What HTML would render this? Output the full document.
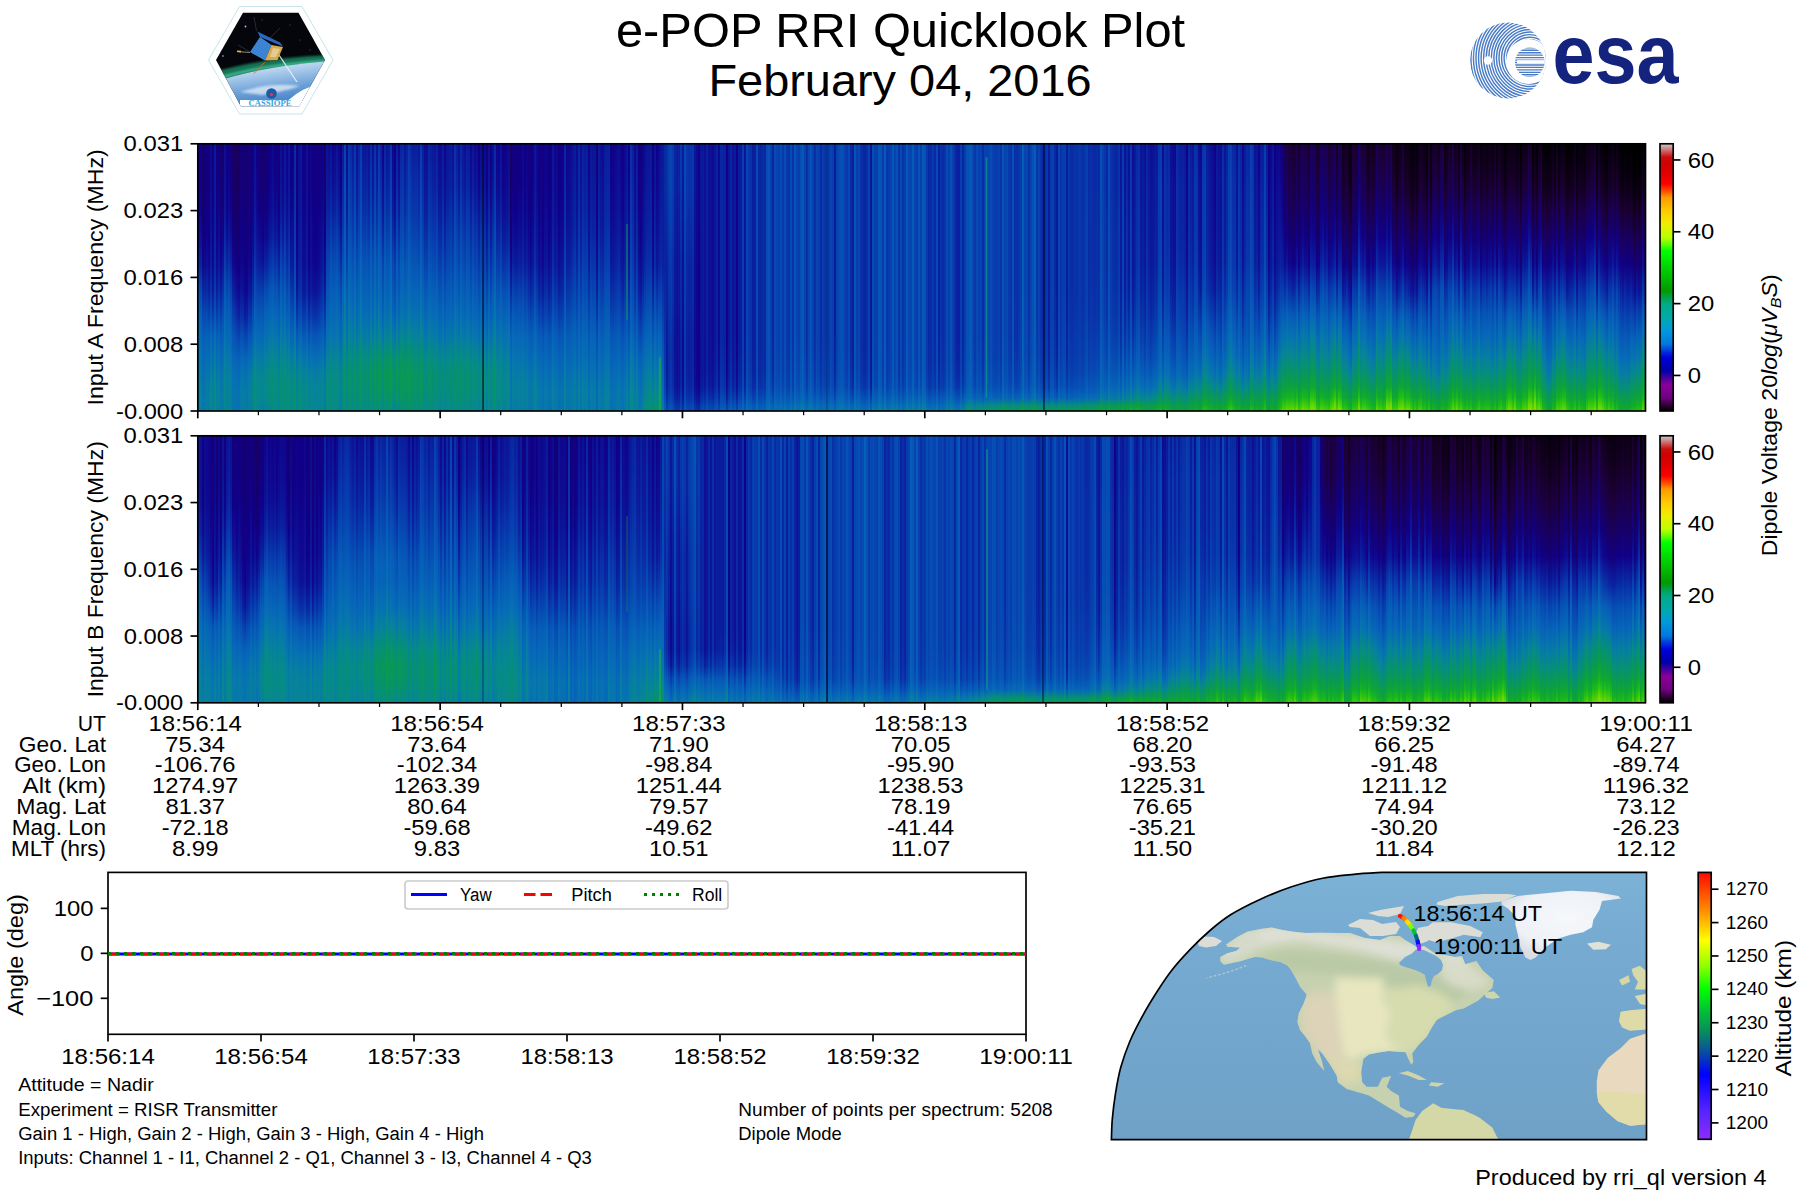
<!DOCTYPE html>
<html><head><meta charset="utf-8"><title>e-POP RRI Quicklook Plot</title><style>html,body{margin:0;padding:0;background:#fff;overflow:hidden;width:1800px;height:1200px;}#pg{position:relative;width:1800px;height:1200px;background:#fff;}.sp{position:absolute;overflow:hidden;}.sp i{position:absolute;top:0;bottom:0;display:block;}svg{position:absolute;left:0;top:0;display:block;}text{font-family:"Liberation Sans",sans-serif;}</style></head><body><div id="pg"><div class="sp" style="left:197.8px;top:143.8px;width:1447.7px;height:267.2px"><i style="left:0.0px;width:2.5px;background:linear-gradient(#100088,#100088 8%,#100088 16%,#10028b 25%,#0d0f93 35%,#0926a2 45%,#064eb4 55%,#0661b8 64%,#066cb5 72%,#0675af 80%,#067aa7 86%,#067ea2 91%,#067fa0 95%,#067fa0 98%,#067fa0)"></i><i style="left:2.0px;width:2.5px;background:linear-gradient(#10008a,#10008a 8%,#10018a 16%,#0f048d 25%,#0d1094 35%,#0924a1 45%,#0649b2 55%,#065fb8 64%,#066cb6 72%,#0675af 80%,#067ba6 86%,#067fa0 91%,#06819e 95%,#06819e 98%,#06819e)"></i><i style="left:4.0px;width:2.5px;background:linear-gradient(#16006b,#16006b 8%,#16006c 16%,#150070 25%,#12007d 35%,#0f078e 45%,#0928a3 55%,#0649b2 64%,#065fb8 72%,#0667b8 80%,#066eb4 86%,#0672b1 91%,#0674b0 95%,#0674b0 98%,#0674b0)"></i><i style="left:6.0px;width:2.5px;background:linear-gradient(#140074,#140074 8%,#140075 16%,#130079 25%,#110085 35%,#0e0b91 45%,#0929a3 55%,#064ab2 64%,#0660b8 72%,#066ab7 80%,#0672b2 86%,#0676ad 91%,#0678aa 95%,#0678aa 98%,#0678aa)"></i><i style="left:8.0px;width:2.5px;background:linear-gradient(#12007e,#12007e 8%,#12007f 16%,#110083 25%,#0f038c 35%,#0d0f94 45%,#092ba4 55%,#064bb3 64%,#0662b8 72%,#066db4 80%,#0676ae 86%,#067ba6 91%,#067da4 95%,#067da4 98%,#067da4)"></i><i style="left:10.0px;width:2.5px;background:linear-gradient(#13007b,#13007b 8%,#13007c 16%,#120080 25%,#100089 35%,#0e0990 45%,#0a209e 55%,#0743b0 64%,#0660b8 72%,#066bb6 80%,#0674b0 86%,#067aa8 91%,#067ca5 95%,#067ca5 98%,#067ca5)"></i><i style="left:12.0px;width:2.5px;background:linear-gradient(#0e0a90,#0e0a90 8%,#0e0a91 16%,#0d0e93 25%,#0c1396 35%,#0a1b9b 45%,#0833a9 55%,#0650b5 64%,#0668b8 72%,#0676ad 80%,#067fa0 86%,#068596 91%,#068791 95%,#068791 98%,#068791)"></i><i style="left:14.0px;width:2.5px;background:linear-gradient(#110084,#110084 8%,#110085 16%,#100089 25%,#0f048c 35%,#0e0990 45%,#0b199a 55%,#083dae 64%,#065fb8 72%,#066db5 80%,#0677ab 86%,#067ea2 91%,#06809e 95%,#06809e 98%,#06809e)"></i><i style="left:16.0px;width:2.5px;background:linear-gradient(#0b199a,#0b199a 8%,#0a1a9b 16%,#0a1e9d 25%,#0923a0 35%,#0929a4 45%,#083cad 55%,#0656b6 64%,#066db4 72%,#067da3 80%,#068692 86%,#068b86 91%,#068c82 95%,#068c82 98%,#068c82)"></i><i style="left:18.0px;width:2.5px;background:linear-gradient(#12007d,#12007e 8%,#12007f 16%,#110084 25%,#10028b 35%,#0e0a90 45%,#0a1c9c 55%,#073eae 64%,#065fb8 72%,#066cb5 80%,#0676ad 86%,#067ca5 91%,#067ea1 95%,#067ea1 98%,#067ea1)"></i><i style="left:20.0px;width:2.5px;background:linear-gradient(#100088,#100089 8%,#10018b 16%,#0f068e 25%,#0d0e93 35%,#0b189a 45%,#0931a8 55%,#064eb4 64%,#0664b8 72%,#0672b1 80%,#067ca5 86%,#06819d 91%,#068399 95%,#068399 98%,#068399)"></i><i style="left:22.0px;width:2.5px;background:linear-gradient(#16006a,#16006c 8%,#15006e 16%,#140075 25%,#120081 35%,#0f078e 45%,#0a1e9d 55%,#073faf 64%,#065bb7 72%,#0668b8 80%,#0670b2 86%,#0675ae 91%,#0677ab 95%,#0677ab 98%,#0677ab)"></i><i style="left:24.0px;width:2.5px;background:linear-gradient(#140074,#140076 8%,#130079 16%,#120081 25%,#0f048d 35%,#0c1597 45%,#0832a9 55%,#064eb4 64%,#0661b8 72%,#066db4 80%,#0676ae 86%,#067aa7 91%,#067ca5 95%,#067ca5 98%,#067ca5)"></i><i style="left:26.0px;width:2.5px;background:linear-gradient(#0d0d92,#0d1094 8%,#0c1396 16%,#0b199a 25%,#0928a3 35%,#073eae 45%,#0656b6 55%,#0665b8 64%,#0673b1 72%,#067fa0 80%,#068693 86%,#06898c 91%,#068a89 95%,#068a89 98%,#068a89)"></i><i style="left:28.0px;width:2.5px;background:linear-gradient(#13007a,#12007e 8%,#110082 16%,#10018a 25%,#0d0f94 35%,#0928a3 45%,#0748b2 55%,#065db8 64%,#0667b8 72%,#0673b1 80%,#067ba7 86%,#067ea2 91%,#067fa0 95%,#067fa0 98%,#067fa0)"></i><i style="left:30.0px;width:2.5px;background:linear-gradient(#100088,#10018b 8%,#0f058d 16%,#0e0b91 25%,#0b199a 35%,#0832a8 45%,#064eb4 55%,#0660b8 64%,#066bb6 72%,#0678ab 80%,#06809f 86%,#068399 91%,#068496 95%,#068496 98%,#068496)"></i><i style="left:32.0px;width:2.5px;background:linear-gradient(#120081,#110084 8%,#100087 16%,#0f048d 25%,#0c1195 35%,#0925a1 45%,#0742b0 55%,#0658b6 64%,#0665b8 72%,#0673b1 80%,#067ca5 86%,#06809f 91%,#06819c 95%,#06819c 98%,#06819c)"></i><i style="left:34.0px;width:2.5px;background:linear-gradient(#170066,#160068 8%,#16006b 16%,#140072 25%,#120081 35%,#0e0a90 45%,#0a23a0 55%,#0740af 64%,#0656b6 72%,#0666b8 80%,#0670b3 86%,#0674b0 91%,#0676ad 95%,#0676ad 98%,#0676ad)"></i><i style="left:36.0px;width:2.5px;background:linear-gradient(#170065,#170067 8%,#160069 16%,#150070 25%,#12007d 35%,#0f048d 45%,#0a1a9b 55%,#0838ac 64%,#0652b5 72%,#0665b8 80%,#066eb4 86%,#0673b1 91%,#0675ae 95%,#0675ae 98%,#0675ae)"></i><i style="left:38.0px;width:2.5px;background:linear-gradient(#19005f,#180060 8%,#180062 16%,#160069 25%,#140074 35%,#110084 45%,#0d0f94 55%,#092aa4 64%,#0649b2 72%,#0661b8 80%,#066bb6 86%,#0670b3 91%,#0672b1 95%,#0672b1 98%,#0672b1)"></i><i style="left:40.0px;width:2.5px;background:linear-gradient(#18005f,#180061 8%,#180062 16%,#170068 25%,#150072 35%,#12007f 45%,#0e0990 55%,#0a229f 64%,#0744b0 72%,#0660b8 80%,#066ab6 86%,#0670b3 91%,#0672b1 95%,#0672b1 98%,#0672b1)"></i><i style="left:42.0px;width:2.5px;background:linear-gradient(#140075,#140076 8%,#130078 16%,#12007d 25%,#110085 35%,#0f058d 45%,#0c1497 55%,#092fa7 64%,#064fb4 72%,#0666b8 80%,#0673b1 86%,#0679a9 91%,#067ba6 95%,#067ba6 98%,#067ba6)"></i><i style="left:44.0px;width:2.5px;background:linear-gradient(#13007c,#12007d 8%,#12007e 16%,#110082 25%,#100089 35%,#0f058d 45%,#0c1396 55%,#092da6 64%,#064fb4 72%,#0667b8 80%,#0675af 86%,#067ba6 91%,#067ea2 95%,#067ea2 98%,#067ea2)"></i><i style="left:46.0px;width:2.5px;background:linear-gradient(#140073,#140073 8%,#140074 16%,#130078 25%,#12007d 35%,#110082 45%,#0f068e 55%,#0a1c9c 64%,#0743b0 72%,#0663b8 80%,#0670b2 86%,#0677ac 91%,#067aa8 95%,#067aa8 98%,#067aa8)"></i><i style="left:48.0px;width:2.5px;background:linear-gradient(#15006f,#15006f 8%,#150070 16%,#140075 25%,#13007b 35%,#110082 45%,#0e078f 55%,#0a209e 64%,#0745b1 72%,#0664b8 80%,#0671b2 86%,#0677ac 91%,#0679a8 95%,#0679a9 98%,#0679a9)"></i><i style="left:50.0px;width:2.5px;background:linear-gradient(#13007b,#13007c 8%,#12007d 16%,#110082 25%,#10008a 35%,#0e078f 45%,#0b1899 55%,#0835aa 64%,#0654b5 72%,#066bb6 80%,#0679aa 86%,#067fa1 91%,#06809e 95%,#067fa0 98%,#067fa1)"></i><i style="left:52.0px;width:2.5px;background:linear-gradient(#150071,#140072 8%,#140074 16%,#13007a 25%,#110083 35%,#0f048c 45%,#0b1698 55%,#0835aa 64%,#0653b5 72%,#066ab7 80%,#0677ac 86%,#067da4 91%,#067ea2 95%,#067ca4 98%,#067ba5)"></i><i style="left:54.0px;width:2.5px;background:linear-gradient(#110083,#110084 8%,#110086 16%,#10028b 25%,#0e0a90 35%,#0c1597 45%,#092ea6 55%,#064ab3 64%,#0661b8 72%,#0674b0 80%,#06819e 86%,#068594 91%,#068693 95%,#068496 98%,#068399)"></i><i style="left:56.0px;width:2.5px;background:linear-gradient(#0c1095,#0c1296 8%,#0c1497 16%,#0b199a 25%,#0923a0 35%,#0834a9 45%,#064cb3 55%,#0660b8 64%,#066fb3 72%,#06839a 80%,#068c84 86%,#068e7b 91%,#068e7b 95%,#068d7f 98%,#068c82)"></i><i style="left:58.0px;width:2.5px;background:linear-gradient(#100089,#10018b 8%,#0f038c 16%,#0e088f 25%,#0c1396 35%,#0a23a0 45%,#0741af 55%,#065ab7 64%,#066ab7 72%,#067da4 80%,#068790 86%,#068b88 91%,#068a88 95%,#06888e 98%,#068791)"></i><i style="left:60.0px;width:2.5px;background:linear-gradient(#13007c,#12007e 8%,#120082 16%,#100089 25%,#0e0b91 35%,#0a1b9c 45%,#073eae 55%,#0658b6 64%,#0668b8 72%,#067ba7 80%,#068595 86%,#06888e 91%,#06888f 95%,#068595 98%,#068399)"></i><i style="left:62.0px;width:2.5px;background:linear-gradient(#140075,#130078 8%,#13007b 16%,#110083 25%,#0e088f 35%,#0a1a9b 45%,#073faf 55%,#065ab7 64%,#0669b7 72%,#067ba6 80%,#068496 86%,#06888f 91%,#068791 95%,#068398 98%,#06819c)"></i><i style="left:64.0px;width:2.5px;background:linear-gradient(#170066,#160069 8%,#16006d 16%,#140075 25%,#110087 35%,#0c1296 45%,#083aad 55%,#0657b6 64%,#0667b8 72%,#0677ab 80%,#06819d 86%,#068496 91%,#068399 95%,#067fa0 98%,#067ca5)"></i><i style="left:66.0px;width:2.5px;background:linear-gradient(#140074,#130078 8%,#12007c 16%,#110085 25%,#0e0b91 35%,#0a23a0 45%,#064cb3 55%,#0662b8 64%,#0671b2 72%,#06819e 80%,#06888d 86%,#068b87 91%,#068a8b 95%,#068594 98%,#06839a)"></i><i style="left:68.0px;width:2.5px;background:linear-gradient(#150071,#140075 8%,#130079 16%,#110082 25%,#0e0990 35%,#0a209e 45%,#0649b2 55%,#0661b8 64%,#066fb3 72%,#067fa0 80%,#068790 86%,#068a8a 91%,#06888e 95%,#068496 98%,#06819c)"></i><i style="left:70.0px;width:2.5px;background:linear-gradient(#120080,#110084 8%,#100088 16%,#0f068e 25%,#0c1497 35%,#092fa7 45%,#0652b5 55%,#0665b8 64%,#0675af 72%,#068497 80%,#068b86 86%,#068d80 91%,#068c83 95%,#06898c 98%,#068791)"></i><i style="left:72.0px;width:2.5px;background:linear-gradient(#10008a,#0f038c 8%,#0f068e 16%,#0d0d92 25%,#0a1c9c 35%,#0838ac 45%,#0657b6 55%,#0668b8 64%,#0678ab 72%,#068691 80%,#068d81 86%,#068e7b 91%,#068d7d 95%,#068b85 98%,#068a8a)"></i><i style="left:74.0px;width:2.5px;background:linear-gradient(#0f078e,#0e0a90 8%,#0d0d92 16%,#0c1497 25%,#0924a1 35%,#073fae 45%,#065bb7 55%,#066bb6 64%,#067ba6 72%,#06898c 80%,#068e7b 86%,#069075 91%,#068f77 95%,#068d7f 98%,#068c83)"></i><i style="left:76.0px;width:2.5px;background:linear-gradient(#110084,#100088 8%,#10028b 16%,#0e0990 25%,#0b1899 35%,#0833a9 45%,#0653b5 55%,#0665b8 64%,#0674b0 72%,#068498 80%,#068b87 86%,#068c81 91%,#068c83 95%,#068a8a 98%,#06888e)"></i><i style="left:78.0px;width:2.5px;background:linear-gradient(#100089,#10028b 8%,#0f058d 16%,#0d0c92 25%,#0a1b9b 35%,#0837ab 45%,#0654b6 55%,#0666b8 64%,#0675ae 72%,#068496 80%,#068b85 86%,#068d7f 91%,#068d81 95%,#068b87 98%,#068a8b)"></i><i style="left:80.0px;width:2.5px;background:linear-gradient(#140073,#130077 8%,#13007c 16%,#110084 25%,#0e0b91 35%,#0a22a0 45%,#0746b1 55%,#065eb8 64%,#066cb5 72%,#067ca5 80%,#068496 86%,#068790 91%,#068791 95%,#068497 98%,#06829a)"></i><i style="left:82.0px;width:2.5px;background:linear-gradient(#0d0f94,#0c1296 8%,#0b1598 16%,#0a1c9c 25%,#092fa7 35%,#0747b1 45%,#065eb8 55%,#066cb5 64%,#067ca4 72%,#068a89 80%,#068f78 86%,#069172 91%,#069073 95%,#068f78 98%,#068e7b)"></i><i style="left:84.0px;width:2.5px;background:linear-gradient(#10028b,#0f048d 8%,#0e088f 16%,#0d0e93 25%,#0a1d9d 35%,#0838ac 45%,#0653b5 55%,#0664b8 64%,#0674b0 72%,#068398 80%,#068b87 86%,#068d81 91%,#068c81 95%,#068b86 98%,#068a89)"></i><i style="left:86.0px;width:2.5px;background:linear-gradient(#0b1698,#0b199a 8%,#0a1c9c 16%,#0924a0 25%,#0834aa 35%,#0748b2 45%,#065db8 55%,#066bb6 64%,#067ca5 72%,#068b88 80%,#069075 86%,#07926e 91%,#07926e 95%,#069072 98%,#069075)"></i><i style="left:88.0px;width:2.5px;background:linear-gradient(#0f028c,#0f058d 8%,#0e078f 16%,#0d0d92 25%,#0b199a 35%,#092ea6 45%,#0748b2 55%,#065eb8 64%,#066eb4 72%,#06809f 80%,#06898c 86%,#068c84 91%,#068c83 95%,#068b87 98%,#068a89)"></i><i style="left:90.0px;width:2.5px;background:linear-gradient(#0c1497,#0b1598 8%,#0b1899 16%,#0a1d9d 25%,#092ba4 35%,#083dae 45%,#0652b5 55%,#0663b8 64%,#0674b0 72%,#068692 80%,#068d7e 86%,#069075 91%,#069074 95%,#068f77 98%,#068f79)"></i><i style="left:92.0px;width:2.5px;background:linear-gradient(#110087,#100089 8%,#10018b 16%,#0f068e 25%,#0d1094 35%,#0a1d9d 45%,#0837ac 55%,#0652b5 64%,#0666b8 72%,#067aa8 80%,#068595 86%,#06898d 91%,#068a8b 95%,#06888d 98%,#06888f)"></i><i style="left:94.0px;width:2.5px;background:linear-gradient(#10008a,#10018b 8%,#0f038c 16%,#0e088f 25%,#0d1094 35%,#0a1b9b 45%,#0832a9 55%,#064eb4 64%,#0665b8 72%,#0679a9 80%,#068496 86%,#06898d 91%,#068a8a 95%,#06898c 98%,#06898d)"></i><i style="left:96.0px;width:2.5px;background:linear-gradient(#092ba4,#092ca5 8%,#092da6 16%,#0833a9 25%,#083bad 35%,#0744b0 45%,#0652b5 55%,#0663b8 64%,#0676ad 72%,#068a8a 80%,#069072 86%,#079368 91%,#079465 95%,#079466 98%,#079467)"></i><i style="left:98.0px;width:2.5px;background:linear-gradient(#12007d,#12007e 8%,#12007f 16%,#110084 25%,#10018b 35%,#0e098f 45%,#0b1799 55%,#0837ac 64%,#065ab7 72%,#066fb3 80%,#067da3 86%,#06839a 91%,#068496 95%,#068497 98%,#068497)"></i><i style="left:100.0px;width:2.5px;background:linear-gradient(#0d0d93,#0d0e93 8%,#0d0e93 16%,#0c1295 25%,#0b1698 35%,#0a1b9b 45%,#092ba4 55%,#0747b2 64%,#0663b8 72%,#0679a8 80%,#068691 86%,#068b86 91%,#068c81 95%,#068c82 98%,#068c82)"></i><i style="left:102.0px;width:2.5px;background:linear-gradient(#0b1799,#0b1799 8%,#0b1799 16%,#0a1a9b 25%,#0a1f9e 35%,#0923a0 45%,#0832a8 55%,#064db3 64%,#0666b8 72%,#067da3 80%,#068a8a 86%,#068d7e 91%,#068f79 95%,#068f79 98%,#068f79)"></i><i style="left:104.0px;width:2.5px;background:linear-gradient(#10018a,#10018a 8%,#10018b 16%,#0f048d 25%,#0e088f 35%,#0d0c92 45%,#0b1899 55%,#0837ab 64%,#065ab7 72%,#0671b2 80%,#06809f 86%,#068693 91%,#06888f 95%,#06888f 98%,#06888f)"></i><i style="left:106.0px;width:2.5px;background:linear-gradient(#10018a,#10018a 8%,#10018b 16%,#0f048d 25%,#0e088f 35%,#0d0c92 45%,#0b1899 55%,#0838ac 64%,#065ab7 72%,#0671b2 80%,#06809f 86%,#068693 91%,#06888f 95%,#06888f 98%,#06888f)"></i><i style="left:108.0px;width:2.5px;background:linear-gradient(#0d0f94,#0d0f94 8%,#0d1094 16%,#0c1396 25%,#0b1799 35%,#0a1a9b 45%,#092aa4 55%,#0747b1 64%,#0662b8 72%,#0679a9 80%,#068791 86%,#068b85 91%,#068d80 95%,#068d80 98%,#068d80)"></i><i style="left:110.0px;width:2.5px;background:linear-gradient(#12007e,#12007e 8%,#12007e 16%,#110083 25%,#100088 35%,#10028b 45%,#0d0f94 55%,#092ca5 64%,#0653b5 72%,#066cb5 80%,#067ba7 86%,#06819d 91%,#068398 95%,#068398 98%,#068398)"></i><i style="left:112.0px;width:2.5px;background:linear-gradient(#0f048d,#0f048d 8%,#0f058d 16%,#0e088f 25%,#0d0c92 35%,#0d1094 45%,#0a1d9d 55%,#083dae 64%,#065db8 72%,#0673b0 80%,#06829b 86%,#068790 91%,#06898b 95%,#06898b 98%,#06898b)"></i><i style="left:114.0px;width:2.5px;background:linear-gradient(#110084,#110084 8%,#110085 16%,#100089 25%,#0f038c 35%,#0f078e 45%,#0c1597 55%,#0834a9 64%,#0657b6 72%,#066fb4 80%,#067da3 86%,#068398 91%,#068693 95%,#068693 98%,#068693)"></i><i style="left:116.0px;width:2.5px;background:linear-gradient(#120080,#120080 8%,#120080 16%,#110084 25%,#100089 35%,#0f038c 45%,#0c1195 55%,#092fa7 64%,#0654b6 72%,#066db5 80%,#067ba6 86%,#06829b 91%,#068497 95%,#068497 98%,#068497)"></i><i style="left:118.0px;width:2.5px;background:linear-gradient(#110082,#110082 8%,#110083 16%,#110087 25%,#10018b 35%,#0f058d 45%,#0c1497 55%,#0832a9 64%,#0656b6 72%,#066eb4 80%,#067ca4 86%,#06839a 91%,#068595 95%,#068595 98%,#068595)"></i><i style="left:120.0px;width:2.5px;background:linear-gradient(#110084,#110084 8%,#110085 16%,#10008a 25%,#0f058d 35%,#0e0a90 45%,#0b199a 55%,#0838ac 64%,#0658b7 72%,#066fb3 80%,#067ea2 86%,#068498 91%,#068693 95%,#068693 98%,#068594)"></i><i style="left:122.0px;width:2.5px;background:linear-gradient(#110083,#110085 8%,#110087 16%,#0f038c 25%,#0e0990 35%,#0c1095 45%,#0a229f 55%,#0740af 64%,#065cb8 72%,#0671b2 80%,#067fa1 86%,#068496 91%,#068693 95%,#068594 98%,#068594)"></i><i style="left:124.0px;width:2.5px;background:linear-gradient(#110087,#10008a 8%,#10028b 16%,#0e0990 25%,#0c1195 35%,#0a1b9b 45%,#0930a8 55%,#064ab3 64%,#0661b8 72%,#0675af 80%,#06829c 86%,#068692 91%,#06888f 95%,#068790 98%,#068791)"></i><i style="left:126.0px;width:2.5px;background:linear-gradient(#170066,#16006a 8%,#15006e 16%,#130078 25%,#110086 35%,#0e0990 45%,#0a1b9b 55%,#0839ac 64%,#0655b6 72%,#0669b7 80%,#0676ae 86%,#067ba6 91%,#067ca5 95%,#067ba6 98%,#067aa7)"></i><i style="left:128.0px;width:2.5px;background:linear-gradient(#0c1295,#0b1598 8%,#0b199a 16%,#0924a1 25%,#0834aa 35%,#0743b0 45%,#0654b5 55%,#0662b8 64%,#0671b2 72%,#068398 80%,#068c84 86%,#068e7b 91%,#068f79 95%,#068e7c 98%,#068d7e)"></i><i style="left:130.0px;width:2.5px;background:linear-gradient(#0d0c92,#0c1195 8%,#0b1698 16%,#0a219f 25%,#0833a9 35%,#0745b1 45%,#0656b6 55%,#0664b8 64%,#0671b2 72%,#06839a 80%,#068b86 86%,#068d7f 91%,#068d7e 95%,#068c81 98%,#068c83)"></i><i style="left:132.0px;width:2.5px;background:linear-gradient(#0c1396,#0b1899 8%,#0a1e9d 16%,#092da6 25%,#0740af 35%,#0652b5 45%,#0660b8 55%,#066ab6 64%,#0678ab 72%,#068790 80%,#068d7d 86%,#068f76 91%,#068f76 95%,#068e7a 98%,#068e7d)"></i><i style="left:134.0px;width:2.5px;background:linear-gradient(#0f038c,#0e0990 8%,#0d1094 16%,#0a1d9d 25%,#0834aa 35%,#064bb3 45%,#065cb7 55%,#0667b8 64%,#0672b1 72%,#06829b 80%,#068a8a 86%,#068c84 91%,#068b85 95%,#068a89 98%,#06898c)"></i><i style="left:136.0px;width:2.5px;background:linear-gradient(#0e088f,#0d0d93 8%,#0c1497 16%,#0a229f 25%,#0838ac 35%,#064db4 45%,#065eb8 55%,#0668b8 64%,#0674b0 72%,#068398 80%,#068b88 86%,#068c83 91%,#068c84 95%,#068a88 98%,#06898b)"></i><i style="left:138.0px;width:2.5px;background:linear-gradient(#0c1296,#0b189a 8%,#0a1f9e 16%,#092da6 25%,#0740af 35%,#0653b5 45%,#0662b8 55%,#066db5 64%,#0679a9 72%,#068790 80%,#068d7f 86%,#068e7b 91%,#068e7d 95%,#068c82 98%,#068b85)"></i><i style="left:140.0px;width:2.5px;background:linear-gradient(#0f068e,#0d0c92 8%,#0c1296 16%,#0a1d9c 25%,#0931a8 35%,#0747b1 45%,#065ab7 55%,#0666b8 64%,#0671b2 72%,#06819d 80%,#06888d 86%,#068a8a 91%,#06898c 95%,#068791 98%,#068594)"></i><i style="left:142.0px;width:2.5px;background:linear-gradient(#130079,#120081 8%,#100089 16%,#0e0990 25%,#0b1899 35%,#092fa7 45%,#064ab2 55%,#065cb7 64%,#0667b8 72%,#0676ad 80%,#067fa1 86%,#06809f 91%,#067fa1 95%,#067ca5 98%,#067aa7)"></i><i style="left:144.0px;width:2.5px;background:linear-gradient(#0b199a,#0a1f9e 8%,#0927a2 16%,#0931a8 25%,#0740af 35%,#0652b5 45%,#0662b8 55%,#066db4 64%,#0679a8 72%,#06888f 80%,#068d80 86%,#068d7f 91%,#068c81 95%,#068b86 98%,#068a89)"></i><i style="left:146.0px;width:2.5px;background:linear-gradient(#0740af,#0746b1 8%,#064cb3 16%,#0651b5 25%,#065bb7 35%,#0664b8 45%,#0672b2 55%,#067fa1 64%,#06898d 72%,#06916f 80%,#089561 86%,#089561 91%,#079464 95%,#079368 98%,#07926c)"></i><i style="left:148.0px;width:2.5px;background:linear-gradient(#0e0b91,#0c1195 8%,#0b1799 16%,#0a1e9d 25%,#092fa7 35%,#0743b0 45%,#0659b7 55%,#0665b8 64%,#0671b2 72%,#06819c 80%,#06888e 86%,#06888e 91%,#068691 95%,#068496 98%,#068399)"></i><i style="left:150.0px;width:2.5px;background:linear-gradient(#0834aa,#083bad 8%,#0741af 16%,#0748b2 25%,#0653b5 35%,#0660b8 45%,#066cb6 55%,#0679a9 64%,#068496 72%,#068f77 80%,#079368 86%,#079369 91%,#07926d 95%,#069172 98%,#069076)"></i><i style="left:152.0px;width:2.5px;background:linear-gradient(#0929a3,#0930a8 8%,#0838ac 16%,#073faf 25%,#064db4 35%,#065bb7 45%,#0667b8 55%,#0674b0 64%,#06819e 72%,#068d7f 80%,#06916f 86%,#069170 91%,#069074 95%,#068e7a 98%,#068d7e)"></i><i style="left:154.0px;width:2.5px;background:linear-gradient(#0b199a,#0a209e 8%,#0928a3 16%,#0831a8 25%,#0741af 35%,#0652b5 45%,#0661b8 55%,#066db5 64%,#067aa7 72%,#068a8a 80%,#068e7a 86%,#068e7b 91%,#068d80 95%,#068b86 98%,#068a8a)"></i><i style="left:156.0px;width:2.5px;background:linear-gradient(#0835aa,#083bad 8%,#0741af 16%,#0649b2 25%,#0655b6 35%,#0661b8 45%,#066cb5 55%,#0679a8 64%,#068693 72%,#069172 80%,#089561 86%,#089563 91%,#079368 95%,#06916f 98%,#069073)"></i><i style="left:158.0px;width:2.5px;background:linear-gradient(#0d0f94,#0b1598 8%,#0a1b9c 16%,#0925a1 25%,#0837ac 35%,#064bb3 45%,#065db8 55%,#0668b8 64%,#0675ae 72%,#068790 80%,#068d80 86%,#068c82 91%,#068b87 95%,#06888e 98%,#068692)"></i><i style="left:160.0px;width:2.5px;background:linear-gradient(#0a229f,#0929a3 8%,#0931a8 16%,#083aad 25%,#0649b2 35%,#0659b7 45%,#0665b8 55%,#0671b2 64%,#067fa0 72%,#068d7d 80%,#07926d 86%,#06916f 91%,#069075 95%,#068e7c 98%,#068d81)"></i><i style="left:162.0px;width:2.5px;background:linear-gradient(#0839ac,#073faf 8%,#0745b1 16%,#064db4 25%,#0658b7 35%,#0664b8 45%,#066fb4 55%,#067ca5 64%,#06888e 72%,#079369 80%,#09975a 86%,#08975c 91%,#089561 95%,#079368 98%,#07926d)"></i><i style="left:164.0px;width:2.5px;background:linear-gradient(#0b1799,#0a1e9d 8%,#0925a1 16%,#0930a8 25%,#0741af 35%,#0653b5 45%,#0661b8 55%,#066db5 64%,#067ba6 72%,#068c83 80%,#069172 86%,#069075 91%,#068e7c 95%,#068c83 98%,#068b88)"></i><i style="left:166.0px;width:2.5px;background:linear-gradient(#0b1698,#0a1b9c 8%,#0923a0 16%,#092ea6 25%,#0740af 35%,#0653b5 45%,#0660b8 55%,#066cb5 64%,#067aa7 72%,#068c83 80%,#069171 86%,#069075 91%,#068e7c 95%,#068c84 98%,#068a89)"></i><i style="left:168.0px;width:2.5px;background:linear-gradient(#0b199a,#0a1f9e 8%,#0927a2 16%,#0832a9 25%,#0743b0 35%,#0655b6 45%,#0662b8 55%,#066eb4 64%,#067da4 72%,#068d7e 80%,#07926c 86%,#069171 91%,#068f78 95%,#068d80 98%,#068b85)"></i><i style="left:170.0px;width:2.5px;background:linear-gradient(#0d1094,#0b1698 8%,#0a1c9c 16%,#0928a3 25%,#083bad 35%,#0650b4 45%,#065eb8 55%,#0669b7 64%,#0678aa 72%,#068b85 80%,#069073 86%,#068f77 91%,#068d7f 95%,#068b88 98%,#06898d)"></i><i style="left:172.0px;width:2.5px;background:linear-gradient(#092ba4,#0832a9 8%,#083aad 16%,#0743b0 25%,#0652b5 35%,#0660b8 45%,#0669b7 55%,#0676ad 64%,#068596 72%,#07926c 80%,#08975b 86%,#08965f 91%,#079466 95%,#06916f 98%,#069075)"></i><i style="left:174.0px;width:2.5px;background:linear-gradient(#0d0f93,#0c1597 8%,#0a1b9b 16%,#0927a2 25%,#083bad 35%,#0650b4 45%,#065eb8 55%,#0669b8 64%,#0678aa 72%,#068c83 80%,#069170 86%,#069075 91%,#068d7e 95%,#068b87 98%,#06898d)"></i><i style="left:176.0px;width:2.5px;background:linear-gradient(#0831a8,#0839ac 8%,#073faf 16%,#0649b2 25%,#0656b6 35%,#0663b8 45%,#066cb5 55%,#0679a9 64%,#06888f 72%,#089563 80%,#099955 86%,#099759 91%,#08965f 95%,#079368 98%,#07926e)"></i><i style="left:178.0px;width:2.5px;background:linear-gradient(#0c1296,#0b189a 8%,#0a1f9e 16%,#092ca5 25%,#073faf 35%,#0653b5 45%,#065fb8 55%,#066bb6 64%,#067ba6 72%,#068e7c 80%,#079368 86%,#07926e 91%,#068f77 95%,#068c82 98%,#068a89)"></i><i style="left:180.0px;width:2.5px;background:linear-gradient(#0834aa,#083bad 8%,#0741af 16%,#064bb3 25%,#0658b6 35%,#0664b8 45%,#066db4 55%,#067ba6 64%,#068a8b 72%,#08965e 80%,#0a9a51 86%,#099955 91%,#08975b 95%,#079464 98%,#07926c)"></i><i style="left:182.0px;width:2.5px;background:linear-gradient(#0a209e,#0927a2 8%,#092fa7 16%,#083bad 25%,#064bb3 35%,#065cb8 45%,#0665b8 55%,#0672b1 64%,#068399 72%,#07926c 80%,#09975a 86%,#08965e 91%,#079368 95%,#069074 98%,#068e7c)"></i><i style="left:184.0px;width:2.5px;background:linear-gradient(#10018b,#0e078f 8%,#0d0e93 16%,#0b1899 25%,#092ca5 35%,#0744b0 45%,#0654b6 55%,#0663b8 64%,#0674b0 72%,#068b87 80%,#069172 86%,#068f78 91%,#068c83 95%,#068790 98%,#068398)"></i><i style="left:186.0px;width:2.5px;background:linear-gradient(#0924a0,#092ba5 8%,#0833a9 16%,#073eae 25%,#064eb4 35%,#065eb8 45%,#0667b8 55%,#0674b0 64%,#068594 72%,#079465 80%,#099955 86%,#099759 91%,#089562 95%,#069170 98%,#068f79)"></i><i style="left:188.0px;width:2.5px;background:linear-gradient(#0c1497,#0a1a9b 8%,#0a229f 16%,#092ea6 25%,#0741af 35%,#0654b6 45%,#0660b8 55%,#066db5 64%,#067fa0 72%,#069171 80%,#08975c 86%,#089561 91%,#07926e 95%,#068e7d 98%,#068b87)"></i><i style="left:190.0px;width:2.5px;background:linear-gradient(#0b1899,#0a1e9d 8%,#0926a2 16%,#0833a9 25%,#0744b1 35%,#0657b6 45%,#0662b8 55%,#066fb3 64%,#06829c 72%,#07926b 80%,#099858 86%,#08965c 91%,#079368 95%,#068f78 98%,#068c83)"></i><i style="left:192.0px;width:2.5px;background:linear-gradient(#0832a9,#0839ad 8%,#0740af 16%,#064ab2 25%,#0657b6 35%,#0663b8 45%,#066db5 55%,#067ba6 64%,#068b86 72%,#099858 80%,#0b9d4a 86%,#0a9b4d 91%,#099856 95%,#089562 98%,#07926d)"></i><i style="left:194.0px;width:2.5px;background:linear-gradient(#0f058d,#0e0b91 8%,#0c1195 16%,#0a1b9b 25%,#0930a7 35%,#0748b2 45%,#0657b6 55%,#0666b8 64%,#0679a9 72%,#068e7b 80%,#079464 86%,#07936a 91%,#068f78 95%,#068a8a 98%,#068595)"></i><i style="left:196.0px;width:2.5px;background:linear-gradient(#120082,#10008a 8%,#0f068e 16%,#0d1094 25%,#0a229f 35%,#083dae 45%,#064fb4 55%,#0661b8 64%,#0674b0 72%,#068c84 80%,#07926c 86%,#069073 91%,#068c81 95%,#068594 98%,#0680a0)"></i><i style="left:198.0px;width:2.5px;background:linear-gradient(#0a1e9d,#0926a2 8%,#092ea6 16%,#0839ad 25%,#064ab2 35%,#065bb7 45%,#0664b8 55%,#0673b1 64%,#068594 72%,#089562 80%,#0a9952 86%,#099855 91%,#08965f 95%,#069171 98%,#068d7d)"></i><i style="left:200.0px;width:2.5px;background:linear-gradient(#0e078f,#0d0d93 8%,#0c1497 16%,#0a1e9d 25%,#0832a8 35%,#0649b2 45%,#0658b7 55%,#0667b8 64%,#067aa7 72%,#068e7a 80%,#089563 86%,#079369 91%,#068f76 95%,#068b88 98%,#068693)"></i><i style="left:202.0px;width:2.5px;background:linear-gradient(#0923a0,#092ba4 8%,#0832a9 16%,#083dae 25%,#064cb3 35%,#065cb8 45%,#0666b8 55%,#0675af 64%,#068692 72%,#089562 80%,#0a9952 86%,#099855 91%,#08965e 95%,#07926e 98%,#068f79)"></i><i style="left:204.0px;width:2.5px;background:linear-gradient(#0928a3,#092fa7 8%,#0837ab 16%,#0740af 25%,#064fb4 35%,#065eb8 45%,#0668b8 55%,#0676ad 64%,#06888f 72%,#089560 80%,#0a9a52 86%,#099954 91%,#08975c 95%,#07926b 98%,#069076)"></i><i style="left:206.0px;width:2.5px;background:linear-gradient(#0c1497,#0a1a9b 8%,#0a219f 16%,#092ca5 25%,#073eae 35%,#0651b5 45%,#0660b8 55%,#066db5 64%,#067fa0 72%,#069074 80%,#08965e 86%,#089562 91%,#07926e 95%,#068e7d 98%,#068b87)"></i><i style="left:208.0px;width:2.5px;background:linear-gradient(#0a209e,#0928a3 8%,#092fa7 16%,#083aad 25%,#0748b2 35%,#0659b7 45%,#0665b8 55%,#0673b1 64%,#068496 72%,#07936a 80%,#099859 86%,#08975b 91%,#079464 95%,#069172 98%,#068e7c)"></i><i style="left:210.0px;width:2.5px;background:linear-gradient(#0835aa,#083cad 8%,#0742af 16%,#064ab2 25%,#0655b6 35%,#0662b8 45%,#066db5 55%,#067ca5 64%,#068b87 72%,#08965d 80%,#0a9a50 86%,#0a9a52 91%,#099858 95%,#089562 98%,#07926b)"></i><i style="left:212.0px;width:2.5px;background:linear-gradient(#0927a2,#092ea6 8%,#0836ab 16%,#073eae 25%,#064cb3 35%,#065bb7 45%,#0667b8 55%,#0675ae 64%,#068693 72%,#07936a 80%,#099859 86%,#09975a 91%,#089561 95%,#07926e 98%,#068f77)"></i><i style="left:214.0px;width:2.5px;background:linear-gradient(#0a1c9c,#0a23a0 8%,#092ba4 16%,#0834aa 25%,#0743b0 35%,#0654b5 45%,#0662b8 55%,#0670b2 64%,#06819c 72%,#069074 80%,#089561 86%,#089562 91%,#07926b 95%,#068f77 98%,#068d7f)"></i><i style="left:216.0px;width:2.5px;background:linear-gradient(#0a1f9d,#0926a2 8%,#092ea6 16%,#0837ab 25%,#0745b1 35%,#0655b6 45%,#0663b8 55%,#0672b2 64%,#06829b 72%,#069074 80%,#089561 86%,#089562 91%,#07936a 95%,#069075 98%,#068e7d)"></i><i style="left:218.0px;width:2.5px;background:linear-gradient(#0a1f9e,#0926a2 8%,#092ea6 16%,#0837ab 25%,#0744b0 35%,#0655b6 45%,#0663b8 55%,#0671b2 64%,#06829c 72%,#068f76 80%,#089563 86%,#079464 91%,#07926b 95%,#069076 98%,#068e7d)"></i><i style="left:220.0px;width:2.5px;background:linear-gradient(#0b189a,#0a1f9e 8%,#0927a2 16%,#092fa7 25%,#073eae 35%,#0650b4 45%,#0661b8 55%,#066eb4 64%,#067ea1 72%,#068d7e 80%,#07926b 86%,#07926b 91%,#069172 95%,#068e7c 98%,#068c82)"></i><i style="left:222.0px;width:2.5px;background:linear-gradient(#083aad,#0740af 8%,#0746b1 16%,#064cb3 25%,#0656b6 35%,#0661b8 45%,#066eb4 55%,#067da3 64%,#068a88 72%,#079464 80%,#099856 86%,#099856 91%,#09975a 95%,#089561 98%,#079367)"></i><i style="left:224.0px;width:2.5px;background:linear-gradient(#0a1d9c,#0924a0 8%,#092ba5 16%,#0834aa 25%,#0742af 35%,#0652b5 45%,#0662b8 55%,#0670b3 64%,#06809f 72%,#068e7c 80%,#079369 86%,#079369 91%,#069170 95%,#068f79 98%,#068d7f)"></i><i style="left:226.0px;width:2.5px;background:linear-gradient(#0e0b91,#0c1195 8%,#0b1698 16%,#0a1e9d 25%,#092ea6 35%,#0742b0 45%,#0658b6 55%,#0666b8 64%,#0676ad 72%,#06888d 80%,#068e7b 86%,#068e7b 91%,#068c82 95%,#068a8b 98%,#068791)"></i><i style="left:228.0px;width:2.5px;background:linear-gradient(#0d0c92,#0c1295 8%,#0b1799 16%,#0a1f9e 25%,#0930a7 35%,#0743b0 45%,#0658b7 55%,#0667b8 64%,#0676ad 72%,#06898d 80%,#068e7b 86%,#068e7b 91%,#068c81 95%,#068a8a 98%,#068790)"></i><i style="left:230.0px;width:2.5px;background:linear-gradient(#0a23a0,#0929a4 8%,#0930a7 16%,#0839ac 25%,#0746b1 35%,#0655b6 45%,#0663b8 55%,#0671b2 64%,#06819d 72%,#068f79 80%,#079467 86%,#079467 91%,#07926d 95%,#068f77 98%,#068e7d)"></i><i style="left:232.0px;width:2.5px;background:linear-gradient(#0a1d9d,#0923a0 8%,#092aa4 16%,#0834a9 25%,#0741af 35%,#0651b5 45%,#0661b8 55%,#066eb4 64%,#067ea1 72%,#068d7e 80%,#07926c 86%,#07926c 91%,#069072 95%,#068e7c 98%,#068c82)"></i><i style="left:234.0px;width:2.5px;background:linear-gradient(#0b1799,#0a1c9c 8%,#0a22a0 16%,#092ca5 25%,#083cad 35%,#064cb3 45%,#065eb8 55%,#066bb6 64%,#067ba6 72%,#068b85 80%,#069072 86%,#069072 91%,#068f79 95%,#068c82 98%,#068a88)"></i><i style="left:236.0px;width:2.5px;background:linear-gradient(#0b1698,#0a1b9b 8%,#0a209e 16%,#092ba4 25%,#083aad 35%,#064bb3 45%,#065db8 55%,#066ab7 64%,#067aa8 72%,#068b87 80%,#069074 86%,#069074 91%,#068e7b 95%,#068c84 98%,#068a8a)"></i><i style="left:238.0px;width:2.5px;background:linear-gradient(#0a1f9d,#0924a1 8%,#092aa4 16%,#0835aa 25%,#0742b0 35%,#0651b5 45%,#0661b8 55%,#066eb4 64%,#067ea2 72%,#068d7f 80%,#07926d 86%,#07926d 91%,#069073 95%,#068e7d 98%,#068c83)"></i><i style="left:240.0px;width:2.5px;background:linear-gradient(#0e0a90,#0d0e93 8%,#0c1296 16%,#0a1b9c 25%,#092ba5 35%,#073eae 45%,#0653b5 55%,#0663b8 64%,#0672b1 72%,#068594 80%,#068c82 86%,#068c82 91%,#068b88 95%,#068791 98%,#068497)"></i><i style="left:242.0px;width:2.5px;background:linear-gradient(#0e0a90,#0d0d93 8%,#0c1296 16%,#0a1b9b 25%,#092ba5 35%,#073eae 45%,#0653b5 55%,#0663b8 64%,#0672b1 72%,#068595 80%,#068c83 86%,#068c83 91%,#068a89 95%,#068692 98%,#068398)"></i><i style="left:244.0px;width:2.5px;background:linear-gradient(#0a1a9b,#0a1f9d 8%,#0924a1 16%,#0930a7 25%,#073eae 35%,#064eb4 45%,#065eb8 55%,#066bb6 64%,#067ba7 72%,#068b85 80%,#069073 86%,#069073 91%,#068f79 95%,#068c83 98%,#068a89)"></i><i style="left:246.0px;width:2.5px;background:linear-gradient(#0f058d,#0e088f 8%,#0d0c92 16%,#0b1698 25%,#0925a1 35%,#0838ac 45%,#064fb4 55%,#0660b8 64%,#066fb4 72%,#06829a 80%,#068a89 86%,#068a89 91%,#06888f 95%,#068398 98%,#06809e)"></i><i style="left:248.0px;width:2.5px;background:linear-gradient(#0c1497,#0b1799 8%,#0a1b9b 16%,#0927a2 25%,#0837ac 35%,#0747b1 45%,#0659b7 55%,#0667b8 64%,#0676ad 72%,#06898d 80%,#068e7b 86%,#068e7b 91%,#068c81 95%,#068a8b 98%,#068791)"></i><i style="left:250.0px;width:2.5px;background:linear-gradient(#0b1698,#0b199a 8%,#0a1d9c 16%,#0929a3 25%,#0839ac 35%,#0748b2 45%,#065ab7 55%,#0667b8 64%,#0677ac 72%,#06898c 80%,#068e7a 86%,#068e7a 91%,#068d80 95%,#068a8a 98%,#068790)"></i><i style="left:252.0px;width:2.5px;background:linear-gradient(#0a1b9b,#0a1e9d 8%,#0923a0 16%,#0930a7 25%,#073eae 35%,#064db4 45%,#065db8 55%,#0669b7 64%,#0679a8 72%,#068b87 80%,#069075 86%,#069075 91%,#068e7b 95%,#068b85 98%,#068a8b)"></i><i style="left:254.0px;width:2.5px;background:linear-gradient(#0d0f94,#0c1396 8%,#0b1798 16%,#0a22a0 25%,#0833a9 35%,#0743b0 45%,#0656b6 55%,#0664b8 64%,#0674b0 72%,#068691 80%,#068d7f 86%,#068d7f 91%,#068b86 95%,#06888f 98%,#068595)"></i><i style="left:256.0px;width:2.5px;background:linear-gradient(#092fa7,#0833a9 8%,#0838ac 16%,#0743b0 25%,#064fb4 35%,#065ab7 45%,#0665b8 55%,#0673b1 64%,#06829a 72%,#068f76 80%,#079464 86%,#079464 91%,#07936a 95%,#069073 98%,#068e7a)"></i><i style="left:258.0px;width:2.5px;background:linear-gradient(#0a1e9d,#0a22a0 8%,#0928a3 16%,#0836ab 25%,#0743b0 35%,#0651b5 45%,#0660b8 55%,#066cb5 64%,#067ca4 72%,#068c82 80%,#069170 86%,#069170 91%,#068f76 95%,#068d80 98%,#068b86)"></i><i style="left:260.0px;width:2.5px;background:linear-gradient(#0d0f94,#0c1396 8%,#0b1899 16%,#0925a1 25%,#0836ab 35%,#0745b1 45%,#0657b6 55%,#0666b8 64%,#0675ae 72%,#06888f 80%,#068e7d 86%,#068e7d 91%,#068c83 95%,#06898d 98%,#068693)"></i><i style="left:262.0px;width:2.5px;background:linear-gradient(#0927a2,#092ca5 8%,#0832a9 16%,#073fae 25%,#064cb3 35%,#0657b6 45%,#0664b8 55%,#0671b2 64%,#06819d 72%,#068e7a 80%,#079367 86%,#079367 91%,#07926e 95%,#068f77 98%,#068d7d)"></i><i style="left:264.0px;width:2.5px;background:linear-gradient(#0b1698,#0a1a9b 8%,#0a209e 16%,#092ea6 25%,#073eae 35%,#064db3 45%,#065db8 55%,#0669b7 64%,#0679a9 72%,#068b88 80%,#069075 86%,#069075 91%,#068e7c 95%,#068b85 98%,#06898b)"></i><i style="left:266.0px;width:2.5px;background:linear-gradient(#0d0e93,#0c1396 8%,#0b1899 16%,#0926a2 25%,#0837ac 35%,#0746b1 45%,#0658b7 55%,#0666b8 64%,#0676ae 72%,#06888e 80%,#068e7c 86%,#068e7c 91%,#068c82 95%,#06898c 98%,#068692)"></i><i style="left:268.0px;width:2.5px;background:linear-gradient(#0a1d9c,#0a22a0 8%,#0929a3 16%,#0838ac 25%,#0746b1 35%,#0653b5 45%,#0661b8 55%,#066eb4 64%,#067ea2 72%,#068d80 80%,#07926d 86%,#07926d 91%,#069074 95%,#068e7d 98%,#068c83)"></i><i style="left:270.0px;width:2.5px;background:linear-gradient(#0b1899,#0a1d9c 8%,#0924a0 16%,#0833a9 25%,#0742b0 35%,#0650b4 45%,#065fb8 55%,#066bb6 64%,#067ba5 72%,#068c84 80%,#069171 86%,#069171 91%,#068f78 95%,#068c81 98%,#068b87)"></i><i style="left:272.0px;width:2.5px;background:linear-gradient(#0f068e,#0e0b91 8%,#0c1195 16%,#0a1d9d 25%,#092fa7 35%,#0740af 45%,#0654b5 55%,#0663b8 64%,#0672b1 72%,#068594 80%,#068c82 86%,#068c82 91%,#068a88 95%,#068691 98%,#068497)"></i><i style="left:274.0px;width:2.5px;background:linear-gradient(#0b1698,#0a1b9b 8%,#0a229f 16%,#0832a8 25%,#0741af 35%,#064fb4 45%,#065fb8 55%,#066bb6 64%,#067ba6 72%,#068c84 80%,#069172 86%,#069172 91%,#068f78 95%,#068c82 98%,#068b88)"></i><i style="left:276.0px;width:2.5px;background:linear-gradient(#0e098f,#0d0e93 8%,#0c1497 16%,#0a22a0 25%,#0835aa 35%,#0744b0 45%,#0657b6 55%,#0665b8 64%,#0675af 72%,#068790 80%,#068d7e 86%,#068d7e 91%,#068c84 95%,#06888e 98%,#068594)"></i><i style="left:278.0px;width:2.5px;background:linear-gradient(#0e0b91,#0c1195 8%,#0b1799 16%,#0926a2 25%,#0839ac 35%,#0747b2 45%,#0659b7 55%,#0667b8 64%,#0676ad 72%,#06898d 80%,#068e7b 86%,#068e7b 91%,#068c81 95%,#068a8b 98%,#068791)"></i><i style="left:280.0px;width:2.5px;background:linear-gradient(#110082,#10008a 8%,#0f068e 16%,#0c1497 25%,#0924a1 35%,#0837ab 45%,#064db4 55%,#065fb8 64%,#066db4 72%,#06819c 80%,#068a8b 86%,#068a8b 91%,#068791 95%,#06829a 98%,#067fa0)"></i><i style="left:282.0px;width:2.5px;background:linear-gradient(#0e0a90,#0d1094 8%,#0b1698 16%,#0926a1 25%,#0838ac 35%,#0747b1 45%,#0659b7 55%,#0667b8 64%,#0676ad 72%,#06888d 80%,#068e7b 86%,#068e7b 91%,#068c81 95%,#068a8b 98%,#068790)"></i><i style="left:284.0px;width:2.5px;background:linear-gradient(#0d0e93,#0c1497 8%,#0a1a9b 16%,#092aa4 25%,#083bad 35%,#064ab3 45%,#065cb7 55%,#0668b8 64%,#0678aa 72%,#068a8a 80%,#068f79 86%,#068f78 91%,#068d7e 95%,#068b87 98%,#06898d)"></i><i style="left:286.0px;width:2.5px;background:linear-gradient(#0e078f,#0d0d92 8%,#0c1396 16%,#0a209e 25%,#0832a9 35%,#0743b0 45%,#0657b6 55%,#0665b8 64%,#0675af 72%,#068692 80%,#068d80 86%,#068d80 91%,#068b85 95%,#06888d 98%,#068693)"></i><i style="left:288.0px;width:2.5px;background:linear-gradient(#13007a,#120081 8%,#100088 16%,#0e0b91 25%,#0b199a 35%,#092ca5 45%,#0746b1 55%,#065cb7 64%,#066ab6 72%,#067da4 80%,#068595 86%,#068693 91%,#068398 95%,#067fa0 98%,#067ca4)"></i><i style="left:290.0px;width:2.5px;background:linear-gradient(#0d0f94,#0c1497 8%,#0a1a9b 16%,#0928a3 25%,#0839ac 35%,#0649b2 45%,#065cb7 55%,#0669b7 64%,#0679a9 72%,#06898c 80%,#068e7b 86%,#068e7a 91%,#068d7e 95%,#068b86 98%,#06898c)"></i><i style="left:292.0px;width:2.5px;background:linear-gradient(#110082,#100088 8%,#0f048d 16%,#0d0f94 25%,#0a1e9d 35%,#0832a9 45%,#064cb3 55%,#065fb8 64%,#066eb4 72%,#067fa1 80%,#068791 86%,#06888f 91%,#068693 95%,#06829b 98%,#06809f)"></i><i style="left:294.0px;width:2.5px;background:linear-gradient(#0d0d92,#0c1195 8%,#0b1799 16%,#0a23a0 25%,#0834aa 35%,#0745b1 45%,#065ab7 55%,#0668b8 64%,#0678ab 72%,#068790 80%,#068d80 86%,#068d7e 91%,#068c82 95%,#068a89 98%,#06888e)"></i><i style="left:296.0px;width:2.5px;background:linear-gradient(#0927a3,#092da6 8%,#0833a9 16%,#073eae 25%,#064cb3 35%,#0659b7 45%,#0666b8 55%,#0675af 64%,#068496 72%,#068e7a 80%,#07936a 86%,#079467 91%,#07936a 95%,#069171 98%,#068f76)"></i><i style="left:298.0px;width:2.5px;background:linear-gradient(#0f028c,#0f078e 8%,#0e0b91 16%,#0b1598 25%,#0925a1 35%,#083aad 45%,#0652b5 55%,#0663b8 64%,#0672b1 72%,#06819c 80%,#06898d 86%,#068a8a 91%,#06898d 95%,#068693 98%,#068498)"></i><i style="left:300.0px;width:2.5px;background:linear-gradient(#0f038c,#0e078f 8%,#0d0c92 16%,#0b1598 25%,#0925a1 35%,#083aad 45%,#0653b5 55%,#0664b8 64%,#0673b1 72%,#06819c 80%,#06888e 86%,#068a8a 91%,#06898d 95%,#068693 98%,#068497)"></i><i style="left:302.0px;width:2.5px;background:linear-gradient(#0d1094,#0c1497 8%,#0b1899 16%,#0a229f 25%,#0833a9 35%,#0745b1 45%,#065bb7 55%,#0669b7 64%,#0679a8 72%,#068791 80%,#068c83 86%,#068d7e 91%,#068c81 95%,#068b87 98%,#06898b)"></i><i style="left:304.0px;width:2.5px;background:linear-gradient(#110085,#10008a 8%,#0f048d 16%,#0d0d92 25%,#0a1a9b 35%,#0930a7 45%,#064db4 55%,#0661b8 64%,#066fb3 72%,#067da3 80%,#068496 86%,#068692 91%,#068594 95%,#068399 98%,#06819d)"></i><i style="left:306.0px;width:2.5px;background:linear-gradient(#100088,#10028b 8%,#0f068e 16%,#0d0d93 25%,#0a1b9b 35%,#0831a8 45%,#064eb4 55%,#0661b8 64%,#0670b3 72%,#067da3 80%,#068496 86%,#068791 91%,#068693 95%,#068398 98%,#06829b)"></i><i style="left:308.0px;width:2.5px;background:linear-gradient(#0f048d,#0e078f 8%,#0e0b91 16%,#0c1396 25%,#0a219f 35%,#0838ac 45%,#0653b5 55%,#0664b8 64%,#0673b1 72%,#06809f 80%,#068692 86%,#06898c 91%,#06888e 95%,#068693 98%,#068496)"></i><i style="left:310.0px;width:2.5px;background:linear-gradient(#0e0a91,#0d0d93 8%,#0c1195 16%,#0b1899 25%,#0927a2 35%,#083dae 45%,#0657b6 55%,#0667b8 64%,#0676ad 72%,#06829a 80%,#06898d 86%,#068b87 91%,#068a88 95%,#06898d 98%,#068790)"></i><i style="left:312.0px;width:2.5px;background:linear-gradient(#19005d,#180061 8%,#170065 16%,#15006d 25%,#12007e 35%,#0e0990 45%,#0929a4 55%,#064ab2 64%,#065fb8 72%,#066ab7 80%,#0671b2 86%,#0674af 91%,#0674b0 95%,#0672b2 98%,#0670b3)"></i><i style="left:314.0px;width:2.5px;background:linear-gradient(#12007f,#110082 8%,#110086 16%,#0f048c 25%,#0d1094 35%,#0a23a0 45%,#0744b0 55%,#065cb7 64%,#066ab7 72%,#0676ad 80%,#067ea2 86%,#06819c 91%,#06819d 95%,#067fa1 98%,#067da3)"></i><i style="left:316.0px;width:2.5px;background:linear-gradient(#13007a,#12007d 8%,#120081 16%,#100089 25%,#0e0b91 35%,#0a1c9c 45%,#083dae 55%,#0657b6 64%,#0667b8 72%,#0673b1 80%,#067aa7 86%,#067ea1 91%,#067ea1 95%,#067ca5 98%,#067aa7)"></i><i style="left:318.0px;width:2.5px;background:linear-gradient(#13007a,#12007d 8%,#120081 16%,#100089 25%,#0e0a91 35%,#0a1a9b 45%,#083bad 55%,#0655b6 64%,#0666b8 72%,#0672b2 80%,#0679a8 86%,#067ea3 91%,#067ea2 95%,#067ba6 98%,#067aa8)"></i><i style="left:320.0px;width:2.5px;background:linear-gradient(#110085,#100087 8%,#10018a 16%,#0f068e 25%,#0c1195 35%,#0a229f 45%,#0741af 55%,#0658b7 64%,#0668b8 72%,#0674af 80%,#067ca4 86%,#06819e 91%,#06819d 95%,#067fa1 98%,#067da3)"></i><i style="left:322.0px;width:2.5px;background:linear-gradient(#110084,#110086 8%,#100089 16%,#0f058d 25%,#0d0f94 35%,#0a1e9d 45%,#083dae 55%,#0656b6 64%,#0666b8 72%,#0672b1 80%,#067ba7 86%,#067fa0 91%,#0680a0 95%,#067da3 98%,#067ca5)"></i><i style="left:324.0px;width:2.5px;background:linear-gradient(#0f068e,#0e088f 8%,#0e0a90 16%,#0d0f94 25%,#0b199a 35%,#092aa4 45%,#0745b1 55%,#065bb7 64%,#066ab7 72%,#0677ac 80%,#067fa0 86%,#068398 91%,#068497 95%,#06829b 98%,#06819d)"></i><i style="left:326.0px;width:2.5px;background:linear-gradient(#110083,#110085 8%,#100088 16%,#0f038c 25%,#0d0d92 35%,#0a1a9b 45%,#0838ac 55%,#0651b5 64%,#0663b8 72%,#066fb3 80%,#0678ab 86%,#067da4 91%,#067da3 95%,#067ca5 98%,#067aa7)"></i><i style="left:328.0px;width:2.5px;background:linear-gradient(#0f038c,#0f048d 8%,#0f068e 16%,#0e0b91 25%,#0c1497 35%,#0a219f 45%,#083dae 55%,#0655b6 64%,#0666b8 72%,#0672b1 80%,#067ba6 86%,#06809f 91%,#06819d 95%,#067fa0 98%,#067ea2)"></i><i style="left:330.0px;width:2.5px;background:linear-gradient(#120080,#120082 8%,#110084 16%,#10008a 25%,#0e088f 35%,#0c1497 45%,#092ea6 55%,#064ab3 64%,#0660b8 72%,#066bb6 80%,#0674b0 86%,#0679a8 91%,#067aa7 95%,#0679a9 98%,#0677ab)"></i><i style="left:332.0px;width:2.5px;background:linear-gradient(#13007a,#13007c 8%,#12007d 16%,#110083 25%,#0f038c 35%,#0d0d93 45%,#0925a1 55%,#0743b0 64%,#065bb7 72%,#0667b8 80%,#0670b2 86%,#0676ad 91%,#0677ac 95%,#0675ae 98%,#0674b0)"></i><i style="left:334.0px;width:2.5px;background:linear-gradient(#10008a,#10008a 8%,#10028b 16%,#0f068e 25%,#0d0d92 35%,#0b1799 45%,#0931a8 55%,#064bb3 64%,#0660b8 72%,#066cb5 80%,#0675ae 86%,#067ba6 91%,#067ca4 95%,#067ba6 98%,#067aa8)"></i><i style="left:336.0px;width:2.5px;background:linear-gradient(#0b1698,#0b1698 8%,#0b1799 16%,#0a1b9c 25%,#0924a0 35%,#092fa7 45%,#0746b1 55%,#065ab7 64%,#0669b7 72%,#0677ac 80%,#06809f 86%,#068595 91%,#068692 95%,#068595 98%,#068497)"></i><i style="left:338.0px;width:2.5px;background:linear-gradient(#0e0a90,#0e0a91 8%,#0e0b91 16%,#0d0f93 25%,#0c1597 35%,#0a1e9d 45%,#0837ab 55%,#064fb4 64%,#0662b8 72%,#066fb4 80%,#0678aa 86%,#067ea1 91%,#06809f 95%,#067ea1 98%,#067ea2)"></i><i style="left:340.0px;width:2.5px;background:linear-gradient(#110085,#110085 8%,#110086 16%,#10018a 25%,#0f068e 35%,#0d0e93 45%,#0a23a0 55%,#073faf 64%,#0659b7 72%,#0666b8 80%,#0670b3 86%,#0676ad 91%,#0678ab 95%,#0676ad 98%,#0676ae)"></i><i style="left:342.0px;width:2.5px;background:linear-gradient(#10018b,#10028b 8%,#10028b 16%,#0f058d 25%,#0e0b91 35%,#0c1296 45%,#0927a2 55%,#0743b0 64%,#065bb7 72%,#0668b8 80%,#0671b2 86%,#0678aa 91%,#067aa8 95%,#0678aa 98%,#0678ab)"></i><i style="left:344.0px;width:2.5px;background:linear-gradient(#12007d,#12007d 8%,#12007e 16%,#110082 25%,#10008a 35%,#0e088f 45%,#0a1a9b 55%,#0837ac 64%,#0653b5 72%,#0662b8 80%,#066bb6 86%,#0671b2 91%,#0673b1 95%,#0672b1 98%,#0671b2)"></i><i style="left:346.0px;width:2.5px;background:linear-gradient(#0f048c,#0f048d 8%,#0f058d 16%,#0e088f 25%,#0d0e93 35%,#0b1698 45%,#092ba5 55%,#0745b1 64%,#065cb8 72%,#0668b8 80%,#0672b2 86%,#0678aa 91%,#067aa7 95%,#0679a9 98%,#0678aa)"></i><i style="left:348.0px;width:2.5px;background:linear-gradient(#0f048d,#0f048d 8%,#0f058d 16%,#0e0990 25%,#0d0f93 35%,#0b1799 45%,#092ca5 55%,#0745b1 64%,#065cb8 72%,#0668b8 80%,#0671b2 86%,#0678aa 91%,#067aa8 95%,#0678aa 98%,#0678ab)"></i><i style="left:350.0px;width:2.5px;background:linear-gradient(#12007f,#120080 8%,#120081 16%,#110085 25%,#0f028c 35%,#0e0b91 45%,#0a1d9c 55%,#0839ac 64%,#0653b5 72%,#0662b8 80%,#066ab7 86%,#0671b2 91%,#0673b1 95%,#0671b2 98%,#0670b2)"></i><i style="left:352.0px;width:2.5px;background:linear-gradient(#110087,#100088 8%,#10008a 16%,#0f038c 25%,#0e0990 35%,#0c1295 45%,#0925a1 55%,#073faf 64%,#0657b6 72%,#0665b8 80%,#066db5 86%,#0674b0 91%,#0676ae 95%,#0674b0 98%,#0673b0)"></i><i style="left:354.0px;width:2.5px;background:linear-gradient(#0c1597,#0b1698 8%,#0b1799 16%,#0a1a9b 25%,#0a229f 35%,#092da6 45%,#0740af 55%,#0654b6 64%,#0664b8 72%,#0670b3 80%,#0679a9 86%,#06809f 91%,#06819c 95%,#06809f 98%,#067fa0)"></i><i style="left:356.0px;width:2.5px;background:linear-gradient(#0f068e,#0e078f 8%,#0e0990 16%,#0d0c92 25%,#0c1296 35%,#0a1b9b 45%,#0931a8 55%,#0748b2 64%,#065db8 72%,#0668b8 80%,#0671b2 86%,#0677ab 91%,#0679a9 95%,#0678aa 98%,#0677ac)"></i><i style="left:358.0px;width:2.5px;background:linear-gradient(#0e078f,#0e088f 8%,#0e0a90 16%,#0d0d93 25%,#0c1497 35%,#0a1d9d 45%,#0832a9 55%,#0649b2 64%,#065db8 72%,#0668b8 80%,#0671b2 86%,#0677ab 91%,#0679a9 95%,#0678aa 98%,#0677ac)"></i><i style="left:360.0px;width:2.5px;background:linear-gradient(#120080,#120082 8%,#110084 16%,#100088 25%,#0f058d 35%,#0d0e93 45%,#0a209e 55%,#083aad 64%,#0653b5 72%,#0661b8 80%,#0668b8 86%,#066fb3 91%,#0671b2 95%,#066fb3 98%,#066fb4)"></i><i style="left:362.0px;width:2.5px;background:linear-gradient(#110086,#100088 8%,#10008a 16%,#0f038c 25%,#0e0a90 35%,#0c1396 45%,#0926a2 55%,#073fae 64%,#0656b6 72%,#0663b8 80%,#066ab7 86%,#0671b2 91%,#0673b1 95%,#0671b2 98%,#0671b2)"></i><i style="left:364.0px;width:2.5px;background:linear-gradient(#100089,#10018b 8%,#0f038c 16%,#0f068e 25%,#0d0d92 35%,#0b1799 45%,#092aa4 55%,#0742b0 64%,#0657b6 72%,#0664b8 80%,#066bb6 86%,#0672b1 91%,#0674b0 95%,#0672b1 98%,#0672b2)"></i><i style="left:366.0px;width:2.5px;background:linear-gradient(#0924a1,#0926a2 8%,#0929a3 16%,#092da6 25%,#0835ab 35%,#0740af 45%,#064fb4 55%,#065eb8 64%,#066ab7 72%,#0675ae 80%,#067ea3 86%,#068398 91%,#068595 95%,#068497 98%,#068398)"></i><i style="left:368.0px;width:2.5px;background:linear-gradient(#0f058d,#0e078f 8%,#0e0990 16%,#0d0d92 25%,#0c1497 35%,#0a1e9d 45%,#0832a9 55%,#0748b2 64%,#065bb7 72%,#0666b8 80%,#066db4 86%,#0674b0 91%,#0676ad 95%,#0675af 98%,#0674b0)"></i><i style="left:370.0px;width:2.5px;background:linear-gradient(#0f068e,#0e0990 8%,#0e0b91 16%,#0d0e93 25%,#0b1598 35%,#0a209e 45%,#0834aa 55%,#0649b2 64%,#065cb7 72%,#0666b8 80%,#066eb4 86%,#0674b0 91%,#0676ad 95%,#0675af 98%,#0674b0)"></i><i style="left:372.0px;width:2.5px;background:linear-gradient(#0e0b91,#0d0d92 8%,#0d0f94 16%,#0c1396 25%,#0a1a9b 35%,#0926a2 45%,#083aad 55%,#064db4 64%,#065eb8 72%,#0667b8 80%,#066fb3 86%,#0676ad 91%,#0678aa 95%,#0677ac 98%,#0676ad)"></i><i style="left:374.0px;width:2.5px;background:linear-gradient(#0c1296,#0c1597 8%,#0b1799 16%,#0a1b9b 25%,#0923a0 35%,#0930a8 45%,#0741af 55%,#0653b5 64%,#0662b8 72%,#066bb6 80%,#0673b1 86%,#067aa8 91%,#067ca5 95%,#067aa7 98%,#0679a8)"></i><i style="left:376.0px;width:2.5px;background:linear-gradient(#0a1a9b,#0a1d9c 8%,#0a209e 16%,#0924a1 25%,#092da6 35%,#083aad 45%,#0649b2 55%,#0658b7 64%,#0665b8 72%,#066fb3 80%,#0677ac 86%,#067da3 91%,#067fa0 95%,#067ea2 98%,#067da3)"></i><i style="left:378.0px;width:2.5px;background:linear-gradient(#0e0990,#0d0c92 8%,#0d0f93 16%,#0c1296 25%,#0b199a 35%,#0926a2 45%,#0839ac 55%,#064cb3 64%,#065db8 72%,#0666b8 80%,#066db4 86%,#0674b0 91%,#0676ae 95%,#0674af 98%,#0674b0)"></i><i style="left:380.0px;width:2.5px;background:linear-gradient(#0923a0,#0927a2 8%,#092aa4 16%,#092fa7 25%,#0838ac 35%,#0743b0 45%,#0651b5 55%,#065eb8 64%,#0668b8 72%,#0672b1 80%,#067aa8 86%,#06819e 91%,#06829b 95%,#06819d 98%,#06809e)"></i><i style="left:382.0px;width:2.5px;background:linear-gradient(#0d0e93,#0c1195 8%,#0c1497 16%,#0b1799 25%,#0a1f9e 35%,#092da6 45%,#073eae 55%,#0650b4 64%,#065fb8 72%,#0667b8 80%,#066fb3 86%,#0676ae 91%,#0678ab 95%,#0676ad 98%,#0675ae)"></i><i style="left:384.0px;width:2.5px;background:linear-gradient(#0a1f9e,#0923a0 8%,#0927a2 16%,#092ba5 25%,#0834aa 35%,#0740af 45%,#064fb4 55%,#065cb7 64%,#0667b8 72%,#0670b2 80%,#0678aa 86%,#067fa1 91%,#06819e 95%,#0680a0 98%,#067fa1)"></i><i style="left:386.0px;width:2.5px;background:linear-gradient(#0b199a,#0a1c9c 8%,#0a209e 16%,#0924a1 25%,#092da6 35%,#083bad 45%,#0649b2 55%,#0658b6 64%,#0664b8 72%,#066db4 80%,#0675af 86%,#067ca5 91%,#067ea2 95%,#067da4 98%,#067ca5)"></i><i style="left:388.0px;width:2.5px;background:linear-gradient(#0a1c9c,#0a209e 8%,#0924a0 16%,#0928a3 25%,#0831a8 35%,#073eae 45%,#064cb3 55%,#065ab7 64%,#0666b8 72%,#066fb3 80%,#0677ac 86%,#067da3 91%,#067fa0 95%,#067ea1 98%,#067ea2)"></i><i style="left:390.0px;width:2.5px;background:linear-gradient(#0f028c,#0f058d 8%,#0e088f 16%,#0d0c92 25%,#0c1396 35%,#0a1f9e 45%,#0832a8 55%,#0745b1 64%,#0658b6 72%,#0662b8 80%,#0669b7 86%,#0670b3 91%,#0672b2 95%,#0671b2 98%,#0670b3)"></i><i style="left:392.0px;width:2.5px;background:linear-gradient(#0b1799,#0a1a9b 8%,#0a1e9d 16%,#0a229f 25%,#092ba5 35%,#0839ac 45%,#0748b2 55%,#0657b6 64%,#0663b8 72%,#066db5 80%,#0674b0 86%,#067ba6 91%,#067da3 95%,#067ca4 98%,#067ca5)"></i><i style="left:394.0px;width:2.5px;background:linear-gradient(#0c1497,#0b1799 8%,#0b1a9a 16%,#0a1d9d 25%,#0927a2 35%,#0835aa 45%,#0744b0 55%,#0654b6 64%,#0662b8 72%,#066bb6 80%,#0672b1 86%,#0679a9 91%,#067ba6 95%,#067aa7 98%,#067aa8)"></i><i style="left:396.0px;width:2.5px;background:linear-gradient(#0c1597,#0b1899 8%,#0a1b9b 16%,#0a1f9e 25%,#0928a3 35%,#0836ab 45%,#0745b1 55%,#0655b6 64%,#0662b8 72%,#066bb6 80%,#0673b1 86%,#0679a8 91%,#067ca5 95%,#067ba6 98%,#067ba7)"></i><i style="left:398.0px;width:2.5px;background:linear-gradient(#13007a,#12007e 8%,#110082 16%,#110086 25%,#0f058d 35%,#0d1094 45%,#0a209e 55%,#0837ab 64%,#064db4 72%,#065bb7 80%,#0662b8 86%,#0668b8 91%,#066ab7 95%,#066ab7 98%,#0669b7)"></i><i style="left:400.0px;width:2.5px;background:linear-gradient(#0b199a,#0a1c9c 8%,#0a209e 16%,#0924a1 25%,#092da6 35%,#083bad 45%,#0649b2 55%,#0658b6 64%,#0664b8 72%,#066db4 80%,#0675ae 86%,#067ca5 91%,#067ea2 95%,#067ea2 98%,#067da3)"></i><i style="left:402.0px;width:2.5px;background:linear-gradient(#0d0e93,#0c1195 8%,#0c1497 16%,#0b1799 25%,#0a1f9e 35%,#092da6 45%,#073eae 55%,#0650b4 64%,#065fb8 72%,#0667b8 80%,#066fb3 86%,#0676ae 91%,#0678aa 95%,#0678ab 98%,#0677ab)"></i><i style="left:404.0px;width:2.5px;background:linear-gradient(#0e0a91,#0d0d92 8%,#0d1094 16%,#0c1497 25%,#0a1b9b 35%,#0929a3 45%,#083bad 55%,#064db4 64%,#065db8 72%,#0666b8 80%,#066db5 86%,#0674b0 91%,#0676ad 95%,#0676ad 98%,#0676ae)"></i><i style="left:406.0px;width:2.5px;background:linear-gradient(#0a1a9b,#0a1e9d 8%,#0a229f 16%,#0926a2 25%,#092fa7 35%,#083cad 45%,#064bb3 55%,#0659b7 64%,#0665b8 72%,#066eb4 80%,#0676ad 86%,#067da4 91%,#067fa0 95%,#067fa1 98%,#067fa1)"></i><i style="left:408.0px;width:2.5px;background:linear-gradient(#0a1e9d,#0a229f 8%,#0925a1 16%,#092aa4 25%,#0833a9 35%,#073faf 45%,#064eb4 55%,#065bb7 64%,#0666b8 72%,#0670b3 80%,#0678ab 86%,#067ea2 91%,#06819e 95%,#06819e 98%,#06809e)"></i><i style="left:410.0px;width:2.5px;background:linear-gradient(#0a1f9d,#0a22a0 8%,#0926a2 16%,#092aa4 25%,#0834a9 35%,#0740af 45%,#064eb4 55%,#065bb7 64%,#0666b8 72%,#0670b3 80%,#0678ab 86%,#067ea1 91%,#06819d 95%,#06819d 98%,#06819d)"></i><i style="left:412.0px;width:2.5px;background:linear-gradient(#100088,#10018b 8%,#0f048d 16%,#0e088f 25%,#0d0f94 35%,#0a1a9b 45%,#092ca5 55%,#0741af 64%,#0655b6 72%,#0661b8 80%,#0667b8 86%,#066eb4 91%,#0670b2 95%,#0670b2 98%,#0670b2)"></i><i style="left:414.0px;width:2.5px;background:linear-gradient(#100089,#10028b 8%,#0f058d 16%,#0e088f 25%,#0d1094 35%,#0a1a9b 45%,#092da6 55%,#0741af 64%,#0655b6 72%,#0661b8 80%,#0668b8 86%,#066eb4 91%,#0671b2 95%,#0671b2 98%,#0672b2)"></i><i style="left:416.0px;width:2.5px;background:linear-gradient(#0f048c,#0f078e 8%,#0e0a90 16%,#0d0d92 25%,#0c1497 35%,#0a209e 45%,#0832a9 55%,#0746b1 64%,#0658b7 72%,#0663b8 80%,#066bb6 86%,#0671b2 91%,#0674b0 95%,#0675af 98%,#0675af)"></i><i style="left:418.0px;width:2.5px;background:linear-gradient(#0e088f,#0e0b91 8%,#0d0e93 16%,#0c1295 25%,#0b199a 35%,#0925a1 45%,#0837ac 55%,#064ab3 64%,#065bb7 72%,#0666b8 80%,#066db4 86%,#0674b0 91%,#0677ab 95%,#0678ab 98%,#0678aa)"></i><i style="left:420.0px;width:2.5px;background:linear-gradient(#0d0e93,#0c1195 8%,#0c1497 16%,#0b1899 25%,#0a1f9e 35%,#092ca5 45%,#083dae 55%,#064fb4 64%,#065fb8 72%,#0669b8 80%,#0671b2 86%,#0678ab 91%,#067ba6 95%,#067ca5 98%,#067ca4)"></i><i style="left:422.0px;width:2.5px;background:linear-gradient(#10028b,#0f058d 8%,#0e088f 16%,#0e0b91 25%,#0c1296 35%,#0a1c9c 45%,#092fa7 55%,#0743b0 64%,#0656b6 72%,#0663b8 80%,#066bb6 86%,#0672b2 91%,#0675af 95%,#0676ae 98%,#0676ad)"></i><i style="left:424.0px;width:2.5px;background:linear-gradient(#110083,#100087 8%,#10018b 16%,#0f048d 25%,#0e0b91 35%,#0c1597 45%,#0925a1 55%,#083cad 64%,#0651b5 72%,#0660b8 80%,#0668b8 86%,#066eb4 91%,#0672b2 95%,#0673b1 98%,#0673b0)"></i><i style="left:426.0px;width:2.5px;background:linear-gradient(#0f078e,#0e0a90 8%,#0d0d92 16%,#0d1094 25%,#0b1799 35%,#0a219f 45%,#0834aa 55%,#0747b1 64%,#0659b7 72%,#0666b8 80%,#066eb4 86%,#0675af 91%,#0678aa 95%,#067aa8 98%,#067ba7)"></i><i style="left:428.0px;width:2.5px;background:linear-gradient(#0c1497,#0b1799 8%,#0a1a9b 16%,#0a1d9d 25%,#0925a1 35%,#0931a8 45%,#0741af 55%,#0652b5 64%,#0660b8 72%,#066cb5 80%,#0676ae 86%,#067ca4 91%,#06809f 95%,#06819d 98%,#06829b)"></i><i style="left:430.0px;width:2.5px;background:linear-gradient(#100089,#0f028c 8%,#0f058e 16%,#0e0990 25%,#0d0f94 35%,#0b1899 45%,#092aa4 55%,#073faf 64%,#0653b5 72%,#0663b8 80%,#066bb6 86%,#0672b1 91%,#0676ae 95%,#0677ab 98%,#0678aa)"></i><i style="left:432.0px;width:2.5px;background:linear-gradient(#092ea6,#0831a8 8%,#0835aa 16%,#0839ac 25%,#073faf 35%,#0747b2 45%,#0654b5 55%,#0660b8 64%,#066ab6 72%,#0679a9 80%,#06829b 86%,#06888f 91%,#068a88 95%,#068b85 98%,#068c83)"></i><i style="left:434.0px;width:2.5px;background:linear-gradient(#0a1e9d,#0a229f 8%,#0926a2 16%,#092aa4 25%,#0831a8 35%,#083bad 45%,#064ab2 55%,#0658b7 64%,#0664b8 72%,#0672b1 80%,#067ca4 86%,#06829a 91%,#068693 95%,#068790 98%,#06888d)"></i><i style="left:436.0px;width:2.5px;background:linear-gradient(#0e088f,#0e0b91 8%,#0d0e93 16%,#0c1195 25%,#0b1799 35%,#0a209e 45%,#0833a9 55%,#0746b1 64%,#0658b7 72%,#0667b8 80%,#0671b2 86%,#0678ab 91%,#067ca5 95%,#067ea2 98%,#067fa0)"></i><i style="left:438.0px;width:2.5px;background:linear-gradient(#0b199a,#0a1c9c 8%,#0a1f9e 16%,#0923a0 25%,#092ba4 35%,#0835aa 45%,#0744b0 55%,#0654b6 64%,#0662b8 72%,#0670b3 80%,#067aa7 86%,#06819d 91%,#068496 95%,#068692 98%,#06878f)"></i><i style="left:440.0px;width:2.5px;background:linear-gradient(#120082,#110085 8%,#100089 16%,#0f038c 25%,#0e098f 35%,#0d1094 45%,#0a209e 55%,#0837ac 64%,#064db4 72%,#0661b8 80%,#066ab7 86%,#0671b2 91%,#0675af 95%,#0677ab 98%,#0679a9)"></i><i style="left:442.0px;width:2.5px;background:linear-gradient(#13007a,#12007d 8%,#120081 16%,#110086 25%,#0f028c 35%,#0e0a90 45%,#0b199a 55%,#0930a7 64%,#0748b2 72%,#065fb8 80%,#0668b8 86%,#066eb4 91%,#0673b1 95%,#0676ad 98%,#0678ab)"></i><i style="left:444.0px;width:2.5px;background:linear-gradient(#10028b,#0f058d 8%,#0e088f 16%,#0e0b91 25%,#0c1195 35%,#0b189a 45%,#092ba5 55%,#0741af 64%,#0656b6 72%,#0666b8 80%,#0671b2 86%,#0678ab 91%,#067da3 95%,#06819e 98%,#06839a)"></i><i style="left:446.0px;width:2.5px;background:linear-gradient(#0d0d93,#0d1094 8%,#0c1396 16%,#0b1799 25%,#0a1c9c 35%,#0926a1 45%,#083aad 55%,#064eb4 64%,#065fb8 72%,#066db5 80%,#0678aa 86%,#067fa0 91%,#068496 95%,#06888e 98%,#068a89)"></i><i style="left:448.0px;width:2.5px;background:linear-gradient(#0c1497,#0b1799 8%,#0a1a9b 16%,#0a1e9d 25%,#0925a1 35%,#092fa7 45%,#0742b0 55%,#0654b6 64%,#0663b8 72%,#0672b1 80%,#067da3 86%,#068496 91%,#068a8b 95%,#068c81 98%,#068e7b)"></i><i style="left:450.0px;width:2.5px;background:linear-gradient(#0b1598,#0b1899 8%,#0a1b9b 16%,#0a1f9e 25%,#0926a2 35%,#092fa7 45%,#0743b0 55%,#0656b6 64%,#0664b8 72%,#0674b0 80%,#067fa1 86%,#068693 91%,#068b86 95%,#068e7b 98%,#069074)"></i><i style="left:452.0px;width:2.5px;background:linear-gradient(#0b1799,#0a1a9b 8%,#0a1e9d 16%,#0a229f 25%,#0929a3 35%,#0832a9 45%,#0746b1 55%,#0658b7 64%,#0666b8 72%,#0676ad 80%,#06819d 86%,#06888e 91%,#068d7f 95%,#069073 98%,#07926b)"></i><i style="left:454.0px;width:2.5px;background:linear-gradient(#12007f,#110083 8%,#110087 16%,#10018b 25%,#0f078e 35%,#0d0e93 45%,#0923a0 55%,#073fae 64%,#0656b6 72%,#0667b8 80%,#0672b2 86%,#067ba7 91%,#06839a 95%,#06898d 98%,#068c83)"></i><i style="left:456.0px;width:2.5px;background:linear-gradient(#0c1296,#0b1598 8%,#0b189a 16%,#0a1c9c 25%,#0a23a0 35%,#092ca5 45%,#0743b0 55%,#0657b6 64%,#0666b8 72%,#0676ae 80%,#06819d 86%,#06898d 91%,#068e7c 95%,#07926d 98%,#089563)"></i><i style="left:458.0px;width:2.5px;background:linear-gradient(#10008a,#0f038c 8%,#0f068e 16%,#0e0990 25%,#0d0f94 35%,#0b1698 45%,#092fa7 55%,#064ab2 64%,#065fb8 72%,#066db5 80%,#0679a9 86%,#06829b 91%,#068a8a 95%,#068f79 98%,#07926e)"></i><i style="left:460.0px;width:2.5px;background:linear-gradient(#0e0990,#0d0c92 8%,#0d0f93 16%,#0c1296 25%,#0b1899 35%,#0a209e 45%,#083bad 55%,#0652b5 64%,#0664b8 72%,#0673b1 80%,#067fa1 86%,#068790 91%,#068e7d 95%,#07926b 98%,#08965f)"></i><i style="left:462.0px;width:2.5px;background:linear-gradient(#0c1597,#0b1799 8%,#0a1a9b 16%,#0a1d9c 25%,#0a229f 35%,#092aa4 45%,#0740af 55%,#0654b5 64%,#0663b8 72%,#0670b3 80%,#067aa7 86%,#06839a 91%,#068b88 95%,#069076 98%,#079369)"></i><i style="left:464.0px;width:2.5px;background:linear-gradient(#0b199a,#0a1a9b 8%,#0a1c9c 16%,#0a1c9c 25%,#0a1d9d 35%,#0a209e 45%,#092fa7 55%,#073eae 64%,#064cb3 72%,#0658b6 80%,#0660b8 86%,#0665b8 91%,#066db5 95%,#0676ad 98%,#067ca5)"></i><i style="left:466.0px;width:2.5px;background:linear-gradient(#0928a3,#0929a3 8%,#0929a4 16%,#0927a2 25%,#0924a1 35%,#0a23a0 45%,#0928a3 55%,#092da6 64%,#0931a8 72%,#0838ac 80%,#083dae 86%,#0743b0 91%,#064fb4 95%,#065ab7 98%,#0660b8)"></i><i style="left:468.0px;width:2.5px;background:linear-gradient(#0930a7,#0930a7 8%,#092fa7 16%,#092ba5 25%,#0927a2 35%,#0a229f 45%,#0a229f 55%,#0a209e 64%,#0a1b9b 72%,#0a1b9b 80%,#0a1c9c 86%,#0a209f 91%,#092ea6 95%,#073eae 98%,#0748b2)"></i><i style="left:470.0px;width:2.5px;background:linear-gradient(#0740af,#0740af 8%,#0740af 16%,#083cae 25%,#0839ac 35%,#0834aa 45%,#0834aa 55%,#0832a9 64%,#092da6 72%,#092da6 80%,#092fa7 86%,#0833a9 91%,#073eae 95%,#064db3 98%,#0654b5)"></i><i style="left:472.0px;width:2.5px;background:linear-gradient(#0745b1,#0745b1 8%,#0745b1 16%,#0742b0 25%,#073eae 35%,#083aad 45%,#083aad 55%,#0839ac 64%,#0834aa 72%,#0834aa 80%,#0836ab 86%,#0839ac 91%,#0744b0 95%,#0651b5 98%,#0658b6)"></i><i style="left:474.0px;width:2.5px;background:linear-gradient(#083cae,#083cae 8%,#083cad 16%,#0838ac 25%,#0834aa 35%,#092fa7 45%,#092fa7 55%,#092da6 64%,#0928a3 72%,#0928a3 80%,#092aa4 86%,#092ea6 91%,#083bad 95%,#0649b2 98%,#0651b5)"></i><i style="left:476.0px;width:2.5px;background:linear-gradient(#0925a1,#0925a1 8%,#0924a1 16%,#0a209e 25%,#0a1c9c 35%,#0b1899 45%,#0b1899 55%,#0b1698 64%,#0c1296 72%,#0c1296 80%,#0c1497 86%,#0b1799 91%,#0a23a0 95%,#0835aa 98%,#073faf)"></i><i style="left:478.0px;width:2.5px;background:linear-gradient(#0a219f,#0a219f 8%,#0a209e 16%,#0a1c9c 25%,#0b189a 35%,#0c1497 45%,#0c1497 55%,#0c1396 64%,#0d0f94 72%,#0d0f94 80%,#0d1094 86%,#0c1396 91%,#0a1f9d 95%,#0931a8 98%,#083cad)"></i><i style="left:480.0px;width:2.5px;background:linear-gradient(#0923a0,#0923a0 8%,#0a23a0 16%,#0a1f9d 25%,#0a1a9b 35%,#0b1799 45%,#0b1799 55%,#0c1597 64%,#0c1195 72%,#0c1195 80%,#0c1296 86%,#0b1598 91%,#0a219f 95%,#0833a9 98%,#073eae)"></i><i style="left:482.0px;width:2.5px;background:linear-gradient(#0838ac,#0838ac 8%,#0837ac 16%,#0833a9 25%,#092fa7 35%,#092aa4 45%,#092aa4 55%,#0928a3 64%,#0a23a0 72%,#0a23a0 80%,#0924a1 86%,#0928a3 91%,#0836ab 95%,#0745b1 98%,#064eb4)"></i><i style="left:484.0px;width:2.5px;background:linear-gradient(#0a1b9b,#0a1b9b 8%,#0a1a9b 16%,#0b1799 25%,#0c1396 35%,#0d0f94 45%,#0d0f94 55%,#0d0d93 64%,#0e0a90 72%,#0e0a90 80%,#0e0b91 86%,#0d0e93 91%,#0b199a 95%,#092aa4 98%,#0836ab)"></i><i style="left:486.0px;width:2.5px;background:linear-gradient(#0649b2,#0649b2 8%,#0649b2 16%,#0745b1 25%,#0742b0 35%,#073eae 45%,#073eae 55%,#083cae 64%,#0838ac 72%,#0838ac 80%,#083aad 86%,#083dae 91%,#0747b2 95%,#0653b5 98%,#065ab7)"></i><i style="left:488.0px;width:2.5px;background:linear-gradient(#0835aa,#0835aa 8%,#0835aa 16%,#0931a8 25%,#092ca5 35%,#0927a2 45%,#0927a2 55%,#0925a1 64%,#0a209e 72%,#0a209e 80%,#0a229f 86%,#0926a2 91%,#0833a9 95%,#0742b0 98%,#064cb3)"></i><i style="left:490.0px;width:2.5px;background:linear-gradient(#0831a8,#0831a8 8%,#0931a8 16%,#092ca5 25%,#0928a3 35%,#0923a0 45%,#0923a0 55%,#0a219f 64%,#0a1c9c 72%,#0a1c9c 80%,#0a1e9d 86%,#0a229f 91%,#092fa7 95%,#073faf 98%,#0649b2)"></i><i style="left:492.0px;width:2.5px;background:linear-gradient(#0833a9,#0833a9 8%,#0833a9 16%,#092fa7 25%,#092ba4 35%,#0926a2 45%,#0926a2 55%,#0924a1 64%,#0a209e 72%,#0a209e 80%,#0a219f 86%,#0925a1 91%,#0833a9 95%,#0743b0 98%,#064cb3)"></i><i style="left:494.0px;width:2.5px;background:linear-gradient(#0836ab,#0836ab 8%,#0836ab 16%,#0832a9 25%,#092fa7 35%,#092ba4 45%,#092ba4 55%,#0929a3 64%,#0925a1 72%,#0925a1 80%,#0927a2 86%,#092ca5 91%,#083aad 95%,#0649b2 98%,#0651b5)"></i><i style="left:496.0px;width:2.5px;background:linear-gradient(#0b1698,#0b1698 8%,#0b1698 16%,#0c1397 25%,#0c1195 35%,#0d0e93 45%,#0d0e93 55%,#0d0d92 64%,#0e0b91 72%,#0e0b91 80%,#0d0c92 86%,#0d1094 91%,#0a1d9c 95%,#0931a8 98%,#083dae)"></i><i style="left:498.0px;width:2.5px;background:linear-gradient(#0d0c92,#0d0c92 8%,#0e0c91 16%,#0e0a90 25%,#0e088f 35%,#0f068e 45%,#0f068e 55%,#0f058d 64%,#0f038c 72%,#0f038c 80%,#0f048d 86%,#0e0990 91%,#0b1698 95%,#0929a3 98%,#0837ab)"></i><i style="left:500.0px;width:2.5px;background:linear-gradient(#0f038c,#0f038c 8%,#0f038c 16%,#10028b 25%,#10008a 35%,#100088 45%,#100088 55%,#100087 64%,#110085 72%,#110085 80%,#100088 86%,#0f038c 91%,#0c1195 95%,#0924a0 98%,#0832a9)"></i><i style="left:502.0px;width:2.5px;background:linear-gradient(#0b1698,#0b1698 8%,#0b1598 16%,#0c1597 25%,#0c1397 35%,#0c1296 45%,#0c1296 55%,#0c1296 64%,#0c1195 72%,#0c1195 80%,#0c1396 86%,#0b189a 91%,#0929a3 95%,#073eae 98%,#0649b2)"></i><i style="left:504.0px;width:2.5px;background:linear-gradient(#0a1a9b,#0a1a9b 8%,#0a1a9b 16%,#0a1a9b 25%,#0b199a 35%,#0b199a 45%,#0b199a 55%,#0b189a 64%,#0b1899 72%,#0b1899 80%,#0a1a9b 86%,#0a219f 91%,#0833a9 95%,#0746b1 98%,#0651b5)"></i><i style="left:506.0px;width:2.5px;background:linear-gradient(#0d0f93,#0d0f93 8%,#0d0f93 16%,#0d0f93 25%,#0d0e93 35%,#0d0e93 45%,#0d0e93 55%,#0d0e93 64%,#0d0e93 72%,#0d0e93 80%,#0c1195 86%,#0b1799 91%,#0929a3 95%,#073fae 98%,#064bb3)"></i><i style="left:508.0px;width:2.5px;background:linear-gradient(#0a219f,#0a219f 8%,#0a219f 16%,#0a219f 25%,#0a219f 35%,#0a219f 45%,#0a219f 55%,#0a219f 64%,#0a219f 72%,#0a219f 80%,#0925a1 86%,#092da6 91%,#073eae 95%,#0650b5 98%,#0659b7)"></i><i style="left:510.0px;width:2.5px;background:linear-gradient(#0d1094,#0d1094 8%,#0d1094 16%,#0d1094 25%,#0d1094 35%,#0d1094 45%,#0d1094 55%,#0d1094 64%,#0d1094 72%,#0c1195 80%,#0c1497 86%,#0a1a9b 91%,#092da6 95%,#0742b0 98%,#064eb4)"></i><i style="left:512.0px;width:2.5px;background:linear-gradient(#0c1095,#0c1095 8%,#0c1095 16%,#0c1095 25%,#0c1095 35%,#0c1095 45%,#0c1095 55%,#0c1095 64%,#0c1095 72%,#0c1295 80%,#0c1597 86%,#0a1b9b 91%,#092ea6 95%,#0743b0 98%,#064fb4)"></i><i style="left:514.0px;width:2.5px;background:linear-gradient(#0e0a91,#0e0a91 8%,#0e0a91 16%,#0e0a91 25%,#0e0a91 35%,#0e0a91 45%,#0e0a91 55%,#0e0a91 64%,#0e0a91 72%,#0d0c92 80%,#0d1094 86%,#0b1698 91%,#0927a2 95%,#073eae 98%,#064ab3)"></i><i style="left:516.0px;width:2.5px;background:linear-gradient(#0b1799,#0b1799 8%,#0b1799 16%,#0b1799 25%,#0b1799 35%,#0b1799 45%,#0b1799 55%,#0b1799 64%,#0b1799 72%,#0b199a 80%,#0a1d9d 86%,#0925a1 91%,#0838ac 95%,#064bb3 98%,#0655b6)"></i><i style="left:518.0px;width:2.5px;background:linear-gradient(#0a219f,#0a219f 8%,#0a219f 16%,#0a219f 25%,#0a219f 35%,#0a219f 45%,#0a219f 55%,#0a219f 64%,#0a219f 72%,#0924a1 80%,#0929a4 86%,#0931a8 91%,#0741af 95%,#0653b5 98%,#065cb7)"></i><i style="left:520.0px;width:2.5px;background:linear-gradient(#0e0a90,#0e0a90 8%,#0e0a90 16%,#0e0a90 25%,#0e0a90 35%,#0e0a90 45%,#0e0a90 55%,#0e0a90 64%,#0e0a90 72%,#0d0d92 80%,#0c1195 86%,#0b1799 91%,#0929a4 95%,#073faf 98%,#064cb3)"></i><i style="left:522.0px;width:2.5px;background:linear-gradient(#0927a2,#0927a2 8%,#0927a2 16%,#0927a2 25%,#0927a2 35%,#0927a2 45%,#0927a2 55%,#0927a2 64%,#0927a2 72%,#092ca5 80%,#0831a8 86%,#0839ac 91%,#0748b2 95%,#0657b6 98%,#0660b8)"></i><i style="left:524.0px;width:2.5px;background:linear-gradient(#0925a1,#0925a1 8%,#0925a1 16%,#0925a1 25%,#0925a1 35%,#0925a1 45%,#0925a1 55%,#0925a1 64%,#0925a1 72%,#092aa4 80%,#092fa7 86%,#0837ac 91%,#0747b1 95%,#0657b6 98%,#0660b8)"></i><i style="left:526.0px;width:2.5px;background:linear-gradient(#0a209e,#0a209e 8%,#0a209e 16%,#0a209e 25%,#0a209e 35%,#0a209e 45%,#0a209e 55%,#0a209e 64%,#0a209e 72%,#0924a1 80%,#092aa4 86%,#0831a8 91%,#0743b0 95%,#0654b6 98%,#065eb8)"></i><i style="left:528.0px;width:2.5px;background:linear-gradient(#10008a,#10008a 8%,#10008a 16%,#10008a 25%,#10008a 35%,#10008a 45%,#10008a 55%,#10008a 64%,#10008a 72%,#0f048c 80%,#0e088f 86%,#0d0e93 91%,#0a1f9e 95%,#0839ac 98%,#0747b1)"></i><i style="left:530.0px;width:2.5px;background:linear-gradient(#0b1698,#0b1698 8%,#0b1698 16%,#0b1698 25%,#0b1698 35%,#0b1698 45%,#0b1698 55%,#0b1698 64%,#0b1698 72%,#0b199a 80%,#0a1e9d 86%,#0926a2 91%,#083aad 95%,#064fb4 98%,#0659b7)"></i><i style="left:532.0px;width:2.5px;background:linear-gradient(#0926a2,#0926a2 8%,#0926a2 16%,#0926a2 25%,#0926a2 35%,#0926a2 45%,#0926a2 55%,#0926a2 64%,#0926a2 72%,#092ba4 80%,#0930a7 86%,#0838ac 91%,#0649b2 95%,#065ab7 98%,#0662b8)"></i><i style="left:534.0px;width:2.5px;background:linear-gradient(#0c1396,#0c1396 8%,#0c1396 16%,#0c1396 25%,#0c1396 35%,#0c1396 45%,#0c1396 55%,#0c1396 64%,#0c1396 72%,#0b1698 80%,#0a1b9b 86%,#0a22a0 91%,#0838ac 95%,#064eb4 98%,#0658b7)"></i><i style="left:536.0px;width:2.5px;background:linear-gradient(#0a1b9c,#0a1b9c 8%,#0a1b9c 16%,#0a1b9c 25%,#0a1b9c 35%,#0a1b9c 45%,#0a1b9c 55%,#0a1b9c 64%,#0a1b9c 72%,#0a209e 80%,#0925a1 86%,#092da6 91%,#0741af 95%,#0655b6 98%,#065fb8)"></i><i style="left:538.0px;width:2.5px;background:linear-gradient(#10018b,#10018b 8%,#10018b 16%,#10018b 25%,#10018b 35%,#10018b 45%,#10018b 55%,#10018b 64%,#10018b 72%,#0f058d 80%,#0e0990 86%,#0d0f94 91%,#0a23a0 95%,#073eae 98%,#064db4)"></i><i style="left:540.0px;width:2.5px;background:linear-gradient(#0a1d9d,#0a1d9d 8%,#0a1d9d 16%,#0a1d9d 25%,#0a1d9d 35%,#0a1d9d 45%,#0a1d9d 55%,#0a1d9d 64%,#0a1d9d 72%,#0a229f 80%,#0927a2 86%,#092fa7 91%,#0743b0 95%,#0657b6 98%,#0661b8)"></i><i style="left:542.0px;width:2.5px;background:linear-gradient(#0a1b9c,#0a1b9c 8%,#0a1b9c 16%,#0a1b9c 25%,#0a1b9c 35%,#0a1b9c 45%,#0a1b9c 55%,#0a1b9c 64%,#0a1b9c 72%,#0a209e 80%,#0925a1 86%,#092da6 91%,#0741af 95%,#0656b6 98%,#0660b8)"></i><i style="left:544.0px;width:2.5px;background:linear-gradient(#083dae,#083dae 8%,#083dae 16%,#083dae 25%,#083dae 35%,#083dae 45%,#083dae 55%,#083dae 64%,#083dae 72%,#0740af 80%,#0744b0 86%,#064ab3 91%,#0658b7 95%,#0665b8 98%,#066db5)"></i><i style="left:546.0px;width:2.5px;background:linear-gradient(#0b1698,#0b1698 8%,#0b1698 16%,#0b1698 25%,#0b1698 35%,#0b1698 45%,#0b1698 55%,#0b1698 64%,#0b1698 72%,#0b199a 80%,#0a1c9c 86%,#0924a1 91%,#083bad 95%,#0651b5 98%,#065db8)"></i><i style="left:548.0px;width:2.5px;background:linear-gradient(#0746b1,#0746b1 8%,#0746b1 16%,#0746b1 25%,#0746b1 35%,#0746b1 45%,#0746b1 55%,#0746b1 64%,#0746b1 72%,#0748b2 80%,#064cb3 86%,#0651b5 91%,#065eb8 95%,#0669b7 98%,#0671b2)"></i><i style="left:550.0px;width:2.5px;background:linear-gradient(#0836ab,#0836ab 8%,#0836ab 16%,#0836ab 25%,#0836ab 35%,#0836ab 45%,#0836ab 55%,#0836ab 64%,#0836ab 72%,#0838ac 80%,#083cad 86%,#0742b0 91%,#0652b5 95%,#0661b8 98%,#0669b8)"></i><i style="left:552.0px;width:2.5px;background:linear-gradient(#0832a9,#0832a9 8%,#0832a9 16%,#0832a9 25%,#0832a9 35%,#0832a9 45%,#0832a9 55%,#0832a9 64%,#0832a9 72%,#0834aa 80%,#0838ac 86%,#073eae 91%,#064fb4 95%,#0660b8 98%,#0667b8)"></i><i style="left:554.0px;width:2.5px;background:linear-gradient(#0a1e9d,#0a1e9d 8%,#0a1e9d 16%,#0a1e9d 25%,#0a1e9d 35%,#0a1e9d 45%,#0a1e9d 55%,#0a1e9d 64%,#0a1e9d 72%,#0a1f9e 80%,#0a23a0 86%,#092aa4 91%,#073faf 95%,#0655b6 98%,#065fb8)"></i><i style="left:556.0px;width:2.5px;background:linear-gradient(#0a209e,#0a209e 8%,#0a209e 16%,#0a209e 25%,#0a209e 35%,#0a209e 45%,#0a209e 55%,#0a209e 64%,#0a209e 72%,#0a219f 80%,#0924a1 86%,#092ca5 91%,#0741af 95%,#0656b6 98%,#0660b8)"></i><i style="left:558.0px;width:2.5px;background:linear-gradient(#0649b2,#0649b2 8%,#0649b2 16%,#0649b2 25%,#0649b2 35%,#0649b2 45%,#0649b2 55%,#0649b2 64%,#0649b2 72%,#0649b2 80%,#064bb3 86%,#0650b5 91%,#065eb8 95%,#0669b8 98%,#0671b2)"></i><i style="left:560.0px;width:2.5px;background:linear-gradient(#0927a2,#0927a2 8%,#0927a2 16%,#0927a2 25%,#0927a2 35%,#0927a2 45%,#0927a2 55%,#0927a2 64%,#0927a2 72%,#0927a2 80%,#092aa4 86%,#0832a9 91%,#0746b1 95%,#0659b7 98%,#0662b8)"></i><i style="left:562.0px;width:2.5px;background:linear-gradient(#0926a2,#0926a2 8%,#0926a2 16%,#0926a2 25%,#0926a2 35%,#0926a2 45%,#0926a2 55%,#0926a2 64%,#0926a2 72%,#0927a2 80%,#092aa4 86%,#0832a8 91%,#0746b1 95%,#0659b7 98%,#0662b8)"></i><i style="left:564.0px;width:2.5px;background:linear-gradient(#092da5,#092da5 8%,#092da5 16%,#092da5 25%,#092da5 35%,#092da5 45%,#092da5 55%,#092da5 64%,#092da5 72%,#092da6 80%,#0931a8 86%,#0838ac 91%,#064bb3 95%,#065db8 98%,#0665b8)"></i><i style="left:566.0px;width:2.5px;background:linear-gradient(#0928a3,#0928a3 8%,#0928a3 16%,#0928a3 25%,#0928a3 35%,#0928a3 45%,#0928a3 55%,#0928a3 64%,#0928a3 72%,#0928a3 80%,#092ca5 86%,#0834aa 91%,#0747b2 95%,#065bb7 98%,#0664b8)"></i><i style="left:568.0px;width:2.5px;background:linear-gradient(#064cb3,#064cb3 8%,#064cb3 16%,#064cb3 25%,#064cb3 35%,#064cb3 45%,#064cb3 55%,#064cb3 64%,#064cb3 72%,#064db4 80%,#0650b4 86%,#0654b5 91%,#0660b8 95%,#066cb5 98%,#0675ae)"></i><i style="left:570.0px;width:2.5px;background:linear-gradient(#0653b5,#0653b5 8%,#0653b5 16%,#0653b5 25%,#0653b5 35%,#0653b5 45%,#0653b5 55%,#0653b5 64%,#0653b5 72%,#0653b5 80%,#0655b6 86%,#065ab7 91%,#0664b8 95%,#0671b2 98%,#067aa8)"></i><i style="left:572.0px;width:2.5px;background:linear-gradient(#073fae,#073fae 8%,#073fae 16%,#073fae 25%,#073fae 35%,#073fae 45%,#073fae 55%,#073fae 64%,#073fae 72%,#0740af 80%,#0743b0 86%,#0649b2 91%,#0658b7 95%,#0666b8 98%,#066fb4)"></i><i style="left:574.0px;width:2.5px;background:linear-gradient(#0927a2,#0927a2 8%,#0927a2 16%,#0927a2 25%,#0927a2 35%,#0927a2 45%,#0927a2 55%,#0927a2 64%,#0927a2 72%,#0929a3 80%,#092da6 86%,#0835aa 91%,#0649b2 95%,#065db8 98%,#0665b8)"></i><i style="left:576.0px;width:2.5px;background:linear-gradient(#064bb3,#064bb3 8%,#064bb3 16%,#064bb3 25%,#064bb3 35%,#064bb3 45%,#064bb3 55%,#064bb3 64%,#064bb3 72%,#064db3 80%,#064fb4 86%,#0654b5 91%,#0660b8 95%,#066db5 98%,#0676ad)"></i><i style="left:578.0px;width:2.5px;background:linear-gradient(#0743b0,#0743b0 8%,#0743b0 16%,#0743b0 25%,#0743b0 35%,#0743b0 45%,#0743b0 55%,#0743b0 64%,#0743b0 72%,#0744b0 80%,#0747b2 86%,#064eb4 91%,#065cb7 95%,#0669b8 98%,#0672b1)"></i><i style="left:580.0px;width:2.5px;background:linear-gradient(#073faf,#073faf 8%,#073faf 16%,#073faf 25%,#073faf 35%,#073faf 45%,#073faf 55%,#073faf 64%,#073faf 72%,#0741af 80%,#0745b1 86%,#064bb3 91%,#065ab7 95%,#0667b8 98%,#0671b2)"></i><i style="left:582.0px;width:2.5px;background:linear-gradient(#064ab3,#064ab3 8%,#064ab3 16%,#064ab3 25%,#064ab3 35%,#064ab3 45%,#064ab3 55%,#064ab3 64%,#064ab3 72%,#064db3 80%,#064fb4 86%,#0654b5 91%,#0661b8 95%,#066eb4 98%,#0677ac)"></i><i style="left:584.0px;width:2.5px;background:linear-gradient(#0838ac,#0838ac 8%,#0838ac 16%,#0838ac 25%,#0838ac 35%,#0838ac 45%,#0838ac 55%,#0838ac 64%,#0838ac 72%,#083aad 80%,#073eae 86%,#0744b0 91%,#0655b6 95%,#0664b8 98%,#066db4)"></i><i style="left:586.0px;width:2.5px;background:linear-gradient(#064cb3,#064cb3 8%,#064cb3 16%,#064cb3 25%,#064cb3 35%,#064cb3 45%,#064cb3 55%,#064cb3 64%,#064cb3 72%,#064eb4 80%,#0651b5 86%,#0655b6 91%,#0662b8 95%,#066fb3 98%,#0679aa)"></i><i style="left:588.0px;width:2.5px;background:linear-gradient(#0836ab,#0836ab 8%,#0836ab 16%,#0836ab 25%,#0836ab 35%,#0836ab 45%,#0836ab 55%,#0836ab 64%,#0836ab 72%,#0839ac 80%,#083dae 86%,#0743b0 91%,#0655b6 95%,#0665b8 98%,#066eb4)"></i><i style="left:590.0px;width:2.5px;background:linear-gradient(#0832a9,#0832a9 8%,#0832a9 16%,#0832a9 25%,#0832a9 35%,#0832a9 45%,#0832a9 55%,#0832a9 64%,#0832a9 72%,#0835ab 80%,#083aad 86%,#0740af 91%,#0653b5 95%,#0663b8 98%,#066cb5)"></i><i style="left:592.0px;width:2.5px;background:linear-gradient(#064bb3,#064bb3 8%,#064bb3 16%,#064bb3 25%,#064bb3 35%,#064bb3 45%,#064bb3 55%,#064bb3 64%,#064bb3 72%,#064eb4 80%,#0651b5 86%,#0656b6 91%,#0662b8 95%,#0670b3 98%,#067aa8)"></i><i style="left:594.0px;width:2.5px;background:linear-gradient(#0833a9,#0833a9 8%,#0833a9 16%,#0833a9 25%,#0833a9 35%,#0833a9 45%,#0833a9 55%,#0833a9 64%,#0833a9 72%,#0837ab 80%,#083bad 86%,#0741af 91%,#0654b5 95%,#0664b8 98%,#066db5)"></i><i style="left:596.0px;width:2.5px;background:linear-gradient(#0655b6,#0655b6 8%,#0655b6 16%,#0655b6 25%,#0655b6 35%,#0655b6 45%,#0655b6 55%,#0655b6 64%,#0655b6 72%,#0657b6 80%,#065ab7 86%,#065eb8 91%,#0668b8 95%,#0677ac 98%,#06819d)"></i><i style="left:598.0px;width:2.5px;background:linear-gradient(#0743b0,#0743b0 8%,#0743b0 16%,#0743b0 25%,#0743b0 35%,#0743b0 45%,#0743b0 55%,#0743b0 64%,#0743b0 72%,#0746b1 80%,#064ab3 86%,#0650b4 91%,#065fb8 95%,#066cb5 98%,#0676ad)"></i><i style="left:600.0px;width:2.5px;background:linear-gradient(#073eae,#073eae 8%,#073eae 16%,#073eae 25%,#073eae 35%,#073eae 45%,#073eae 55%,#073eae 64%,#073eae 72%,#0742af 80%,#0746b1 86%,#064cb3 91%,#065cb7 95%,#066ab7 98%,#0674b0)"></i><i style="left:602.0px;width:2.5px;background:linear-gradient(#0650b4,#0650b4 8%,#0650b4 16%,#0650b4 25%,#0650b4 35%,#0650b4 45%,#0650b4 55%,#0650b4 64%,#0650b4 72%,#0652b5 80%,#0655b6 86%,#065ab7 91%,#0665b8 95%,#0674b0 98%,#067ea1)"></i><i style="left:604.0px;width:2.5px;background:linear-gradient(#0657b6,#0657b6 8%,#0657b6 16%,#0657b6 25%,#0657b6 35%,#0657b6 45%,#0657b6 55%,#0657b6 64%,#0657b6 72%,#0659b7 80%,#065cb8 86%,#0660b8 91%,#066ab7 95%,#0679a9 98%,#068399)"></i><i style="left:606.0px;width:2.5px;background:linear-gradient(#0740af,#0740af 8%,#0740af 16%,#0740af 25%,#0740af 35%,#0740af 45%,#0740af 55%,#0740af 64%,#0740af 72%,#0744b0 80%,#0748b2 86%,#064eb4 91%,#065eb8 95%,#066bb6 98%,#0676ad)"></i><i style="left:608.0px;width:2.5px;background:linear-gradient(#092fa7,#092fa7 8%,#092fa7 16%,#092fa7 25%,#092fa7 35%,#092fa7 45%,#092fa7 55%,#092fa7 64%,#092fa7 72%,#0833a9 80%,#0838ac 86%,#073eae 91%,#0652b5 95%,#0664b8 98%,#066db5)"></i><i style="left:610.0px;width:2.5px;background:linear-gradient(#0746b1,#0746b1 8%,#0746b1 16%,#0746b1 25%,#0746b1 35%,#0746b1 45%,#0746b1 55%,#0746b1 64%,#0746b1 72%,#064ab2 80%,#064eb4 86%,#0652b5 91%,#0661b8 95%,#066fb4 98%,#0679a9)"></i><i style="left:612.0px;width:2.5px;background:linear-gradient(#0653b5,#0653b5 8%,#0653b5 16%,#0653b5 25%,#0653b5 35%,#0653b5 45%,#0653b5 55%,#0653b5 64%,#0653b5 72%,#0656b6 80%,#0659b7 86%,#065db8 91%,#0667b8 95%,#0677ac 98%,#06819d)"></i><i style="left:614.0px;width:2.5px;background:linear-gradient(#0740af,#0740af 8%,#0740af 16%,#0740af 25%,#0740af 35%,#0740af 45%,#0740af 55%,#0740af 64%,#0740af 72%,#0743b0 80%,#0748b2 86%,#064eb4 91%,#065eb8 95%,#066bb6 98%,#0676ad)"></i><i style="left:616.0px;width:2.5px;background:linear-gradient(#092fa7,#092fa7 8%,#092fa7 16%,#092fa7 25%,#092fa7 35%,#092fa7 45%,#092fa7 55%,#092fa7 64%,#092fa7 72%,#0833a9 80%,#0838ac 86%,#073eae 91%,#0652b5 95%,#0664b8 98%,#066eb4)"></i><i style="left:618.0px;width:2.5px;background:linear-gradient(#0744b0,#0744b0 8%,#0744b0 16%,#0744b0 25%,#0744b0 35%,#0744b0 45%,#0744b0 55%,#0744b0 64%,#0744b0 72%,#0747b2 80%,#064bb3 86%,#0651b5 91%,#065fb8 95%,#066eb4 98%,#0678aa)"></i><i style="left:620.0px;width:2.5px;background:linear-gradient(#083dae,#083dae 8%,#083dae 16%,#083dae 25%,#083dae 35%,#083dae 45%,#083dae 55%,#083dae 64%,#083dae 72%,#0740af 80%,#0744b0 86%,#064ab3 91%,#065bb7 95%,#066ab7 98%,#0674af)"></i><i style="left:622.0px;width:2.5px;background:linear-gradient(#092ca5,#092ca5 8%,#092ca5 16%,#092ca5 25%,#092ca5 35%,#092ca5 45%,#092ca5 55%,#092ca5 64%,#092ca5 72%,#092fa7 80%,#0834aa 86%,#083bad 91%,#0650b5 95%,#0663b8 98%,#066cb5)"></i><i style="left:624.0px;width:2.5px;background:linear-gradient(#083bad,#083bad 8%,#083bad 16%,#083bad 25%,#083bad 35%,#083bad 45%,#083bad 55%,#083bad 64%,#083bad 72%,#073eae 80%,#0742b0 86%,#0748b2 91%,#0659b7 95%,#0669b8 98%,#0673b0)"></i><i style="left:626.0px;width:2.5px;background:linear-gradient(#0835aa,#0835aa 8%,#0835aa 16%,#0835aa 25%,#0835aa 35%,#0835aa 45%,#0835aa 55%,#0835aa 64%,#0835aa 72%,#0839ac 80%,#083cae 86%,#0743b0 91%,#0656b6 95%,#0666b8 98%,#0671b2)"></i><i style="left:628.0px;width:2.5px;background:linear-gradient(#073faf,#073faf 8%,#073faf 16%,#073faf 25%,#073faf 35%,#073faf 45%,#073faf 55%,#073faf 64%,#073faf 72%,#0742b0 80%,#0746b1 86%,#064cb3 91%,#065db8 95%,#066bb6 98%,#0676ad)"></i><i style="left:630.0px;width:2.5px;background:linear-gradient(#0838ac,#0838ac 8%,#0838ac 16%,#0838ac 25%,#0838ac 35%,#0838ac 45%,#0838ac 55%,#0838ac 64%,#0838ac 72%,#083bad 80%,#073eae 86%,#0744b1 91%,#0657b6 95%,#0667b8 98%,#0672b1)"></i><i style="left:632.0px;width:2.5px;background:linear-gradient(#0745b1,#0745b1 8%,#0745b1 16%,#0745b1 25%,#0745b1 35%,#0745b1 45%,#0745b1 55%,#0745b1 64%,#0745b1 72%,#0747b1 80%,#064bb3 86%,#0650b5 91%,#065fb8 95%,#066eb4 98%,#0679a9)"></i><i style="left:634.0px;width:2.5px;background:linear-gradient(#083dae,#083dae 8%,#083dae 16%,#083dae 25%,#083dae 35%,#083dae 45%,#083dae 55%,#083dae 64%,#083dae 72%,#073faf 80%,#0743b0 86%,#0649b2 91%,#065ab7 95%,#066ab7 98%,#0674af)"></i><i style="left:636.0px;width:2.5px;background:linear-gradient(#0a1f9e,#0a1f9e 8%,#0a1f9e 16%,#0a1f9e 25%,#0a1f9e 35%,#0a1f9e 45%,#0a1f9e 55%,#0a1f9e 64%,#0a1f9e 72%,#0a22a0 80%,#0927a2 86%,#092fa7 91%,#0747b1 95%,#065eb8 98%,#0668b8)"></i><i style="left:638.0px;width:2.5px;background:linear-gradient(#0740af,#0740af 8%,#0740af 16%,#0740af 25%,#0740af 35%,#0740af 45%,#0740af 55%,#0740af 64%,#0740af 72%,#0742b0 80%,#0746b1 86%,#064cb3 91%,#065db8 95%,#066cb6 98%,#0677ac)"></i><i style="left:640.0px;width:2.5px;background:linear-gradient(#064ab2,#064ab2 8%,#064ab2 16%,#064ab2 25%,#064ab2 35%,#064ab2 45%,#064ab2 55%,#064ab2 64%,#064ab2 72%,#064cb3 80%,#064fb4 86%,#0654b5 91%,#0662b8 95%,#0671b2 98%,#067ca5)"></i><i style="left:642.0px;width:2.5px;background:linear-gradient(#064fb4,#064fb4 8%,#064fb4 16%,#064fb4 25%,#064fb4 35%,#064fb4 45%,#064fb4 55%,#064fb4 64%,#064fb4 72%,#0650b5 80%,#0653b5 86%,#0657b6 91%,#0664b8 95%,#0674b0 98%,#067fa1)"></i><i style="left:644.0px;width:2.5px;background:linear-gradient(#0650b5,#0650b5 8%,#0650b5 16%,#0650b5 25%,#0650b5 35%,#0650b5 45%,#0650b5 55%,#0650b5 64%,#0650b5 72%,#0652b5 80%,#0654b6 86%,#0659b7 91%,#0665b8 95%,#0675af 98%,#06809f)"></i><i style="left:646.0px;width:2.5px;background:linear-gradient(#073fae,#073fae 8%,#073fae 16%,#073fae 25%,#073fae 35%,#073fae 45%,#073fae 55%,#073fae 64%,#073fae 72%,#0741af 80%,#0744b0 86%,#064ab3 91%,#065cb7 95%,#066bb6 98%,#0676ad)"></i><i style="left:648.0px;width:2.5px;background:linear-gradient(#0838ac,#0838ac 8%,#0838ac 16%,#0838ac 25%,#0838ac 35%,#0838ac 45%,#0838ac 55%,#0838ac 64%,#0838ac 72%,#083aad 80%,#083dae 86%,#0744b0 91%,#0657b6 95%,#0667b8 98%,#0672b1)"></i><i style="left:650.0px;width:2.5px;background:linear-gradient(#0748b2,#0748b2 8%,#0748b2 16%,#0748b2 25%,#0748b2 35%,#0748b2 45%,#0748b2 55%,#0748b2 64%,#0748b2 72%,#064ab3 80%,#064eb4 86%,#0652b5 91%,#0661b8 95%,#0670b3 98%,#067ba6)"></i><i style="left:652.0px;width:2.5px;background:linear-gradient(#092aa4,#092aa4 8%,#092aa4 16%,#092aa4 25%,#092aa4 35%,#092aa4 45%,#092aa4 55%,#092aa4 64%,#092aa4 72%,#092da5 80%,#0931a8 86%,#0838ac 91%,#064fb4 95%,#0663b8 98%,#066db5)"></i><i style="left:654.0px;width:2.5px;background:linear-gradient(#0a209e,#0a209e 8%,#0a209e 16%,#0a209e 25%,#0a209e 35%,#0a209e 45%,#0a209e 55%,#0a209e 64%,#0a209e 72%,#0a229f 80%,#0926a2 86%,#092ea6 91%,#0747b1 95%,#065fb8 98%,#0668b8)"></i><i style="left:656.0px;width:2.5px;background:linear-gradient(#0652b5,#0652b5 8%,#0652b5 16%,#0652b5 25%,#0652b5 35%,#0652b5 45%,#0652b5 55%,#0652b5 64%,#0652b5 72%,#0653b5 80%,#0656b6 86%,#065ab7 91%,#0666b8 95%,#0676ad 98%,#06819c)"></i><i style="left:658.0px;width:2.5px;background:linear-gradient(#083dae,#083dae 8%,#083dae 16%,#083dae 25%,#083dae 35%,#083dae 45%,#083dae 55%,#083dae 64%,#083dae 72%,#073fae 80%,#0742b0 86%,#0748b2 91%,#065bb7 95%,#066ab6 98%,#0676ae)"></i><i style="left:660.0px;width:2.5px;background:linear-gradient(#0746b1,#0746b1 8%,#0746b1 16%,#0746b1 25%,#0746b1 35%,#0746b1 45%,#0746b1 55%,#0746b1 64%,#0746b1 72%,#0747b2 80%,#064bb3 86%,#0650b4 91%,#0660b8 95%,#066fb3 98%,#067aa7)"></i><i style="left:662.0px;width:2.5px;background:linear-gradient(#0931a8,#0931a8 8%,#0931a8 16%,#0931a8 25%,#0931a8 35%,#0931a8 45%,#0931a8 55%,#0931a8 64%,#0931a8 72%,#0832a9 80%,#0836ab 86%,#083dae 91%,#0652b5 95%,#0665b8 98%,#0670b3)"></i><i style="left:664.0px;width:2.5px;background:linear-gradient(#0928a3,#0928a3 8%,#0928a3 16%,#0928a3 25%,#0928a3 35%,#0928a3 45%,#0928a3 55%,#0928a3 64%,#0928a3 72%,#092aa4 80%,#092ea6 86%,#0836ab 91%,#064eb4 95%,#0662b8 98%,#066cb5)"></i><i style="left:666.0px;width:2.5px;background:linear-gradient(#0926a1,#0926a1 8%,#0926a1 16%,#0926a1 25%,#0926a1 35%,#0926a1 45%,#0926a1 55%,#0926a1 64%,#0926a1 72%,#0927a2 80%,#092ba5 86%,#0833a9 91%,#064bb3 95%,#0661b8 98%,#066bb6)"></i><i style="left:668.0px;width:2.5px;background:linear-gradient(#092da6,#092da6 8%,#092da6 16%,#092da6 25%,#092da6 35%,#092da6 45%,#092da6 55%,#092da6 64%,#092da6 72%,#092ea7 80%,#0832a9 86%,#083aad 91%,#0650b5 95%,#0664b8 98%,#066eb4)"></i><i style="left:670.0px;width:2.5px;background:linear-gradient(#0742b0,#0742b0 8%,#0742b0 16%,#0742b0 25%,#0742b0 35%,#0742b0 45%,#0742b0 55%,#0742b0 64%,#0742b0 72%,#0744b0 80%,#0747b1 86%,#064db4 91%,#065eb8 95%,#066db4 98%,#0679a9)"></i><i style="left:672.0px;width:2.5px;background:linear-gradient(#0b1799,#0b1799 8%,#0b1799 16%,#0b1799 25%,#0b1799 35%,#0b1799 45%,#0b1799 55%,#0b1799 64%,#0b1799 72%,#0b1899 80%,#0a1b9b 86%,#0a22a0 91%,#073fae 95%,#065ab7 98%,#0665b8)"></i><i style="left:674.0px;width:2.5px;background:linear-gradient(#064cb3,#064cb3 8%,#064cb3 16%,#064cb3 25%,#064cb3 35%,#064cb3 45%,#064cb3 55%,#064cb3 64%,#064cb3 72%,#064db4 80%,#0650b4 86%,#0654b5 91%,#0662b8 95%,#0673b1 98%,#067ea2)"></i><i style="left:676.0px;width:2.5px;background:linear-gradient(#0740af,#0740af 8%,#0740af 16%,#0740af 25%,#0740af 35%,#0740af 45%,#0740af 55%,#0740af 64%,#0740af 72%,#0741af 80%,#0744b0 86%,#064ab3 91%,#065db8 95%,#066cb5 98%,#0678ab)"></i><i style="left:678.0px;width:2.5px;background:linear-gradient(#083dae,#083dae 8%,#083dae 16%,#083dae 25%,#083dae 35%,#083dae 45%,#083dae 55%,#083dae 64%,#083dae 72%,#073eae 80%,#0741af 86%,#0747b2 91%,#065ab7 95%,#066bb6 98%,#0676ad)"></i><i style="left:680.0px;width:2.5px;background:linear-gradient(#0656b6,#0656b6 8%,#0656b6 16%,#0656b6 25%,#0656b6 35%,#0656b6 45%,#0656b6 55%,#0656b6 64%,#0656b6 72%,#0657b6 80%,#0659b7 86%,#065db8 91%,#0668b8 95%,#067aa8 98%,#068596)"></i><i style="left:682.0px;width:2.5px;background:linear-gradient(#0652b5,#0652b5 8%,#0652b5 16%,#0652b5 25%,#0652b5 35%,#0652b5 45%,#0652b5 55%,#0652b5 64%,#0652b5 72%,#0653b5 80%,#0655b6 86%,#0659b7 91%,#0666b8 95%,#0677ac 98%,#06829a)"></i><i style="left:684.0px;width:2.5px;background:linear-gradient(#083bad,#083bad 8%,#083bad 16%,#083bad 25%,#083bad 35%,#083bad 45%,#083bad 55%,#083bad 64%,#083bad 72%,#083bad 80%,#073eae 86%,#0744b0 91%,#0658b7 95%,#0669b7 98%,#0675af)"></i><i style="left:686.0px;width:2.5px;background:linear-gradient(#065bb7,#065bb7 8%,#065bb7 16%,#065bb7 25%,#065bb7 35%,#065bb7 45%,#065bb7 55%,#065bb7 64%,#065bb7 72%,#065cb7 80%,#065eb8 86%,#0660b8 91%,#066cb5 95%,#067ea2 98%,#06888f)"></i><i style="left:688.0px;width:2.5px;background:linear-gradient(#0837ab,#0837ab 8%,#0837ab 16%,#0837ab 25%,#0837ab 35%,#0837ab 45%,#0837ab 55%,#0837ab 64%,#0837ab 72%,#0837ac 80%,#083aad 86%,#0740af 91%,#0656b6 95%,#0667b8 98%,#0673b1)"></i><i style="left:690.0px;width:2.5px;background:linear-gradient(#083cae,#083cae 8%,#083cae 16%,#083cae 25%,#083cae 35%,#083cae 45%,#083cae 55%,#083cae 64%,#083cae 72%,#083dae 80%,#073faf 86%,#0745b1 91%,#0659b7 95%,#066ab7 98%,#0676ad)"></i><i style="left:692.0px;width:2.5px;background:linear-gradient(#0743b0,#0743b0 8%,#0743b0 16%,#0743b0 25%,#0743b0 35%,#0743b0 45%,#0743b0 55%,#0743b0 64%,#0743b0 72%,#0743b0 80%,#0746b1 86%,#064cb3 91%,#065eb8 95%,#066eb4 98%,#067aa8)"></i><i style="left:694.0px;width:2.5px;background:linear-gradient(#0656b6,#0656b6 8%,#0656b6 16%,#0656b6 25%,#0656b6 35%,#0656b6 45%,#0656b6 55%,#0656b6 64%,#0656b6 72%,#0656b6 80%,#0658b6 86%,#065cb8 91%,#0668b8 95%,#067aa8 98%,#068595)"></i><i style="left:696.0px;width:2.5px;background:linear-gradient(#0744b0,#0744b0 8%,#0744b0 16%,#0744b0 25%,#0744b0 35%,#0744b0 45%,#0744b0 55%,#0744b0 64%,#0744b0 72%,#0744b0 80%,#0747b1 86%,#064db4 91%,#065eb8 95%,#066eb4 98%,#067aa7)"></i><i style="left:698.0px;width:2.5px;background:linear-gradient(#0651b5,#0651b5 8%,#0651b5 16%,#0651b5 25%,#0651b5 35%,#0651b5 45%,#0651b5 55%,#0651b5 64%,#0651b5 72%,#0651b5 80%,#0653b5 86%,#0657b6 91%,#0665b8 95%,#0676ad 98%,#06829b)"></i><i style="left:700.0px;width:2.5px;background:linear-gradient(#0833a9,#0833a9 8%,#0833a9 16%,#0833a9 25%,#0833a9 35%,#0833a9 45%,#0833a9 55%,#0833a9 64%,#0833a9 72%,#0833a9 80%,#0836ab 86%,#083dae 91%,#0653b5 95%,#0666b8 98%,#0672b1)"></i><i style="left:702.0px;width:2.5px;background:linear-gradient(#0748b2,#0748b2 8%,#0748b2 16%,#0748b2 25%,#0748b2 35%,#0748b2 45%,#0748b2 55%,#0748b2 64%,#0748b2 72%,#0748b2 80%,#064ab3 86%,#0650b4 91%,#0660b8 95%,#0671b2 98%,#067da4)"></i><i style="left:704.0px;width:2.5px;background:linear-gradient(#0833a9,#0833a9 8%,#0833a9 16%,#0833a9 25%,#0833a9 35%,#0833a9 45%,#0833a9 55%,#0833a9 64%,#0833a9 72%,#0833a9 80%,#0836ab 86%,#083dae 91%,#0653b5 95%,#0666b8 98%,#0672b1)"></i><i style="left:706.0px;width:2.5px;background:linear-gradient(#083dae,#083dae 8%,#083dae 16%,#083dae 25%,#083dae 35%,#083dae 45%,#083dae 55%,#083dae 64%,#083dae 72%,#073eae 80%,#0740af 86%,#0746b1 91%,#065bb7 95%,#066cb6 98%,#0678ab)"></i><i style="left:708.0px;width:2.5px;background:linear-gradient(#0658b7,#0658b7 8%,#0658b7 16%,#0658b7 25%,#0658b7 35%,#0658b7 45%,#0658b7 55%,#0658b7 64%,#0658b7 72%,#0659b7 80%,#065ab7 86%,#065fb8 91%,#066ab6 95%,#067da4 98%,#068790)"></i><i style="left:710.0px;width:2.5px;background:linear-gradient(#0746b1,#0746b1 8%,#0746b1 16%,#0746b1 25%,#0746b1 35%,#0746b1 45%,#0746b1 55%,#0746b1 64%,#0746b1 72%,#0747b1 80%,#0649b2 86%,#064fb4 91%,#0660b8 95%,#0671b2 98%,#067da3)"></i><i style="left:712.0px;width:2.5px;background:linear-gradient(#0744b1,#0744b1 8%,#0744b1 16%,#0744b1 25%,#0744b1 35%,#0744b1 45%,#0744b1 55%,#0744b1 64%,#0744b1 72%,#0745b1 80%,#0748b2 86%,#064eb4 91%,#065fb8 95%,#0670b3 98%,#067ca4)"></i><i style="left:714.0px;width:2.5px;background:linear-gradient(#065ab7,#065ab7 8%,#065ab7 16%,#065ab7 25%,#065ab7 35%,#065ab7 45%,#065ab7 55%,#065ab7 64%,#065ab7 72%,#065ab7 80%,#065cb8 86%,#0660b8 91%,#066cb5 95%,#067ea1 98%,#06898c)"></i><i style="left:716.0px;width:2.5px;background:linear-gradient(#0746b1,#0746b1 8%,#0746b1 16%,#0746b1 25%,#0746b1 35%,#0746b1 45%,#0746b1 55%,#0746b1 64%,#0746b1 72%,#0746b1 80%,#0649b2 86%,#064fb4 91%,#0660b8 95%,#0671b2 98%,#067ea2)"></i><i style="left:718.0px;width:2.5px;background:linear-gradient(#083bad,#083bad 8%,#083bad 16%,#083bad 25%,#083bad 35%,#083bad 45%,#083bad 55%,#083bad 64%,#083bad 72%,#083bad 80%,#073eae 86%,#0745b1 91%,#065ab7 95%,#066cb6 98%,#0678aa)"></i><i style="left:720.0px;width:2.5px;background:linear-gradient(#0654b5,#0654b5 8%,#0654b5 16%,#0654b5 25%,#0654b5 35%,#0654b5 45%,#0654b5 55%,#0654b5 64%,#0654b5 72%,#0654b6 80%,#0656b6 86%,#065bb7 91%,#0668b8 95%,#067ba7 98%,#068693)"></i><i style="left:722.0px;width:2.5px;background:linear-gradient(#0740af,#0740af 8%,#0740af 16%,#0740af 25%,#0740af 35%,#0740af 45%,#0740af 55%,#0740af 64%,#0740af 72%,#0741af 80%,#0744b0 86%,#064bb3 91%,#065eb8 95%,#066fb3 98%,#067ca5)"></i><i style="left:724.0px;width:2.5px;background:linear-gradient(#0659b7,#0659b7 8%,#0659b7 16%,#0659b7 25%,#0659b7 35%,#0659b7 45%,#0659b7 55%,#0659b7 64%,#0659b7 72%,#0659b7 80%,#065cb7 86%,#0660b8 91%,#066cb5 95%,#067fa1 98%,#068a8b)"></i><i style="left:726.0px;width:2.5px;background:linear-gradient(#0652b5,#0652b5 8%,#0652b5 16%,#0652b5 25%,#0652b5 35%,#0652b5 45%,#0652b5 55%,#0652b5 64%,#0652b5 72%,#0653b5 80%,#0655b6 86%,#065ab7 91%,#0667b8 95%,#067aa7 98%,#068693)"></i><i style="left:728.0px;width:2.5px;background:linear-gradient(#0838ac,#0838ac 8%,#0838ac 16%,#0838ac 25%,#0838ac 35%,#0838ac 45%,#0838ac 55%,#0838ac 64%,#0838ac 72%,#0839ac 80%,#083cad 86%,#0743b0 91%,#0659b7 95%,#066bb6 98%,#0678ab)"></i><i style="left:730.0px;width:2.5px;background:linear-gradient(#0928a3,#0928a3 8%,#0928a3 16%,#0928a3 25%,#0928a3 35%,#0928a3 45%,#0928a3 55%,#0928a3 64%,#0928a3 72%,#092aa4 80%,#092ea6 86%,#0837ab 91%,#0650b5 95%,#0665b8 98%,#0672b2)"></i><i style="left:732.0px;width:2.5px;background:linear-gradient(#092da5,#092da5 8%,#092da5 16%,#092da5 25%,#092da5 35%,#092da5 45%,#092da5 55%,#092da5 64%,#092da5 72%,#092ea6 80%,#0832a9 86%,#083bad 91%,#0653b5 95%,#0667b8 98%,#0674b0)"></i><i style="left:734.0px;width:2.5px;background:linear-gradient(#0838ac,#0838ac 8%,#0838ac 16%,#0838ac 25%,#0838ac 35%,#0838ac 45%,#0838ac 55%,#0838ac 64%,#0838ac 72%,#0839ac 80%,#083dae 86%,#0744b0 91%,#065ab7 95%,#066cb5 98%,#0679a9)"></i><i style="left:736.0px;width:2.5px;background:linear-gradient(#092aa4,#092aa4 8%,#092aa4 16%,#092aa4 25%,#092aa4 35%,#092aa4 45%,#092aa4 55%,#092aa4 64%,#092aa4 72%,#092ca5 80%,#0931a8 86%,#0839ac 91%,#0652b5 95%,#0667b8 98%,#0673b0)"></i><i style="left:738.0px;width:2.5px;background:linear-gradient(#0748b2,#0748b2 8%,#0748b2 16%,#0748b2 25%,#0748b2 35%,#0748b2 45%,#0748b2 55%,#0748b2 64%,#0748b2 72%,#0649b2 80%,#064db4 86%,#0652b5 91%,#0663b8 95%,#0675ae 98%,#06829b)"></i><i style="left:740.0px;width:2.5px;background:linear-gradient(#0a22a0,#0a22a0 8%,#0a22a0 16%,#0a22a0 25%,#0a22a0 35%,#0a22a0 45%,#0a22a0 55%,#0a22a0 64%,#0a22a0 72%,#0924a1 80%,#0929a3 86%,#0832a9 91%,#064eb4 95%,#0664b8 98%,#0670b2)"></i><i style="left:742.0px;width:2.5px;background:linear-gradient(#0834aa,#0834aa 8%,#0834aa 16%,#0834aa 25%,#0834aa 35%,#0834aa 45%,#0834aa 55%,#0834aa 64%,#0834aa 72%,#0836ab 80%,#083aad 86%,#0741af 91%,#0658b7 95%,#066bb6 98%,#0678aa)"></i><i style="left:744.0px;width:2.5px;background:linear-gradient(#092ca5,#092ca5 8%,#092ca5 16%,#092ca5 25%,#092ca5 35%,#092ca5 45%,#092ca5 55%,#092ca5 64%,#092ca5 72%,#092ea7 80%,#0833a9 86%,#083cad 91%,#0654b6 95%,#0668b8 98%,#0675ae)"></i><i style="left:746.0px;width:2.5px;background:linear-gradient(#0833a9,#0833a9 8%,#0833a9 16%,#0833a9 25%,#0833a9 35%,#0833a9 45%,#0833a9 55%,#0833a9 64%,#0833a9 72%,#0835aa 80%,#0839ac 86%,#0741af 91%,#0658b7 95%,#066bb6 98%,#0678aa)"></i><i style="left:748.0px;width:2.5px;background:linear-gradient(#064cb3,#064cb3 8%,#064cb3 16%,#064cb3 25%,#064cb3 35%,#064cb3 45%,#064cb3 55%,#064cb3 64%,#064cb3 72%,#064eb4 80%,#0651b5 86%,#0656b6 91%,#0666b8 95%,#0679a9 98%,#068594)"></i><i style="left:750.0px;width:2.5px;background:linear-gradient(#083cae,#083cae 8%,#083cae 16%,#083cae 25%,#083cae 35%,#083cae 45%,#083cae 55%,#083cae 64%,#083cae 72%,#073eae 80%,#0742b0 86%,#0649b2 91%,#065eb8 95%,#0670b2 98%,#067ea2)"></i><i style="left:752.0px;width:2.5px;background:linear-gradient(#0651b5,#0651b5 8%,#0651b5 16%,#0651b5 25%,#0651b5 35%,#0651b5 45%,#0651b5 55%,#0651b5 64%,#0651b5 72%,#0652b5 80%,#0655b6 86%,#065ab7 91%,#0668b8 95%,#067ca4 98%,#06888e)"></i><i style="left:754.0px;width:2.5px;background:linear-gradient(#0740af,#0740af 8%,#0740af 16%,#0740af 25%,#0740af 35%,#0740af 45%,#0740af 55%,#0740af 64%,#0740af 72%,#0742b0 80%,#0746b1 86%,#064eb4 91%,#0661b8 95%,#0674b0 98%,#06829c)"></i><i style="left:756.0px;width:2.5px;background:linear-gradient(#092ea6,#092ea6 8%,#092ea6 16%,#092ea6 25%,#092ea6 35%,#092ea6 45%,#092ea6 55%,#092ea6 64%,#092ea6 72%,#0931a8 80%,#0836ab 86%,#073eae 91%,#0657b6 95%,#066cb5 98%,#067ba6)"></i><i style="left:758.0px;width:2.5px;background:linear-gradient(#0a219f,#0a219f 8%,#0a219f 16%,#0a219f 25%,#0a219f 35%,#0a219f 45%,#0a219f 55%,#0a219f 64%,#0a219f 72%,#0923a0 80%,#0929a3 86%,#0833a9 91%,#064fb4 95%,#0668b8 98%,#0677ab)"></i><i style="left:760.0px;width:2.5px;background:linear-gradient(#0a219f,#0a219f 8%,#0a219f 16%,#0a219f 25%,#0a219f 35%,#0a219f 45%,#0a219f 55%,#0a219f 64%,#0a219f 72%,#0924a1 80%,#0929a4 86%,#0834a9 91%,#0650b4 95%,#066ab7 98%,#067aa8)"></i><i style="left:762.0px;width:2.5px;background:linear-gradient(#073eae,#073eae 8%,#073eae 16%,#073eae 25%,#073eae 35%,#073eae 45%,#073eae 55%,#073eae 64%,#073eae 72%,#0741af 80%,#0745b1 86%,#064db4 91%,#0660b8 95%,#0678aa 98%,#06878f)"></i><i style="left:764.0px;width:2.5px;background:linear-gradient(#0926a1,#0926a1 8%,#0926a1 16%,#0926a1 25%,#0926a1 35%,#0926a1 45%,#0926a1 55%,#0926a1 64%,#0926a1 72%,#0928a3 80%,#092ea6 86%,#0838ac 91%,#0653b5 95%,#066eb4 98%,#067fa0)"></i><i style="left:766.0px;width:2.5px;background:linear-gradient(#083bad,#083bad 8%,#083bad 16%,#083bad 25%,#083bad 35%,#083bad 45%,#083bad 55%,#083bad 64%,#083bad 72%,#073eae 80%,#0742b0 86%,#064ab3 91%,#065fb8 95%,#0679a9 98%,#06898b)"></i><i style="left:768.0px;width:2.5px;background:linear-gradient(#0650b5,#0650b5 8%,#0650b5 16%,#0650b5 25%,#0650b5 35%,#0650b5 45%,#0650b5 55%,#0650b5 64%,#0650b5 72%,#0652b5 80%,#0655b6 86%,#065bb7 91%,#0669b7 95%,#068594 98%,#069172)"></i><i style="left:770.0px;width:2.5px;background:linear-gradient(#0653b5,#0653b5 8%,#0653b5 16%,#0653b5 25%,#0653b5 35%,#0653b5 45%,#0653b5 55%,#0653b5 64%,#0653b5 72%,#0655b6 80%,#0658b7 86%,#065eb8 91%,#066cb6 95%,#06888f 98%,#07936b)"></i><i style="left:772.0px;width:2.5px;background:linear-gradient(#065ab7,#065ab7 8%,#065ab7 16%,#065ab7 25%,#065ab7 35%,#065ab7 45%,#065ab7 55%,#065ab7 64%,#065ab7 72%,#065cb7 80%,#065fb8 86%,#0662b8 91%,#0671b2 95%,#068c83 98%,#08965e)"></i><i style="left:774.0px;width:2.5px;background:linear-gradient(#0745b1,#0745b1 8%,#0745b1 16%,#0745b1 25%,#0745b1 35%,#0745b1 45%,#0745b1 55%,#0745b1 64%,#0745b1 72%,#0748b2 80%,#064cb3 86%,#0653b5 91%,#0664b8 95%,#068399 98%,#069073)"></i><i style="left:776.0px;width:2.5px;background:linear-gradient(#0836ab,#0836ab 8%,#0836ab 16%,#0836ab 25%,#0836ab 35%,#0836ab 45%,#0836ab 55%,#0836ab 64%,#0836ab 72%,#0839ac 80%,#073eae 86%,#0746b1 91%,#065db8 95%,#067ca4 98%,#068d7f)"></i><i style="left:778.0px;width:2.5px;background:linear-gradient(#0649b2,#0649b2 8%,#0649b2 16%,#0649b2 25%,#0649b2 35%,#0649b2 45%,#0649b2 55%,#0649b2 64%,#0649b2 72%,#064cb3 80%,#0650b4 86%,#0656b6 91%,#0666b8 95%,#068791 98%,#079368)"></i><i style="left:780.0px;width:2.5px;background:linear-gradient(#0741af,#0741af 8%,#0741af 16%,#0741af 25%,#0741af 35%,#0741af 45%,#0741af 55%,#0741af 64%,#0741af 72%,#0744b0 80%,#0649b2 86%,#0650b5 91%,#0663b8 95%,#068497 98%,#07926d)"></i><i style="left:782.0px;width:2.5px;background:linear-gradient(#0743b0,#0743b0 8%,#0743b0 16%,#0743b0 25%,#0743b0 35%,#0743b0 45%,#0743b0 55%,#0743b0 64%,#0743b0 72%,#0746b1 80%,#064bb3 86%,#0652b5 91%,#0664b8 95%,#068693 98%,#079367)"></i><i style="left:784.0px;width:2.5px;background:linear-gradient(#092da6,#092da6 8%,#092da6 16%,#092da6 25%,#092da6 35%,#092da6 45%,#092da6 55%,#092da6 64%,#092da6 72%,#0931a8 80%,#0837ac 86%,#0740af 91%,#0659b7 95%,#067ea2 98%,#068f77)"></i><i style="left:786.0px;width:2.5px;background:linear-gradient(#0743b0,#0743b0 8%,#0743b0 16%,#0743b0 25%,#0743b0 35%,#0743b0 45%,#0743b0 55%,#0743b0 64%,#0743b0 72%,#0746b1 80%,#064bb3 86%,#0652b5 91%,#0664b8 95%,#06888e 98%,#089560)"></i><i style="left:788.0px;width:2.5px;background:linear-gradient(#073faf,#073faf 8%,#073faf 16%,#073faf 25%,#073faf 35%,#073faf 45%,#073faf 55%,#073faf 64%,#073faf 72%,#0742b0 80%,#0747b2 86%,#0650b4 91%,#0662b8 95%,#068790 98%,#089560)"></i><i style="left:790.0px;width:2.5px;background:linear-gradient(#0744b0,#0744b0 8%,#0744b0 16%,#0744b0 25%,#0744b0 35%,#0744b0 45%,#0744b0 55%,#0744b0 64%,#0744b0 72%,#0747b2 80%,#064cb3 86%,#0653b5 91%,#0665b8 95%,#068a89 98%,#09975a)"></i><i style="left:792.0px;width:2.5px;background:linear-gradient(#064cb3,#064cb3 8%,#064cb3 16%,#064cb3 25%,#064cb3 35%,#064cb3 45%,#064cb3 55%,#064cb3 64%,#064cb3 72%,#064fb4 80%,#0653b5 86%,#0659b7 91%,#0669b7 95%,#068d7e 98%,#0a9952)"></i><i style="left:794.0px;width:2.5px;background:linear-gradient(#0740af,#0740af 8%,#0740af 16%,#0740af 25%,#0740af 35%,#0740af 45%,#0740af 55%,#0740af 64%,#0740af 72%,#0743b0 80%,#0748b2 86%,#0650b5 91%,#0663b8 95%,#068a89 98%,#099858)"></i><i style="left:796.0px;width:2.5px;background:linear-gradient(#083bad,#083bad 8%,#083bad 16%,#083bad 25%,#083bad 35%,#083bad 45%,#083bad 55%,#083bad 64%,#083bad 72%,#073eae 80%,#0744b0 86%,#064db4 91%,#0661b8 95%,#068a8b 98%,#099859)"></i><i style="left:798.0px;width:2.5px;background:linear-gradient(#083bad,#083bad 8%,#083bad 16%,#083bad 25%,#083bad 35%,#083bad 45%,#083bad 55%,#083bad 64%,#083bad 72%,#073eae 80%,#0743b0 86%,#064db3 91%,#0661b8 95%,#068a89 98%,#099857)"></i><i style="left:800.0px;width:2.5px;background:linear-gradient(#0741af,#0741af 8%,#0741af 16%,#0741af 25%,#0741af 35%,#0741af 45%,#0741af 55%,#0741af 64%,#0741af 72%,#0745b1 80%,#064ab3 86%,#0652b5 91%,#0664b8 95%,#068d80 98%,#0a9a50)"></i><i style="left:802.0px;width:2.5px;background:linear-gradient(#0834aa,#0834aa 8%,#0834aa 16%,#0834aa 25%,#0834aa 35%,#0834aa 45%,#0834aa 55%,#0834aa 64%,#0834aa 72%,#0838ac 80%,#073eae 86%,#0747b1 91%,#065fb8 95%,#068a8a 98%,#099856)"></i><i style="left:804.0px;width:2.5px;background:linear-gradient(#0655b6,#0655b6 8%,#0655b6 16%,#0655b6 25%,#0655b6 35%,#0655b6 45%,#0655b6 55%,#0655b6 64%,#0655b6 72%,#0658b6 80%,#065cb7 86%,#0661b8 91%,#0670b3 95%,#079467 98%,#0ca040)"></i><i style="left:806.0px;width:2.5px;background:linear-gradient(#0741af,#0741af 8%,#0741af 16%,#0741af 25%,#0741af 35%,#0741af 45%,#0741af 55%,#0742af 64%,#0742b0 72%,#0745b1 80%,#064bb3 86%,#0653b5 91%,#0665b8 95%,#068e7d 98%,#0a9b4d)"></i><i style="left:808.0px;width:2.5px;background:linear-gradient(#0747b2,#0747b2 8%,#0747b2 16%,#0747b2 25%,#0747b2 35%,#0747b2 45%,#0747b2 55%,#0748b2 64%,#0748b2 72%,#064cb3 80%,#0650b5 86%,#0657b6 91%,#0668b8 95%,#068f76 98%,#0b9d49)"></i><i style="left:810.0px;width:2.5px;background:linear-gradient(#0838ac,#0838ac 8%,#0838ac 16%,#0838ac 25%,#0838ac 35%,#0838ac 45%,#0838ac 55%,#0838ac 64%,#0838ac 72%,#083cad 80%,#0742b0 86%,#064bb3 91%,#0661b8 95%,#068b86 98%,#0a9952)"></i><i style="left:812.0px;width:2.5px;background:linear-gradient(#0834aa,#0834aa 8%,#0834aa 16%,#0834aa 25%,#0834aa 35%,#0834aa 45%,#0834aa 55%,#0834aa 64%,#0835aa 72%,#0839ac 80%,#073faf 86%,#0748b2 91%,#065fb8 95%,#068a88 98%,#099954)"></i><i style="left:814.0px;width:2.5px;background:linear-gradient(#0650b5,#0650b5 8%,#0650b5 16%,#0650b5 25%,#0650b5 35%,#0650b5 45%,#0650b5 55%,#0651b5 64%,#0651b5 72%,#0654b5 80%,#0658b6 86%,#065fb8 91%,#066eb4 95%,#07926b 98%,#0b9f42)"></i><i style="left:816.0px;width:2.5px;background:linear-gradient(#0930a8,#0930a8 8%,#0930a8 16%,#0930a8 25%,#0930a8 35%,#0930a8 45%,#0930a8 55%,#0931a8 64%,#0831a8 72%,#0836ab 80%,#083cae 86%,#0746b1 91%,#065eb8 95%,#068a8a 98%,#099855)"></i><i style="left:818.0px;width:2.5px;background:linear-gradient(#092ea6,#092ea6 8%,#092ea6 16%,#092ea6 25%,#092ea6 35%,#092ea6 45%,#092ea6 55%,#092ea6 64%,#092fa7 72%,#0834aa 80%,#083bad 86%,#0744b1 91%,#065eb8 95%,#06898c 98%,#099856)"></i><i style="left:820.0px;width:2.5px;background:linear-gradient(#0835aa,#0835aa 8%,#0835aa 16%,#0835aa 25%,#0835aa 35%,#0835aa 45%,#0835aa 55%,#0836ab 64%,#0837ab 72%,#083bad 80%,#0741af 86%,#064ab3 91%,#0660b8 95%,#068b86 98%,#0a9952)"></i><i style="left:822.0px;width:2.5px;background:linear-gradient(#073eae,#073eae 8%,#073eae 16%,#073eae 25%,#073eae 35%,#073eae 45%,#073eae 55%,#073fae 64%,#0740af 72%,#0743b0 80%,#0649b2 86%,#0652b5 91%,#0665b8 95%,#068e7d 98%,#0a9b4d)"></i><i style="left:824.0px;width:2.5px;background:linear-gradient(#065db8,#065db8 8%,#065db8 16%,#065db8 25%,#065db8 35%,#065db8 45%,#065db8 55%,#065eb8 64%,#065eb8 72%,#0660b8 80%,#0662b8 86%,#0667b8 91%,#0678ab 95%,#09975a 98%,#0da438)"></i><i style="left:826.0px;width:2.5px;background:linear-gradient(#0744b0,#0744b0 8%,#0744b0 16%,#0744b0 25%,#0744b0 35%,#0744b0 45%,#0744b0 55%,#0744b1 64%,#0746b1 72%,#0649b2 80%,#064fb4 86%,#0656b6 91%,#0667b8 95%,#068f77 98%,#0b9d49)"></i><i style="left:828.0px;width:2.5px;background:linear-gradient(#0745b1,#0745b1 8%,#0745b1 16%,#0745b1 25%,#0745b1 35%,#0745b1 45%,#0745b1 55%,#0746b1 64%,#0747b1 72%,#064ab3 80%,#0650b4 86%,#0657b6 91%,#0668b8 95%,#069075 98%,#0b9d48)"></i><i style="left:830.0px;width:2.5px;background:linear-gradient(#0831a8,#0831a8 8%,#0831a8 16%,#0831a8 25%,#0831a8 35%,#0831a8 45%,#0831a8 55%,#0832a9 64%,#0834aa 72%,#0838ac 80%,#073eae 86%,#0748b2 91%,#0660b8 95%,#068b87 98%,#0a9953)"></i><i style="left:832.0px;width:2.5px;background:linear-gradient(#0744b0,#0744b0 8%,#0744b0 16%,#0744b0 25%,#0744b0 35%,#0744b0 45%,#0744b0 55%,#0744b1 64%,#0746b1 72%,#064ab2 80%,#064fb4 86%,#0657b6 91%,#0668b8 95%,#069075 98%,#0b9d48)"></i><i style="left:834.0px;width:2.5px;background:linear-gradient(#064fb4,#064fb4 8%,#064fb4 16%,#064fb4 25%,#064fb4 35%,#064fb4 45%,#064fb4 55%,#0650b4 64%,#0651b5 72%,#0654b5 80%,#0658b6 86%,#065fb8 91%,#066eb4 95%,#079369 98%,#0ca041)"></i><i style="left:836.0px;width:2.5px;background:linear-gradient(#065bb7,#065bb7 8%,#065bb7 16%,#065bb7 25%,#065bb7 35%,#065bb7 45%,#065bb7 55%,#065bb7 64%,#065cb8 72%,#065fb8 80%,#0661b8 86%,#0666b8 91%,#0677ac 95%,#08975b 98%,#0da438)"></i><i style="left:838.0px;width:2.5px;background:linear-gradient(#0836ab,#0836ab 8%,#0836ab 16%,#0836ab 25%,#0836ab 35%,#0836ab 45%,#0836ab 55%,#0837ac 64%,#0839ac 72%,#083dae 80%,#0743b0 86%,#064db4 91%,#0662b8 95%,#068c82 98%,#0a9a50)"></i><i style="left:840.0px;width:2.5px;background:linear-gradient(#0740af,#0740af 8%,#0740af 16%,#0740af 25%,#0740af 35%,#0740af 45%,#0740af 55%,#0741af 64%,#0742b0 72%,#0746b1 80%,#064cb3 86%,#0654b6 91%,#0666b8 95%,#068f78 98%,#0b9c4a)"></i><i style="left:842.0px;width:2.5px;background:linear-gradient(#0832a9,#0832a9 8%,#0832a9 16%,#0832a9 25%,#0832a9 35%,#0832a9 45%,#0832a9 55%,#0833a9 64%,#0835ab 72%,#083aad 80%,#0740af 86%,#064bb3 91%,#0661b8 95%,#068c84 98%,#0a9a51)"></i><i style="left:844.0px;width:2.5px;background:linear-gradient(#0926a2,#0926a2 8%,#0926a2 16%,#0926a2 25%,#0926a2 35%,#0926a2 45%,#0926a2 55%,#0928a3 64%,#092aa4 72%,#092fa7 80%,#0837ab 86%,#0742b0 91%,#065cb8 95%,#06898d 98%,#099857)"></i><i style="left:846.0px;width:2.5px;background:linear-gradient(#092ea6,#092ea6 8%,#092ea6 16%,#092ea6 25%,#092ea6 35%,#092ea6 45%,#092ea6 55%,#092fa7 64%,#0832a8 72%,#0836ab 80%,#083dae 86%,#0748b2 91%,#0660b8 95%,#068b87 98%,#0a9953)"></i><i style="left:848.0px;width:2.5px;background:linear-gradient(#0839ac,#0839ac 8%,#0839ac 16%,#0839ac 25%,#0839ac 35%,#0839ac 45%,#0839ac 55%,#083aad 64%,#083cae 72%,#0740af 80%,#0746b1 86%,#0650b5 91%,#0664b8 95%,#068d7d 98%,#0a9b4d)"></i><i style="left:850.0px;width:2.5px;background:linear-gradient(#0a1d9d,#0a1d9d 8%,#0a1d9d 16%,#0a1d9d 25%,#0a1d9d 35%,#0a1d9d 45%,#0a1d9d 55%,#0a1f9e 64%,#0a229f 72%,#0926a2 80%,#092ea6 86%,#083bad 91%,#0658b6 95%,#068692 98%,#09975a)"></i><i style="left:852.0px;width:2.5px;background:linear-gradient(#083dae,#083dae 8%,#083dae 16%,#083dae 25%,#083dae 35%,#083dae 45%,#083dae 55%,#073fae 64%,#0741af 72%,#0745b1 80%,#064bb3 86%,#0654b5 91%,#0666b8 95%,#068f78 98%,#0b9d4a)"></i><i style="left:854.0px;width:2.5px;background:linear-gradient(#0740af,#0740af 8%,#0740af 16%,#0740af 25%,#0740af 35%,#0740af 45%,#0740af 55%,#0741af 64%,#0743b0 72%,#0747b1 80%,#064db4 86%,#0656b6 91%,#0667b8 95%,#069075 98%,#0b9d48)"></i><i style="left:856.0px;width:2.5px;background:linear-gradient(#092aa4,#092aa4 8%,#092aa4 16%,#092aa4 25%,#092aa4 35%,#092aa4 45%,#092aa4 55%,#092ca5 64%,#092fa7 72%,#0834a9 80%,#083bad 86%,#0746b1 91%,#065fb8 95%,#068b88 98%,#0a9953)"></i><i style="left:858.0px;width:2.5px;background:linear-gradient(#0a1a9b,#0a1a9b 8%,#0a1a9b 16%,#0a1a9b 25%,#0a1a9b 35%,#0a1a9b 45%,#0a1a9b 55%,#0a1c9c 64%,#0a1f9e 72%,#0924a0 80%,#092ca5 86%,#083aad 91%,#0657b6 95%,#068594 98%,#08975b)"></i><i style="left:860.0px;width:2.5px;background:linear-gradient(#0745b1,#0745b1 8%,#0745b1 16%,#0745b1 25%,#0745b1 35%,#0745b1 45%,#0745b1 55%,#0746b1 64%,#0649b2 72%,#064cb3 80%,#0651b5 86%,#065ab7 91%,#066ab6 95%,#06916f 98%,#0b9f44)"></i><i style="left:862.0px;width:2.5px;background:linear-gradient(#0833a9,#0833a9 8%,#0833a9 16%,#0833a9 25%,#0833a9 35%,#0833a9 45%,#0833a9 55%,#0835aa 64%,#0838ac 72%,#083cae 80%,#0743b0 86%,#064eb4 91%,#0663b8 95%,#068d7f 98%,#0a9b4e)"></i><i style="left:864.0px;width:2.5px;background:linear-gradient(#073eae,#073eae 8%,#073eae 16%,#073eae 25%,#073eae 35%,#073eae 45%,#073eae 55%,#073faf 64%,#0742b0 72%,#0746b1 80%,#064cb3 86%,#0655b6 91%,#0667b8 95%,#069075 98%,#0b9d48)"></i><i style="left:866.0px;width:2.5px;background:linear-gradient(#073eae,#073eae 8%,#073eae 16%,#073eae 25%,#073eae 35%,#073eae 45%,#073eae 55%,#0740af 64%,#0743b0 72%,#0746b1 80%,#064db4 86%,#0656b6 91%,#0668b8 95%,#069075 98%,#0b9d47)"></i><i style="left:868.0px;width:2.5px;background:linear-gradient(#0a1e9d,#0a1e9d 8%,#0a1e9d 16%,#0a1e9d 25%,#0a1e9d 35%,#0a1e9d 45%,#0a1e9d 55%,#0a209e 64%,#0924a0 72%,#0928a3 80%,#0931a8 86%,#073eae 91%,#065ab7 95%,#06888f 98%,#099858)"></i><i style="left:870.0px;width:2.5px;background:linear-gradient(#0837ab,#0837ab 8%,#0837ab 16%,#0837ab 25%,#0837ab 35%,#0837ab 45%,#0837ab 55%,#0838ac 64%,#083cad 72%,#073faf 80%,#0746b1 86%,#0651b5 91%,#0665b8 95%,#068e7b 98%,#0a9c4b)"></i><i style="left:872.0px;width:2.5px;background:linear-gradient(#092da6,#092da6 8%,#092da6 16%,#092da6 25%,#092da6 35%,#092da6 45%,#092da6 55%,#092fa7 64%,#0833a9 72%,#0838ac 80%,#073eae 86%,#064ab3 91%,#0661b8 95%,#068c83 98%,#0a9a50)"></i><i style="left:874.0px;width:2.5px;background:linear-gradient(#092da5,#092da5 8%,#092da5 16%,#092da5 25%,#092da5 35%,#092da5 45%,#092da5 55%,#092fa7 64%,#0833a9 72%,#0838ac 80%,#073eae 86%,#064ab3 91%,#0661b8 95%,#068c82 98%,#0a9a50)"></i><i style="left:876.0px;width:2.5px;background:linear-gradient(#0833a9,#0833a9 8%,#0833a9 16%,#0833a9 25%,#0833a9 35%,#0833a9 45%,#0833a9 55%,#0835ab 64%,#0839ad 72%,#083dae 80%,#0744b0 86%,#064fb4 91%,#0664b8 95%,#068e7d 98%,#0a9c4c)"></i><i style="left:878.0px;width:2.5px;background:linear-gradient(#0831a8,#0831a8 8%,#0831a8 16%,#0831a8 25%,#0831a8 35%,#0831a8 45%,#0831a8 55%,#0833a9 64%,#0838ac 72%,#083bad 80%,#0742b0 86%,#064eb4 91%,#0663b8 95%,#068d7e 98%,#0a9b4d)"></i><i style="left:880.0px;width:2.5px;background:linear-gradient(#0838ac,#0838ac 8%,#0838ac 16%,#0838ac 25%,#0838ac 35%,#0838ac 45%,#0838ac 55%,#0839ad 64%,#083dae 72%,#0741af 80%,#0747b2 86%,#0652b5 91%,#0666b8 95%,#068f79 98%,#0b9d4a)"></i><i style="left:882.0px;width:2.5px;background:linear-gradient(#0835aa,#0835aa 8%,#0835aa 16%,#0835ab 25%,#0835ab 35%,#0835ab 45%,#0836ab 55%,#0838ac 64%,#083cad 72%,#0740af 80%,#0747b1 86%,#0652b5 91%,#0665b8 95%,#068f79 98%,#0b9c4a)"></i><i style="left:884.0px;width:2.5px;background:linear-gradient(#092da6,#092da6 8%,#092da6 16%,#092ea6 25%,#092ea6 35%,#092ea6 45%,#092ea6 55%,#0931a8 64%,#0836ab 72%,#083bad 80%,#0742b0 86%,#064fb4 91%,#0664b8 95%,#068e7d 98%,#0a9c4c)"></i><i style="left:886.0px;width:2.5px;background:linear-gradient(#0837ab,#0837ab 8%,#0837ab 16%,#0837ac 25%,#0838ac 35%,#0838ac 45%,#0838ac 55%,#083aad 64%,#073fae 72%,#0744b0 80%,#064cb3 86%,#0656b6 91%,#0669b8 95%,#069072 98%,#0b9e46)"></i><i style="left:888.0px;width:2.5px;background:linear-gradient(#073faf,#073faf 8%,#073faf 16%,#0740af 25%,#0740af 35%,#0740af 45%,#0740af 55%,#0743b0 64%,#0747b2 72%,#064db4 80%,#0653b5 86%,#065eb8 91%,#066eb4 95%,#079368 98%,#0ca13f)"></i><i style="left:890.0px;width:2.5px;background:linear-gradient(#092aa4,#092aa4 8%,#092ba4 16%,#092ba5 25%,#092ca5 35%,#092ca5 45%,#092da6 55%,#0930a8 64%,#0836ab 72%,#083dae 80%,#0746b1 86%,#0653b5 91%,#0667b8 95%,#068f77 98%,#0b9d48)"></i><i style="left:892.0px;width:2.5px;background:linear-gradient(#0831a8,#0831a8 8%,#0832a8 16%,#0833a9 25%,#0833a9 35%,#0833a9 45%,#0835aa 55%,#0838ac 64%,#083dae 72%,#0743b0 80%,#064db4 86%,#0659b7 91%,#066bb6 95%,#07926e 98%,#0b9f43)"></i><i style="left:894.0px;width:2.5px;background:linear-gradient(#092ba5,#092ba5 8%,#092ba5 16%,#092da5 25%,#092da6 35%,#092da6 45%,#092fa7 55%,#0833a9 64%,#0839ac 72%,#0740af 80%,#064ab2 86%,#0657b6 91%,#0669b7 95%,#069171 98%,#0b9e45)"></i><i style="left:896.0px;width:2.5px;background:linear-gradient(#092aa4,#092aa4 8%,#092aa4 16%,#092ca5 25%,#092da6 35%,#092da6 45%,#092ea7 55%,#0832a9 64%,#0839ac 72%,#0740af 80%,#064bb3 86%,#0658b6 91%,#066bb6 95%,#06916f 98%,#0b9f44)"></i><i style="left:898.0px;width:2.5px;background:linear-gradient(#092da6,#092da6 8%,#092da6 16%,#092fa7 25%,#0930a8 35%,#0930a8 45%,#0832a9 55%,#0836ab 64%,#083cad 72%,#0744b0 80%,#064fb4 86%,#065cb7 91%,#066db4 95%,#079369 98%,#0ca040)"></i><i style="left:900.0px;width:2.5px;background:linear-gradient(#092aa4,#092aa4 8%,#092aa4 16%,#092ca5 25%,#092da6 35%,#092da6 45%,#092fa7 55%,#0834a9 64%,#083aad 72%,#0743b0 80%,#064eb4 86%,#065bb7 91%,#066db4 95%,#07936a 98%,#0ca041)"></i><i style="left:902.0px;width:2.5px;background:linear-gradient(#064fb4,#064fb4 8%,#064fb4 16%,#0650b5 25%,#0651b5 35%,#0651b5 45%,#0652b5 55%,#0655b6 64%,#0659b7 72%,#065fb8 80%,#0665b8 86%,#066eb4 91%,#06819c 95%,#0a9b4e 98%,#10a92e)"></i><i style="left:904.0px;width:2.5px;background:linear-gradient(#073fae,#073fae 8%,#073faf 16%,#0741af 25%,#0742b0 35%,#0742b0 45%,#0744b0 55%,#0748b2 64%,#064eb4 72%,#0655b6 80%,#065eb8 86%,#0667b8 91%,#067aa7 95%,#099856 98%,#0ea634)"></i><i style="left:906.0px;width:2.5px;background:linear-gradient(#0833a9,#0833a9 8%,#0833a9 16%,#0836ab 25%,#0837ab 35%,#0837ab 45%,#083aad 55%,#083dae 64%,#0743b0 72%,#064db4 80%,#0657b6 86%,#0663b8 91%,#0675ae 95%,#08975c 98%,#0da439)"></i><i style="left:908.0px;width:2.5px;background:linear-gradient(#0927a2,#0927a2 8%,#0927a3 16%,#092aa4 25%,#092ca5 35%,#092ca5 45%,#092fa7 55%,#0834aa 64%,#083bad 72%,#0746b1 80%,#0652b5 86%,#0660b8 91%,#0672b2 95%,#089562 98%,#0ca23c)"></i><i style="left:910.0px;width:2.5px;background:linear-gradient(#064ab2,#064ab2 8%,#064ab3 16%,#064cb3 25%,#064eb4 35%,#064eb4 45%,#0650b4 55%,#0653b5 64%,#0657b6 72%,#065fb8 80%,#0665b8 86%,#0670b3 91%,#068398 95%,#0a9c4b 98%,#10ab2b)"></i><i style="left:912.0px;width:2.5px;background:linear-gradient(#0832a9,#0832a9 8%,#0833a9 16%,#0836ab 25%,#0838ac 35%,#0838ac 45%,#083bad 55%,#073fae 64%,#0745b1 72%,#0650b4 80%,#065ab7 86%,#0665b8 91%,#0679a9 95%,#099858 98%,#0ea535)"></i><i style="left:914.0px;width:2.5px;background:linear-gradient(#092ca5,#092ca5 8%,#092ca5 16%,#092fa7 25%,#0831a8 35%,#0831a8 45%,#0835aa 55%,#083aad 64%,#0740af 72%,#064cb3 80%,#0657b6 86%,#0664b8 91%,#0677ac 95%,#09975a 98%,#0da537)"></i><i style="left:916.0px;width:2.5px;background:linear-gradient(#0927a2,#0927a2 8%,#0927a2 16%,#092ba5 25%,#092da6 35%,#092da6 45%,#0831a8 55%,#0837ab 64%,#083dae 72%,#064ab2 80%,#0656b6 86%,#0663b8 91%,#0677ac 95%,#09975a 98%,#0da437)"></i><i style="left:918.0px;width:2.5px;background:linear-gradient(#0925a1,#0925a1 8%,#0925a1 16%,#0929a3 25%,#092ba5 35%,#092ba5 45%,#092fa7 55%,#0835aa 64%,#083cae 72%,#0649b2 80%,#0656b6 86%,#0664b8 91%,#0677ab 95%,#09975a 98%,#0da537)"></i><i style="left:920.0px;width:2.5px;background:linear-gradient(#0834aa,#0834aa 8%,#0834aa 16%,#0838ac 25%,#083aad 35%,#083aad 45%,#073eae 55%,#0743b0 64%,#0649b2 72%,#0655b6 80%,#0660b8 86%,#066bb6 91%,#06809f 95%,#0a9a50 98%,#0fa82f)"></i><i style="left:922.0px;width:2.5px;background:linear-gradient(#0b1598,#0b1598 8%,#0b1698 16%,#0b199a 25%,#0a1b9b 35%,#0a1b9b 45%,#0a1f9e 55%,#0926a2 64%,#092ea7 72%,#073fae 80%,#064fb4 86%,#0660b8 91%,#0673b1 95%,#08965f 98%,#0ca33b)"></i><i style="left:924.0px;width:2.5px;background:linear-gradient(#083cad,#083cad 8%,#083dae 16%,#0740af 25%,#0742af 35%,#0742b0 45%,#0746b1 55%,#064cb3 64%,#0652b5 72%,#065db8 80%,#0666b8 86%,#0673b1 91%,#068791 95%,#0b9e46 98%,#13af26)"></i><i style="left:926.0px;width:2.5px;background:linear-gradient(#0c1396,#0c1497 8%,#0c1497 16%,#0b1799 25%,#0b199a 35%,#0a1a9b 45%,#0a1e9d 55%,#0927a2 64%,#0832a9 72%,#0743b0 80%,#0654b5 86%,#0663b8 91%,#0678aa 95%,#099858 98%,#0ea536)"></i><i style="left:928.0px;width:2.5px;background:linear-gradient(#0927a2,#0927a2 8%,#0928a3 16%,#092ca5 25%,#092ea6 35%,#092fa7 45%,#0834aa 55%,#083dae 64%,#0747b1 72%,#0655b6 80%,#0661b8 86%,#066fb4 91%,#068497 95%,#0b9c4a 98%,#11ac2a)"></i><i style="left:930.0px;width:2.5px;background:linear-gradient(#0c1396,#0c1396 8%,#0c1497 16%,#0b1799 25%,#0b199a 35%,#0b199a 45%,#0a1e9d 55%,#092aa4 64%,#0838ac 72%,#064ab2 80%,#065ab7 86%,#0668b8 91%,#067ea1 95%,#0a9a51 98%,#0fa82f)"></i><i style="left:932.0px;width:2.5px;background:linear-gradient(#0837ac,#0838ac 8%,#0839ac 16%,#083cad 25%,#073eae 35%,#073fae 45%,#0743b0 55%,#064db4 64%,#0655b6 72%,#0661b8 80%,#066ab6 86%,#067aa7 91%,#068c81 95%,#0ca23c 98%,#1ab91b)"></i><i style="left:934.0px;width:2.5px;background:linear-gradient(#0d0d93,#0d0e93 8%,#0d0f94 16%,#0c1295 25%,#0c1396 35%,#0c1597 45%,#0b1a9a 55%,#0925a1 64%,#0834aa 72%,#0746b1 80%,#0658b6 86%,#0667b8 91%,#067ea2 95%,#0a9a51 98%,#0fa830)"></i><i style="left:936.0px;width:2.5px;background:linear-gradient(#0b199a,#0a1a9b 8%,#0a1b9b 16%,#0a1e9d 25%,#0a209e 35%,#0a229f 45%,#0928a3 55%,#0835aa 64%,#0741af 72%,#0652b5 80%,#0660b8 86%,#066fb3 91%,#068594 95%,#0b9d49 98%,#11ac2a)"></i><i style="left:938.0px;width:2.5px;background:linear-gradient(#0928a3,#092aa4 8%,#092ca5 16%,#092ea6 25%,#0930a8 35%,#0832a9 45%,#0839ac 55%,#0743b0 64%,#064fb4 72%,#065cb7 80%,#0666b8 86%,#0677ac 91%,#068b86 95%,#0ba041 98%,#16b223)"></i><i style="left:940.0px;width:2.5px;background:linear-gradient(#092da6,#092fa7 8%,#0931a8 16%,#0833a9 25%,#0835ab 35%,#0838ac 45%,#083dae 55%,#0747b1 64%,#0652b5 72%,#065eb8 80%,#0668b8 86%,#0679a8 91%,#068d81 95%,#0ca13f 98%,#17b421)"></i><i style="left:942.0px;width:2.5px;background:linear-gradient(#0c1497,#0b1698 8%,#0b1799 16%,#0b199a 25%,#0a1b9b 35%,#0a1d9c 45%,#0924a0 55%,#092fa7 64%,#083dae 72%,#064eb4 80%,#065eb8 86%,#066db5 91%,#068496 95%,#0a9b4d 98%,#0fa92f)"></i><i style="left:944.0px;width:2.5px;background:linear-gradient(#0b189a,#0a1a9b 8%,#0a1b9c 16%,#0a1d9d 25%,#0a1f9e 35%,#0a22a0 45%,#0929a4 55%,#0834aa 64%,#0741af 72%,#0650b5 80%,#065fb8 86%,#066fb4 91%,#068693 95%,#0a9c4c 98%,#0fa92e)"></i><i style="left:946.0px;width:2.5px;background:linear-gradient(#0c1095,#0c1296 8%,#0c1497 16%,#0b1598 25%,#0b1799 35%,#0b1a9a 45%,#0a209f 55%,#0929a4 64%,#0836ab 72%,#0745b1 80%,#0656b6 86%,#0667b8 91%,#06809f 95%,#099955 98%,#0ea536)"></i><i style="left:948.0px;width:2.5px;background:linear-gradient(#0923a0,#0926a2 8%,#0928a3 16%,#092aa4 25%,#092ca5 35%,#092fa7 45%,#0837ab 55%,#073eae 64%,#0747b2 72%,#0654b5 80%,#0661b8 86%,#0671b2 91%,#06888e 95%,#0b9c4b 98%,#0fa92e)"></i><i style="left:950.0px;width:2.5px;background:linear-gradient(#0b1799,#0b199a 8%,#0a1b9b 16%,#0a1c9c 25%,#0a1e9d 35%,#0a219f 45%,#0929a4 55%,#0832a9 64%,#083dae 72%,#064cb3 80%,#065bb7 86%,#066cb5 91%,#068496 95%,#0a9a51 98%,#0ea633)"></i><i style="left:952.0px;width:2.5px;background:linear-gradient(#0d0f93,#0c1195 8%,#0c1396 16%,#0c1497 25%,#0b1698 35%,#0b189a 45%,#0a209e 55%,#0929a3 64%,#0836ab 72%,#0745b1 80%,#0657b6 86%,#0669b8 91%,#06829b 95%,#099955 98%,#0da437)"></i><i style="left:954.0px;width:2.5px;background:linear-gradient(#0c1195,#0c1396 8%,#0b1598 16%,#0b1698 25%,#0b1899 35%,#0a1b9b 45%,#0a23a0 55%,#092ea6 64%,#083dae 72%,#064db4 80%,#065db8 86%,#066fb4 91%,#068790 95%,#0a9a4f 98%,#0ea733)"></i><i style="left:956.0px;width:2.5px;background:linear-gradient(#0b1799,#0b199a 8%,#0a1c9c 16%,#0a1c9c 25%,#0a1f9d 35%,#0a23a0 45%,#092ba5 55%,#0837ab 64%,#0743b0 72%,#0652b5 80%,#0661b8 86%,#0673b1 91%,#068a89 95%,#0b9c4b 98%,#0fa830)"></i><i style="left:958.0px;width:2.5px;background:linear-gradient(#0b199a,#0a1b9c 8%,#0a1e9d 16%,#0a1f9d 25%,#0a219f 35%,#0925a1 45%,#092ea6 55%,#083aad 64%,#0747b1 72%,#0655b6 80%,#0663b8 86%,#0675ae 91%,#068c83 95%,#0b9d48 98%,#0fa92f)"></i><i style="left:960.0px;width:2.5px;background:linear-gradient(#0835aa,#0839ac 8%,#083bad 16%,#083bad 25%,#083dae 35%,#0741af 45%,#0748b2 55%,#0650b5 64%,#065ab7 72%,#0663b8 80%,#066eb4 86%,#06829b 91%,#07936b 95%,#0ca33b 98%,#16b322)"></i><i style="left:962.0px;width:2.5px;background:linear-gradient(#083aad,#083dae 8%,#0740af 16%,#0740af 25%,#0741af 35%,#0745b1 45%,#064cb3 55%,#0655b6 64%,#065fb8 72%,#0668b8 80%,#0675af 86%,#06888f 91%,#08965d 95%,#0ea535 98%,#1ab91c)"></i><i style="left:964.0px;width:2.5px;background:linear-gradient(#0d0c92,#0d0f93 8%,#0c1195 16%,#0c1195 25%,#0c1396 35%,#0b1799 45%,#0a1f9e 55%,#092ea7 64%,#0740af 72%,#0652b5 80%,#0662b8 86%,#0675ae 91%,#068c82 95%,#0b9c4b 98%,#0ea732)"></i><i style="left:966.0px;width:2.5px;background:linear-gradient(#092da6,#0931a8 8%,#0834aa 16%,#0834aa 25%,#0836ab 35%,#083aad 45%,#0742b0 55%,#064eb4 64%,#065ab7 72%,#0665b8 80%,#0672b1 86%,#068693 91%,#089561 95%,#0da439 98%,#16b322)"></i><i style="left:968.0px;width:2.5px;background:linear-gradient(#0a23a0,#0926a2 8%,#092aa4 16%,#092aa4 25%,#092ca5 35%,#0931a8 45%,#083aad 55%,#0748b2 64%,#0656b6 72%,#0663b8 80%,#0670b3 86%,#068496 91%,#079465 95%,#0ca23b 98%,#14b026)"></i><i style="left:970.0px;width:2.5px;background:linear-gradient(#0927a2,#092ba4 8%,#092ea6 16%,#092ea6 25%,#0930a8 35%,#0835aa 45%,#073eae 55%,#064ab3 64%,#0657b6 72%,#0663b8 80%,#0670b3 86%,#068496 91%,#079464 95%,#0ca23c 98%,#13af27)"></i><i style="left:972.0px;width:2.5px;background:linear-gradient(#0d0e93,#0c1195 8%,#0c1497 16%,#0c1497 25%,#0b1698 35%,#0b199a 45%,#0a23a0 55%,#0832a8 64%,#0742b0 72%,#0654b5 80%,#0663b8 86%,#0677ac 91%,#068d7e 95%,#0a9b4d 98%,#0da536)"></i><i style="left:974.0px;width:2.5px;background:linear-gradient(#0e0a90,#0d0d92 8%,#0d0f94 16%,#0d0f94 25%,#0c1195 35%,#0c1597 45%,#0a1d9d 55%,#092ba5 64%,#083dae 72%,#0650b4 80%,#0660b8 86%,#0673b0 91%,#068b85 95%,#0a9952 98%,#0ca33b)"></i><i style="left:976.0px;width:2.5px;background:linear-gradient(#0f078e,#0e0a90 8%,#0d0c92 16%,#0d0c92 25%,#0d0e93 35%,#0c1295 45%,#0a1a9b 55%,#0927a2 64%,#0839ac 72%,#064cb3 80%,#065eb8 86%,#0671b2 91%,#068a89 95%,#099856 98%,#0ca13f)"></i><i style="left:978.0px;width:2.5px;background:linear-gradient(#0929a4,#092da6 8%,#0930a8 16%,#0930a8 25%,#0833a9 35%,#0837ac 45%,#0740af 55%,#0649b2 64%,#0653b5 72%,#065fb8 80%,#066ab7 86%,#067fa1 91%,#069170 95%,#0b9e47 98%,#0ea633)"></i><i style="left:980.0px;width:2.5px;background:linear-gradient(#0a209f,#0924a1 8%,#0927a3 16%,#0927a3 25%,#092aa4 35%,#092ea7 45%,#0839ac 55%,#0744b0 64%,#0651b5 72%,#065fb8 80%,#066ab7 86%,#067fa1 91%,#06916f 95%,#0b9d48 98%,#0ea635)"></i><i style="left:982.0px;width:2.5px;background:linear-gradient(#0a1c9c,#0a209e 8%,#0923a0 16%,#0923a0 25%,#0925a1 35%,#092aa4 45%,#0835aa 55%,#0740af 64%,#064eb4 72%,#065cb7 80%,#0668b8 86%,#067ca4 91%,#069073 95%,#0a9c4b 98%,#0da438)"></i><i style="left:984.0px;width:2.5px;background:linear-gradient(#0a1e9d,#0a229f 8%,#0925a1 16%,#0925a1 25%,#0927a3 35%,#092ca5 45%,#0837ac 55%,#073eae 64%,#0748b2 72%,#0655b6 80%,#0662b8 86%,#0675ae 91%,#068d80 95%,#0a9953 98%,#0ca13f)"></i><i style="left:986.0px;width:2.5px;background:linear-gradient(#0b199a,#0a1c9c 8%,#0a1f9e 16%,#0a1f9e 25%,#0a219f 35%,#0926a2 45%,#0831a8 55%,#083aad 64%,#0745b1 72%,#0654b5 80%,#0662b8 86%,#0675af 91%,#068c81 95%,#099954 98%,#0ca140)"></i><i style="left:988.0px;width:2.5px;background:linear-gradient(#10008a,#0f038c 8%,#0f068e 16%,#0f068e 25%,#0e088f 35%,#0e0b91 45%,#0c1597 55%,#0a209e 64%,#0833a9 72%,#0748b2 80%,#065bb7 86%,#066fb3 91%,#068a8b 95%,#09975a 98%,#0b9e45)"></i><i style="left:990.0px;width:2.5px;background:linear-gradient(#0925a1,#0929a3 8%,#092ca5 16%,#092ca5 25%,#092ea7 35%,#0833a9 45%,#083dae 55%,#0649b2 64%,#0655b6 72%,#0662b8 80%,#066eb4 86%,#068399 91%,#079465 95%,#0b9f43 98%,#0fa731)"></i><i style="left:992.0px;width:2.5px;background:linear-gradient(#0a1c9c,#0a209e 8%,#0923a0 16%,#0923a0 25%,#0926a2 35%,#092aa4 45%,#0836ab 55%,#0743b0 64%,#0652b5 72%,#0660b8 80%,#066db5 86%,#06829b 91%,#079467 95%,#0b9f44 98%,#0ea732)"></i><i style="left:994.0px;width:2.5px;background:linear-gradient(#0b1598,#0b189a 8%,#0a1b9b 16%,#0a1b9b 25%,#0a1d9d 35%,#0a229f 45%,#092da6 55%,#083dae 64%,#064fb4 72%,#065fb8 80%,#066cb6 86%,#06819c 91%,#079368 95%,#0b9e45 98%,#0ea733)"></i><i style="left:996.0px;width:2.5px;background:linear-gradient(#092fa7,#0833a9 8%,#0836ab 16%,#0836ab 25%,#0838ac 35%,#083cad 45%,#0745b1 55%,#0651b5 64%,#065db8 72%,#0667b8 80%,#0675ae 86%,#06898c 91%,#09975a 95%,#0ca33b 98%,#11ac2a)"></i><i style="left:998.0px;width:2.5px;background:linear-gradient(#092ea6,#0832a8 8%,#0835aa 16%,#0835aa 25%,#0837ac 35%,#083bad 45%,#0745b1 55%,#0651b5 64%,#065db8 72%,#0668b8 80%,#0676ad 86%,#068a8a 91%,#099858 95%,#0da339 98%,#12ad28)"></i><i style="left:1000.0px;width:2.5px;background:linear-gradient(#0d0c92,#0d0f94 8%,#0c1295 16%,#0c1295 25%,#0c1396 35%,#0b1799 45%,#0a22a0 55%,#0838ac 64%,#064db3 72%,#065fb8 80%,#066eb4 86%,#068497 91%,#089562 95%,#0ba041 98%,#0fa830)"></i><i style="left:1002.0px;width:2.5px;background:linear-gradient(#0f078e,#0e0a90 8%,#0d0c92 16%,#0d0c92 25%,#0d0e93 35%,#0c1296 45%,#0a1c9c 55%,#0833a9 64%,#0649b2 72%,#065eb8 80%,#066db5 86%,#068497 91%,#089563 95%,#0ba041 98%,#0fa830)"></i><i style="left:1004.0px;width:2.5px;background:linear-gradient(#0833a9,#0837ab 8%,#083aad 16%,#083aad 25%,#083bad 35%,#073faf 45%,#0649b2 55%,#0658b6 64%,#0664b8 72%,#0672b1 80%,#06829a 86%,#069170 91%,#0b9d48 95%,#10aa2d 98%,#1cbc18)"></i><i style="left:1006.0px;width:2.5px;background:linear-gradient(#0837ac,#083aad 8%,#083dae 16%,#083dae 25%,#073fae 35%,#0742b0 45%,#064db3 55%,#065cb8 64%,#0668b8 72%,#0678aa 80%,#06888d 86%,#089561 91%,#0ca13f 95%,#15b124 98%,#2cc311)"></i><i style="left:1008.0px;width:2.5px;background:linear-gradient(#0a1c9c,#0a209e 8%,#0923a0 16%,#0923a0 25%,#0926a1 35%,#092aa4 45%,#0837ac 55%,#064fb4 64%,#0660b8 72%,#0670b2 80%,#06839a 86%,#07926d 91%,#0b9e46 95%,#11ab2b 98%,#1fbd17)"></i><i style="left:1010.0px;width:2.5px;background:linear-gradient(#0b1799,#0a1a9b 8%,#0a1d9d 16%,#0a1d9d 25%,#0a1f9e 35%,#0924a1 45%,#0831a8 55%,#0649b2 64%,#065cb7 72%,#066cb6 80%,#067ea2 86%,#068f78 91%,#0a9b4c 95%,#0fa830 98%,#19b81d)"></i><i style="left:1012.0px;width:2.5px;background:linear-gradient(#0d0f94,#0c1296 8%,#0c1597 16%,#0c1597 25%,#0b1799 35%,#0a1a9b 45%,#0927a2 55%,#0740af 64%,#0656b6 72%,#0667b8 80%,#0679a9 86%,#068d81 91%,#0a9a52 95%,#0ea634 98%,#16b322)"></i><i style="left:1014.0px;width:2.5px;background:linear-gradient(#0e0c91,#0d0f93 8%,#0c1195 16%,#0c1195 25%,#0c1396 35%,#0b1799 45%,#0a23a0 55%,#083dae 64%,#0653b5 72%,#0665b8 80%,#0676ad 86%,#068b85 91%,#099954 95%,#0da536 98%,#15b124)"></i><i style="left:1016.0px;width:2.5px;background:linear-gradient(#10008a,#0f038c 8%,#0f058d 16%,#0f058d 25%,#0e078f 35%,#0e0b91 45%,#0b1698 55%,#092ca5 64%,#0745b1 72%,#065cb8 80%,#066cb5 86%,#068399 91%,#089563 95%,#0ba041 98%,#0fa82f)"></i><i style="left:1018.0px;width:2.5px;background:linear-gradient(#0b1799,#0a1a9b 8%,#0a1d9d 16%,#0a1d9d 25%,#0a1f9e 35%,#0924a1 45%,#0832a8 55%,#0746b1 64%,#0658b6 72%,#0667b8 80%,#0678aa 86%,#068c83 91%,#0a9953 95%,#0ea535 98%,#16b223)"></i><i style="left:1020.0px;width:2.5px;background:linear-gradient(#0d0f94,#0c1296 8%,#0c1597 16%,#0c1597 25%,#0b1799 35%,#0a1a9b 45%,#0928a3 55%,#083bad 64%,#064fb4 72%,#0661b8 80%,#066fb3 86%,#068594 91%,#08965e 95%,#0ca13e 98%,#10aa2d)"></i><i style="left:1022.0px;width:2.5px;background:linear-gradient(#0d0d92,#0d1094 8%,#0c1296 16%,#0c1296 25%,#0c1497 35%,#0b1899 45%,#0925a1 55%,#0835aa 64%,#0745b1 72%,#0659b7 80%,#0667b8 86%,#067da3 91%,#07926e 95%,#0b9d48 98%,#0ea635)"></i><i style="left:1024.0px;width:2.5px;background:linear-gradient(#0929a3,#092da6 8%,#0930a8 16%,#0930a8 25%,#0833a9 35%,#0837ac 45%,#0743b0 55%,#0650b4 64%,#065db8 72%,#0669b8 80%,#0678aa 86%,#068b85 91%,#099954 95%,#0da536 98%,#15b124)"></i><i style="left:1026.0px;width:2.5px;background:linear-gradient(#0c1396,#0b1698 8%,#0b189a 16%,#0b199a 25%,#0a1b9b 35%,#0a1f9e 45%,#092da6 55%,#0742b0 64%,#0655b6 72%,#0665b8 80%,#0676ad 86%,#068b87 91%,#099855 95%,#0da437 98%,#14b026)"></i><i style="left:1028.0px;width:2.5px;background:linear-gradient(#0a219f,#0925a1 8%,#0928a3 16%,#0929a3 25%,#092ca5 35%,#0930a8 45%,#083dae 55%,#0650b4 64%,#065fb8 72%,#066eb4 80%,#067fa0 86%,#069076 91%,#0b9c4b 95%,#0fa82f 98%,#1ab91b)"></i><i style="left:1030.0px;width:2.5px;background:linear-gradient(#083cad,#073fae 8%,#0741af 16%,#0742b0 25%,#0744b0 35%,#0748b2 45%,#0652b5 55%,#065fb8 64%,#066bb6 72%,#067ca5 80%,#068b87 86%,#08975b 91%,#0ca33a 95%,#18b51f 98%,#34c60e)"></i><i style="left:1032.0px;width:2.5px;background:linear-gradient(#083dae,#0740af 8%,#0743b0 16%,#0744b0 25%,#0746b1 35%,#0649b2 45%,#0653b5 55%,#0662b8 64%,#066fb3 72%,#06819c 80%,#068e7a 86%,#0a9952 91%,#0ea633 95%,#1ebd17 98%,#43cd08)"></i><i style="left:1034.0px;width:2.5px;background:linear-gradient(#0929a3,#092da5 8%,#0930a7 16%,#0931a8 25%,#0834aa 35%,#0838ac 45%,#0744b0 55%,#0657b6 64%,#0665b8 72%,#0677ab 80%,#06898d 86%,#08965f 91%,#0ca23d 95%,#15b223 98%,#2dc311)"></i><i style="left:1036.0px;width:2.5px;background:linear-gradient(#0927a2,#092ba4 8%,#092ea6 16%,#092fa7 25%,#0832a9 35%,#0837ab 45%,#0743b0 55%,#0653b5 64%,#0662b8 72%,#0671b2 80%,#06829a 86%,#06916f 91%,#0b9e47 95%,#10aa2c 98%,#1cbc19)"></i><i style="left:1038.0px;width:2.5px;background:linear-gradient(#0d0f93,#0c1295 8%,#0c1497 16%,#0b1598 25%,#0b1899 35%,#0a1c9c 45%,#092ba4 55%,#0741af 64%,#0655b6 72%,#0667b8 80%,#0679aa 86%,#068c81 91%,#0a9a52 95%,#0ea535 98%,#15b124)"></i><i style="left:1040.0px;width:2.5px;background:linear-gradient(#092fa7,#0833a9 8%,#0837ab 16%,#0838ac 25%,#083aad 35%,#073eae 45%,#064ab3 55%,#0657b6 64%,#0663b8 72%,#0671b2 80%,#06819c 86%,#069172 91%,#0b9d48 95%,#0fa92e 98%,#1ab91b)"></i><i style="left:1042.0px;width:2.5px;background:linear-gradient(#0a22a0,#0926a2 8%,#0929a4 16%,#092ba5 25%,#092ea6 35%,#0833a9 45%,#0740af 55%,#064db4 64%,#065ab7 72%,#0667b8 80%,#0676ad 86%,#068b88 91%,#099856 95%,#0da339 98%,#12ad29)"></i><i style="left:1044.0px;width:2.5px;background:linear-gradient(#0f078e,#0e0a90 8%,#0d0d92 16%,#0d0e93 25%,#0c1095 35%,#0c1497 45%,#0a229f 55%,#0832a9 64%,#0745b1 72%,#065ab7 80%,#0669b7 86%,#0680a0 91%,#07936b 95%,#0b9d48 98%,#0ea536)"></i><i style="left:1046.0px;width:2.5px;background:linear-gradient(#0a1a9b,#0a1d9c 8%,#0a209e 16%,#0a22a0 25%,#0925a1 35%,#092aa4 45%,#083aad 55%,#0747b1 64%,#0656b6 72%,#0665b8 80%,#0675af 86%,#068a8b 91%,#099858 95%,#0ca33b 98%,#10ab2b)"></i><i style="left:1048.0px;width:2.5px;background:linear-gradient(#0927a3,#092ba5 8%,#092fa7 16%,#0931a8 25%,#0834aa 35%,#0838ac 45%,#0745b1 55%,#064fb4 64%,#065ab7 72%,#0667b8 80%,#0675ae 86%,#068a8b 91%,#099859 95%,#0ca23b 98%,#10aa2c)"></i><i style="left:1050.0px;width:2.5px;background:linear-gradient(#0925a1,#0929a3 8%,#092da5 16%,#092fa7 25%,#0832a9 35%,#0837ab 45%,#0744b0 55%,#064bb3 64%,#0655b6 72%,#0662b8 80%,#066fb3 86%,#068497 91%,#089563 95%,#0b9f44 98%,#0ea733)"></i><i style="left:1052.0px;width:2.5px;background:linear-gradient(#083dae,#0740af 8%,#0743b0 16%,#0745b1 25%,#0747b2 35%,#064bb3 45%,#0655b6 55%,#0660b8 64%,#066bb6 72%,#067ba6 80%,#068a89 86%,#08965d 91%,#0ca23c 95%,#15b124 98%,#28c113)"></i><i style="left:1054.0px;width:2.5px;background:linear-gradient(#0930a7,#0834aa 8%,#0837ac 16%,#0839ac 25%,#083cad 35%,#0740af 45%,#064db4 55%,#065ab7 64%,#0666b8 72%,#0676ad 80%,#068791 86%,#079465 91%,#0ba042 95%,#12ac29 98%,#1ebd17)"></i><i style="left:1056.0px;width:2.5px;background:linear-gradient(#0c1095,#0c1396 8%,#0b1698 16%,#0b189a 25%,#0a1b9b 35%,#0a209e 45%,#0930a8 55%,#0742b0 64%,#0655b6 72%,#0666b8 80%,#0677ac 86%,#068b85 91%,#099855 95%,#0da33a 98%,#11ab2b)"></i><i style="left:1058.0px;width:2.5px;background:linear-gradient(#0c1497,#0b1798 8%,#0b199a 16%,#0a1c9c 25%,#0a1f9e 35%,#0924a1 45%,#0835aa 55%,#0748b2 64%,#065bb7 72%,#066cb5 80%,#067ea1 86%,#068f76 91%,#0a9c4c 95%,#0ea733 98%,#16b322)"></i><i style="left:1060.0px;width:2.5px;background:linear-gradient(#0f038c,#0f068e 8%,#0e0990 16%,#0e0b91 25%,#0d0e93 35%,#0c1296 45%,#0a219f 55%,#0839ac 64%,#0651b5 72%,#0665b8 80%,#0677ab 86%,#068c83 91%,#099954 95%,#0da339 98%,#11ab2a)"></i><i style="left:1062.0px;width:2.5px;background:linear-gradient(#0a1a9b,#0a1d9d 8%,#0a219f 16%,#0924a0 25%,#0928a3 35%,#092ca5 45%,#083cae 55%,#064cb3 64%,#065cb7 72%,#066bb6 80%,#067ca4 86%,#068e7b 91%,#0a9a50 95%,#0ea536 98%,#13af26)"></i><i style="left:1064.0px;width:2.5px;background:linear-gradient(#0a1d9d,#0a219f 8%,#0924a1 16%,#0927a3 25%,#092ca5 35%,#0930a8 45%,#0740af 55%,#0651b5 64%,#0661b8 72%,#0672b2 80%,#068398 86%,#07926c 91%,#0b9e46 95%,#0fa92f 98%,#19b71e)"></i><i style="left:1066.0px;width:2.5px;background:linear-gradient(#083dae,#073faf 8%,#0742b0 16%,#0745b1 25%,#0748b2 35%,#064cb3 45%,#0656b6 55%,#0662b8 64%,#066fb3 72%,#06829b 80%,#068f79 86%,#0a9952 91%,#0ea635 95%,#1ab81c 98%,#35c70d)"></i><i style="left:1068.0px;width:2.5px;background:linear-gradient(#0b1a9a,#0a1d9c 8%,#0a209e 16%,#0924a0 25%,#0928a3 35%,#092da5 45%,#083dae 55%,#064bb3 64%,#065ab7 72%,#0669b7 80%,#067aa7 86%,#068d80 91%,#0a9953 95%,#0da339 98%,#11ab2b)"></i><i style="left:1070.0px;width:2.5px;background:linear-gradient(#12007f,#110082 8%,#110086 16%,#10008a 25%,#0f038c 35%,#0e078f 45%,#0b1698 55%,#0928a3 64%,#0740af 72%,#065bb7 80%,#066bb6 86%,#06829a 91%,#079368 95%,#0b9d49 98%,#0da439)"></i><i style="left:1072.0px;width:2.5px;background:linear-gradient(#0f068e,#0e0990 8%,#0d0c92 16%,#0d0f93 25%,#0c1296 35%,#0b1698 45%,#0927a2 55%,#073eae 64%,#0655b6 72%,#0669b7 80%,#067ca5 86%,#068e7a 91%,#0a9a4f 95%,#0da537 98%,#12ad28)"></i><i style="left:1074.0px;width:2.5px;background:linear-gradient(#0c1497,#0b1799 8%,#0a1a9b 16%,#0a1d9d 25%,#0a229f 35%,#0926a2 45%,#0839ac 55%,#064bb3 64%,#065db8 72%,#066eb4 80%,#06819e 86%,#069172 91%,#0b9c4b 95%,#0ea633 98%,#15b124)"></i><i style="left:1076.0px;width:2.5px;background:linear-gradient(#120081,#110085 8%,#100089 16%,#0f038c 25%,#0f068e 35%,#0e0a90 45%,#0b199a 55%,#092fa7 64%,#0649b2 72%,#0662b8 80%,#0673b1 86%,#06898b 91%,#08975b 95%,#0ca041 98%,#0ea732)"></i><i style="left:1078.0px;width:2.5px;background:linear-gradient(#0f048d,#0e078f 8%,#0e0a91 16%,#0d0e93 25%,#0c1195 35%,#0b1598 45%,#0926a2 55%,#073eae 64%,#0655b6 72%,#0669b7 80%,#067ca5 86%,#068e7a 91%,#0a9a50 95%,#0da438 98%,#11ac2a)"></i><i style="left:1080.0px;width:2.5px;background:linear-gradient(#0f078e,#0e0a91 8%,#0d0e93 16%,#0c1295 25%,#0b1799 35%,#0a1d9c 45%,#0832a9 55%,#064eb4 64%,#0662b8 72%,#0677ac 80%,#068a8b 86%,#08975c 91%,#0ca23d 95%,#13ae28 98%,#1ebd17)"></i><i style="left:1082.0px;width:2.5px;background:linear-gradient(#110087,#0f038c 8%,#0e088f 16%,#0d0e93 25%,#0b1698 35%,#0a219f 45%,#083dae 55%,#0657b6 64%,#0669b8 72%,#067fa1 80%,#068e7c 86%,#0a9952 91%,#0ea635 95%,#19b71d 98%,#32c60e)"></i><i style="left:1084.0px;width:2.5px;background:linear-gradient(#150071,#130079 8%,#110082 16%,#10018b 25%,#0d0d92 35%,#0a1c9c 45%,#073eae 55%,#065eb8 64%,#0672b1 72%,#06898c 80%,#089562 86%,#0ca041 91%,#14b025 95%,#35c70d 98%,#5cd305)"></i><i style="left:1086.0px;width:2.5px;background:linear-gradient(#1b004b,#1a0056 8%,#180061 16%,#16006c 25%,#12007f 35%,#0e0b91 45%,#0831a8 55%,#0659b7 64%,#0670b3 72%,#068692 80%,#079368 86%,#0b9f44 91%,#13ae27 95%,#32c60e 98%,#59d205)"></i><i style="left:1088.0px;width:2.5px;background:linear-gradient(#1a0051,#19005d 8%,#160068 16%,#140075 25%,#10018b 35%,#0b1799 45%,#0742b0 55%,#0662b8 64%,#0678aa 72%,#068c84 80%,#08975c 86%,#0ca23c 91%,#18b51f 95%,#41cc08 98%,#6ed702)"></i><i style="left:1090.0px;width:2.5px;background:linear-gradient(#1c0038,#1b0045 8%,#1a0052 16%,#180060 25%,#140075 35%,#0f068e 45%,#0930a7 55%,#065bb7 64%,#0672b1 72%,#06898c 80%,#089561 86%,#0ca13f 91%,#16b322 95%,#3cca0a 98%,#67d603)"></i><i style="left:1092.0px;width:2.5px;background:linear-gradient(#1c0037,#1b0044 8%,#1a0051 16%,#19005f 25%,#140074 35%,#0f068e 45%,#092fa7 55%,#065bb7 64%,#0673b1 72%,#068a89 80%,#08965d 86%,#0ca23c 91%,#18b51f 95%,#41cc08 98%,#6ed702)"></i><i style="left:1094.0px;width:2.5px;background:linear-gradient(#17002c,#1c0037 8%,#1b0044 16%,#1a0053 25%,#160069 35%,#110086 45%,#0924a1 55%,#0657b6 64%,#0672b2 72%,#068a89 80%,#08965c 86%,#0ca33b 91%,#19b71e 95%,#45cd07 98%,#72d802)"></i><i style="left:1096.0px;width:2.5px;background:linear-gradient(#1a0033,#1c003f 8%,#1b004c 16%,#19005b 25%,#150071 35%,#0f038c 45%,#092ca5 55%,#0658b6 64%,#066fb3 72%,#068692 80%,#079368 86%,#0b9f44 91%,#13af27 95%,#34c60e 98%,#5cd305)"></i><i style="left:1098.0px;width:2.5px;background:linear-gradient(#1b004d,#1a005a 8%,#170066 16%,#140073 25%,#10008a 35%,#0b1799 45%,#0742b0 55%,#0663b8 64%,#067aa8 72%,#068d7e 80%,#099857 86%,#0da438 91%,#1bba1a 95%,#4dcf06 98%,#7ada01)"></i><i style="left:1100.0px;width:2.5px;background:linear-gradient(#17002b,#1b0036 8%,#1b0043 16%,#1a0053 25%,#16006a 35%,#100087 45%,#0925a1 55%,#0651b5 64%,#0668b8 72%,#067fa1 80%,#068e7b 86%,#0a9a50 91%,#0fa732 95%,#1dbd17 98%,#3fcb09)"></i><i style="left:1102.0px;width:2.5px;background:linear-gradient(#1b0041,#1b004f 8%,#19005c 16%,#16006a 25%,#120081 35%,#0d1094 45%,#083bad 55%,#065eb8 64%,#0673b1 72%,#06888d 80%,#079465 86%,#0b9f42 91%,#14b025 95%,#36c80c 98%,#5fd404)"></i><i style="left:1104.0px;width:2.5px;background:linear-gradient(#1a0053,#18005f 8%,#16006b 16%,#13007a 25%,#0f068e 35%,#0a1d9c 45%,#0747b2 55%,#0665b8 64%,#067ca5 72%,#068e7c 80%,#099857 86%,#0da438 91%,#1bba1a 95%,#4ed006 98%,#7bdb01)"></i><i style="left:1106.0px;width:2.5px;background:linear-gradient(#1b0041,#1b004e 8%,#19005c 16%,#16006a 25%,#120081 35%,#0c1095 45%,#083bad 55%,#0660b8 64%,#0677ac 72%,#068c84 80%,#08975b 86%,#0ca33b 91%,#19b71e 95%,#45cd07 98%,#72d802)"></i><i style="left:1108.0px;width:2.5px;background:linear-gradient(#1c003f,#1b004d 8%,#1a005a 16%,#160069 25%,#120080 35%,#0d1094 45%,#083bad 55%,#065fb8 64%,#0675af 72%,#068b87 80%,#08965e 86%,#0ca13d 91%,#17b420 95%,#3fcc08 98%,#6bd703)"></i><i style="left:1110.0px;width:2.5px;background:linear-gradient(#18002d,#1c0038 8%,#1b0046 16%,#1a0057 25%,#15006e 35%,#10028b 45%,#092aa4 55%,#0655b6 64%,#066db5 72%,#068496 80%,#07926d 86%,#0b9e47 91%,#11ac2a 95%,#2ec410 98%,#55d105)"></i><i style="left:1112.0px;width:2.5px;background:linear-gradient(#1a0058,#170064 8%,#150070 16%,#120080 25%,#0e0b91 35%,#0924a0 45%,#064db4 55%,#0669b8 64%,#06819d 72%,#06916f 80%,#0a9b4d 86%,#0fa830 91%,#2ac212 95%,#66d503 98%,#80dc00)"></i><i style="left:1114.0px;width:2.5px;background:linear-gradient(#1a0052,#19005f 8%,#16006b 16%,#13007b 25%,#0e078f 35%,#0a1f9e 45%,#0649b2 55%,#0667b8 64%,#06819e 72%,#07926e 80%,#0a9c4c 86%,#0fa92f 91%,#2dc410 95%,#6ad703 98%,#80dc00)"></i><i style="left:1116.0px;width:2.5px;background:linear-gradient(#1b004f,#19005c 8%,#160068 16%,#130078 25%,#0f058d 35%,#0a1d9c 45%,#0747b2 55%,#0666b8 64%,#067ea2 72%,#069075 80%,#0a9a51 86%,#0ea633 91%,#23bf15 95%,#5cd304 98%,#80dc00)"></i><i style="left:1118.0px;width:2.5px;background:linear-gradient(#160027,#1a0033 8%,#1c0040 16%,#1a0052 25%,#16006a 35%,#100089 45%,#0926a2 55%,#0653b5 64%,#066ab7 72%,#06819c 80%,#069074 86%,#0a9c4b 91%,#10a92e 95%,#26c014 98%,#4ace07)"></i><i style="left:1120.0px;width:2.5px;background:linear-gradient(#18002e,#1c003a 8%,#1b0048 16%,#19005a 25%,#140072 35%,#0f058d 45%,#092ea6 55%,#0654b5 64%,#0669b7 72%,#067ea1 80%,#068e7c 86%,#0a9952 91%,#0ea633 95%,#1bbb19 98%,#3bca0a)"></i><i style="left:1122.0px;width:2.5px;background:linear-gradient(#1a0051,#19005e 8%,#16006b 16%,#13007b 25%,#0e088f 35%,#0a209e 45%,#064ab3 55%,#0664b8 64%,#0677ab 72%,#068b88 80%,#089561 86%,#0ba041 91%,#15b124 95%,#38c80c 98%,#62d404)"></i><i style="left:1124.0px;width:2.5px;background:linear-gradient(#19005c,#160069 8%,#140076 16%,#110087 25%,#0c1195 35%,#092ca5 45%,#0652b5 55%,#0666b8 64%,#0679a8 72%,#068b86 80%,#089561 86%,#0b9f42 91%,#14b025 95%,#36c80c 98%,#5fd404)"></i><i style="left:1126.0px;width:2.5px;background:linear-gradient(#1b0049,#1a0057 8%,#170064 16%,#140075 25%,#0f038c 35%,#0a1b9b 45%,#0745b1 55%,#0660b8 64%,#0672b1 72%,#068692 80%,#07926d 86%,#0b9d4a 91%,#10aa2c 95%,#29c212 98%,#4ed006)"></i><i style="left:1128.0px;width:2.5px;background:linear-gradient(#1a0050,#19005e 8%,#16006b 16%,#13007c 25%,#0e0990 35%,#0a229f 45%,#064bb3 55%,#0662b8 64%,#0673b0 72%,#068692 80%,#06916f 86%,#0b9c4b 91%,#10a92d 95%,#27c113 98%,#4bcf07)"></i><i style="left:1130.0px;width:2.5px;background:linear-gradient(#190030,#1c003d 8%,#1b004b 16%,#19005e 25%,#130077 35%,#0e0990 45%,#0833a9 55%,#0656b6 64%,#066ab6 72%,#06809f 80%,#068e7a 86%,#0a9a51 91%,#0ea732 95%,#1dbc18 98%,#3ecb09)"></i><i style="left:1132.0px;width:2.5px;background:linear-gradient(#1c0039,#1b0048 8%,#1a0057 16%,#170068 25%,#120082 35%,#0c1195 45%,#083cae 55%,#065fb8 64%,#0674af 72%,#068a89 80%,#08965f 86%,#0ca13f 91%,#16b322 95%,#3dcb09 98%,#68d603)"></i><i style="left:1134.0px;width:2.5px;background:linear-gradient(#1b0041,#1b004f 8%,#19005d 16%,#15006f 25%,#100089 35%,#0b1799 45%,#0742b0 55%,#0663b8 64%,#067aa8 72%,#068e7c 80%,#099855 86%,#0da537 91%,#1cbc18 95%,#52d006 98%,#7edc00)"></i><i style="left:1136.0px;width:2.5px;background:linear-gradient(#1a0052,#180060 8%,#15006d 16%,#120080 25%,#0d0c92 35%,#0926a2 45%,#064eb4 55%,#066ab6 64%,#068399 72%,#079368 80%,#0b9d48 86%,#10ab2b 91%,#35c70d 95%,#74d902 98%,#80dc00)"></i><i style="left:1138.0px;width:2.5px;background:linear-gradient(#150026,#1a0032 8%,#1c003f 16%,#1a0054 25%,#15006e 35%,#0f028c 45%,#092ba4 55%,#0657b6 64%,#066eb4 72%,#068692 80%,#079467 86%,#0b9f43 91%,#14af26 95%,#35c70d 98%,#5ed304)"></i><i style="left:1140.0px;width:2.5px;background:linear-gradient(#1b004b,#1a0059 8%,#170067 16%,#130079 25%,#0e078f 35%,#0a219f 45%,#064ab3 55%,#0667b8 64%,#06809f 72%,#06916f 80%,#0a9b4c 86%,#0fa82f 91%,#2cc311 95%,#68d603 98%,#80dc00)"></i><i style="left:1142.0px;width:2.5px;background:linear-gradient(#1b0049,#1a0058 8%,#170065 16%,#130078 25%,#0f078e 35%,#0a209e 45%,#064ab2 55%,#0665b8 64%,#067ca5 72%,#068e7a 80%,#099955 86%,#0da537 91%,#1cbb19 95%,#51d006 98%,#7edb00)"></i><i style="left:1144.0px;width:2.5px;background:linear-gradient(#0e0018,#13001f 8%,#17002c 16%,#1c003f 25%,#19005c 35%,#13007a 45%,#0b199a 55%,#0649b2 64%,#0664b8 72%,#067ca5 80%,#068d7f 86%,#0a9952 91%,#0ea633 95%,#1bbb19 98%,#3bca0a)"></i><i style="left:1146.0px;width:2.5px;background:linear-gradient(#10001c,#150026 8%,#1a0032 16%,#1b0047 25%,#180063 35%,#110082 45%,#0a209e 55%,#064eb4 64%,#0667b8 72%,#067ea1 80%,#068f79 86%,#0a9a4f 91%,#0fa731 95%,#1fbd17 98%,#40cc08)"></i><i style="left:1148.0px;width:2.5px;background:linear-gradient(#150025,#190031 8%,#1c003f 16%,#1a0055 25%,#15006f 35%,#0f048c 45%,#092ca5 55%,#0651b5 64%,#0666b8 72%,#067ba6 80%,#068c84 86%,#099858 91%,#0da437 95%,#18b61e 98%,#32c60e)"></i><i style="left:1150.0px;width:2.5px;background:linear-gradient(#0c0016,#11001d 8%,#160028 16%,#1c003b 25%,#1a0059 35%,#130078 45%,#0b1799 55%,#0741af 64%,#065fb8 72%,#0673b1 80%,#068692 86%,#089562 91%,#0ca13f 95%,#13af27 98%,#22bf15)"></i><i style="left:1152.0px;width:2.5px;background:linear-gradient(#07000d,#0b0014 8%,#10001b 16%,#17002b 25%,#1b0047 35%,#170067 45%,#0e0b91 55%,#0832a9 64%,#0654b5 72%,#0669b7 80%,#067ea2 86%,#069075 91%,#0b9c4a 95%,#0fa831 98%,#17b520)"></i><i style="left:1154.0px;width:2.5px;background:linear-gradient(#190031,#1c003f 8%,#1b004f 16%,#170064 25%,#12007f 35%,#0d1094 45%,#083bad 55%,#0659b7 64%,#066cb6 72%,#06819d 80%,#068f79 86%,#0a9a51 91%,#0ea732 95%,#1cbc18 98%,#3ecb09)"></i><i style="left:1156.0px;width:2.5px;background:linear-gradient(#18002d,#1c003a 8%,#1b004a 16%,#180060 25%,#13007b 35%,#0d0d92 45%,#0838ac 55%,#0658b7 64%,#066bb6 72%,#06819d 80%,#068f77 86%,#0a9a4f 91%,#0fa831 95%,#1fbd17 98%,#41cc08)"></i><i style="left:1158.0px;width:2.5px;background:linear-gradient(#17002b,#1c0038 8%,#1b0048 16%,#19005e 25%,#130079 35%,#0d0c92 45%,#0837ab 55%,#0658b7 64%,#066cb5 72%,#06829b 80%,#069074 86%,#0a9b4d 91%,#0fa82f 95%,#23bf15 98%,#45cd07)"></i><i style="left:1160.0px;width:2.5px;background:linear-gradient(#180063,#150070 8%,#12007f 16%,#0e088f 25%,#0a1e9d 35%,#083cad 45%,#065cb7 55%,#066fb3 64%,#068497 72%,#07926d 80%,#0a9b4e 86%,#0ea732 91%,#26c014 95%,#60d404 98%,#80dc00)"></i><i style="left:1162.0px;width:2.5px;background:linear-gradient(#1b0042,#1a0052 8%,#180061 16%,#140076 25%,#0f068e 35%,#0a209e 45%,#064ab3 55%,#0661b8 64%,#0671b2 72%,#068496 80%,#069073 86%,#0a9b4e 91%,#0fa830 95%,#21be16 98%,#44cd08)"></i><i style="left:1164.0px;width:2.5px;background:linear-gradient(#1b0034,#1b0043 8%,#1a0054 16%,#160069 25%,#110085 35%,#0b1598 45%,#0740af 55%,#065fb8 64%,#0672b1 72%,#06888f 80%,#079367 86%,#0b9e45 91%,#12ae28 95%,#31c50f 98%,#59d205)"></i><i style="left:1166.0px;width:2.5px;background:linear-gradient(#1c003e,#1b004e 8%,#19005e 16%,#140073 25%,#0f048d 35%,#0a1e9d 45%,#0748b2 55%,#0662b8 64%,#0674b0 72%,#06898c 80%,#079466 86%,#0b9f45 91%,#13ae28 95%,#32c60e 98%,#5ad205)"></i><i style="left:1168.0px;width:2.5px;background:linear-gradient(#11001d,#160029 8%,#1b0037 16%,#1b004f 25%,#16006c 35%,#10028b 45%,#092aa4 55%,#0653b5 64%,#0669b7 72%,#06819d 80%,#069075 86%,#0a9b4d 91%,#0fa82f 95%,#23bf15 98%,#46cd07)"></i><i style="left:1170.0px;width:2.5px;background:linear-gradient(#0e0018,#130021 8%,#18002e 16%,#1b0045 25%,#180063 35%,#110083 45%,#0a219f 55%,#064db4 64%,#0665b8 72%,#067da3 80%,#068e7c 86%,#0a9a51 91%,#0ea733 95%,#1cbc18 98%,#3dcb09)"></i><i style="left:1172.0px;width:2.5px;background:linear-gradient(#150026,#1a0033 8%,#1b0043 16%,#19005b 25%,#130077 35%,#0e0b91 45%,#0835aa 55%,#0654b5 64%,#0666b8 72%,#067ba7 80%,#068b86 86%,#09975a 91%,#0da439 95%,#17b520 98%,#2fc410)"></i><i style="left:1174.0px;width:2.5px;background:linear-gradient(#11001c,#160028 8%,#1b0036 16%,#1b004f 25%,#16006c 35%,#10028b 45%,#092aa4 55%,#064bb3 64%,#0661b8 72%,#0674b0 80%,#068693 86%,#079466 91%,#0ca041 95%,#12ad29 98%,#1fbd17)"></i><i style="left:1176.0px;width:2.5px;background:linear-gradient(#140023,#190030 8%,#1c003f 16%,#1a0059 25%,#140075 35%,#0e0990 45%,#0833a9 55%,#0650b5 64%,#0663b8 72%,#0676ae 80%,#068790 86%,#089563 91%,#0ca13f 95%,#13ae28 98%,#21be16)"></i><i style="left:1178.0px;width:2.5px;background:linear-gradient(#1b004d,#19005d 8%,#16006c 16%,#110083 25%,#0c1195 35%,#092ea6 45%,#0653b5 55%,#0668b8 64%,#067ba6 72%,#068d7f 80%,#09975a 86%,#0ca23c 91%,#18b61f 95%,#42cc08 98%,#6ed802)"></i><i style="left:1180.0px;width:2.5px;background:linear-gradient(#1b0037,#1b0046 8%,#1a0058 16%,#15006f 25%,#10028b 35%,#0a1b9b 45%,#0746b1 55%,#0660b8 64%,#0671b2 72%,#068692 80%,#07926d 86%,#0b9d49 91%,#10aa2c 95%,#29c212 98%,#4ed006)"></i><i style="left:1182.0px;width:2.5px;background:linear-gradient(#1a0033,#1b0042 8%,#1a0053 16%,#16006b 25%,#100088 35%,#0b189a 45%,#0743b0 55%,#065fb8 64%,#0671b2 72%,#068790 80%,#079369 86%,#0b9e47 91%,#11ac2a 95%,#2ec410 98%,#55d105)"></i><i style="left:1184.0px;width:2.5px;background:linear-gradient(#190031,#1c0040 8%,#1a0051 16%,#160069 25%,#110087 35%,#0b1799 45%,#0742b0 55%,#065cb8 64%,#066cb5 72%,#06819c 80%,#068f79 86%,#0a9a52 91%,#0ea733 95%,#1cbb19 98%,#3cca0a)"></i><i style="left:1186.0px;width:2.5px;background:linear-gradient(#18002e,#1c003c 8%,#1b004d 16%,#170066 25%,#110084 35%,#0c1597 45%,#0740af 55%,#065db8 64%,#066eb4 72%,#068498 80%,#069172 86%,#0a9b4c 91%,#0fa92f 95%,#24c014 98%,#47ce07)"></i><i style="left:1188.0px;width:2.5px;background:linear-gradient(#1b0047,#1a0058 8%,#170067 16%,#12007f 25%,#0d0f94 35%,#092ca5 45%,#0652b5 55%,#066bb6 64%,#06829a 72%,#079369 80%,#0b9d49 86%,#10a92d 91%,#30c50f 95%,#6ed802 98%,#80dc00)"></i><i style="left:1190.0px;width:2.5px;background:linear-gradient(#190031,#1c0040 8%,#1a0051 16%,#16006a 25%,#100088 35%,#0b199a 45%,#0743b0 55%,#0664b8 64%,#067ca5 72%,#069075 80%,#0a9a4f 86%,#0fa732 91%,#26c113 95%,#61d404 98%,#80dc00)"></i><i style="left:1192.0px;width:2.5px;background:linear-gradient(#1b0048,#1a0059 8%,#160068 16%,#120081 25%,#0c1195 35%,#092ea7 45%,#0653b5 55%,#066cb5 64%,#068497 72%,#079465 80%,#0b9e46 86%,#11ab2a 91%,#36c80c 95%,#76d901 98%,#80dc00)"></i><i style="left:1194.0px;width:2.5px;background:linear-gradient(#11001c,#160029 8%,#1c0037 16%,#1a0053 25%,#150071 35%,#0f078e 45%,#0930a8 55%,#0655b6 64%,#066ab7 72%,#06829b 80%,#069073 86%,#0a9c4c 91%,#0fa92e 95%,#25c014 98%,#48ce07)"></i><i style="left:1196.0px;width:2.5px;background:linear-gradient(#10001c,#160027 8%,#1b0036 16%,#1a0051 25%,#150070 35%,#0f068e 45%,#092fa7 55%,#0656b6 64%,#066bb6 72%,#068398 80%,#06916f 86%,#0b9d49 91%,#10aa2c 95%,#29c212 98%,#4ed006)"></i><i style="left:1198.0px;width:2.5px;background:linear-gradient(#06000c,#0b0014 8%,#11001c 16%,#1a0032 25%,#1a0052 35%,#140074 45%,#0c1497 55%,#0747b1 64%,#0665b8 72%,#06809f 80%,#069073 86%,#0b9c4a 91%,#10a92d 95%,#28c113 98%,#4ccf07)"></i><i style="left:1200.0px;width:2.5px;background:linear-gradient(#0d0017,#12001f 8%,#18002d 16%,#1b0047 25%,#170068 35%,#100089 45%,#0927a2 55%,#0658b7 64%,#0672b2 72%,#068c83 80%,#099857 86%,#0da537 91%,#1cbc18 95%,#52d006 98%,#7edc00)"></i><i style="left:1202.0px;width:2.5px;background:linear-gradient(#11001c,#160028 8%,#1c0037 16%,#1a0053 25%,#140072 35%,#0e088f 45%,#0832a8 55%,#065eb8 64%,#0676ad 72%,#068e7c 80%,#0a9952 86%,#0ea633 91%,#23bf15 95%,#5cd304 98%,#80dc00)"></i><i style="left:1204.0px;width:2.5px;background:linear-gradient(#18002e,#1c003d 8%,#1b004f 16%,#16006a 25%,#100089 35%,#0b199a 45%,#0744b0 55%,#0665b8 64%,#067ca4 72%,#069072 80%,#0a9b4d 86%,#0fa830 91%,#2ac212 95%,#65d503 98%,#80dc00)"></i><i style="left:1206.0px;width:2.5px;background:linear-gradient(#0c0016,#12001d 8%,#17002c 16%,#1b0046 25%,#170067 35%,#100089 45%,#0927a2 55%,#0654b5 64%,#066cb5 72%,#068692 80%,#079465 86%,#0ba042 91%,#14b025 95%,#36c80c 98%,#5fd404)"></i><i style="left:1208.0px;width:2.5px;background:linear-gradient(#0e0018,#130021 8%,#190030 16%,#1b004c 25%,#16006c 35%,#0f038c 45%,#092ca5 55%,#0659b7 64%,#0672b2 72%,#068b85 80%,#099859 86%,#0da439 91%,#1ab91b 95%,#4bcf07 98%,#78da01)"></i><i style="left:1210.0px;width:2.5px;background:linear-gradient(#0a0013,#10001b 8%,#160028 16%,#1b0042 25%,#180063 35%,#110085 45%,#0a23a0 55%,#0655b6 64%,#066fb3 72%,#068a89 80%,#08975b 86%,#0ca33a 91%,#19b71d 95%,#46ce07 98%,#72d902)"></i><i style="left:1212.0px;width:2.5px;background:linear-gradient(#06000c,#0b0015 8%,#11001d 16%,#1b0034 25%,#1a0057 35%,#130078 45%,#0b1899 55%,#064bb3 64%,#0667b8 72%,#068399 80%,#07926b 86%,#0b9e46 91%,#12ad29 95%,#30c50f 98%,#56d205)"></i><i style="left:1214.0px;width:2.5px;background:linear-gradient(#030006,#08000f 8%,#0e0018 16%,#17002b 25%,#1b004b 35%,#15006e 45%,#0d1094 55%,#073eae 64%,#065fb8 72%,#0677ac 80%,#068b86 86%,#099857 91%,#0da437 95%,#18b61f 98%,#31c50f)"></i><i style="left:1216.0px;width:2.5px;background:linear-gradient(#090011,#0e0019 8%,#150025 16%,#1c003e 25%,#180060 35%,#110082 45%,#0a209e 55%,#064eb4 64%,#0666b8 72%,#06809f 80%,#069075 86%,#0a9b4d 91%,#0fa82f 95%,#22bf15 98%,#44cd07)"></i><i style="left:1218.0px;width:2.5px;background:linear-gradient(#030006,#08000f 8%,#0e0018 16%,#17002a 25%,#1b004b 35%,#15006e 45%,#0d1094 55%,#083dae 64%,#065eb8 72%,#0675af 80%,#068a8b 86%,#08975b 91%,#0ca33a 95%,#16b322 98%,#2ac212)"></i><i style="left:1220.0px;width:2.5px;background:linear-gradient(#0e0019,#140023 8%,#1a0033 16%,#1b0050 25%,#150070 35%,#0f078e 45%,#0930a7 55%,#0656b6 64%,#066bb6 72%,#068399 80%,#069170 86%,#0b9c4a 91%,#10a92d 95%,#26c113 98%,#49ce07)"></i><i style="left:1222.0px;width:2.5px;background:linear-gradient(#11001c,#17002a 8%,#1c003b 16%,#1a0058 25%,#130078 35%,#0d0d92 45%,#0838ac 55%,#065ab7 64%,#066eb4 72%,#068692 80%,#079368 86%,#0b9e45 91%,#12ad29 95%,#2fc410 98%,#55d105)"></i><i style="left:1224.0px;width:2.5px;background:linear-gradient(#0d0018,#130022 8%,#1a0032 16%,#1b004e 25%,#15006f 35%,#0f068e 45%,#092fa7 55%,#0651b5 64%,#0665b8 72%,#067ba6 80%,#068c83 86%,#099857 91%,#0da438 95%,#18b51f 98%,#2fc50f)"></i><i style="left:1226.0px;width:2.5px;background:linear-gradient(#0b0014,#11001d 8%,#17002c 16%,#1b0047 25%,#160069 35%,#10018b 45%,#0929a3 55%,#0650b4 64%,#0666b8 72%,#067da4 80%,#068d7e 86%,#099954 91%,#0ea635 95%,#1ab91c 98%,#36c80c)"></i><i style="left:1228.0px;width:2.5px;background:linear-gradient(#040007,#090011 8%,#0f001a 16%,#18002e 25%,#1a0050 35%,#140073 45%,#0c1497 55%,#083dae 64%,#065bb7 72%,#0671b2 80%,#068594 86%,#079464 91%,#0ca041 95%,#12ac29 98%,#1dbc18)"></i><i style="left:1230.0px;width:2.5px;background:linear-gradient(#150026,#1b0036 8%,#1b004a 16%,#170066 25%,#110087 35%,#0b199a 45%,#0743b0 55%,#065db8 64%,#066db5 72%,#06829b 80%,#068f77 86%,#0a9a50 91%,#0ea732 95%,#1cbb19 98%,#3bca0a)"></i><i style="left:1232.0px;width:2.5px;background:linear-gradient(#05000a,#0b0014 8%,#11001d 16%,#1a0034 25%,#1a0057 35%,#13007a 45%,#0b199a 55%,#083aad 64%,#0654b5 72%,#0668b8 80%,#067aa8 86%,#068d7f 91%,#0a9a51 95%,#0da437 98%,#12ae28)"></i><i style="left:1234.0px;width:2.5px;background:linear-gradient(#140023,#1a0033 8%,#1b0047 16%,#180064 25%,#110084 35%,#0b1799 45%,#0742b0 55%,#0657b6 64%,#0666b8 72%,#0677ab 80%,#06888f 86%,#079464 91%,#0ca041 95%,#11ac2a 98%,#1cbc18)"></i><i style="left:1236.0px;width:2.5px;background:linear-gradient(#17002c,#1c003d 8%,#1a0052 16%,#15006e 25%,#0f048c 35%,#0a209e 45%,#064ab2 55%,#0659b7 64%,#0665b8 72%,#0674b0 80%,#068498 86%,#06916f 91%,#0b9d47 95%,#0fa830 98%,#18b61f)"></i><i style="left:1238.0px;width:2.5px;background:linear-gradient(#140024,#1b0035 8%,#1b0049 16%,#170066 25%,#110087 35%,#0b199a 45%,#0744b0 55%,#0654b6 64%,#0661b8 72%,#066fb3 80%,#067ea1 86%,#068e7a 91%,#0a9b4e 95%,#0ea535 98%,#14b025)"></i><i style="left:1240.0px;width:2.5px;background:linear-gradient(#0f001a,#160028 8%,#1c0039 16%,#1a0058 25%,#130078 35%,#0d0e93 45%,#0839ac 55%,#064bb3 64%,#065ab7 72%,#0668b8 80%,#0677ab 86%,#068b88 91%,#099857 95%,#0ca23c 98%,#10a92d)"></i><i style="left:1242.0px;width:2.5px;background:linear-gradient(#1b0034,#1b0048 8%,#19005d 16%,#130078 25%,#0d0c92 35%,#092aa4 45%,#0651b5 55%,#065eb8 64%,#0667b8 72%,#0676ad 80%,#068496 86%,#07926e 91%,#0b9e47 95%,#0fa82f 98%,#18b61e)"></i><i style="left:1244.0px;width:2.5px;background:linear-gradient(#1c0039,#1b004e 8%,#180062 16%,#12007d 25%,#0d1094 35%,#0930a7 45%,#0654b6 55%,#0661b8 64%,#066cb5 72%,#067ca4 80%,#068a89 86%,#089560 91%,#0ca13e 95%,#13ae28 98%,#20be16)"></i><i style="left:1246.0px;width:2.5px;background:linear-gradient(#0a0013,#11001c 8%,#17002c 16%,#1b0048 25%,#16006b 35%,#0f048c 45%,#092ca5 55%,#064bb3 64%,#0660b8 72%,#0672b2 80%,#068497 86%,#07926b 91%,#0b9e45 95%,#0fa92e 98%,#19b81d)"></i><i style="left:1248.0px;width:2.5px;background:linear-gradient(#0d0017,#130021 8%,#1a0033 16%,#1a0051 25%,#140072 35%,#0e0a90 45%,#0834aa 55%,#0650b4 64%,#0662b8 72%,#0674b0 80%,#068693 86%,#079467 91%,#0b9f43 95%,#10aa2c 98%,#1aba1b)"></i><i style="left:1250.0px;width:2.5px;background:linear-gradient(#150026,#1c0037 8%,#1b004d 16%,#16006a 25%,#10018b 35%,#0a1d9d 45%,#0748b2 55%,#065db8 64%,#066bb6 72%,#067ea2 80%,#068c82 86%,#099859 91%,#0da439 95%,#16b322 98%,#2ac212)"></i><i style="left:1252.0px;width:2.5px;background:linear-gradient(#130021,#1a0033 8%,#1b0048 16%,#170065 25%,#110087 35%,#0b1a9a 45%,#0744b0 55%,#065fb8 64%,#066fb3 72%,#068496 80%,#069171 86%,#0a9c4c 91%,#0fa82f 95%,#20be16 98%,#40cc08)"></i><i style="left:1254.0px;width:2.5px;background:linear-gradient(#1c003b,#1a0051 8%,#170065 16%,#120081 25%,#0c1497 35%,#0835aa 45%,#0657b6 55%,#066ab7 64%,#067da3 72%,#068e7a 80%,#099856 86%,#0da33a 91%,#19b71d 95%,#43cd08 98%,#6dd702)"></i><i style="left:1256.0px;width:2.5px;background:linear-gradient(#0f0019,#150027 8%,#1c003a 16%,#1a0059 25%,#13007a 35%,#0d1094 45%,#083bad 55%,#065cb8 64%,#066fb3 72%,#068791 80%,#079367 86%,#0b9e45 91%,#12ad29 95%,#2cc311 98%,#50d006)"></i><i style="left:1258.0px;width:2.5px;background:linear-gradient(#130021,#1a0033 8%,#1b0048 16%,#170066 25%,#100088 35%,#0a1b9b 45%,#0745b1 55%,#0663b8 64%,#0679aa 72%,#068d7d 80%,#099856 86%,#0da438 91%,#1ab91b 95%,#48ce07 98%,#72d802)"></i><i style="left:1260.0px;width:2.5px;background:linear-gradient(#080010,#0f001a 8%,#160028 16%,#1b0044 25%,#170068 35%,#10028b 45%,#092aa4 55%,#0653b5 64%,#066ab7 72%,#068399 80%,#069170 86%,#0b9d4a 91%,#10a92d 95%,#24c014 98%,#45cd07)"></i><i style="left:1262.0px;width:2.5px;background:linear-gradient(#1a0034,#1b0049 8%,#18005f 16%,#13007b 25%,#0d0f94 35%,#092fa7 45%,#0654b5 55%,#0667b8 64%,#0679a9 72%,#068c84 80%,#08965e 86%,#0ba041 91%,#14b025 95%,#33c60e 98%,#59d205)"></i><i style="left:1264.0px;width:2.5px;background:linear-gradient(#0e0018,#150025 8%,#1c0038 16%,#1a0058 25%,#130079 35%,#0d1094 45%,#083aad 55%,#0658b7 64%,#066ab7 72%,#06819e 80%,#068f79 86%,#0a9a51 91%,#0ea633 95%,#1ab91b 98%,#36c80c)"></i><i style="left:1266.0px;width:2.5px;background:linear-gradient(#040008,#0a0013 8%,#11001d 16%,#1b0036 25%,#19005b 35%,#120080 45%,#0a1e9d 55%,#0747b2 64%,#0661b8 72%,#0677ab 80%,#068b88 86%,#09975a 91%,#0ca33a 95%,#15b124 98%,#26c014)"></i><i style="left:1268.0px;width:2.5px;background:linear-gradient(#0b0014,#12001f 8%,#1a0032 16%,#1a0050 25%,#140073 35%,#0e0b91 45%,#0835aa 55%,#0656b6 64%,#0669b8 72%,#0680a0 80%,#068e7a 86%,#0a9a52 91%,#0ea634 95%,#1ab91c 98%,#34c70d)"></i><i style="left:1270.0px;width:2.5px;background:linear-gradient(#0b0014,#12001e 8%,#190031 16%,#1b004f 25%,#150072 35%,#0e0a90 45%,#0834aa 55%,#0653b5 64%,#0666b8 72%,#067ba6 80%,#068c84 86%,#099858 91%,#0da339 95%,#16b322 98%,#28c113)"></i><i style="left:1272.0px;width:2.5px;background:linear-gradient(#140024,#1c0037 8%,#1b004e 16%,#16006c 25%,#0f038c 35%,#0a219f 45%,#064bb3 55%,#0660b8 64%,#0670b3 72%,#068496 80%,#069073 86%,#0a9b4e 91%,#0fa731 95%,#1cbb19 98%,#3ac90b)"></i><i style="left:1274.0px;width:2.5px;background:linear-gradient(#0c0015,#130021 8%,#1b0034 16%,#1a0054 25%,#140076 35%,#0d0e93 45%,#0838ac 55%,#0653b5 64%,#0664b8 72%,#0677ac 80%,#06888e 86%,#089561 91%,#0ca040 95%,#11ac2a 98%,#1bbb19)"></i><i style="left:1276.0px;width:2.5px;background:linear-gradient(#0b0014,#12001e 8%,#1a0032 16%,#1a0051 25%,#140073 35%,#0e0c91 45%,#0836ab 55%,#0653b5 64%,#0665b8 72%,#0679a9 80%,#068a89 86%,#08965c 91%,#0ca23c 95%,#13af27 98%,#21be16)"></i><i style="left:1278.0px;width:2.5px;background:linear-gradient(#0c0016,#140023 8%,#1b0036 16%,#1a0056 25%,#130079 35%,#0d1094 45%,#083bad 55%,#0657b6 64%,#0668b8 72%,#067da3 80%,#068c81 86%,#099857 91%,#0da438 95%,#16b421 98%,#2ac212)"></i><i style="left:1280.0px;width:2.5px;background:linear-gradient(#11001c,#18002e 8%,#1b0044 16%,#180063 25%,#110086 35%,#0a1a9b 45%,#0745b1 55%,#0660b8 64%,#0672b2 72%,#06878f 80%,#079368 86%,#0b9e47 91%,#11ab2b 95%,#28c113 98%,#49ce07)"></i><i style="left:1282.0px;width:2.5px;background:linear-gradient(#05000a,#0c0015 8%,#130021 16%,#1c003d 25%,#180062 35%,#100088 45%,#0925a1 55%,#064db4 64%,#0664b8 72%,#067ba7 80%,#068c82 86%,#099856 91%,#0da438 95%,#17b421 98%,#2bc311)"></i><i style="left:1284.0px;width:2.5px;background:linear-gradient(#0a0013,#11001d 8%,#190031 16%,#1b0050 25%,#140073 35%,#0e0c91 45%,#0836ab 55%,#0654b5 64%,#0666b8 72%,#067ba6 80%,#068b85 86%,#099759 91%,#0da33a 95%,#15b124 98%,#25c014)"></i><i style="left:1286.0px;width:2.5px;background:linear-gradient(#0b0014,#12001f 8%,#1a0033 16%,#1a0053 25%,#140076 35%,#0d0e93 45%,#0839ac 55%,#0657b6 64%,#0669b7 72%,#06809f 80%,#068e7a 86%,#0a9952 91%,#0ea634 95%,#19b81d 98%,#32c60e)"></i><i style="left:1288.0px;width:2.5px;background:linear-gradient(#07000d,#0e0018 8%,#160028 16%,#1b0045 25%,#16006a 35%,#0f058d 45%,#092da6 55%,#0653b5 64%,#0668b8 72%,#067fa0 80%,#068f79 86%,#0a9a50 91%,#0ea733 95%,#1ab91b 98%,#34c70d)"></i><i style="left:1290.0px;width:2.5px;background:linear-gradient(#0b0014,#12001f 8%,#1a0033 16%,#1a0053 25%,#140076 35%,#0d0e93 45%,#0839ac 55%,#0658b6 64%,#066ab7 72%,#06819d 80%,#068f78 86%,#0a9a50 91%,#0ea733 95%,#1ab91b 98%,#34c70d)"></i><i style="left:1292.0px;width:2.5px;background:linear-gradient(#0c0016,#140023 8%,#1c0038 16%,#1a0059 25%,#13007c 35%,#0c1296 45%,#083dae 55%,#0656b6 64%,#0667b8 72%,#067aa7 80%,#068b88 86%,#08965c 91%,#0ca23c 95%,#13ae27 98%,#1fbd17)"></i><i style="left:1294.0px;width:2.5px;background:linear-gradient(#07000e,#0f0019 8%,#17002a 16%,#1b0048 25%,#16006d 35%,#0f078e 45%,#0930a8 55%,#064fb4 64%,#0662b8 72%,#0675af 80%,#068791 86%,#079464 91%,#0ba042 95%,#10aa2c 98%,#1ab91c)"></i><i style="left:1296.0px;width:2.5px;background:linear-gradient(#11001c,#19002f 8%,#1b0047 16%,#170066 25%,#10008a 35%,#0a1e9d 45%,#0748b2 55%,#065fb8 64%,#066db4 72%,#06819c 80%,#068f79 86%,#0a9953 91%,#0ea635 95%,#18b71e 98%,#2fc50f)"></i><i style="left:1298.0px;width:2.5px;background:linear-gradient(#040009,#0b0015 8%,#140022 16%,#1c003e 25%,#170064 35%,#10008a 45%,#0928a3 55%,#064bb3 64%,#0661b8 72%,#0675ae 80%,#06888e 86%,#089560 91%,#0ca13f 95%,#11ab2a 98%,#1bba1a)"></i><i style="left:1300.0px;width:2.5px;background:linear-gradient(#11001c,#18002f 8%,#1b0047 16%,#170066 25%,#10008a 35%,#0a1e9d 45%,#0649b2 55%,#065fb8 64%,#066fb3 72%,#068398 80%,#069075 86%,#0a9a4f 91%,#0ea732 95%,#1ab91b 98%,#35c70d)"></i><i style="left:1302.0px;width:2.5px;background:linear-gradient(#0b0015,#130022 8%,#1c0037 16%,#1a0058 25%,#13007c 35%,#0c1396 45%,#073eae 55%,#065db8 64%,#0670b3 72%,#068692 80%,#079369 86%,#0b9e47 91%,#10aa2c 95%,#26c014 98%,#45cd07)"></i><i style="left:1304.0px;width:2.5px;background:linear-gradient(#07000d,#0e0019 8%,#17002a 16%,#1b0048 25%,#15006d 35%,#0e088f 45%,#0831a8 55%,#0653b5 64%,#0666b8 72%,#067da4 80%,#068d80 86%,#099855 91%,#0da437 95%,#17b421 98%,#2ac212)"></i><i style="left:1306.0px;width:2.5px;background:linear-gradient(#010002,#07000e 8%,#0f001a 16%,#1a0032 25%,#1a0059 35%,#12007f 45%,#0a1d9c 55%,#0748b2 64%,#0662b8 72%,#0679a9 80%,#068c84 86%,#099857 91%,#0da439 95%,#16b223 98%,#27c113)"></i><i style="left:1308.0px;width:2.5px;background:linear-gradient(#06000b,#0d0017 8%,#150026 16%,#1b0044 25%,#16006a 35%,#0f058d 45%,#092ea6 55%,#0659b7 64%,#0670b3 72%,#068a8b 80%,#08965d 86%,#0ca23d 91%,#16b322 95%,#37c80c 98%,#5cd305)"></i><i style="left:1310.0px;width:2.5px;background:linear-gradient(#0b0014,#130021 8%,#1b0036 16%,#1a0058 25%,#13007b 35%,#0c1296 45%,#083dae 55%,#0662b8 64%,#067aa7 72%,#069076 80%,#0a9a4f 86%,#0fa731 91%,#24c014 95%,#57d205 98%,#7fdc00)"></i><i style="left:1312.0px;width:2.5px;background:linear-gradient(#0a0013,#12001e 8%,#1a0034 16%,#1a0055 25%,#130079 35%,#0c1195 45%,#083cad 55%,#0661b8 64%,#0678ab 72%,#068e7b 80%,#0a9953 86%,#0ea635 91%,#1dbc18 95%,#4dcf06 98%,#75d901)"></i><i style="left:1314.0px;width:2.5px;background:linear-gradient(#090012,#11001d 8%,#190031 16%,#1a0052 25%,#140076 35%,#0d0e93 45%,#0839ac 55%,#065cb8 64%,#0670b2 72%,#06888e 80%,#089563 86%,#0ba042 91%,#13ae27 95%,#2ec410 98%,#50d006)"></i><i style="left:1316.0px;width:2.5px;background:linear-gradient(#0b0014,#130020 8%,#1b0035 16%,#1a0057 25%,#13007b 35%,#0c1296 45%,#083dae 55%,#0661b8 64%,#0679a9 72%,#068f79 80%,#0a9a51 86%,#0ea633 91%,#1fbe16 95%,#51d006 98%,#79da01)"></i><i style="left:1318.0px;width:2.5px;background:linear-gradient(#040009,#0c0015 8%,#140022 16%,#1c0040 25%,#170066 35%,#10028b 45%,#092aa4 55%,#0653b5 64%,#0669b7 72%,#06819c 80%,#069073 86%,#0a9c4c 91%,#0fa830 95%,#1cbc18 98%,#3ac90b)"></i><i style="left:1320.0px;width:2.5px;background:linear-gradient(#080011,#10001c 8%,#19002f 16%,#1b004f 25%,#140074 35%,#0d0d92 45%,#0838ac 55%,#0658b7 64%,#066cb6 72%,#06839a 80%,#069073 86%,#0a9b4d 91%,#0fa830 95%,#1cbb19 98%,#39c90b)"></i><i style="left:1322.0px;width:2.5px;background:linear-gradient(#000000,#06000c 8%,#0e0018 16%,#18002e 25%,#1a0055 35%,#13007b 45%,#0a1a9b 55%,#0748b2 64%,#0664b8 72%,#067ca4 80%,#068e7d 86%,#0a9a52 91%,#0ea634 95%,#19b71d 98%,#30c50f)"></i><i style="left:1324.0px;width:2.5px;background:linear-gradient(#0d0017,#150026 8%,#1c003c 16%,#19005e 25%,#110082 35%,#0b1899 45%,#0743b0 55%,#0661b8 64%,#0675af 72%,#068b87 80%,#08965e 86%,#0ca13f 91%,#15b124 95%,#34c60e 98%,#57d205)"></i><i style="left:1326.0px;width:2.5px;background:linear-gradient(#0c0016,#140024 8%,#1c003a 16%,#19005c 25%,#120080 35%,#0b1698 45%,#0741af 55%,#0661b8 64%,#0676ae 72%,#068c84 80%,#08975b 86%,#0ca23c 91%,#17b421 95%,#3ac90b 98%,#5fd404)"></i><i style="left:1328.0px;width:2.5px;background:linear-gradient(#0e0019,#160029 8%,#1b0040 16%,#180062 25%,#110086 35%,#0a1b9b 45%,#0746b1 55%,#0662b8 64%,#0676ad 72%,#068b85 80%,#08965d 86%,#0ca13e 91%,#15b223 95%,#35c70d 98%,#59d205)"></i><i style="left:1330.0px;width:2.5px;background:linear-gradient(#18002e,#1b0045 8%,#19005e 16%,#12007d 25%,#0c1396 35%,#0836ab 45%,#0657b6 55%,#066fb3 64%,#068692 72%,#089560 80%,#0b9f43 86%,#13ae28 91%,#38c80c 95%,#71d802 98%,#80dc00)"></i><i style="left:1332.0px;width:2.5px;background:linear-gradient(#130021,#1b0036 8%,#1a0050 16%,#150070 25%,#0e088f 35%,#0929a3 45%,#0650b4 55%,#066bb6 64%,#068398 72%,#079464 80%,#0b9e45 86%,#12ad29 91%,#36c70d 95%,#6ed802 98%,#80dc00)"></i><i style="left:1334.0px;width:2.5px;background:linear-gradient(#000001,#07000e 8%,#0f0019 16%,#1a0032 25%,#1a0059 35%,#12007f 45%,#0a1d9d 55%,#0654b6 64%,#0670b2 72%,#068c84 80%,#099856 86%,#0da536 91%,#1bbb1a 95%,#48ce07 98%,#70d802)"></i><i style="left:1336.0px;width:2.5px;background:linear-gradient(#0a0013,#12001e 8%,#1a0033 16%,#1a0055 25%,#13007a 35%,#0c1195 45%,#083cae 55%,#0666b8 64%,#068398 72%,#08965c 80%,#0ca23b 86%,#19b81c 91%,#50d006 95%,#80dc00 98%,#80dc00)"></i><i style="left:1338.0px;width:2.5px;background:linear-gradient(#010002,#08000f 8%,#10001b 16%,#1b0035 25%,#19005c 35%,#110082 45%,#0a209e 55%,#0654b5 64%,#066eb4 72%,#068a8b 80%,#08975c 86%,#0ca23b 91%,#17b520 95%,#3bca0a 98%,#61d404)"></i><i style="left:1340.0px;width:2.5px;background:linear-gradient(#0d0017,#150026 8%,#1c003c 16%,#19005f 25%,#110083 35%,#0b199a 45%,#0743b0 55%,#0664b8 64%,#067da4 72%,#069172 80%,#0a9b4d 86%,#0fa830 91%,#26c113 95%,#5ad205 98%,#80dc00)"></i><i style="left:1342.0px;width:2.5px;background:linear-gradient(#130020,#1b0034 8%,#1b004e 16%,#15006e 25%,#0e078f 35%,#0927a3 45%,#064fb4 55%,#0666b8 64%,#067aa7 72%,#068d7e 80%,#099859 86%,#0ca23b 91%,#17b520 95%,#3bca0a 98%,#62d404)"></i><i style="left:1344.0px;width:2.5px;background:linear-gradient(#020004,#090011 8%,#11001c 16%,#1c0038 25%,#180060 35%,#110086 45%,#0924a0 55%,#064cb3 64%,#0664b8 72%,#067aa7 80%,#068c83 86%,#099857 91%,#0da439 95%,#16b223 98%,#27c113)"></i><i style="left:1346.0px;width:2.5px;background:linear-gradient(#030007,#0a0013 8%,#130020 16%,#1c003e 25%,#170065 35%,#10018b 45%,#0929a3 55%,#064db4 64%,#0663b8 72%,#0678aa 80%,#068a89 86%,#08975c 91%,#0ca23c 95%,#13ae27 98%,#1fbd17)"></i><i style="left:1348.0px;width:2.5px;background:linear-gradient(#000000,#06000c 8%,#0e0018 16%,#190030 25%,#1a0057 35%,#12007d 45%,#0a1b9c 55%,#083dae 64%,#0657b6 72%,#066ab7 80%,#067ca5 86%,#068e7c 91%,#0a9a50 95%,#0da438 98%,#11ab2b)"></i><i style="left:1350.0px;width:2.5px;background:linear-gradient(#020005,#090011 8%,#11001d 16%,#1c003a 25%,#180061 35%,#100088 45%,#0925a1 55%,#0741af 64%,#0657b6 72%,#0668b8 80%,#0679a9 86%,#068c82 91%,#099954 95%,#0ca23b 98%,#10a92e)"></i><i style="left:1352.0px;width:2.5px;background:linear-gradient(#040007,#0b0014 8%,#130020 16%,#1c003f 25%,#170066 35%,#10028b 45%,#092aa4 55%,#0745b1 64%,#065ab7 72%,#066ab7 80%,#067ba6 86%,#068d7f 91%,#0a9952 95%,#0da33a 98%,#10aa2c)"></i><i style="left:1354.0px;width:2.5px;background:linear-gradient(#090012,#11001d 8%,#190031 16%,#1a0054 25%,#130079 35%,#0c1195 45%,#083bad 55%,#0657b6 64%,#0668b8 72%,#067ca4 80%,#068c83 86%,#099759 91%,#0da33a 95%,#15b124 98%,#24c014)"></i><i style="left:1356.0px;width:2.5px;background:linear-gradient(#010003,#080010 8%,#10001b 16%,#1b0036 25%,#19005f 35%,#110085 45%,#0a23a0 55%,#0649b2 64%,#0662b8 72%,#0676ad 80%,#06898c 86%,#08965e 91%,#0ca13e 95%,#12ad29 98%,#1cbc18)"></i><i style="left:1358.0px;width:2.5px;background:linear-gradient(#0e0018,#160028 8%,#1c003e 16%,#180061 25%,#110086 35%,#0a1b9b 45%,#0746b1 55%,#0662b8 64%,#0676ad 72%,#068b86 80%,#08965d 86%,#0ca13f 91%,#15b124 95%,#33c60e 98%,#57d205)"></i><i style="left:1360.0px;width:2.5px;background:linear-gradient(#020004,#090011 8%,#11001c 16%,#1c0039 25%,#180061 35%,#100087 45%,#0925a1 55%,#0654b5 64%,#066db5 72%,#068790 80%,#089563 86%,#0ba041 91%,#13af26 95%,#2fc50f 98%,#52d006)"></i><i style="left:1362.0px;width:2.5px;background:linear-gradient(#080011,#10001c 8%,#190030 16%,#1a0052 25%,#130077 35%,#0d1094 45%,#083bad 55%,#065fb8 64%,#0675af 72%,#068c84 80%,#08975b 86%,#0ca23b 91%,#17b520 95%,#3ac90b 98%,#60d404)"></i><i style="left:1364.0px;width:2.5px;background:linear-gradient(#0b0014,#130021 8%,#1b0036 16%,#1a005a 25%,#12007f 35%,#0b1598 45%,#0740af 55%,#0662b8 64%,#0679a9 72%,#068e7b 80%,#099954 86%,#0ea536 91%,#1bbb19 95%,#49ce07 98%,#71d802)"></i><i style="left:1366.0px;width:2.5px;background:linear-gradient(#07000e,#0f0019 8%,#17002a 16%,#1b004c 25%,#140072 35%,#0e0b91 45%,#0836ab 55%,#065fb8 64%,#0676ad 72%,#068d7e 80%,#099955 86%,#0da536 91%,#1bbb1a 95%,#48ce07 98%,#70d802)"></i><i style="left:1368.0px;width:2.5px;background:linear-gradient(#000000,#05000a 8%,#0c0016 16%,#18002d 25%,#1a0054 35%,#13007a 45%,#0b199a 55%,#064cb3 64%,#0667b8 72%,#06829b 80%,#06916f 86%,#0b9d48 91%,#10a92d 95%,#23bf15 98%,#41cc08)"></i><i style="left:1370.0px;width:2.5px;background:linear-gradient(#000001,#07000d 8%,#0f0019 16%,#1a0033 25%,#19005c 35%,#120082 45%,#0a209e 55%,#064cb3 64%,#0666b8 72%,#067ea2 80%,#068e7a 86%,#0a9a51 91%,#0ea634 95%,#19b81c 98%,#32c60e)"></i><i style="left:1372.0px;width:2.5px;background:linear-gradient(#030005,#090012 8%,#12001d 16%,#1c003c 25%,#170064 35%,#10008a 45%,#0928a3 55%,#064db4 64%,#0664b8 72%,#0679a9 80%,#068b87 86%,#08975b 91%,#0ca23b 95%,#14af26 98%,#21be16)"></i><i style="left:1374.0px;width:2.5px;background:linear-gradient(#040008,#0b0014 8%,#130021 16%,#1b0040 25%,#170068 35%,#0f048c 45%,#092ca5 55%,#0650b5 64%,#0666b8 72%,#067ba6 80%,#068c83 86%,#099858 91%,#0da439 95%,#15b223 98%,#26c014)"></i><i style="left:1376.0px;width:2.5px;background:linear-gradient(#0b0014,#130020 8%,#1b0035 16%,#1a0059 25%,#12007f 35%,#0b1598 45%,#0740af 55%,#065db8 64%,#0670b3 72%,#068594 80%,#07926e 86%,#0b9c4a 91%,#0fa92f 95%,#1fbd17 98%,#3dcb09)"></i><i style="left:1378.0px;width:2.5px;background:linear-gradient(#000000,#030007 8%,#0b0014 16%,#160029 25%,#1b0050 35%,#140076 45%,#0b1698 55%,#0740af 64%,#065eb8 72%,#0673b1 80%,#068791 86%,#089562 91%,#0ca041 95%,#10aa2c 98%,#1ab91b)"></i><i style="left:1380.0px;width:2.5px;background:linear-gradient(#06000c,#0d0018 8%,#160028 16%,#1b0049 25%,#150070 35%,#0e0a90 45%,#0834aa 55%,#0656b6 64%,#066bb6 72%,#06829b 80%,#069075 86%,#0a9b4e 91%,#0fa732 95%,#1bba1a 98%,#37c80c)"></i><i style="left:1382.0px;width:2.5px;background:linear-gradient(#05000a,#0c0016 8%,#150025 16%,#1b0046 25%,#15006d 35%,#0e088f 45%,#0831a8 55%,#0652b5 64%,#0666b8 72%,#067ba6 80%,#068c84 86%,#099759 91%,#0da33a 95%,#15b124 98%,#24bf15)"></i><i style="left:1384.0px;width:2.5px;background:linear-gradient(#040007,#0b0014 8%,#130020 16%,#1b0041 25%,#160068 35%,#0f048c 45%,#092ca5 55%,#064fb4 64%,#0665b8 72%,#0679a8 80%,#068b87 86%,#08975b 91%,#0ca23b 95%,#13af26 98%,#20be16)"></i><i style="left:1386.0px;width:2.5px;background:linear-gradient(#030006,#0a0012 8%,#12001e 16%,#1c003e 25%,#170066 35%,#10028b 45%,#092aa4 55%,#064cb3 64%,#0662b8 72%,#0675ae 80%,#068790 86%,#089563 91%,#0ba041 95%,#10aa2c 98%,#1ab91c)"></i><i style="left:1388.0px;width:2.5px;background:linear-gradient(#0b0014,#130021 8%,#1b0036 16%,#19005b 25%,#120081 35%,#0b1799 45%,#0742b0 55%,#065fb8 64%,#0673b1 72%,#06888e 80%,#079466 86%,#0b9e45 91%,#11ac2a 95%,#28c113 98%,#48ce07)"></i><i style="left:1390.0px;width:2.5px;background:linear-gradient(#0a0013,#12001f 8%,#1b0035 16%,#1a0059 25%,#12007f 35%,#0b1698 45%,#0740af 55%,#0661b8 64%,#0677ac 72%,#068c81 80%,#099759 86%,#0ca33b 91%,#18b51f 95%,#3cca0a 98%,#62d504)"></i><i style="left:1392.0px;width:2.5px;background:linear-gradient(#0e0019,#160029 8%,#1c0040 16%,#170064 25%,#10008a 35%,#0a1f9e 45%,#0649b2 55%,#0664b8 64%,#0679a9 72%,#068d80 80%,#099759 86%,#0ca23b 91%,#17b520 95%,#3ac90b 98%,#60d404)"></i><i style="left:1394.0px;width:2.5px;background:linear-gradient(#0f0019,#17002a 8%,#1b0041 16%,#170066 25%,#10018b 35%,#0a209e 45%,#064ab2 55%,#0664b8 64%,#067aa8 72%,#068d7e 80%,#099859 86%,#0ca33b 91%,#18b51f 95%,#3cca0a 98%,#63d504)"></i><i style="left:1396.0px;width:2.5px;background:linear-gradient(#140024,#1c0039 8%,#1a0054 16%,#140076 25%,#0d0e93 35%,#0930a8 45%,#0654b6 55%,#066bb6 64%,#06819c 72%,#06916f 80%,#0a9b4e 86%,#0ea732 91%,#21be16 95%,#53d106 98%,#7bdb01)"></i><i style="left:1398.0px;width:2.5px;background:linear-gradient(#000000,#06000c 8%,#0e0018 16%,#1a0032 25%,#19005b 35%,#120081 45%,#0a1f9e 55%,#064eb4 64%,#0668b8 72%,#06819c 80%,#069073 86%,#0a9c4b 91%,#0fa82f 95%,#1dbd17 98%,#3bca0a)"></i><i style="left:1400.0px;width:2.5px;background:linear-gradient(#0e0019,#16002a 8%,#1b0041 16%,#170065 25%,#10018b 35%,#0a209e 45%,#064ab2 55%,#0667b8 64%,#06819e 72%,#07926c 80%,#0b9c4a 86%,#0fa92e 91%,#2bc311 95%,#60d404 98%,#80dc00)"></i><i style="left:1402.0px;width:2.5px;background:linear-gradient(#07000e,#0f001a 8%,#17002b 16%,#1b004f 25%,#140076 35%,#0d0e93 45%,#0839ac 55%,#0661b8 64%,#067ba6 72%,#069073 80%,#0a9b4d 86%,#0fa830 91%,#27c113 95%,#5bd305 98%,#80dc00)"></i><i style="left:1404.0px;width:2.5px;background:linear-gradient(#040009,#0b0015 8%,#140022 16%,#1b0044 25%,#16006c 35%,#0f078e 45%,#0930a7 55%,#065cb7 64%,#0674b0 72%,#068c82 80%,#099858 86%,#0da438 91%,#19b81c 95%,#41cc08 98%,#69d603)"></i><i style="left:1406.0px;width:2.5px;background:linear-gradient(#030005,#090012 8%,#12001d 16%,#1c003d 25%,#170066 35%,#10028b 45%,#092aa4 55%,#0655b6 64%,#066eb4 72%,#068791 80%,#079466 86%,#0b9f44 91%,#12ad28 95%,#2bc311 98%,#4ccf06)"></i><i style="left:1408.0px;width:2.5px;background:linear-gradient(#000000,#050009 8%,#0c0016 16%,#18002e 25%,#1a0057 35%,#12007d 45%,#0a1b9c 55%,#064ab3 64%,#0665b8 72%,#067ea2 80%,#068e7a 86%,#0a9a50 91%,#0ea633 95%,#19b81c 98%,#32c60e)"></i><i style="left:1410.0px;width:2.5px;background:linear-gradient(#06000b,#0d0017 8%,#150027 16%,#1b004a 25%,#140072 35%,#0e0b91 45%,#0836ab 55%,#065bb7 64%,#0671b2 72%,#06888d 80%,#089563 86%,#0ba042 91%,#13ae27 95%,#2ec410 98%,#50d006)"></i><i style="left:1412.0px;width:2.5px;background:linear-gradient(#06000c,#0e0018 8%,#160028 16%,#1b004c 25%,#140074 35%,#0d0d92 45%,#0838ac 55%,#0658b6 64%,#066cb5 72%,#06829a 80%,#069074 86%,#0a9b4e 91%,#0fa732 95%,#1bba1a 98%,#36c80c)"></i><i style="left:1414.0px;width:2.5px;background:linear-gradient(#0c0015,#140022 8%,#1c0038 16%,#18005f 25%,#110086 35%,#0a1b9b 45%,#0745b1 55%,#0660b8 64%,#0673b1 72%,#06888e 80%,#079368 86%,#0b9e47 91%,#10ab2b 95%,#26c014 98%,#45cd07)"></i><i style="left:1416.0px;width:2.5px;background:linear-gradient(#040008,#0b0014 8%,#130022 16%,#1b0045 25%,#15006d 35%,#0e088f 45%,#0831a8 55%,#0650b5 64%,#0664b8 72%,#0678ab 80%,#06898c 86%,#08965e 91%,#0ca13f 95%,#11ac2a 98%,#1bbb19)"></i><i style="left:1418.0px;width:2.5px;background:linear-gradient(#0b0014,#130020 8%,#1b0036 16%,#19005d 25%,#110084 35%,#0b199a 45%,#0744b0 55%,#065cb8 64%,#066cb5 72%,#06809f 80%,#068d7e 86%,#099856 91%,#0da437 95%,#16b421 98%,#29c212)"></i><i style="left:1420.0px;width:2.5px;background:linear-gradient(#030007,#0a0013 8%,#13001f 16%,#1b0042 25%,#16006b 35%,#0f068e 45%,#092fa7 55%,#064cb3 64%,#0660b8 72%,#0671b2 80%,#06839a 86%,#06916f 91%,#0b9d48 95%,#0fa732 98%,#16b223)"></i><i style="left:1422.0px;width:2.5px;background:linear-gradient(#000000,#06000c 8%,#0e0018 16%,#1b0035 25%,#19005f 35%,#110085 45%,#0a23a0 55%,#0741af 64%,#0658b7 72%,#066ab7 80%,#067ba5 86%,#068d7d 91%,#0a9a51 95%,#0da439 98%,#10aa2b)"></i><i style="left:1424.0px;width:2.5px;background:linear-gradient(#000000,#030007 8%,#0b0014 16%,#17002c 25%,#1a0056 35%,#13007c 45%,#0a1a9b 55%,#083cad 64%,#0656b6 72%,#0669b7 80%,#067ca5 86%,#068e7c 91%,#0a9a50 95%,#0da438 98%,#11ab2a)"></i><i style="left:1426.0px;width:2.5px;background:linear-gradient(#010002,#07000f 8%,#10001b 16%,#1c0039 25%,#180064 35%,#10008a 45%,#0928a3 55%,#0744b0 64%,#065bb7 72%,#066cb5 80%,#067da3 86%,#068e7a 91%,#0a9a4f 95%,#0da437 98%,#12ac29)"></i><i style="left:1428.0px;width:2.5px;background:linear-gradient(#000000,#040008 8%,#0b0015 16%,#18002e 25%,#1a0058 35%,#12007e 45%,#0a1c9c 55%,#073eae 64%,#0657b6 72%,#066ab7 80%,#067ca4 86%,#068e7b 91%,#0a9a50 95%,#0da438 98%,#11ac2a)"></i><i style="left:1430.0px;width:2.5px;background:linear-gradient(#000000,#040008 8%,#0b0015 16%,#18002f 25%,#1a0059 35%,#12007f 45%,#0a1d9c 55%,#083dae 64%,#0656b6 72%,#0668b8 80%,#067aa7 86%,#068d7f 91%,#0a9952 95%,#0da33a 98%,#10aa2d)"></i><i style="left:1432.0px;width:2.5px;background:linear-gradient(#000000,#06000c 8%,#0e0019 16%,#1b0036 25%,#180061 35%,#110087 45%,#0925a1 55%,#0747b2 64%,#0660b8 72%,#0673b1 80%,#068594 86%,#079467 91%,#0b9f43 95%,#10a92e 98%,#19b71e)"></i><i style="left:1434.0px;width:2.5px;background:linear-gradient(#000000,#030006 8%,#0a0013 16%,#17002b 25%,#1a0055 35%,#13007b 45%,#0a1a9b 55%,#0743b0 64%,#065fb8 72%,#0674b0 80%,#06888f 86%,#089660 91%,#0ca13f 95%,#11ac2a 98%,#1bbb1a)"></i><i style="left:1436.0px;width:2.5px;background:linear-gradient(#000000,#000000 8%,#040008 16%,#10001c 25%,#1c003f 35%,#170068 45%,#0e0b91 55%,#0837ac 64%,#065ab7 72%,#0672b2 80%,#068791 86%,#089660 91%,#0ca13f 95%,#11ac2a 98%,#1bbb1a)"></i><i style="left:1438.0px;width:2.5px;background:linear-gradient(#000000,#040008 8%,#0b0015 16%,#19002f 25%,#1a005a 35%,#120080 45%,#0a1e9d 55%,#0649b2 64%,#0663b8 72%,#067aa7 80%,#068c82 86%,#099856 91%,#0da438 95%,#16b322 98%,#29c212)"></i><i style="left:1440.0px;width:2.5px;background:linear-gradient(#000000,#000000 8%,#07000d 16%,#140022 25%,#1b004a 35%,#150071 45%,#0c1296 55%,#0740af 64%,#0660b8 72%,#0677ab 80%,#068b86 86%,#099858 91%,#0da439 95%,#15b223 98%,#26c014)"></i><i style="left:1442.0px;width:2.5px;background:linear-gradient(#000000,#020004 8%,#090011 16%,#160029 25%,#1a0052 35%,#130078 45%,#0b1899 55%,#0745b1 64%,#0662b8 72%,#067aa8 80%,#068c81 86%,#099955 91%,#0da537 95%,#17b420 98%,#2bc311)"></i><i style="left:1444.0px;width:2.5px;background:linear-gradient(#05000a,#0d0016 8%,#150026 16%,#1b004d 25%,#140076 35%,#0d0e93 45%,#0839ac 55%,#065fb8 64%,#0675af 72%,#068c82 80%,#099858 86%,#0da439 91%,#19b71d 95%,#40cc08 98%,#68d603)"></i><i style="left:1446.0px;width:2.2px;background:linear-gradient(#010002,#07000f 8%,#10001b 16%,#1c003c 25%,#170067 35%,#0f038c 45%,#092ba4 55%,#0657b6 64%,#066fb3 72%,#06898c 80%,#08965e 86%,#0ca13e 91%,#16b223 95%,#36c80c 98%,#5bd305)"></i></div><div class="sp" style="left:197.8px;top:435.8px;width:1447.7px;height:267.0px"><i style="left:0.0px;width:2.5px;background:linear-gradient(#0b1799,#0b1799 8%,#0b1799 16%,#0a1b9b 25%,#092aa4 35%,#0742b0 45%,#065cb8 55%,#066ab7 64%,#0676ad 72%,#067da3 80%,#06819c 86%,#068496 91%,#068594 95%,#068594 98%,#068594)"></i><i style="left:2.0px;width:2.5px;background:linear-gradient(#0c1195,#0c1195 8%,#0c1195 16%,#0c1497 25%,#0a219f 35%,#0838ac 45%,#0654b5 55%,#0664b8 64%,#0671b2 72%,#0679a9 80%,#067ea2 86%,#06829c 91%,#068399 95%,#068399 98%,#068399)"></i><i style="left:4.0px;width:2.5px;background:linear-gradient(#110083,#110083 8%,#110083 16%,#100088 25%,#0e0990 35%,#0b199a 45%,#083aad 55%,#0653b5 64%,#0664b8 72%,#066cb5 80%,#0672b1 86%,#0676ad 91%,#0678aa 95%,#0678aa 98%,#0678aa)"></i><i style="left:6.0px;width:2.5px;background:linear-gradient(#0d0c92,#0d0c92 8%,#0d0d92 16%,#0d1094 25%,#0b199a 35%,#092aa4 45%,#0745b1 55%,#065bb7 64%,#066bb6 72%,#0675af 80%,#067ba6 86%,#06809f 91%,#06829c 95%,#06829c 98%,#06829c)"></i><i style="left:8.0px;width:2.5px;background:linear-gradient(#0f078e,#0f078e 8%,#0e078f 16%,#0e0b91 25%,#0c1396 35%,#0a1f9e 45%,#083aad 55%,#0653b5 64%,#0667b8 72%,#0671b2 80%,#0678aa 86%,#067da3 91%,#067fa0 95%,#067fa0 98%,#067fa0)"></i><i style="left:10.0px;width:2.5px;background:linear-gradient(#0f058d,#0f058d 8%,#0f068e 16%,#0e0990 25%,#0d1094 35%,#0a1a9b 45%,#0930a8 55%,#064db4 64%,#0664b8 72%,#066fb3 80%,#0677ac 86%,#067da4 91%,#067fa1 95%,#067fa1 98%,#067fa1)"></i><i style="left:12.0px;width:2.5px;background:linear-gradient(#100088,#100088 8%,#100088 16%,#10028b 25%,#0e088f 35%,#0d0f94 45%,#0a209e 55%,#0740af 64%,#0660b8 72%,#066bb6 80%,#0673b1 86%,#0679a9 91%,#067ca5 95%,#067ca5 98%,#067ca5)"></i><i style="left:14.0px;width:2.5px;background:linear-gradient(#140074,#140074 8%,#140075 16%,#130079 25%,#12007f 35%,#110086 45%,#0e0990 55%,#0928a3 64%,#0654b5 72%,#0663b8 80%,#066bb6 86%,#0671b2 91%,#0674b0 95%,#0674b0 98%,#0674b0)"></i><i style="left:16.0px;width:2.5px;background:linear-gradient(#0f078e,#0f078e 8%,#0e078f 16%,#0e0b91 25%,#0d0f94 35%,#0c1497 45%,#0a219f 55%,#0742af 64%,#0662b8 72%,#066eb4 80%,#0678ab 86%,#067ea2 91%,#06819e 95%,#06819e 98%,#06819e)"></i><i style="left:18.0px;width:2.5px;background:linear-gradient(#13007b,#13007c 8%,#12007d 16%,#110083 25%,#10018a 35%,#0e088f 45%,#0b1799 55%,#0837ac 64%,#065ab7 72%,#0667b8 80%,#066fb3 86%,#0675ae 91%,#0678ab 95%,#0678ab 98%,#0678ab)"></i><i style="left:20.0px;width:2.5px;background:linear-gradient(#0f058d,#0f078e 8%,#0e088f 16%,#0d0d92 25%,#0c1497 35%,#0a209e 45%,#0835aa 55%,#064fb4 64%,#0665b8 72%,#0671b2 80%,#0679a8 86%,#067fa1 91%,#06819d 95%,#06819d 98%,#06819d)"></i><i style="left:22.0px;width:2.5px;background:linear-gradient(#15006f,#150071 8%,#140074 16%,#13007a 25%,#110087 35%,#0e0b91 45%,#0a1f9e 55%,#073eae 64%,#065ab7 72%,#0665b8 80%,#066db5 86%,#0672b2 91%,#0674b0 95%,#0674b0 98%,#0674b0)"></i><i style="left:24.0px;width:2.5px;background:linear-gradient(#0c1195,#0c1396 8%,#0b1598 16%,#0a1b9b 25%,#0929a3 35%,#083cae 45%,#0650b5 55%,#0661b8 64%,#066fb3 72%,#067aa7 80%,#06829c 86%,#068594 91%,#068791 95%,#068791 98%,#068791)"></i><i style="left:26.0px;width:2.5px;background:linear-gradient(#12007d,#120080 8%,#110084 16%,#10018b 25%,#0d0e93 35%,#0923a0 45%,#073fae 55%,#0655b6 64%,#0664b8 72%,#066eb4 80%,#0675af 86%,#0679aa 91%,#067aa7 95%,#067aa7 98%,#067aa7)"></i><i style="left:28.0px;width:2.5px;background:linear-gradient(#0d1094,#0c1396 8%,#0b1798 16%,#0a1e9d 25%,#0930a7 35%,#0747b2 45%,#065cb7 55%,#0667b8 64%,#0674b0 72%,#067ea2 80%,#068398 86%,#068692 91%,#068790 95%,#068790 98%,#068790)"></i><i style="left:30.0px;width:2.5px;background:linear-gradient(#0b199a,#0a1c9c 8%,#0a1f9e 16%,#0927a2 25%,#0838ac 35%,#064db3 45%,#065eb8 55%,#0669b7 64%,#0676ae 72%,#06819e 80%,#068791 86%,#068a8b 91%,#068b88 95%,#068b88 98%,#068b88)"></i><i style="left:32.0px;width:2.5px;background:linear-gradient(#0c1195,#0c1396 8%,#0b1698 16%,#0a1c9c 25%,#092ba5 35%,#0740af 45%,#0654b5 55%,#0662b8 64%,#066eb4 72%,#067ba6 80%,#06829a 86%,#068693 91%,#068791 95%,#068791 98%,#068791)"></i><i style="left:34.0px;width:2.5px;background:linear-gradient(#13007b,#12007d 8%,#120080 16%,#100088 25%,#0e0a90 35%,#0a1a9b 45%,#0833a9 55%,#064ab3 64%,#065eb8 72%,#066ab7 80%,#0673b1 86%,#0677ac 91%,#0679a9 95%,#0679a9 98%,#0679a9)"></i><i style="left:36.0px;width:2.5px;background:linear-gradient(#12007f,#120081 8%,#110084 16%,#10008a 25%,#0e0a91 35%,#0b199a 45%,#092ea7 55%,#0747b1 64%,#065cb8 72%,#066ab7 80%,#0673b0 86%,#0678aa 91%,#067aa7 95%,#067aa7 98%,#067aa7)"></i><i style="left:38.0px;width:2.5px;background:linear-gradient(#140075,#130077 8%,#130079 16%,#120080 25%,#10018b 35%,#0d0d92 45%,#0a1d9d 55%,#0839ac 64%,#0653b5 72%,#0665b8 80%,#066fb4 86%,#0674b0 91%,#0676ad 95%,#0676ad 98%,#0676ad)"></i><i style="left:40.0px;width:2.5px;background:linear-gradient(#110085,#110087 8%,#100088 16%,#0f038c 25%,#0e0b91 35%,#0b1598 45%,#0925a1 55%,#073eae 64%,#0658b6 72%,#0669b7 80%,#0674af 86%,#067aa8 91%,#067ca5 95%,#067ca5 98%,#067ca5)"></i><i style="left:42.0px;width:2.5px;background:linear-gradient(#110083,#110083 8%,#110085 16%,#10008a 25%,#0f078e 35%,#0d0f93 45%,#0a1b9b 55%,#0835aa 64%,#0652b5 72%,#0667b8 80%,#0672b1 86%,#0678aa 91%,#067ba7 95%,#067ba7 98%,#067ba7)"></i><i style="left:44.0px;width:2.5px;background:linear-gradient(#130077,#130077 8%,#130078 16%,#12007d 25%,#110084 35%,#10018b 45%,#0e0b91 55%,#0a219f 64%,#0746b1 72%,#0661b8 80%,#066db5 86%,#0673b1 91%,#0676ae 95%,#0676ae 98%,#0676ae)"></i><i style="left:46.0px;width:2.5px;background:linear-gradient(#140072,#140072 8%,#140073 16%,#130077 25%,#12007c 35%,#120081 45%,#10018b 55%,#0b1698 64%,#083dae 72%,#065eb8 80%,#066ab7 86%,#0671b2 91%,#0673b0 95%,#0673b0 98%,#0673b0)"></i><i style="left:48.0px;width:2.5px;background:linear-gradient(#13007b,#13007c 8%,#12007c 16%,#120081 25%,#100087 35%,#0f038c 45%,#0d0d93 55%,#0925a1 64%,#0649b2 72%,#0664b8 80%,#0670b3 86%,#0676ad 91%,#0679aa 95%,#0678aa 98%,#0678ab)"></i><i style="left:50.0px;width:2.5px;background:linear-gradient(#130078,#130079 8%,#13007a 16%,#12007f 25%,#110087 35%,#0f058d 45%,#0c1195 55%,#092ba5 64%,#064eb4 72%,#0665b8 80%,#0671b2 86%,#0677ab 91%,#0679a9 95%,#0678aa 98%,#0677ab)"></i><i style="left:52.0px;width:2.5px;background:linear-gradient(#110087,#100088 8%,#100089 16%,#0f048c 25%,#0e0b91 35%,#0c1497 45%,#0925a1 55%,#0740af 64%,#065bb7 72%,#066eb4 80%,#067aa8 86%,#067fa0 91%,#06819e 95%,#067fa0 98%,#067ea2)"></i><i style="left:54.0px;width:2.5px;background:linear-gradient(#15006e,#15006f 8%,#150071 16%,#130077 25%,#110082 35%,#0f058d 45%,#0b1698 55%,#0834aa 64%,#0653b5 72%,#0667b8 80%,#0672b1 86%,#0677ab 91%,#0678aa 95%,#0676ad 98%,#0675af)"></i><i style="left:56.0px;width:2.5px;background:linear-gradient(#130078,#130079 8%,#13007c 16%,#110082 25%,#0f038c 35%,#0d1094 45%,#0927a2 55%,#0744b0 64%,#065db8 72%,#066eb4 80%,#0679a9 86%,#067ea2 91%,#067ea2 95%,#067ca5 98%,#067aa8)"></i><i style="left:58.0px;width:2.5px;background:linear-gradient(#180060,#180062 8%,#170065 16%,#16006c 25%,#130079 35%,#10028b 45%,#0b189a 55%,#0839ac 64%,#0655b6 72%,#0667b8 80%,#0671b2 86%,#0676ad 91%,#0676ad 95%,#0673b1 98%,#0671b2)"></i><i style="left:60.0px;width:2.5px;background:linear-gradient(#15006e,#150071 8%,#140074 16%,#13007b 25%,#10008a 35%,#0c1195 45%,#092ea6 55%,#064cb3 64%,#0661b8 72%,#0670b3 80%,#067aa8 86%,#067ea1 91%,#067ea2 95%,#067aa7 98%,#0678ab)"></i><i style="left:62.0px;width:2.5px;background:linear-gradient(#12007d,#120080 8%,#110084 16%,#10018b 25%,#0d0e93 35%,#0a229f 45%,#0742b0 55%,#065ab7 64%,#066ab7 72%,#0679a9 80%,#06829a 86%,#068693 91%,#068595 95%,#06819c 98%,#067fa1)"></i><i style="left:64.0px;width:2.5px;background:linear-gradient(#130078,#13007c 8%,#120080 16%,#100088 25%,#0d0c92 35%,#0a219f 45%,#0744b1 55%,#065db8 64%,#066bb6 72%,#067aa7 80%,#068399 86%,#068693 91%,#068496 95%,#06819e 98%,#067ea2)"></i><i style="left:66.0px;width:2.5px;background:linear-gradient(#0f038c,#0f068e 8%,#0e0a90 16%,#0c1095 25%,#0a209e 35%,#083bad 45%,#0658b6 55%,#0668b8 64%,#0678aa 72%,#068594 80%,#068b85 86%,#068d7f 91%,#068c82 95%,#06898c 98%,#068691)"></i><i style="left:68.0px;width:2.5px;background:linear-gradient(#0d0d93,#0d1094 8%,#0c1497 16%,#0a1a9b 25%,#092da5 35%,#0745b1 45%,#065fb8 55%,#066db4 64%,#067da3 72%,#068a8b 80%,#068e7c 86%,#069076 91%,#068f79 95%,#068c82 98%,#068b88)"></i><i style="left:70.0px;width:2.5px;background:linear-gradient(#10018b,#0f048c 8%,#0e078f 16%,#0d0e93 25%,#0a1d9d 35%,#0839ac 45%,#0655b6 55%,#0666b8 64%,#0676ad 72%,#068398 80%,#068a89 86%,#068c83 91%,#068b86 95%,#06888e 98%,#068594)"></i><i style="left:72.0px;width:2.5px;background:linear-gradient(#0f038c,#0f068e 8%,#0e0990 16%,#0d1094 25%,#0a209e 35%,#083bad 45%,#0656b6 55%,#0667b8 64%,#0677ac 72%,#068497 80%,#068a88 86%,#068c82 91%,#068b85 95%,#06898d 98%,#068692)"></i><i style="left:74.0px;width:2.5px;background:linear-gradient(#100088,#10028b 8%,#0f058d 16%,#0d0c92 25%,#0a1b9b 35%,#0836ab 45%,#0653b5 55%,#0664b8 64%,#0674b0 72%,#06819c 80%,#06888e 86%,#068b88 91%,#068a8a 95%,#068791 98%,#068496)"></i><i style="left:76.0px;width:2.5px;background:linear-gradient(#0f048d,#0e078f 8%,#0e0b91 16%,#0c1195 25%,#0a219f 35%,#083cae 45%,#0656b6 55%,#0666b8 64%,#0676ad 72%,#068398 80%,#068a8a 86%,#068c84 91%,#068b86 95%,#06898c 98%,#068791)"></i><i style="left:78.0px;width:2.5px;background:linear-gradient(#110084,#100087 8%,#10018b 16%,#0e088f 25%,#0b1799 35%,#0832a8 45%,#064fb4 55%,#0661b8 64%,#0670b3 72%,#067ea2 80%,#068594 86%,#06888e 91%,#06878f 95%,#068595 98%,#068399)"></i><i style="left:80.0px;width:2.5px;background:linear-gradient(#0f038c,#0f068e 8%,#0e0a90 16%,#0c1195 25%,#0a209e 35%,#083bad 45%,#0654b6 55%,#0665b8 64%,#0674b0 72%,#06829c 80%,#06898d 86%,#068b87 91%,#068a88 95%,#06888e 98%,#068791)"></i><i style="left:82.0px;width:2.5px;background:linear-gradient(#0e088f,#0e0b91 8%,#0d0e93 16%,#0c1597 25%,#0926a2 35%,#0740af 45%,#0657b6 55%,#0666b8 64%,#0676ae 72%,#068399 80%,#068a8a 86%,#068c84 91%,#068b85 95%,#068a8a 98%,#06888d)"></i><i style="left:84.0px;width:2.5px;background:linear-gradient(#0f068e,#0e0990 8%,#0d0c92 16%,#0c1396 25%,#0a22a0 35%,#083cad 45%,#0653b5 55%,#0664b8 64%,#0673b1 72%,#06819d 80%,#06888e 86%,#068b87 91%,#068b88 95%,#06898c 98%,#06888f)"></i><i style="left:86.0px;width:2.5px;background:linear-gradient(#0f068e,#0e088f 8%,#0e0b91 16%,#0c1295 25%,#0a1f9e 35%,#0838ac 45%,#064eb4 55%,#0661b8 64%,#0670b3 72%,#067fa0 80%,#068790 86%,#068a8a 91%,#068a89 95%,#06888d 98%,#068790)"></i><i style="left:88.0px;width:2.5px;background:linear-gradient(#12007f,#120082 8%,#110085 16%,#10028b 25%,#0d0e93 35%,#0a209e 45%,#083aad 55%,#0653b5 64%,#0666b8 72%,#0675ae 80%,#067fa0 86%,#068399 91%,#068398 95%,#06829c 98%,#06809e)"></i><i style="left:90.0px;width:2.5px;background:linear-gradient(#15006f,#150072 8%,#140074 16%,#13007c 25%,#10008a 35%,#0d0f94 45%,#0924a0 55%,#0742b0 64%,#065eb8 72%,#066db5 80%,#0677ac 86%,#067ca5 91%,#067da4 95%,#067ba6 98%,#067aa8)"></i><i style="left:92.0px;width:2.5px;background:linear-gradient(#0f058d,#0f078e 8%,#0e088f 16%,#0d0e93 25%,#0b1799 35%,#0926a2 45%,#083bad 55%,#0653b5 64%,#0667b8 72%,#0678aa 80%,#068399 86%,#068790 91%,#06888e 95%,#068791 98%,#068692)"></i><i style="left:94.0px;width:2.5px;background:linear-gradient(#13007a,#13007b 8%,#12007d 16%,#110083 25%,#0f038c 35%,#0d0e93 45%,#0a1e9d 55%,#083dae 64%,#065bb7 72%,#066db5 80%,#0678aa 86%,#067ea2 91%,#067fa0 95%,#067ea2 98%,#067ea3)"></i><i style="left:96.0px;width:2.5px;background:linear-gradient(#110087,#100088 8%,#10008a 16%,#0f048d 25%,#0e0b91 35%,#0c1497 45%,#0a22a0 55%,#0740af 64%,#065eb8 72%,#0670b2 80%,#067ca4 86%,#06829b 91%,#068398 95%,#068399 98%,#06829a)"></i><i style="left:98.0px;width:2.5px;background:linear-gradient(#10028b,#0f028c 8%,#0f038c 16%,#0e078f 25%,#0d0d92 35%,#0c1497 45%,#0a209e 55%,#083dae 64%,#065eb8 72%,#0670b2 80%,#067da3 86%,#068399 91%,#068496 95%,#068496 98%,#068497)"></i><i style="left:100.0px;width:2.5px;background:linear-gradient(#100087,#100088 8%,#100089 16%,#0f028c 25%,#0f078e 35%,#0d0c92 45%,#0c1597 55%,#0831a8 64%,#0657b6 72%,#066cb5 80%,#067aa8 86%,#06809f 91%,#06829b 95%,#06829b 98%,#06829b)"></i><i style="left:102.0px;width:2.5px;background:linear-gradient(#100088,#100088 8%,#100088 16%,#10028b 25%,#0f068e 35%,#0e0990 45%,#0c1195 55%,#092da5 64%,#0655b6 72%,#066bb6 80%,#0679a9 86%,#067fa0 91%,#06829b 95%,#06829b 98%,#06829b)"></i><i style="left:104.0px;width:2.5px;background:linear-gradient(#100088,#100088 8%,#100089 16%,#0f038c 25%,#0f068e 35%,#0e0a90 45%,#0c1296 55%,#092ea6 64%,#0655b6 72%,#066bb6 80%,#0679a9 86%,#06809f 91%,#06829b 95%,#06829b 98%,#06829b)"></i><i style="left:106.0px;width:2.5px;background:linear-gradient(#0e078f,#0e078f 8%,#0e078f 16%,#0e0b91 25%,#0d0f93 35%,#0c1296 45%,#0a1b9b 55%,#0839ac 64%,#065bb7 72%,#0670b3 80%,#067da3 86%,#068398 91%,#068693 95%,#068693 98%,#068693)"></i><i style="left:108.0px;width:2.5px;background:linear-gradient(#12007d,#12007d 8%,#12007d 16%,#120082 25%,#110087 35%,#10018b 45%,#0e0a90 55%,#0924a0 64%,#064fb4 72%,#0667b8 80%,#0674b0 86%,#067ba6 91%,#067ea2 95%,#067ea2 98%,#067ea2)"></i><i style="left:110.0px;width:2.5px;background:linear-gradient(#120080,#120080 8%,#120080 16%,#110084 25%,#100089 35%,#0f038c 45%,#0d0d92 55%,#0927a2 64%,#0650b5 72%,#0668b8 80%,#0675ae 86%,#067ca5 91%,#067fa1 95%,#067fa1 98%,#067fa1)"></i><i style="left:112.0px;width:2.5px;background:linear-gradient(#0d0d92,#0d0d92 8%,#0d0e93 16%,#0c1195 25%,#0c1597 35%,#0b189a 45%,#0924a0 55%,#0740af 64%,#065fb8 72%,#0673b1 80%,#06819e 86%,#068692 91%,#06888d 95%,#06888d 98%,#06888d)"></i><i style="left:114.0px;width:2.5px;background:linear-gradient(#140075,#140075 8%,#140076 16%,#13007a 25%,#12007f 35%,#110084 45%,#0f068e 55%,#0a1e9d 64%,#064ab2 72%,#0664b8 80%,#0671b2 86%,#0678aa 91%,#067ba7 95%,#067ba7 98%,#067ba7)"></i><i style="left:116.0px;width:2.5px;background:linear-gradient(#0e088f,#0e088f 8%,#0e088f 16%,#0e0b91 25%,#0d0f94 35%,#0c1396 45%,#0a1e9d 55%,#083bad 64%,#065bb7 72%,#0670b3 80%,#067ea2 86%,#068497 91%,#068693 95%,#068693 98%,#068693)"></i><i style="left:118.0px;width:2.5px;background:linear-gradient(#120081,#120081 8%,#120081 16%,#110086 25%,#10008a 35%,#0f048d 45%,#0d0f94 55%,#092aa4 64%,#0651b5 72%,#0668b8 80%,#0676ad 86%,#067da4 91%,#067fa0 95%,#067fa0 98%,#067fa0)"></i><i style="left:120.0px;width:2.5px;background:linear-gradient(#10028b,#10028b 8%,#0f038c 16%,#0f078e 25%,#0e0b91 35%,#0d1094 45%,#0a1b9c 55%,#0839ac 64%,#0659b7 72%,#066eb4 80%,#067ba6 86%,#06819c 91%,#068398 95%,#068398 98%,#068398)"></i><i style="left:122.0px;width:2.5px;background:linear-gradient(#12007e,#120080 8%,#120082 16%,#100088 25%,#0f058d 35%,#0d0d92 45%,#0b199a 55%,#0836ab 64%,#0655b6 72%,#066ab7 80%,#0677ac 86%,#067da3 91%,#067fa1 95%,#067ea1 98%,#067ea2)"></i><i style="left:124.0px;width:2.5px;background:linear-gradient(#10008a,#10028b 8%,#0f048d 16%,#0e0b91 25%,#0c1497 35%,#0a1e9d 45%,#092fa7 55%,#0747b2 64%,#065fb8 72%,#0671b2 80%,#067da3 86%,#06829a 91%,#068497 95%,#068399 98%,#06839a)"></i><i style="left:126.0px;width:2.5px;background:linear-gradient(#0925a1,#0928a3 8%,#092ca5 16%,#0836ab 25%,#0741af 35%,#064db4 45%,#0657b6 55%,#0664b8 64%,#0674b0 72%,#068595 80%,#068d80 86%,#068f77 91%,#069075 95%,#068f77 98%,#068f78)"></i><i style="left:128.0px;width:2.5px;background:linear-gradient(#0f078e,#0e0a91 8%,#0d0e93 16%,#0b1899 25%,#0926a2 35%,#0838ac 45%,#0748b2 55%,#0659b7 64%,#0668b8 72%,#0679a9 80%,#068399 86%,#068791 91%,#06888f 95%,#068692 98%,#068593)"></i><i style="left:130.0px;width:2.5px;background:linear-gradient(#0d0f94,#0c1396 8%,#0b189a 16%,#0925a1 25%,#0837ab 35%,#0748b2 45%,#0655b6 55%,#0662b8 64%,#066fb3 72%,#0680a0 80%,#06888f 86%,#068b87 91%,#068b86 95%,#068a8a 98%,#06898c)"></i><i style="left:132.0px;width:2.5px;background:linear-gradient(#0f078e,#0d0c92 8%,#0c1195 16%,#0a1e9d 25%,#0832a9 35%,#0747b1 45%,#0655b6 55%,#0662b8 64%,#066eb4 72%,#067da3 80%,#068594 86%,#06888d 91%,#06898d 95%,#068791 98%,#068594)"></i><i style="left:134.0px;width:2.5px;background:linear-gradient(#0c1095,#0b1698 8%,#0a1d9d 16%,#092ea6 25%,#0742b0 35%,#0655b6 45%,#0661b8 55%,#066ab6 64%,#0676ac 72%,#068497 80%,#068b88 86%,#068c82 91%,#068c83 95%,#068b87 98%,#068a8a)"></i><i style="left:136.0px;width:2.5px;background:linear-gradient(#110086,#0f038c 8%,#0e0990 16%,#0b1698 25%,#092aa4 35%,#0743b0 45%,#0654b5 55%,#0661b8 64%,#066bb6 72%,#0679a8 80%,#06819c 86%,#068498 91%,#068399 95%,#06819d 98%,#067fa0)"></i><i style="left:138.0px;width:2.5px;background:linear-gradient(#0f068e,#0d0c92 8%,#0c1396 16%,#0a1f9e 25%,#0834aa 35%,#064ab2 45%,#0659b7 55%,#0664b8 64%,#0670b3 72%,#067ea2 80%,#068595 86%,#068691 91%,#068693 95%,#068497 98%,#06829a)"></i><i style="left:140.0px;width:2.5px;background:linear-gradient(#0a1d9d,#0925a1 8%,#092da6 16%,#0839ac 25%,#0649b2 35%,#0659b7 45%,#0664b8 55%,#066fb4 64%,#067ba7 72%,#068790 80%,#068c82 86%,#068d7f 91%,#068d81 95%,#068b85 98%,#068a89)"></i><i style="left:142.0px;width:2.5px;background:linear-gradient(#0924a1,#092ca5 8%,#0834a9 16%,#083dae 25%,#064cb3 35%,#065bb7 45%,#0666b8 55%,#0671b2 64%,#067da4 72%,#06898c 80%,#068d7f 86%,#068e7d 91%,#068d7f 95%,#068c84 98%,#068b87)"></i><i style="left:144.0px;width:2.5px;background:linear-gradient(#0a1c9c,#0924a1 8%,#092ca5 16%,#0836ab 25%,#0744b0 35%,#0654b6 45%,#0662b8 55%,#066cb5 64%,#0678aa 72%,#068594 80%,#068b87 86%,#068b86 91%,#068a89 95%,#06888d 98%,#068790)"></i><i style="left:146.0px;width:2.5px;background:linear-gradient(#0926a1,#092da6 8%,#0834aa 16%,#083cad 25%,#0649b2 35%,#0658b6 45%,#0664b8 55%,#066fb3 64%,#067ba6 72%,#06888f 80%,#068c82 86%,#068c82 91%,#068b85 95%,#068a8a 98%,#06898d)"></i><i style="left:148.0px;width:2.5px;background:linear-gradient(#092aa4,#0831a8 8%,#0839ac 16%,#0740af 25%,#064db3 35%,#065ab7 45%,#0666b8 55%,#0671b2 64%,#067da3 72%,#068a8a 80%,#068d7d 86%,#068d7e 91%,#068c81 95%,#068b86 98%,#068a89)"></i><i style="left:150.0px;width:2.5px;background:linear-gradient(#0925a1,#092ca5 8%,#0834aa 16%,#083cad 25%,#0649b2 35%,#0658b7 45%,#0664b8 55%,#066fb3 64%,#067ca5 72%,#06898d 80%,#068d7f 86%,#068d80 91%,#068c84 95%,#068a89 98%,#06898d)"></i><i style="left:152.0px;width:2.5px;background:linear-gradient(#0b1899,#0a1e9d 8%,#0926a2 16%,#092fa7 25%,#073eae 35%,#0650b5 45%,#065fb8 55%,#0669b7 64%,#0676ad 72%,#068496 80%,#068a88 86%,#068a8a 91%,#06888e 95%,#068693 98%,#068497)"></i><i style="left:154.0px;width:2.5px;background:linear-gradient(#0c1195,#0b1799 8%,#0a1e9d 16%,#0927a2 25%,#0839ac 35%,#064cb3 45%,#065bb7 55%,#0666b8 64%,#0673b1 72%,#06829a 80%,#06898c 86%,#06888e 91%,#068692 95%,#068398 98%,#06829c)"></i><i style="left:156.0px;width:2.5px;background:linear-gradient(#0b199a,#0a209e 8%,#0928a3 16%,#0832a8 25%,#0741af 35%,#0653b5 45%,#0660b8 55%,#066ab6 64%,#0678ab 72%,#068791 80%,#068c83 86%,#068b85 91%,#068a89 95%,#06878f 98%,#068593)"></i><i style="left:158.0px;width:2.5px;background:linear-gradient(#0e088f,#0d0e93 8%,#0c1497 16%,#0a1c9c 25%,#092ea6 35%,#0744b0 45%,#0654b6 55%,#0662b8 64%,#066eb4 72%,#0680a0 80%,#068692 86%,#068594 91%,#068399 95%,#06809f 98%,#067da3)"></i><i style="left:160.0px;width:2.5px;background:linear-gradient(#0c1396,#0b199a 8%,#0a1f9e 16%,#092aa4 25%,#083bad 35%,#064fb4 45%,#065db8 55%,#0667b8 64%,#0675af 72%,#068594 80%,#068b85 86%,#068b88 91%,#06888e 95%,#068594 98%,#068398)"></i><i style="left:162.0px;width:2.5px;background:linear-gradient(#0d0f93,#0c1597 8%,#0a1b9b 16%,#0925a1 25%,#0838ac 35%,#064cb3 45%,#065ab7 55%,#0665b8 64%,#0673b1 72%,#068496 80%,#068b87 86%,#068a8a 91%,#068790 95%,#068497 98%,#06829b)"></i><i style="left:164.0px;width:2.5px;background:linear-gradient(#0d0d92,#0c1396 8%,#0b199a 16%,#0923a0 25%,#0836ab 35%,#064bb3 45%,#0659b7 55%,#0665b8 64%,#0672b1 72%,#068496 80%,#068b87 86%,#068a8a 91%,#068790 95%,#068398 98%,#06819c)"></i><i style="left:166.0px;width:2.5px;background:linear-gradient(#092aa4,#0831a8 8%,#0839ac 16%,#0742b0 25%,#0650b5 35%,#065fb8 45%,#0667b8 55%,#0672b1 64%,#06819d 72%,#068e7b 80%,#07926b 86%,#06916f 91%,#069076 95%,#068d7e 98%,#068c83)"></i><i style="left:168.0px;width:2.5px;background:linear-gradient(#0c1295,#0b1899 8%,#0a1f9d 16%,#092aa4 25%,#083dae 35%,#0651b5 45%,#065db8 55%,#0667b8 64%,#0676ad 72%,#06888e 80%,#068d7e 86%,#068c82 91%,#068a89 95%,#068791 98%,#068496)"></i><i style="left:170.0px;width:2.5px;background:linear-gradient(#0a1b9b,#0a229f 8%,#092aa4 16%,#0835aa 25%,#0746b1 35%,#0657b6 45%,#0661b8 55%,#066cb5 64%,#067ba6 72%,#068c84 80%,#069073 86%,#068f78 91%,#068d80 95%,#068b88 98%,#06888d)"></i><i style="left:172.0px;width:2.5px;background:linear-gradient(#0f078e,#0d0d92 8%,#0c1396 16%,#0a1d9c 25%,#0831a8 35%,#0748b2 45%,#0655b6 55%,#0662b8 64%,#0671b2 72%,#068595 80%,#068b85 86%,#068a8a 91%,#068691 95%,#06829a 98%,#06809f)"></i><i style="left:174.0px;width:2.5px;background:linear-gradient(#0f058d,#0e0b91 8%,#0c1295 16%,#0a1b9c 25%,#0930a7 35%,#0747b2 45%,#0654b6 55%,#0662b8 64%,#0670b2 72%,#068595 80%,#068c84 86%,#068a8a 91%,#068692 95%,#06829a 98%,#067fa0)"></i><i style="left:176.0px;width:2.5px;background:linear-gradient(#0924a1,#092ca5 8%,#0834aa 16%,#073fae 25%,#064fb4 35%,#065eb8 45%,#0665b8 55%,#0671b2 64%,#06809e 72%,#068f77 80%,#079465 86%,#07926b 91%,#069074 95%,#068d7d 98%,#068c83)"></i><i style="left:178.0px;width:2.5px;background:linear-gradient(#092fa7,#0837ab 8%,#083dae 16%,#0747b1 25%,#0655b6 35%,#0662b8 45%,#0669b7 55%,#0675ae 64%,#068595 72%,#07926c 80%,#08975c 86%,#089561 91%,#07936a 95%,#069074 98%,#068e7b)"></i><i style="left:180.0px;width:2.5px;background:linear-gradient(#0a209e,#0927a2 8%,#092fa7 16%,#083bad 25%,#064bb3 35%,#065cb8 45%,#0663b8 55%,#066fb3 64%,#06809f 72%,#068f77 80%,#079464 86%,#07936a 91%,#069074 95%,#068d80 98%,#068b87)"></i><i style="left:182.0px;width:2.5px;background:linear-gradient(#0928a3,#092fa7 8%,#0837ac 16%,#0741af 25%,#0651b5 35%,#0660b8 45%,#0666b8 55%,#0673b1 64%,#068398 72%,#06916f 80%,#08965d 86%,#089562 91%,#07926c 95%,#068f79 98%,#068d81)"></i><i style="left:184.0px;width:2.5px;background:linear-gradient(#0a219f,#0928a3 8%,#0930a7 16%,#083cad 25%,#064cb3 35%,#065db8 45%,#0664b8 55%,#0670b3 64%,#06819d 72%,#069072 80%,#08965f 86%,#079465 91%,#069171 95%,#068d7e 98%,#068b86)"></i><i style="left:186.0px;width:2.5px;background:linear-gradient(#0a1e9d,#0925a1 8%,#092da6 16%,#0839ac 25%,#064ab2 35%,#065bb7 45%,#0663b8 55%,#066fb4 64%,#06819e 72%,#069073 80%,#08965f 86%,#079465 91%,#069171 95%,#068d7f 98%,#068a89)"></i><i style="left:188.0px;width:2.5px;background:linear-gradient(#073eae,#0744b0 8%,#064ab3 16%,#0653b5 25%,#065eb8 35%,#0668b8 45%,#0670b2 55%,#067ea2 64%,#068c83 72%,#099759 80%,#0a9b4c 86%,#0a9a50 91%,#099858 95%,#079464 98%,#07926e)"></i><i style="left:190.0px;width:2.5px;background:linear-gradient(#0a209f,#0928a3 8%,#0930a7 16%,#083bad 25%,#064cb3 35%,#065db8 45%,#0664b8 55%,#0670b2 64%,#06839a 72%,#07926d 80%,#08975b 86%,#08965f 91%,#07926c 95%,#068e7c 98%,#068b87)"></i><i style="left:192.0px;width:2.5px;background:linear-gradient(#092ba4,#0832a9 8%,#083aad 16%,#0744b0 25%,#0652b5 35%,#0661b8 45%,#0667b8 55%,#0675af 64%,#068791 72%,#089563 80%,#099954 86%,#099858 91%,#089562 95%,#069073 98%,#068d7e)"></i><i style="left:194.0px;width:2.5px;background:linear-gradient(#0a229f,#0929a4 8%,#0831a8 16%,#083dae 25%,#064db4 35%,#065db8 45%,#0664b8 55%,#0671b2 64%,#068497 72%,#079368 80%,#099857 86%,#08975b 91%,#079368 95%,#068e7a 98%,#068b85)"></i><i style="left:196.0px;width:2.5px;background:linear-gradient(#0b1698,#0a1c9c 8%,#0924a0 16%,#0930a8 25%,#0742b0 35%,#0656b6 45%,#065fb8 55%,#066cb6 64%,#0680a0 72%,#069171 80%,#08965d 86%,#089562 91%,#069171 95%,#068c84 98%,#068790)"></i><i style="left:198.0px;width:2.5px;background:linear-gradient(#0e0a91,#0d1094 8%,#0b1799 16%,#0a229f 25%,#0836ab 35%,#064cb3 45%,#0658b6 55%,#0666b8 64%,#0679a9 72%,#068d7e 80%,#079369 86%,#06916f 91%,#068e7d 95%,#06888f 98%,#06829b)"></i><i style="left:200.0px;width:2.5px;background:linear-gradient(#0a23a0,#092aa4 8%,#0832a9 16%,#083dae 25%,#064db4 35%,#065db8 45%,#0664b8 55%,#0672b2 64%,#068496 72%,#079369 80%,#099858 86%,#08975b 91%,#079367 95%,#068f79 98%,#068b85)"></i><i style="left:202.0px;width:2.5px;background:linear-gradient(#0a1e9d,#0926a2 8%,#092da6 16%,#0839ac 25%,#0649b2 35%,#0659b7 45%,#0663b8 55%,#066fb3 64%,#06829b 72%,#06916f 80%,#08975c 86%,#089660 91%,#07926c 95%,#068e7d 98%,#068a88)"></i><i style="left:204.0px;width:2.5px;background:linear-gradient(#0a1c9c,#0a23a0 8%,#092ba4 16%,#0836ab 25%,#0746b1 35%,#0657b6 45%,#0661b8 55%,#066eb4 64%,#06819d 72%,#069073 80%,#08965f 86%,#079464 91%,#069170 95%,#068d80 98%,#068a8a)"></i><i style="left:206.0px;width:2.5px;background:linear-gradient(#0a1e9d,#0925a1 8%,#092da6 16%,#0838ac 25%,#0747b2 35%,#0658b6 45%,#0662b8 55%,#066fb3 64%,#06819c 72%,#069073 80%,#089560 86%,#079464 91%,#06916f 95%,#068d7e 98%,#068a88)"></i><i style="left:208.0px;width:2.5px;background:linear-gradient(#0b1698,#0a1c9c 8%,#0924a0 16%,#092ea6 25%,#073faf 35%,#0652b5 45%,#065fb8 55%,#066bb6 64%,#067da3 72%,#068e7d 80%,#07936a 86%,#07926d 91%,#068f78 95%,#068b86 98%,#068790)"></i><i style="left:210.0px;width:2.5px;background:linear-gradient(#0e078f,#0d0d92 8%,#0c1396 16%,#0a1c9c 25%,#092ea6 35%,#0744b0 45%,#0654b6 55%,#0664b8 64%,#0675af 72%,#06888d 80%,#068e7b 86%,#068d7d 91%,#068b88 95%,#068595 98%,#06819d)"></i><i style="left:212.0px;width:2.5px;background:linear-gradient(#0a1c9c,#0a23a0 8%,#092ba4 16%,#0835aa 25%,#0743b0 35%,#0655b6 45%,#0661b8 55%,#066eb4 64%,#067fa0 72%,#068e7b 80%,#079369 86%,#07926b 91%,#069075 95%,#068c82 98%,#068a8a)"></i><i style="left:214.0px;width:2.5px;background:linear-gradient(#10028b,#0e088f 8%,#0d0e93 16%,#0b1698 25%,#0926a2 35%,#083dae 45%,#0650b5 55%,#0661b8 64%,#0671b2 72%,#068496 80%,#068b85 86%,#068b87 91%,#06888f 95%,#06829b 98%,#067ea2)"></i><i style="left:216.0px;width:2.5px;background:linear-gradient(#0b1799,#0a1d9d 8%,#0925a1 16%,#092ea6 25%,#073eae 35%,#0650b5 45%,#065fb8 55%,#066bb6 64%,#067ca5 72%,#068c84 80%,#069072 86%,#069074 91%,#068e7c 95%,#068b87 98%,#06888f)"></i><i style="left:218.0px;width:2.5px;background:linear-gradient(#0d0d92,#0c1396 8%,#0b199a 16%,#0a219f 25%,#0832a9 35%,#0746b1 45%,#0658b6 55%,#0666b8 64%,#0676ad 72%,#068790 80%,#068d7f 86%,#068d7f 91%,#068b87 95%,#068791 98%,#068398)"></i><i style="left:220.0px;width:2.5px;background:linear-gradient(#0b189a,#0a1f9e 8%,#0926a2 16%,#092fa7 25%,#073eae 35%,#0650b4 45%,#065fb8 55%,#066bb6 64%,#067ba6 72%,#068b87 80%,#068f76 86%,#068f77 91%,#068d7d 95%,#068b87 98%,#06888e)"></i><i style="left:222.0px;width:2.5px;background:linear-gradient(#0835aa,#083bad 8%,#0741af 16%,#0748b2 25%,#0653b5 35%,#065fb8 45%,#0669b7 55%,#0677ab 64%,#068692 72%,#069172 80%,#089561 86%,#089561 91%,#079367 95%,#069171 98%,#068f77)"></i><i style="left:224.0px;width:2.5px;background:linear-gradient(#092ea6,#0835aa 8%,#083bad 16%,#0742b0 25%,#064fb4 35%,#065cb7 45%,#0667b8 55%,#0674b0 64%,#068398 72%,#068f77 80%,#079467 86%,#079467 91%,#07926d 95%,#068f77 98%,#068e7d)"></i><i style="left:226.0px;width:2.5px;background:linear-gradient(#0a209f,#0927a2 8%,#092ea6 16%,#0837ac 25%,#0744b0 35%,#0654b5 45%,#0661b8 55%,#066eb4 64%,#067ea2 72%,#068c83 80%,#069072 86%,#069072 91%,#068f79 95%,#068c82 98%,#068a88)"></i><i style="left:228.0px;width:2.5px;background:linear-gradient(#0925a1,#092ba5 8%,#0832a9 16%,#083bad 25%,#0748b2 35%,#0656b6 45%,#0663b8 55%,#066fb3 64%,#067fa0 72%,#068d80 80%,#069170 86%,#069170 91%,#068f76 95%,#068d7f 98%,#068b86)"></i><i style="left:230.0px;width:2.5px;background:linear-gradient(#0b1698,#0a1b9b 8%,#0a219f 16%,#092ba4 25%,#083aad 35%,#064cb3 45%,#065cb7 55%,#0668b8 64%,#0678aa 72%,#06888e 80%,#068d7d 86%,#068d7d 91%,#068c84 95%,#06898d 98%,#068693)"></i><i style="left:232.0px;width:2.5px;background:linear-gradient(#0a209e,#0926a2 8%,#092da6 16%,#0837ab 25%,#0744b0 35%,#0653b5 45%,#0660b8 55%,#066db5 64%,#067da4 72%,#068b85 80%,#069075 86%,#069075 91%,#068e7b 95%,#068c84 98%,#068a8b)"></i><i style="left:234.0px;width:2.5px;background:linear-gradient(#0a1e9d,#0924a1 8%,#092aa4 16%,#0835aa 25%,#0742b0 35%,#0652b5 45%,#0660b8 55%,#066bb6 64%,#067ba5 72%,#068b87 80%,#068f77 86%,#068f77 91%,#068d7d 95%,#068b87 98%,#06898d)"></i><i style="left:236.0px;width:2.5px;background:linear-gradient(#073eae,#0743b0 8%,#0748b2 16%,#064fb4 25%,#0659b7 35%,#0662b8 45%,#066cb5 55%,#067aa8 64%,#06888e 72%,#07926e 80%,#08965d 86%,#08965d 91%,#089563 95%,#07926d 98%,#069073)"></i><i style="left:238.0px;width:2.5px;background:linear-gradient(#092fa7,#0834aa 8%,#083aad 16%,#0742b0 25%,#064fb4 35%,#065bb7 45%,#0665b8 55%,#0672b1 64%,#06819c 72%,#068e7c 80%,#07926b 86%,#07926b 91%,#069172 95%,#068e7b 98%,#068c81)"></i><i style="left:240.0px;width:2.5px;background:linear-gradient(#0b1a9a,#0a1e9d 8%,#0924a1 16%,#092fa7 25%,#073eae 35%,#064eb4 45%,#065cb8 55%,#0668b8 64%,#0678aa 72%,#06888e 80%,#068d7d 86%,#068d7d 91%,#068c83 95%,#06898d 98%,#068693)"></i><i style="left:242.0px;width:2.5px;background:linear-gradient(#0e088f,#0e0b91 8%,#0d1094 16%,#0b199a 25%,#0928a3 35%,#083cad 45%,#064fb4 55%,#0660b8 64%,#066eb4 72%,#06809f 80%,#06878f 86%,#06878f 91%,#068595 95%,#06809e 98%,#067da3)"></i><i style="left:244.0px;width:2.5px;background:linear-gradient(#0a209e,#0925a1 8%,#092aa4 16%,#0835ab 25%,#0743b0 35%,#0651b5 45%,#065fb8 55%,#066ab7 64%,#067aa7 72%,#068a8a 80%,#068f79 86%,#068f79 91%,#068d80 95%,#068a89 98%,#06888f)"></i><i style="left:246.0px;width:2.5px;background:linear-gradient(#0f068e,#0e0990 8%,#0d0d93 16%,#0b1799 25%,#0926a2 35%,#0839ac 45%,#064cb3 55%,#065eb8 64%,#066cb5 72%,#067ea2 80%,#068693 86%,#068693 91%,#068399 95%,#067fa1 98%,#067ba6)"></i><i style="left:248.0px;width:2.5px;background:linear-gradient(#0926a2,#092aa4 8%,#092fa7 16%,#083bad 25%,#0748b2 35%,#0654b6 45%,#0660b8 55%,#066cb5 64%,#067ca5 72%,#068b86 80%,#069076 86%,#069076 91%,#068e7c 95%,#068b85 98%,#06898c)"></i><i style="left:250.0px;width:2.5px;background:linear-gradient(#0c1295,#0c1597 8%,#0b199a 16%,#0924a1 25%,#0835aa 35%,#0744b0 45%,#0654b6 55%,#0663b8 64%,#0672b1 72%,#068398 80%,#068a89 86%,#068a89 91%,#06888f 95%,#068498 98%,#06819e)"></i><i style="left:252.0px;width:2.5px;background:linear-gradient(#0742b0,#0745b1 8%,#0649b2 16%,#0652b5 25%,#065bb7 35%,#0663b8 45%,#066cb5 55%,#0679a9 64%,#06878f 72%,#06916f 80%,#08965e 86%,#08965e 91%,#079465 95%,#07926e 98%,#069074)"></i><i style="left:254.0px;width:2.5px;background:linear-gradient(#0d0d92,#0d1094 8%,#0c1497 16%,#0a1f9e 25%,#0930a7 35%,#0740af 45%,#0651b5 55%,#0661b8 64%,#066fb3 72%,#06819d 80%,#06898d 86%,#06898d 91%,#068693 95%,#06829c 98%,#067ea1)"></i><i style="left:256.0px;width:2.5px;background:linear-gradient(#0930a8,#0835aa 8%,#083aad 16%,#0744b0 25%,#0650b5 35%,#065bb7 45%,#0664b8 55%,#0671b2 64%,#06819e 72%,#068d7e 80%,#07926d 86%,#07926d 91%,#069073 95%,#068e7d 98%,#068c83)"></i><i style="left:258.0px;width:2.5px;background:linear-gradient(#0a1d9d,#0a219f 8%,#0927a2 16%,#0835aa 25%,#0743b0 35%,#0650b5 45%,#065eb8 55%,#0669b7 64%,#0679a9 72%,#06898c 80%,#068e7c 86%,#068e7c 91%,#068c82 95%,#06898b 98%,#068691)"></i><i style="left:260.0px;width:2.5px;background:linear-gradient(#130077,#13007c 8%,#110082 16%,#0f058d 25%,#0c1396 35%,#0923a0 45%,#083aad 55%,#0651b5 64%,#0663b8 72%,#0674b0 80%,#067da3 86%,#067da3 91%,#067aa8 95%,#0674af 98%,#0671b2)"></i><i style="left:262.0px;width:2.5px;background:linear-gradient(#0e0990,#0d0d93 8%,#0c1296 16%,#0a1e9d 25%,#092fa7 35%,#0740af 45%,#0651b5 55%,#0661b8 64%,#066fb3 72%,#06819d 80%,#06888d 86%,#06888d 91%,#068693 95%,#06819c 98%,#067ea2)"></i><i style="left:264.0px;width:2.5px;background:linear-gradient(#0b199a,#0a1e9d 8%,#0924a1 16%,#0832a9 25%,#0741af 35%,#064fb4 45%,#065db8 55%,#0668b8 64%,#0678aa 72%,#06888d 80%,#068e7d 86%,#068e7d 91%,#068c83 95%,#06898d 98%,#068693)"></i><i style="left:266.0px;width:2.5px;background:linear-gradient(#0a229f,#0928a3 8%,#092ea6 16%,#083cad 25%,#0649b2 35%,#0655b6 45%,#0661b8 55%,#066db5 64%,#067da4 72%,#068b85 80%,#069075 86%,#069075 91%,#068e7b 95%,#068b85 98%,#068a8b)"></i><i style="left:268.0px;width:2.5px;background:linear-gradient(#0f068e,#0e0b91 8%,#0c1195 16%,#0a1d9c 25%,#092ea6 35%,#073faf 45%,#0650b5 55%,#0660b8 64%,#066fb3 72%,#06819e 80%,#06888e 86%,#06888e 91%,#068594 95%,#06819d 98%,#067ea2)"></i><i style="left:270.0px;width:2.5px;background:linear-gradient(#0b1698,#0a1b9b 8%,#0a229f 16%,#0931a8 25%,#0740af 35%,#064fb4 45%,#065cb8 55%,#0668b8 64%,#0678ab 72%,#06888e 80%,#068d7e 86%,#068d7e 91%,#068c84 95%,#06888d 98%,#068693)"></i><i style="left:272.0px;width:2.5px;background:linear-gradient(#0c1497,#0b199a 8%,#0a1f9e 16%,#092fa7 25%,#073fae 35%,#064db4 45%,#065bb7 55%,#0667b8 64%,#0677ac 72%,#068790 80%,#068d80 86%,#068d80 91%,#068b86 95%,#06888f 98%,#068595)"></i><i style="left:274.0px;width:2.5px;background:linear-gradient(#0b1799,#0a1c9c 8%,#0923a0 16%,#0833a9 25%,#0742b0 35%,#0650b5 45%,#065eb8 55%,#0669b8 64%,#0679a9 72%,#06898c 80%,#068e7c 86%,#068e7c 91%,#068c82 95%,#06898c 98%,#068692)"></i><i style="left:276.0px;width:2.5px;background:linear-gradient(#0b1899,#0a1d9d 8%,#0925a1 16%,#0835aa 25%,#0744b0 35%,#0652b5 45%,#065fb8 55%,#066ab7 64%,#067aa8 72%,#068a8b 80%,#068e7a 86%,#068e7a 91%,#068d80 95%,#068a8a 98%,#068790)"></i><i style="left:278.0px;width:2.5px;background:linear-gradient(#0931a8,#0838ac 8%,#073eae 16%,#064bb3 25%,#0656b6 35%,#0660b8 45%,#0668b8 55%,#0675ae 64%,#068496 72%,#069075 80%,#079465 86%,#079465 91%,#07926b 95%,#069075 98%,#068e7b)"></i><i style="left:280.0px;width:2.5px;background:linear-gradient(#0d1094,#0b1698 8%,#0a1c9c 16%,#092da6 25%,#073eae 35%,#064db3 45%,#065ab7 55%,#0667b8 64%,#0676ad 72%,#068791 80%,#068d80 86%,#068d80 91%,#068b87 95%,#068790 98%,#068496)"></i><i style="left:282.0px;width:2.5px;background:linear-gradient(#0f048c,#0e0a90 8%,#0c1095 16%,#0a1e9d 25%,#0931a8 35%,#0741af 45%,#0652b5 55%,#0661b8 64%,#0670b3 72%,#06829c 80%,#06898c 86%,#06898c 91%,#068692 95%,#06829b 98%,#067fa0)"></i><i style="left:284.0px;width:2.5px;background:linear-gradient(#110086,#0f038c 8%,#0e0990 16%,#0b1698 25%,#0927a2 35%,#083aad 45%,#064db4 55%,#065eb8 64%,#066cb5 72%,#067ea2 80%,#068594 86%,#068693 91%,#068399 95%,#067fa1 98%,#067ba5)"></i><i style="left:286.0px;width:2.5px;background:linear-gradient(#0e0990,#0d0f94 8%,#0b1598 16%,#0a23a0 25%,#0835aa 35%,#0745b1 45%,#0656b6 55%,#0664b8 64%,#0673b1 72%,#068398 80%,#068a89 86%,#068a88 91%,#06888e 95%,#068496 98%,#06829b)"></i><i style="left:288.0px;width:2.5px;background:linear-gradient(#0d0c92,#0c1195 8%,#0b1799 16%,#0925a1 25%,#0837ab 35%,#0747b1 45%,#0657b6 55%,#0665b8 64%,#0674af 72%,#068497 80%,#068a88 86%,#068b87 91%,#06898c 95%,#068594 98%,#068399)"></i><i style="left:290.0px;width:2.5px;background:linear-gradient(#110083,#10008a 8%,#0f058d 16%,#0c1195 25%,#0a209e 35%,#0834aa 45%,#0649b2 55%,#065db8 64%,#066bb6 72%,#067ba6 80%,#06829a 86%,#068398 91%,#06819d 95%,#067da3 98%,#067aa7)"></i><i style="left:292.0px;width:2.5px;background:linear-gradient(#0a1b9b,#0a219f 8%,#0928a3 16%,#0835aa 25%,#0744b0 35%,#0652b5 45%,#0660b8 55%,#066cb5 64%,#067ca4 72%,#068a8b 80%,#068e7c 86%,#068e7a 91%,#068d7e 95%,#068b86 98%,#06898b)"></i><i style="left:294.0px;width:2.5px;background:linear-gradient(#13007b,#120081 8%,#100088 16%,#0e0990 25%,#0b1799 35%,#092ba4 45%,#0743b0 55%,#0658b7 64%,#0668b8 72%,#0676ad 80%,#067ea1 86%,#06809f 91%,#067ea2 95%,#067aa8 98%,#0677ac)"></i><i style="left:296.0px;width:2.5px;background:linear-gradient(#110087,#10028b 8%,#0e078f 16%,#0c1195 25%,#0a209e 35%,#0835aa 45%,#064cb3 55%,#065fb8 64%,#066db5 72%,#067ba6 80%,#06829b 86%,#068398 91%,#06829b 95%,#067ea1 98%,#067ca5)"></i><i style="left:298.0px;width:2.5px;background:linear-gradient(#0f068e,#0e0a91 8%,#0d0f94 16%,#0b199a 25%,#0929a4 35%,#083dae 45%,#0652b5 55%,#0662b8 64%,#0671b2 72%,#067fa1 80%,#068594 86%,#068791 91%,#068594 95%,#06829a 98%,#06809f)"></i><i style="left:300.0px;width:2.5px;background:linear-gradient(#0a1b9b,#0a209e 8%,#0926a2 16%,#0831a8 25%,#0740af 35%,#0650b5 45%,#0660b8 55%,#066cb5 64%,#067ca4 72%,#06888e 80%,#068c81 86%,#068d7d 91%,#068d80 95%,#068b87 98%,#068a8b)"></i><i style="left:302.0px;width:2.5px;background:linear-gradient(#0d0c92,#0d1094 8%,#0c1497 16%,#0a1d9d 25%,#092fa7 35%,#0742b0 45%,#0656b6 55%,#0665b8 64%,#0674af 72%,#06819d 80%,#068791 86%,#06898d 91%,#06888f 95%,#068595 98%,#068399)"></i><i style="left:304.0px;width:2.5px;background:linear-gradient(#0c1195,#0c1497 8%,#0b189a 16%,#0a229f 25%,#0833a9 35%,#0745b1 45%,#0659b7 55%,#0667b8 64%,#0677ac 72%,#06829a 80%,#06888e 86%,#068a89 91%,#06898b 95%,#068791 98%,#068595)"></i><i style="left:306.0px;width:2.5px;background:linear-gradient(#0b1899,#0a1c9c 8%,#0a209f 16%,#092aa4 25%,#083aad 35%,#064cb3 45%,#065eb8 55%,#066bb6 64%,#067ba6 72%,#068594 80%,#068b88 86%,#068c83 91%,#068b85 95%,#068a8a 98%,#06888e)"></i><i style="left:308.0px;width:2.5px;background:linear-gradient(#0c1396,#0b1698 8%,#0a1a9b 16%,#0923a0 25%,#0834a9 35%,#0746b1 45%,#065bb7 55%,#0668b8 64%,#0678aa 72%,#06839a 80%,#06888e 86%,#068a89 91%,#068a8a 95%,#06888f 98%,#068692)"></i><i style="left:310.0px;width:2.5px;background:linear-gradient(#0b199a,#0a1d9c 8%,#0a219f 16%,#092aa4 25%,#083aad 35%,#064cb3 45%,#065fb8 55%,#066cb6 64%,#067ca5 72%,#068595 80%,#068a89 86%,#068c83 91%,#068c84 95%,#068a89 98%,#06898c)"></i><i style="left:312.0px;width:2.5px;background:linear-gradient(#0925a1,#0928a3 8%,#092ca5 16%,#0835aa 25%,#0742b0 35%,#0652b5 45%,#0662b8 55%,#0670b3 64%,#06809f 72%,#06888d 80%,#068c82 86%,#068e7b 91%,#068e7c 95%,#068d81 98%,#068c84)"></i><i style="left:314.0px;width:2.5px;background:linear-gradient(#0929a3,#092ca5 8%,#0930a7 16%,#0838ac 25%,#0744b0 35%,#0653b5 45%,#0663b8 55%,#0670b3 64%,#06809f 72%,#06898d 80%,#068c81 86%,#068e7a 91%,#068e7b 95%,#068d7f 98%,#068c82)"></i><i style="left:316.0px;width:2.5px;background:linear-gradient(#0a1f9d,#0a229f 8%,#0925a1 16%,#092da6 25%,#083bad 35%,#064cb3 45%,#065eb8 55%,#066ab6 64%,#067aa7 72%,#068497 80%,#06898b 86%,#068c84 91%,#068c84 95%,#068a89 98%,#06898b)"></i><i style="left:318.0px;width:2.5px;background:linear-gradient(#0a219f,#0924a0 8%,#0927a2 16%,#092fa7 25%,#083cad 35%,#064cb3 45%,#065db8 55%,#066ab7 64%,#067aa8 72%,#068398 80%,#06898c 86%,#068c84 91%,#068c84 95%,#068a88 98%,#06898b)"></i><i style="left:320.0px;width:2.5px;background:linear-gradient(#0d0e93,#0d1094 8%,#0c1396 16%,#0b189a 25%,#0925a1 35%,#0838ac 45%,#064fb4 55%,#0660b8 64%,#066fb4 72%,#0679a9 80%,#06809f 86%,#068497 91%,#068497 95%,#06829b 98%,#06819d)"></i><i style="left:322.0px;width:2.5px;background:linear-gradient(#0a1b9b,#0a1d9d 8%,#0a209e 16%,#0927a2 25%,#0834aa 35%,#0743b0 45%,#0656b6 55%,#0665b8 64%,#0674b0 72%,#067fa1 80%,#068595 86%,#06898d 91%,#06898c 95%,#068790 98%,#068692)"></i><i style="left:324.0px;width:2.5px;background:linear-gradient(#13007c,#12007e 8%,#120081 16%,#100088 25%,#0e088f 35%,#0b1698 45%,#092fa7 55%,#064ab3 64%,#0660b8 72%,#0669b8 80%,#0670b3 86%,#0675af 91%,#0675ae 95%,#0673b0 98%,#0672b1)"></i><i style="left:326.0px;width:2.5px;background:linear-gradient(#10018b,#0f038c 8%,#0f058d 16%,#0e0a90 25%,#0c1396 35%,#0a219f 45%,#083aad 55%,#0652b5 64%,#0664b8 72%,#066eb4 80%,#0675ae 86%,#067aa7 91%,#067ba6 95%,#0679a9 98%,#0678ab)"></i><i style="left:328.0px;width:2.5px;background:linear-gradient(#0a1e9d,#0a1f9e 8%,#0a219f 16%,#0927a2 25%,#0832a9 35%,#0740af 45%,#0652b5 55%,#0662b8 64%,#0670b3 72%,#067ba6 80%,#06829a 86%,#068791 91%,#06888f 95%,#068692 98%,#068595)"></i><i style="left:330.0px;width:2.5px;background:linear-gradient(#0e078f,#0e0990 8%,#0e0a90 16%,#0d0f93 25%,#0b1799 35%,#0924a1 45%,#083bad 55%,#0652b5 64%,#0664b8 72%,#066eb4 80%,#0676ad 86%,#067ba5 91%,#067ca4 95%,#067ba7 98%,#0679a8)"></i><i style="left:332.0px;width:2.5px;background:linear-gradient(#12007e,#120080 8%,#120081 16%,#110087 25%,#0f068e 35%,#0c1095 45%,#0925a1 55%,#0740af 64%,#0659b7 72%,#0665b8 80%,#066cb5 86%,#0672b2 91%,#0673b1 95%,#0671b2 98%,#0670b3)"></i><i style="left:334.0px;width:2.5px;background:linear-gradient(#100089,#10008a 8%,#10018b 16%,#0f058d 25%,#0d0d92 35%,#0b1799 45%,#092ca5 55%,#0746b1 64%,#065db8 72%,#0667b8 80%,#066fb3 86%,#0675af 91%,#0676ad 95%,#0675af 98%,#0674b0)"></i><i style="left:336.0px;width:2.5px;background:linear-gradient(#0e088f,#0e088f 8%,#0e0990 16%,#0d0d93 25%,#0c1497 35%,#0a1e9d 45%,#0833a9 55%,#064bb3 64%,#0660b8 72%,#066ab7 80%,#0672b1 86%,#0678aa 91%,#067aa8 95%,#0678aa 98%,#0677ab)"></i><i style="left:338.0px;width:2.5px;background:linear-gradient(#120080,#120080 8%,#120081 16%,#110086 25%,#0f038c 35%,#0d0c92 45%,#0a1c9c 55%,#0839ac 64%,#0654b5 72%,#0662b8 80%,#0669b8 86%,#066fb3 91%,#0671b2 95%,#066fb3 98%,#066eb4)"></i><i style="left:340.0px;width:2.5px;background:linear-gradient(#0d0c92,#0d0c92 8%,#0d0d92 16%,#0d1094 25%,#0b1698 35%,#0a1f9d 45%,#0832a8 55%,#0649b2 64%,#065fb8 72%,#0669b7 80%,#0672b1 86%,#0678aa 91%,#067aa7 95%,#0679a9 98%,#0678aa)"></i><i style="left:342.0px;width:2.5px;background:linear-gradient(#0e088f,#0e088f 8%,#0e0990 16%,#0d0c92 25%,#0c1295 35%,#0b199a 45%,#092ba5 55%,#0744b0 64%,#065cb7 72%,#0667b8 80%,#066fb3 86%,#0676ae 91%,#0677ab 95%,#0676ad 98%,#0675ae)"></i><i style="left:344.0px;width:2.5px;background:linear-gradient(#0e0a90,#0e0a90 8%,#0e0a91 16%,#0d0e93 25%,#0c1396 35%,#0a1b9b 45%,#092da6 55%,#0745b1 64%,#065db8 72%,#0667b8 80%,#066fb3 86%,#0676ad 91%,#0678ab 95%,#0676ad 98%,#0675ae)"></i><i style="left:346.0px;width:2.5px;background:linear-gradient(#0d0e93,#0d0e93 8%,#0d0f94 16%,#0c1296 25%,#0b1899 35%,#0a219f 45%,#0833a9 55%,#064ab2 64%,#065fb8 72%,#0669b8 80%,#0671b2 86%,#0678ab 91%,#0679a8 95%,#0678aa 98%,#0677ab)"></i><i style="left:348.0px;width:2.5px;background:linear-gradient(#0a1a9b,#0a1b9b 8%,#0a1c9c 16%,#0a209e 25%,#0927a2 35%,#0831a8 45%,#0741af 55%,#0654b5 64%,#0664b8 72%,#066fb3 80%,#0677ab 86%,#067ea2 91%,#06809f 95%,#067ea1 98%,#067ea2)"></i><i style="left:350.0px;width:2.5px;background:linear-gradient(#120081,#110082 8%,#110084 16%,#100088 25%,#0f048d 35%,#0d0d92 45%,#0a1b9b 55%,#0835aa 64%,#0650b5 72%,#065fb8 80%,#0666b8 86%,#066cb5 91%,#066eb4 95%,#066cb5 98%,#066cb6)"></i><i style="left:352.0px;width:2.5px;background:linear-gradient(#10018b,#10028b 8%,#0f038c 16%,#0f068e 25%,#0d0c92 35%,#0c1597 45%,#0924a1 55%,#083dae 64%,#0656b6 72%,#0662b8 80%,#0669b8 86%,#066fb3 91%,#0671b2 95%,#0670b3 98%,#066fb3)"></i><i style="left:354.0px;width:2.5px;background:linear-gradient(#0e0a91,#0e0b91 8%,#0d0c92 16%,#0d1094 25%,#0b1698 35%,#0a1f9e 45%,#0930a8 55%,#0746b1 64%,#065cb8 72%,#0666b8 80%,#066db4 86%,#0674b0 91%,#0676ae 95%,#0674af 98%,#0674b0)"></i><i style="left:356.0px;width:2.5px;background:linear-gradient(#13007b,#12007d 8%,#12007e 16%,#110083 25%,#10018a 35%,#0e0a90 45%,#0b1799 55%,#092fa7 64%,#064cb3 72%,#065ab7 80%,#0662b8 86%,#0668b8 91%,#066ab7 95%,#0668b8 98%,#0668b8)"></i><i style="left:358.0px;width:2.5px;background:linear-gradient(#130078,#13007a 8%,#13007c 16%,#120080 25%,#100089 35%,#0e088f 45%,#0b1598 55%,#092da6 64%,#0649b2 72%,#0658b7 80%,#0661b8 86%,#0667b8 91%,#0668b8 95%,#0667b8 98%,#0666b8)"></i><i style="left:360.0px;width:2.5px;background:linear-gradient(#0c1195,#0c1296 8%,#0c1497 16%,#0b1799 25%,#0a1e9d 35%,#0929a4 45%,#0839ad 55%,#064db4 64%,#065fb8 72%,#0668b8 80%,#066fb3 86%,#0676ad 91%,#0678ab 95%,#0677ac 98%,#0676ae)"></i><i style="left:362.0px;width:2.5px;background:linear-gradient(#0f068e,#0e088f 8%,#0e0990 16%,#0d0d92 25%,#0c1396 35%,#0a1d9d 45%,#092da6 55%,#0743b0 64%,#0658b7 72%,#0663b8 80%,#0669b7 86%,#0670b3 91%,#0672b1 95%,#0670b2 98%,#0670b3)"></i><i style="left:364.0px;width:2.5px;background:linear-gradient(#0f078e,#0e0990 8%,#0e0a91 16%,#0d0e93 25%,#0c1497 35%,#0a1f9d 45%,#092fa7 55%,#0743b0 64%,#0659b7 72%,#0663b8 80%,#0669b7 86%,#0670b3 91%,#0672b2 95%,#0670b2 98%,#0670b3)"></i><i style="left:366.0px;width:2.5px;background:linear-gradient(#0e078f,#0e0990 8%,#0e0b91 16%,#0d0e93 25%,#0b1598 35%,#0a209e 45%,#0930a7 55%,#0744b0 64%,#0659b7 72%,#0663b8 80%,#0669b7 86%,#0670b3 91%,#0671b2 95%,#0670b3 98%,#066fb3)"></i><i style="left:368.0px;width:2.5px;background:linear-gradient(#13007a,#12007d 8%,#120080 16%,#110084 25%,#10028b 35%,#0d0c92 45%,#0b199a 55%,#092fa7 64%,#0649b2 72%,#0657b6 80%,#0660b8 86%,#0665b8 91%,#0667b8 95%,#0666b8 98%,#0665b8)"></i><i style="left:370.0px;width:2.5px;background:linear-gradient(#092ca5,#092fa7 8%,#0832a9 16%,#0836ab 25%,#083dae 35%,#0747b2 45%,#0652b5 55%,#065fb8 64%,#066ab7 72%,#0673b1 80%,#067aa7 86%,#06819d 91%,#06829a 95%,#06819d 98%,#06809e)"></i><i style="left:372.0px;width:2.5px;background:linear-gradient(#130079,#13007c 8%,#12007f 16%,#110083 25%,#10028b 35%,#0d0c92 45%,#0b189a 55%,#092ea6 64%,#0748b2 72%,#0655b6 80%,#065fb8 86%,#0664b8 91%,#0666b8 95%,#0665b8 98%,#0664b8)"></i><i style="left:374.0px;width:2.5px;background:linear-gradient(#100088,#10018b 8%,#0f048c 16%,#0f078e 25%,#0d0e93 35%,#0b199a 45%,#0927a2 55%,#083cad 64%,#0652b5 72%,#065db8 80%,#0663b8 86%,#0669b7 91%,#066bb6 95%,#066ab7 98%,#0669b7)"></i><i style="left:376.0px;width:2.5px;background:linear-gradient(#13007a,#12007d 8%,#120081 16%,#110085 25%,#0f038c 35%,#0d0e93 45%,#0a1a9b 55%,#092fa7 64%,#0748b2 72%,#0655b6 80%,#065eb8 86%,#0664b8 91%,#0665b8 95%,#0664b8 98%,#0663b8)"></i><i style="left:378.0px;width:2.5px;background:linear-gradient(#110085,#100089 8%,#10028b 16%,#0f058d 25%,#0d0c92 35%,#0b1799 45%,#0925a1 55%,#083aad 64%,#0650b4 72%,#065bb7 80%,#0662b8 86%,#0667b8 91%,#0669b7 95%,#0668b8 98%,#0667b8)"></i><i style="left:380.0px;width:2.5px;background:linear-gradient(#0c1396,#0b1698 8%,#0b199a 16%,#0a1c9c 25%,#0926a2 35%,#0834a9 45%,#0740af 55%,#0650b4 64%,#065fb8 72%,#0666b8 80%,#066cb5 86%,#0673b1 91%,#0675af 95%,#0673b0 98%,#0673b1)"></i><i style="left:382.0px;width:2.5px;background:linear-gradient(#0f058d,#0e088f 8%,#0e0b91 16%,#0d0f93 25%,#0b1698 35%,#0a23a0 45%,#0931a8 55%,#0743b0 64%,#0656b6 72%,#0660b8 80%,#0665b8 86%,#066bb6 91%,#066db5 95%,#066cb5 98%,#066bb6)"></i><i style="left:384.0px;width:2.5px;background:linear-gradient(#0d0f94,#0c1296 8%,#0b1598 16%,#0b199a 25%,#0a219f 35%,#092fa7 45%,#083cad 55%,#064cb3 64%,#065db8 72%,#0664b8 80%,#066ab7 86%,#0670b2 91%,#0672b1 95%,#0671b2 98%,#0670b2)"></i><i style="left:386.0px;width:2.5px;background:linear-gradient(#10028b,#0f058d 8%,#0e078f 16%,#0e0b91 25%,#0c1296 35%,#0a1e9d 45%,#092ca5 55%,#073faf 64%,#0653b5 72%,#065eb8 80%,#0663b8 86%,#0669b7 91%,#066bb6 95%,#066ab7 98%,#0669b7)"></i><i style="left:388.0px;width:2.5px;background:linear-gradient(#0923a0,#0927a2 8%,#092ba4 16%,#092fa7 25%,#0838ac 35%,#0743b0 45%,#064eb4 55%,#065ab7 64%,#0666b8 72%,#066db5 80%,#0674b0 86%,#067aa7 91%,#067ca4 95%,#067ba6 98%,#067ba7)"></i><i style="left:390.0px;width:2.5px;background:linear-gradient(#10008a,#0f038c 8%,#0f068e 16%,#0e0a90 25%,#0c1195 35%,#0a1d9c 45%,#092ba4 55%,#073eae 64%,#0652b5 72%,#065db8 80%,#0663b8 86%,#0669b8 91%,#066bb6 95%,#066ab7 98%,#0669b7)"></i><i style="left:392.0px;width:2.5px;background:linear-gradient(#12007e,#110082 8%,#110086 16%,#10008a 25%,#0e088f 35%,#0c1396 45%,#0a1f9d 55%,#0834a9 64%,#064bb3 72%,#0656b6 80%,#065fb8 86%,#0664b8 91%,#0666b8 95%,#0665b8 98%,#0665b8)"></i><i style="left:394.0px;width:2.5px;background:linear-gradient(#0d0e93,#0c1195 8%,#0c1497 16%,#0b1799 25%,#0a209e 35%,#092ea6 45%,#083bad 55%,#064bb3 64%,#065cb8 72%,#0663b8 80%,#0669b7 86%,#0670b3 91%,#0672b1 95%,#0671b2 98%,#0671b2)"></i><i style="left:396.0px;width:2.5px;background:linear-gradient(#10028b,#0f058d 8%,#0e088f 16%,#0e0c91 25%,#0c1396 35%,#0a1f9e 45%,#092da6 55%,#0740af 64%,#0654b5 72%,#065eb8 80%,#0664b8 86%,#066ab7 91%,#066cb5 95%,#066bb6 98%,#066bb6)"></i><i style="left:398.0px;width:2.5px;background:linear-gradient(#0b1899,#0a1b9b 8%,#0a1e9d 16%,#0a22a0 25%,#092ca5 35%,#0839ac 45%,#0744b0 55%,#0653b5 64%,#0661b8 72%,#0668b8 80%,#066eb4 86%,#0675af 91%,#0677ab 95%,#0677ac 98%,#0676ad)"></i><i style="left:400.0px;width:2.5px;background:linear-gradient(#0f038c,#0f068e 8%,#0e0990 16%,#0d0d92 25%,#0c1497 35%,#0a209e 45%,#092ea6 55%,#0741af 64%,#0654b6 72%,#065fb8 80%,#0664b8 86%,#066ab7 91%,#066cb5 95%,#066cb5 98%,#066cb6)"></i><i style="left:402.0px;width:2.5px;background:linear-gradient(#0d0d92,#0d1094 8%,#0c1396 16%,#0b1698 25%,#0a1e9d 35%,#092ca5 45%,#083aad 55%,#064ab3 64%,#065bb7 72%,#0663b8 80%,#0669b8 86%,#066fb3 91%,#0672b1 95%,#0671b2 98%,#0671b2)"></i><i style="left:404.0px;width:2.5px;background:linear-gradient(#0d0e93,#0c1195 8%,#0c1497 16%,#0b1799 25%,#0a1f9e 35%,#092da6 45%,#083bad 55%,#064bb3 64%,#065cb7 72%,#0663b8 80%,#0669b7 86%,#0670b3 91%,#0672b1 95%,#0672b1 98%,#0672b2)"></i><i style="left:406.0px;width:2.5px;background:linear-gradient(#10018a,#0f048c 8%,#0f078e 16%,#0e0a90 25%,#0c1195 35%,#0a1d9c 45%,#092ba4 55%,#073eae 64%,#0652b5 72%,#065db8 80%,#0663b8 86%,#0669b8 91%,#066bb6 95%,#066bb6 98%,#066bb6)"></i><i style="left:408.0px;width:2.5px;background:linear-gradient(#10018b,#0f048d 8%,#0f078e 16%,#0e0a91 25%,#0c1295 35%,#0a1d9d 45%,#092ba5 55%,#073eae 64%,#0653b5 72%,#065db8 80%,#0663b8 86%,#0669b7 91%,#066bb6 95%,#066bb6 98%,#066bb6)"></i><i style="left:410.0px;width:2.5px;background:linear-gradient(#0924a1,#0928a3 8%,#092ba5 16%,#0930a7 25%,#0839ac 35%,#0744b0 45%,#064fb4 55%,#065bb7 64%,#0666b8 72%,#066db4 80%,#0674b0 86%,#067ba6 91%,#067da3 95%,#067da3 98%,#067da3)"></i><i style="left:412.0px;width:2.5px;background:linear-gradient(#0c1195,#0c1497 8%,#0b1799 16%,#0a1b9b 25%,#0924a0 35%,#0832a8 45%,#073eae 55%,#064eb4 64%,#065eb8 72%,#0665b8 80%,#066bb6 86%,#0672b1 91%,#0675af 95%,#0675af 98%,#0675af)"></i><i style="left:414.0px;width:2.5px;background:linear-gradient(#0b1799,#0a1a9b 8%,#0a1d9d 16%,#0a229f 25%,#092ba4 35%,#0838ac 45%,#0743b0 55%,#0652b5 64%,#0661b8 72%,#0668b8 80%,#066fb4 86%,#0675ae 91%,#0678aa 95%,#0678aa 98%,#0679aa)"></i><i style="left:416.0px;width:2.5px;background:linear-gradient(#0d0d93,#0d1094 8%,#0c1396 16%,#0b1799 25%,#0a1e9d 35%,#092ca5 45%,#0839ac 55%,#064ab2 64%,#065bb7 72%,#0664b8 80%,#066ab7 86%,#0670b2 91%,#0673b0 95%,#0674b0 98%,#0674b0)"></i><i style="left:418.0px;width:2.5px;background:linear-gradient(#110082,#110086 8%,#10008a 16%,#0f038c 25%,#0e0a91 35%,#0c1597 45%,#0a219f 55%,#0836ab 64%,#064cb3 72%,#0659b7 80%,#0661b8 86%,#0667b8 91%,#0669b7 95%,#066ab7 98%,#066ab6)"></i><i style="left:420.0px;width:2.5px;background:linear-gradient(#100089,#10028b 8%,#0f058d 16%,#0e088f 25%,#0d0f94 35%,#0b1a9a 45%,#0927a2 55%,#083bad 64%,#0650b5 72%,#065db8 80%,#0664b8 86%,#066ab7 91%,#066db5 95%,#066eb4 98%,#066eb4)"></i><i style="left:422.0px;width:2.5px;background:linear-gradient(#0925a1,#0929a3 8%,#092da5 16%,#0931a8 25%,#0839ac 35%,#0743b0 45%,#064eb4 55%,#065ab7 64%,#0665b8 72%,#066fb3 80%,#0677ac 86%,#067da3 91%,#06819e 95%,#06819c 98%,#06829b)"></i><i style="left:424.0px;width:2.5px;background:linear-gradient(#0e088f,#0e0b91 8%,#0d0e93 16%,#0c1195 25%,#0b1899 35%,#0a23a0 45%,#0931a8 55%,#0743b0 64%,#0656b6 72%,#0662b8 80%,#0668b8 86%,#066fb3 91%,#0672b1 95%,#0674b0 98%,#0674b0)"></i><i style="left:426.0px;width:2.5px;background:linear-gradient(#0f068e,#0e0990 8%,#0d0c92 16%,#0d0f94 25%,#0b1698 35%,#0a209e 45%,#092ea6 55%,#0741af 64%,#0654b6 72%,#0661b8 80%,#0668b8 86%,#066fb4 91%,#0672b1 95%,#0673b0 98%,#0674b0)"></i><i style="left:428.0px;width:2.5px;background:linear-gradient(#10008a,#0f038c 8%,#0f068e 16%,#0e0990 25%,#0d1094 35%,#0b199a 45%,#0926a2 55%,#083aad 64%,#0650b4 72%,#065eb8 80%,#0665b8 86%,#066cb6 91%,#066fb3 95%,#0671b2 98%,#0672b2)"></i><i style="left:430.0px;width:2.5px;background:linear-gradient(#0c1195,#0c1397 8%,#0b1698 16%,#0a1a9b 25%,#0a219f 35%,#092ca5 45%,#083aad 55%,#064ab3 64%,#065bb7 72%,#0666b8 80%,#066eb4 86%,#0675af 91%,#0679a9 95%,#067aa7 98%,#067ba6)"></i><i style="left:432.0px;width:2.5px;background:linear-gradient(#0a1a9b,#0a1d9d 8%,#0a219f 16%,#0925a1 25%,#092da6 35%,#0838ac 45%,#0743b0 55%,#0652b5 64%,#0660b8 72%,#066bb6 80%,#0674b0 86%,#067aa7 91%,#067ea1 95%,#06809f 98%,#06819d)"></i><i style="left:434.0px;width:2.5px;background:linear-gradient(#0a219f,#0924a1 8%,#0928a3 16%,#092ca5 25%,#0834aa 35%,#083dae 45%,#0748b2 55%,#0656b6 64%,#0663b8 72%,#066eb4 80%,#0677ab 86%,#067ea2 91%,#06829c 95%,#068398 98%,#068496)"></i><i style="left:436.0px;width:2.5px;background:linear-gradient(#0926a2,#092aa4 8%,#092ea6 16%,#0832a8 25%,#0839ac 35%,#0741af 45%,#064cb3 55%,#0658b7 64%,#0665b8 72%,#0671b2 80%,#067aa8 86%,#06819e 91%,#068497 95%,#068693 98%,#068791)"></i><i style="left:438.0px;width:2.5px;background:linear-gradient(#0c1597,#0b1899 8%,#0a1b9b 16%,#0a1f9d 25%,#0926a2 35%,#0930a7 45%,#083cae 55%,#064db4 64%,#065db8 72%,#0669b7 80%,#0672b1 86%,#0679a9 91%,#067da3 95%,#067fa0 98%,#06819e)"></i><i style="left:440.0px;width:2.5px;background:linear-gradient(#0c1295,#0c1597 8%,#0b1899 16%,#0a1b9b 25%,#0a229f 35%,#092ba5 45%,#0839ac 55%,#064ab2 64%,#065bb7 72%,#0667b8 80%,#0671b2 86%,#0678ab 91%,#067ca5 95%,#067ea1 98%,#06809f)"></i><i style="left:442.0px;width:2.5px;background:linear-gradient(#0a1c9c,#0a209e 8%,#0923a0 16%,#0928a3 25%,#092fa7 35%,#0838ac 45%,#0743b0 55%,#0653b5 64%,#0661b8 72%,#066eb4 80%,#0677ab 86%,#067ea2 91%,#06829a 95%,#068595 98%,#068692)"></i><i style="left:444.0px;width:2.5px;background:linear-gradient(#0c1396,#0b1698 8%,#0b199a 16%,#0a1c9c 25%,#0a23a0 35%,#092ca5 45%,#083bad 55%,#064db4 64%,#065eb8 72%,#066ab6 80%,#0674b0 86%,#067ba5 91%,#06819e 95%,#068497 98%,#068693)"></i><i style="left:446.0px;width:2.5px;background:linear-gradient(#0d1094,#0c1396 8%,#0b1698 16%,#0b199a 25%,#0a1f9e 35%,#0929a3 45%,#083aad 55%,#064cb3 64%,#065eb8 72%,#066bb6 80%,#0675af 86%,#067ca4 91%,#06829b 95%,#068594 98%,#06888e)"></i><i style="left:448.0px;width:2.5px;background:linear-gradient(#0925a1,#0928a3 8%,#092ca5 16%,#0930a8 25%,#0837ac 35%,#073fae 45%,#064eb4 55%,#065cb7 64%,#0668b8 72%,#0676ac 80%,#06819d 86%,#068790 91%,#068c84 95%,#068e7a 98%,#069074)"></i><i style="left:450.0px;width:2.5px;background:linear-gradient(#0d0c92,#0d0f94 8%,#0c1296 16%,#0b1698 25%,#0a1b9c 35%,#0925a1 45%,#0839ac 55%,#064db4 64%,#065fb8 72%,#066cb5 80%,#0677ac 86%,#067fa0 91%,#068594 95%,#068a8a 98%,#068c82)"></i><i style="left:452.0px;width:2.5px;background:linear-gradient(#0d1094,#0c1396 8%,#0b1698 16%,#0b199a 25%,#0a1f9e 35%,#0929a3 45%,#083dae 55%,#0651b5 64%,#0662b8 72%,#0670b3 80%,#067ba7 86%,#06829a 91%,#06898c 95%,#068d80 98%,#068f78)"></i><i style="left:454.0px;width:2.5px;background:linear-gradient(#100087,#10018b 8%,#0f048d 16%,#0e078f 25%,#0d0d92 35%,#0c1497 45%,#0929a4 55%,#0743b0 64%,#0659b7 72%,#0668b8 80%,#0673b1 86%,#067ca5 91%,#068498 95%,#068a8a 98%,#068c81)"></i><i style="left:456.0px;width:2.5px;background:linear-gradient(#0c1396,#0b1698 8%,#0b199a 16%,#0a1c9c 25%,#0923a0 35%,#092da6 45%,#0742b0 55%,#0656b6 64%,#0666b8 72%,#0675af 80%,#06809f 86%,#06888f 91%,#068d7e 95%,#06916f 98%,#079465)"></i><i style="left:458.0px;width:2.5px;background:linear-gradient(#10018a,#0f048c 8%,#0f078e 16%,#0e0a90 25%,#0d1094 35%,#0b1799 45%,#0930a7 55%,#064ab2 64%,#065fb8 72%,#066db5 80%,#0678aa 86%,#06819c 91%,#068a8b 95%,#068e7a 98%,#06916f)"></i><i style="left:460.0px;width:2.5px;background:linear-gradient(#0e078f,#0e0a91 8%,#0d0d93 16%,#0c1195 25%,#0b1698 35%,#0a1e9d 45%,#0839ac 55%,#0651b5 64%,#0663b8 72%,#0672b1 80%,#067ea2 86%,#068692 91%,#068d7f 95%,#07926d 98%,#089561)"></i><i style="left:462.0px;width:2.5px;background:linear-gradient(#0b199a,#0a1c9c 8%,#0a1f9d 16%,#0a229f 25%,#0927a2 35%,#092fa7 45%,#0744b0 55%,#0656b6 64%,#0665b8 72%,#0672b1 80%,#067da3 86%,#068790 91%,#068e7c 95%,#079368 98%,#08975c)"></i><i style="left:464.0px;width:2.5px;background:linear-gradient(#0743b0,#0744b0 8%,#0746b1 16%,#0746b1 25%,#0747b1 35%,#0649b2 45%,#0653b5 55%,#065cb8 64%,#0663b8 72%,#066bb6 80%,#0675af 86%,#06829a 91%,#068c83 95%,#07926e 98%,#089560)"></i><i style="left:466.0px;width:2.5px;background:linear-gradient(#092ea6,#092ea6 8%,#092fa7 16%,#092ca5 25%,#092aa4 35%,#0928a3 45%,#092ea6 55%,#0832a9 64%,#0836ab 72%,#083cae 80%,#064bb3 86%,#0661b8 91%,#066eb4 95%,#067aa7 98%,#06829a)"></i><i style="left:468.0px;width:2.5px;background:linear-gradient(#0742b0,#0742b0 8%,#0742af 16%,#073eae 25%,#083bad 35%,#0837ab 45%,#0837ab 55%,#0834aa 64%,#0930a7 72%,#0930a7 80%,#073fae 86%,#065bb7 91%,#066ab7 95%,#0677ac 98%,#067fa0)"></i><i style="left:470.0px;width:2.5px;background:linear-gradient(#0831a8,#0831a8 8%,#0931a8 16%,#092da6 25%,#0928a3 35%,#0923a0 45%,#0923a0 55%,#0a219f 64%,#0a1c9c 72%,#0a1c9c 80%,#092da6 86%,#0650b5 91%,#0663b8 95%,#066fb4 98%,#0677ac)"></i><i style="left:472.0px;width:2.5px;background:linear-gradient(#0b1899,#0b1899 8%,#0b1799 16%,#0c1497 25%,#0d1094 35%,#0d0d92 45%,#0d0d92 55%,#0e0b91 64%,#0f078e 72%,#0f078e 80%,#0c1597 86%,#083cae 91%,#0656b6 95%,#0664b8 98%,#066cb6)"></i><i style="left:474.0px;width:2.5px;background:linear-gradient(#092aa4,#092aa4 8%,#0929a4 16%,#0925a1 25%,#0a209e 35%,#0a1c9c 45%,#0a1c9c 55%,#0a1a9b 64%,#0b1698 72%,#0b1698 80%,#0926a2 86%,#064bb3 91%,#0660b8 95%,#066bb6 98%,#0674b0)"></i><i style="left:476.0px;width:2.5px;background:linear-gradient(#064fb4,#064fb4 8%,#064eb4 16%,#064bb3 25%,#0747b2 35%,#0744b0 45%,#0744b0 55%,#0742b0 64%,#073eae 72%,#073eae 80%,#064cb3 86%,#0662b8 91%,#0671b2 95%,#067ea2 98%,#068594)"></i><i style="left:478.0px;width:2.5px;background:linear-gradient(#092fa7,#092fa7 8%,#092ea6 16%,#092aa4 25%,#0925a1 35%,#0a219f 45%,#0a219f 55%,#0a1e9d 64%,#0a1a9b 72%,#0a1a9b 80%,#092ba4 86%,#064fb4 91%,#0662b8 95%,#066db4 98%,#0676ad)"></i><i style="left:480.0px;width:2.5px;background:linear-gradient(#0a209f,#0a209f 8%,#0a209e 16%,#0a1c9c 25%,#0b1899 35%,#0c1497 45%,#0c1497 55%,#0c1296 64%,#0d0f93 72%,#0d0f93 80%,#0a1d9c 86%,#0744b0 91%,#065cb7 95%,#0667b8 98%,#0670b3)"></i><i style="left:482.0px;width:2.5px;background:linear-gradient(#0837ab,#0837ab 8%,#0836ab 16%,#0832a9 25%,#092da6 35%,#0929a3 45%,#0929a3 55%,#0926a2 64%,#0a229f 72%,#0a229f 80%,#0833a9 86%,#0653b5 91%,#0665b8 95%,#0671b2 98%,#0679a8)"></i><i style="left:484.0px;width:2.5px;background:linear-gradient(#073eae,#073eae 8%,#073eae 16%,#083bad 25%,#0837ab 35%,#0832a9 45%,#0832a9 55%,#0930a7 64%,#092ba5 72%,#092ba5 80%,#083bad 86%,#0659b7 91%,#0668b8 95%,#0675af 98%,#067da3)"></i><i style="left:486.0px;width:2.5px;background:linear-gradient(#0837ab,#0837ab 8%,#0837ab 16%,#0832a9 25%,#092ea6 35%,#0929a3 45%,#0929a3 55%,#0927a2 64%,#0a229f 72%,#0a229f 80%,#0833a9 86%,#0654b5 91%,#0665b8 95%,#0671b2 98%,#067aa8)"></i><i style="left:488.0px;width:2.5px;background:linear-gradient(#0925a1,#0925a1 8%,#0925a1 16%,#0a219f 25%,#0a1c9c 35%,#0b189a 45%,#0b189a 55%,#0b1698 64%,#0c1396 72%,#0c1396 80%,#0a219f 86%,#0748b2 91%,#065eb8 95%,#0669b7 98%,#0672b1)"></i><i style="left:490.0px;width:2.5px;background:linear-gradient(#083aad,#083aad 8%,#083aad 16%,#0836ab 25%,#0832a8 35%,#092da6 45%,#092da6 55%,#092ba4 64%,#0926a2 72%,#0926a2 80%,#0837ab 86%,#0656b6 91%,#0666b8 95%,#0673b1 98%,#067ba6)"></i><i style="left:492.0px;width:2.5px;background:linear-gradient(#0743b0,#0743b0 8%,#0742b0 16%,#073faf 25%,#083cad 35%,#0838ac 45%,#0838ac 55%,#0836ab 64%,#0832a8 72%,#0832a8 80%,#0741af 86%,#065db8 91%,#066bb6 95%,#0678aa 98%,#06819e)"></i><i style="left:494.0px;width:2.5px;background:linear-gradient(#0748b2,#0748b2 8%,#0747b2 16%,#0745b1 25%,#0742b0 35%,#073fae 45%,#073fae 55%,#083dae 64%,#083aad 72%,#083aad 80%,#0748b2 86%,#0662b8 91%,#0671b2 95%,#067da3 98%,#068595)"></i><i style="left:496.0px;width:2.5px;background:linear-gradient(#0652b5,#0652b5 8%,#0652b5 16%,#0650b5 25%,#064fb4 35%,#064cb3 45%,#064cb3 55%,#064bb3 64%,#0649b2 72%,#0649b2 80%,#0655b6 86%,#0669b7 91%,#0679a8 95%,#068594 98%,#068b85)"></i><i style="left:498.0px;width:2.5px;background:linear-gradient(#0833a9,#0833a9 8%,#0832a9 16%,#0930a8 25%,#092ea6 35%,#092ba5 45%,#092ba5 55%,#092aa4 64%,#0927a2 72%,#0927a2 80%,#083aad 86%,#065bb7 91%,#066ab6 95%,#0677ab 98%,#06809f)"></i><i style="left:500.0px;width:2.5px;background:linear-gradient(#083cad,#083cad 8%,#083cad 16%,#083aad 25%,#0839ac 35%,#0837ac 45%,#0837ac 55%,#0836ab 64%,#0834aa 72%,#0834aa 80%,#0745b1 86%,#0662b8 91%,#0671b2 95%,#067ea2 98%,#068693)"></i><i style="left:502.0px;width:2.5px;background:linear-gradient(#0926a2,#0926a2 8%,#0926a2 16%,#0925a1 25%,#0924a0 35%,#0a22a0 45%,#0a22a0 55%,#0a229f 64%,#0a219f 72%,#0a219f 80%,#0835aa 86%,#065ab7 91%,#066ab7 95%,#0677ac 98%,#067fa0)"></i><i style="left:504.0px;width:2.5px;background:linear-gradient(#0929a3,#0929a3 8%,#0929a3 16%,#0928a3 25%,#0928a3 35%,#0927a2 45%,#0927a2 55%,#0927a2 64%,#0926a2 72%,#0926a2 80%,#083aad 86%,#065eb8 91%,#066eb4 95%,#067aa7 98%,#06829a)"></i><i style="left:506.0px;width:2.5px;background:linear-gradient(#0d0e93,#0d0e93 8%,#0d0e93 16%,#0d0e93 25%,#0d0e93 35%,#0d0e93 45%,#0d0e93 55%,#0d0e93 64%,#0d0e93 72%,#0d0e93 80%,#0a209e 86%,#0650b4 91%,#0664b8 95%,#0670b3 98%,#0678aa)"></i><i style="left:508.0px;width:2.5px;background:linear-gradient(#0b1798,#0b1798 8%,#0b1798 16%,#0b1798 25%,#0b1798 35%,#0b1798 45%,#0b1798 55%,#0b1798 64%,#0b1798 72%,#0b1799 80%,#092ba5 86%,#0655b6 91%,#0667b8 95%,#0674b0 98%,#067da4)"></i><i style="left:510.0px;width:2.5px;background:linear-gradient(#0927a2,#0927a2 8%,#0927a2 16%,#0927a2 25%,#0927a2 35%,#0927a2 45%,#0927a2 55%,#0927a2 64%,#0927a2 72%,#0928a3 80%,#083cae 86%,#065fb8 91%,#066eb4 95%,#067ba6 98%,#068398)"></i><i style="left:512.0px;width:2.5px;background:linear-gradient(#0c1497,#0c1497 8%,#0c1497 16%,#0c1497 25%,#0c1497 35%,#0c1497 45%,#0c1497 55%,#0c1497 64%,#0c1497 72%,#0b1698 80%,#092aa4 86%,#0653b5 91%,#0666b8 95%,#0672b1 98%,#067ba7)"></i><i style="left:514.0px;width:2.5px;background:linear-gradient(#092ea6,#092ea6 8%,#092ea6 16%,#092ea6 25%,#092ea6 35%,#092ea6 45%,#092ea6 55%,#092ea6 64%,#092ea6 72%,#0930a8 80%,#0743b0 86%,#0661b8 91%,#0671b2 95%,#067ea2 98%,#068594)"></i><i style="left:516.0px;width:2.5px;background:linear-gradient(#0b1698,#0b1698 8%,#0b1698 16%,#0b1698 25%,#0b1698 35%,#0b1698 45%,#0b1698 55%,#0b1698 64%,#0b1698 72%,#0b189a 80%,#092da6 86%,#0654b5 91%,#0666b8 95%,#0672b1 98%,#067ba6)"></i><i style="left:518.0px;width:2.5px;background:linear-gradient(#0a1d9c,#0a1d9c 8%,#0a1d9c 16%,#0a1d9c 25%,#0a1d9c 35%,#0a1d9c 45%,#0a1d9c 55%,#0a1d9c 64%,#0a1d9c 72%,#0a209e 80%,#0836ab 86%,#0658b7 91%,#0668b8 95%,#0675ae 98%,#067ea2)"></i><i style="left:520.0px;width:2.5px;background:linear-gradient(#0a1c9c,#0a1c9c 8%,#0a1c9c 16%,#0a1c9c 25%,#0a1c9c 35%,#0a1c9c 45%,#0a1c9c 55%,#0a1c9c 64%,#0a1c9c 72%,#0a209e 80%,#0835aa 86%,#0657b6 91%,#0668b8 95%,#0674af 98%,#067da3)"></i><i style="left:522.0px;width:2.5px;background:linear-gradient(#0a1e9d,#0a1e9d 8%,#0a1e9d 16%,#0a1e9d 25%,#0a1e9d 35%,#0a1e9d 45%,#0a1e9d 55%,#0a1e9d 64%,#0a1e9d 72%,#0a23a0 80%,#0837ac 86%,#0658b7 91%,#0668b8 95%,#0675af 98%,#067ea2)"></i><i style="left:524.0px;width:2.5px;background:linear-gradient(#0b199a,#0b199a 8%,#0b199a 16%,#0b199a 25%,#0b199a 35%,#0b199a 45%,#0b199a 55%,#0b199a 64%,#0b199a 72%,#0a1d9d 80%,#0832a8 86%,#0654b6 91%,#0666b8 95%,#0672b1 98%,#067ba7)"></i><i style="left:526.0px;width:2.5px;background:linear-gradient(#0929a4,#0929a4 8%,#0929a4 16%,#0929a4 25%,#0929a4 35%,#0929a4 45%,#0929a4 55%,#0929a4 64%,#0929a4 72%,#092ea6 80%,#0740af 86%,#065db8 91%,#066cb5 95%,#0679a9 98%,#06819d)"></i><i style="left:528.0px;width:2.5px;background:linear-gradient(#0748b2,#0748b2 8%,#0748b2 16%,#0748b2 25%,#0748b2 35%,#0748b2 45%,#0748b2 55%,#0748b2 64%,#0748b2 72%,#064cb3 80%,#0658b6 86%,#066ab6 91%,#067aa7 95%,#068692 98%,#068c83)"></i><i style="left:530.0px;width:2.5px;background:linear-gradient(#0f038c,#0f038c 8%,#0f038c 16%,#0f038c 25%,#0f038c 35%,#0f038c 45%,#0f038c 55%,#0f038c 64%,#0f038c 72%,#0f078e 80%,#0b1698 86%,#073fae 91%,#0658b7 95%,#0665b8 98%,#066db5)"></i><i style="left:532.0px;width:2.5px;background:linear-gradient(#0a23a0,#0a23a0 8%,#0a23a0 16%,#0a23a0 25%,#0a23a0 35%,#0a23a0 45%,#0a23a0 55%,#0a23a0 64%,#0a23a0 72%,#0928a3 80%,#083aad 86%,#0658b6 91%,#0667b8 95%,#0674b0 98%,#067da4)"></i><i style="left:534.0px;width:2.5px;background:linear-gradient(#0a1c9c,#0a1c9c 8%,#0a1c9c 16%,#0a1c9c 25%,#0a1c9c 35%,#0a1c9c 45%,#0a1c9c 55%,#0a1c9c 64%,#0a1c9c 72%,#0a219f 80%,#0834aa 86%,#0653b5 91%,#0664b8 95%,#0671b2 98%,#0679a9)"></i><i style="left:536.0px;width:2.5px;background:linear-gradient(#0d0f94,#0d0f94 8%,#0d0f94 16%,#0d0f94 25%,#0d0f94 35%,#0d0f94 45%,#0d0f94 55%,#0d0f94 64%,#0d0f94 72%,#0c1396 80%,#0923a0 86%,#0748b2 91%,#065eb8 95%,#0669b7 98%,#0672b2)"></i><i style="left:538.0px;width:2.5px;background:linear-gradient(#092aa4,#092aa4 8%,#092aa4 16%,#092aa4 25%,#092aa4 35%,#092aa4 45%,#092aa4 55%,#092aa4 64%,#092aa4 72%,#092ea6 80%,#073fae 86%,#065ab7 91%,#0668b8 95%,#0675ae 98%,#067ea2)"></i><i style="left:540.0px;width:2.5px;background:linear-gradient(#0c1296,#0c1296 8%,#0c1296 16%,#0c1296 25%,#0c1296 35%,#0c1296 45%,#0c1296 55%,#0c1296 64%,#0c1296 72%,#0b1698 80%,#0927a2 86%,#0649b2 91%,#065fb8 95%,#066ab7 98%,#0672b1)"></i><i style="left:542.0px;width:2.5px;background:linear-gradient(#0c1497,#0c1497 8%,#0c1497 16%,#0c1497 25%,#0c1497 35%,#0c1497 45%,#0c1497 55%,#0c1497 64%,#0c1497 72%,#0b1799 80%,#0928a3 86%,#0649b2 91%,#065fb8 95%,#0669b7 98%,#0672b1)"></i><i style="left:544.0px;width:2.5px;background:linear-gradient(#092ba5,#092ba5 8%,#092ba5 16%,#092ba5 25%,#092ba5 35%,#092ba5 45%,#092ba5 55%,#092ba5 64%,#092ba5 72%,#092fa7 80%,#073eae 86%,#0658b6 91%,#0667b8 95%,#0673b0 98%,#067ca5)"></i><i style="left:546.0px;width:2.5px;background:linear-gradient(#10008a,#10008a 8%,#10008a 16%,#10008a 25%,#10008a 35%,#10008a 45%,#10008a 55%,#10008a 64%,#10008a 72%,#0f038c 80%,#0d1094 86%,#0832a8 91%,#064eb4 95%,#065fb8 98%,#0666b8)"></i><i style="left:548.0px;width:2.5px;background:linear-gradient(#0925a1,#0925a1 8%,#0925a1 16%,#0925a1 25%,#0925a1 35%,#0925a1 45%,#0925a1 55%,#0925a1 64%,#0925a1 72%,#0927a3 80%,#0837ac 86%,#0652b5 91%,#0663b8 95%,#066fb4 98%,#0677ac)"></i><i style="left:550.0px;width:2.5px;background:linear-gradient(#0836ab,#0836ab 8%,#0836ab 16%,#0836ab 25%,#0836ab 35%,#0836ab 45%,#0836ab 55%,#0836ab 64%,#0836ab 72%,#0838ac 80%,#0744b0 86%,#065bb7 91%,#0668b8 95%,#0675af 98%,#067da3)"></i><i style="left:552.0px;width:2.5px;background:linear-gradient(#0927a2,#0927a2 8%,#0927a2 16%,#0927a2 25%,#0927a2 35%,#0927a2 45%,#0927a2 55%,#0927a2 64%,#0927a2 72%,#0928a3 80%,#0837ab 86%,#0651b5 91%,#0662b8 95%,#066db4 98%,#0676ad)"></i><i style="left:554.0px;width:2.5px;background:linear-gradient(#073faf,#073faf 8%,#073faf 16%,#073faf 25%,#073faf 35%,#073faf 45%,#073faf 55%,#073faf 64%,#073faf 72%,#0740af 80%,#064bb3 86%,#065eb8 91%,#066bb6 95%,#0678ab 98%,#06809f)"></i><i style="left:556.0px;width:2.5px;background:linear-gradient(#083bad,#083bad 8%,#083bad 16%,#083bad 25%,#083bad 35%,#083bad 45%,#083bad 55%,#083bad 64%,#083bad 72%,#083cad 80%,#0746b1 86%,#065bb7 91%,#0668b8 95%,#0674af 98%,#067da3)"></i><i style="left:558.0px;width:2.5px;background:linear-gradient(#0839ac,#0839ac 8%,#0839ac 16%,#0839ac 25%,#0839ac 35%,#0839ac 45%,#0839ac 55%,#0839ac 64%,#0839ac 72%,#0839ac 80%,#0743b0 86%,#0658b6 91%,#0666b8 95%,#0672b1 98%,#067ba6)"></i><i style="left:560.0px;width:2.5px;background:linear-gradient(#064db4,#064db4 8%,#064db4 16%,#064db4 25%,#064db4 35%,#064db4 45%,#064db4 55%,#064db4 64%,#064db4 72%,#064db4 80%,#0654b6 86%,#0663b8 91%,#0670b3 95%,#067da4 98%,#068496)"></i><i style="left:562.0px;width:2.5px;background:linear-gradient(#092ba4,#092ba4 8%,#092ba4 16%,#092ba4 25%,#092ba4 35%,#092ba4 45%,#092ba4 55%,#092ba4 64%,#092ba4 72%,#092ba4 80%,#0837ab 86%,#064fb4 91%,#0660b8 95%,#066cb6 98%,#0674b0)"></i><i style="left:564.0px;width:2.5px;background:linear-gradient(#0748b2,#0748b2 8%,#0748b2 16%,#0748b2 25%,#0748b2 35%,#0748b2 45%,#0748b2 55%,#0748b2 64%,#0748b2 72%,#0748b2 80%,#0651b5 86%,#0661b8 91%,#066eb4 95%,#067aa7 98%,#06829a)"></i><i style="left:566.0px;width:2.5px;background:linear-gradient(#0833a9,#0833a9 8%,#0833a9 16%,#0833a9 25%,#0833a9 35%,#0833a9 45%,#0833a9 55%,#0833a9 64%,#0833a9 72%,#0833a9 80%,#073eae 86%,#0654b5 91%,#0663b8 95%,#066fb3 98%,#0678ab)"></i><i style="left:568.0px;width:2.5px;background:linear-gradient(#0a219f,#0a219f 8%,#0a219f 16%,#0a219f 25%,#0a219f 35%,#0a219f 45%,#0a219f 55%,#0a219f 64%,#0a219f 72%,#0a219f 80%,#092ea6 86%,#0748b2 91%,#065db8 95%,#0668b8 98%,#0670b2)"></i><i style="left:570.0px;width:2.5px;background:linear-gradient(#0836ab,#0836ab 8%,#0836ab 16%,#0836ab 25%,#0836ab 35%,#0836ab 45%,#0836ab 55%,#0836ab 64%,#0836ab 72%,#0836ab 80%,#0740af 86%,#0656b6 91%,#0664b8 95%,#0671b2 98%,#0679a9)"></i><i style="left:572.0px;width:2.5px;background:linear-gradient(#0832a9,#0832a9 8%,#0832a9 16%,#0832a9 25%,#0832a9 35%,#0832a9 45%,#0832a9 55%,#0832a9 64%,#0832a9 72%,#0832a9 80%,#083dae 86%,#0653b5 91%,#0662b8 95%,#066eb4 98%,#0677ac)"></i><i style="left:574.0px;width:2.5px;background:linear-gradient(#0746b1,#0746b1 8%,#0746b1 16%,#0746b1 25%,#0746b1 35%,#0746b1 45%,#0746b1 55%,#0746b1 64%,#0746b1 72%,#0746b1 80%,#064eb4 86%,#065eb8 91%,#0669b7 95%,#0676ad 98%,#067fa1)"></i><i style="left:576.0px;width:2.5px;background:linear-gradient(#092da6,#092da6 8%,#092da6 16%,#092da6 25%,#092da6 35%,#092da6 45%,#092da6 55%,#092da6 64%,#092da6 72%,#092da6 80%,#0836ab 86%,#0649b2 91%,#065cb7 95%,#0668b8 98%,#0670b2)"></i><i style="left:578.0px;width:2.5px;background:linear-gradient(#0837ab,#0837ab 8%,#0837ab 16%,#0837ab 25%,#0837ab 35%,#0837ab 45%,#0837ab 55%,#0837ab 64%,#0837ab 72%,#0837ab 80%,#083dae 86%,#064db4 91%,#065eb8 95%,#066ab7 98%,#0673b1)"></i><i style="left:580.0px;width:2.5px;background:linear-gradient(#0833a9,#0833a9 8%,#0833a9 16%,#0833a9 25%,#0833a9 35%,#0833a9 45%,#0833a9 55%,#0833a9 64%,#0833a9 72%,#0833a9 80%,#083aad 86%,#0747b2 91%,#0659b7 95%,#0666b8 98%,#066fb3)"></i><i style="left:582.0px;width:2.5px;background:linear-gradient(#064cb3,#064cb3 8%,#064cb3 16%,#064cb3 25%,#064cb3 35%,#064cb3 45%,#064cb3 55%,#064cb3 64%,#064cb3 72%,#064cb3 80%,#0650b4 86%,#0658b6 91%,#0664b8 95%,#0671b2 98%,#067aa7)"></i><i style="left:584.0px;width:2.5px;background:linear-gradient(#0928a3,#0928a3 8%,#0928a3 16%,#0928a3 25%,#0928a3 35%,#0928a3 45%,#0928a3 55%,#0928a3 64%,#0928a3 72%,#0928a3 80%,#092da6 86%,#0838ac 91%,#064db3 95%,#065fb8 98%,#0667b8)"></i><i style="left:586.0px;width:2.5px;background:linear-gradient(#0742b0,#0742b0 8%,#0742b0 16%,#0742b0 25%,#0742b0 35%,#0742b0 45%,#0742b0 55%,#0742b0 64%,#0742b0 72%,#0742b0 80%,#0744b1 86%,#064bb3 91%,#065ab7 95%,#0667b8 98%,#0671b2)"></i><i style="left:588.0px;width:2.5px;background:linear-gradient(#0a1f9e,#0a1f9e 8%,#0a1f9e 16%,#0a1f9e 25%,#0a1f9e 35%,#0a1f9e 45%,#0a1f9e 55%,#0a1f9e 64%,#0a1f9e 72%,#0a209e 80%,#0923a0 86%,#092ba5 91%,#0742b0 95%,#0658b7 98%,#0662b8)"></i><i style="left:590.0px;width:2.5px;background:linear-gradient(#073fae,#073fae 8%,#073fae 16%,#073fae 25%,#073fae 35%,#073fae 45%,#073fae 55%,#073fae 64%,#073fae 72%,#0740af 80%,#0742b0 86%,#0649b2 91%,#0659b7 95%,#0667b8 98%,#0670b3)"></i><i style="left:592.0px;width:2.5px;background:linear-gradient(#092fa7,#092fa7 8%,#092fa7 16%,#092fa7 25%,#092fa7 35%,#092fa7 45%,#092fa7 55%,#092fa7 64%,#092fa7 72%,#0930a8 80%,#0834aa 86%,#083bad 91%,#064fb4 95%,#0661b8 98%,#0669b7)"></i><i style="left:594.0px;width:2.5px;background:linear-gradient(#083dae,#083dae 8%,#083dae 16%,#083dae 25%,#083dae 35%,#083dae 45%,#083dae 55%,#083dae 64%,#083dae 72%,#073fae 80%,#0742b0 86%,#0748b2 91%,#0659b7 95%,#0667b8 98%,#0671b2)"></i><i style="left:596.0px;width:2.5px;background:linear-gradient(#0924a1,#0924a1 8%,#0924a1 16%,#0924a1 25%,#0924a1 35%,#0924a1 45%,#0924a1 55%,#0924a1 64%,#0924a1 72%,#0927a2 80%,#092ca5 86%,#0833a9 91%,#0649b2 95%,#065eb8 98%,#0667b8)"></i><i style="left:598.0px;width:2.5px;background:linear-gradient(#0b1698,#0b1698 8%,#0b1698 16%,#0b1698 25%,#0b1698 35%,#0b1698 45%,#0b1698 55%,#0b1698 64%,#0b1698 72%,#0b199a 80%,#0a1d9d 86%,#0925a1 91%,#073eae 95%,#0657b6 98%,#0662b8)"></i><i style="left:600.0px;width:2.5px;background:linear-gradient(#0a1d9d,#0a1d9d 8%,#0a1d9d 16%,#0a1d9d 25%,#0a1d9d 35%,#0a1d9d 45%,#0a1d9d 55%,#0a1d9d 64%,#0a1d9d 72%,#0a219f 80%,#0927a2 86%,#092ea7 91%,#0746b1 95%,#065cb8 98%,#0666b8)"></i><i style="left:602.0px;width:2.5px;background:linear-gradient(#0748b2,#0748b2 8%,#0748b2 16%,#0748b2 25%,#0748b2 35%,#0748b2 45%,#0748b2 55%,#0748b2 64%,#0748b2 72%,#064cb3 80%,#0650b4 86%,#0654b5 91%,#0661b8 95%,#0670b3 98%,#067aa8)"></i><i style="left:604.0px;width:2.5px;background:linear-gradient(#064db3,#064db3 8%,#064db3 16%,#064db3 25%,#064db3 35%,#064db3 45%,#064db3 55%,#064db3 64%,#064db3 72%,#0650b4 80%,#0653b5 86%,#0657b6 91%,#0663b8 95%,#0672b1 98%,#067ca4)"></i><i style="left:606.0px;width:2.5px;background:linear-gradient(#0839ac,#0839ac 8%,#0839ac 16%,#0839ac 25%,#0839ac 35%,#0839ac 45%,#0839ac 55%,#0839ac 64%,#0839ac 72%,#083dae 80%,#0741af 86%,#0747b2 91%,#0659b7 95%,#0668b8 98%,#0672b1)"></i><i style="left:608.0px;width:2.5px;background:linear-gradient(#0653b5,#0653b5 8%,#0653b5 16%,#0653b5 25%,#0653b5 35%,#0653b5 45%,#0653b5 55%,#0653b5 64%,#0653b5 72%,#0656b6 80%,#0659b7 86%,#065db8 91%,#0667b8 95%,#0677ac 98%,#06819d)"></i><i style="left:610.0px;width:2.5px;background:linear-gradient(#073eae,#073eae 8%,#073eae 16%,#073eae 25%,#073eae 35%,#073eae 45%,#073eae 55%,#073eae 64%,#073eae 72%,#0742b0 80%,#0746b1 86%,#064cb3 91%,#065cb8 95%,#066ab6 98%,#0675af)"></i><i style="left:612.0px;width:2.5px;background:linear-gradient(#092da6,#092da6 8%,#092da6 16%,#092da6 25%,#092da6 35%,#092da6 45%,#092da6 55%,#092da6 64%,#092da6 72%,#0831a8 80%,#0837ab 86%,#083dae 91%,#0651b5 95%,#0663b8 98%,#066db5)"></i><i style="left:614.0px;width:2.5px;background:linear-gradient(#0923a0,#0923a0 8%,#0923a0 16%,#0923a0 25%,#0923a0 35%,#0923a0 45%,#0923a0 55%,#0923a0 64%,#0923a0 72%,#0927a2 80%,#092ca5 86%,#0834aa 91%,#064bb3 95%,#0660b8 98%,#0668b8)"></i><i style="left:616.0px;width:2.5px;background:linear-gradient(#073eae,#073eae 8%,#073eae 16%,#073eae 25%,#073eae 35%,#073eae 45%,#073eae 55%,#073eae 64%,#073eae 72%,#0741af 80%,#0745b1 86%,#064bb3 91%,#065cb7 95%,#066ab7 98%,#0675af)"></i><i style="left:618.0px;width:2.5px;background:linear-gradient(#064bb3,#064bb3 8%,#064bb3 16%,#064bb3 25%,#064bb3 35%,#064bb3 45%,#064bb3 55%,#064bb3 64%,#064bb3 72%,#064eb4 80%,#0651b5 86%,#0655b6 91%,#0663b8 95%,#0671b2 98%,#067ca5)"></i><i style="left:620.0px;width:2.5px;background:linear-gradient(#0a229f,#0a229f 8%,#0a229f 16%,#0a229f 25%,#0a229f 35%,#0a229f 45%,#0a229f 55%,#0a229f 64%,#0a229f 72%,#0926a2 80%,#092ba4 86%,#0832a9 91%,#064ab2 95%,#065fb8 98%,#0668b8)"></i><i style="left:622.0px;width:2.5px;background:linear-gradient(#0745b1,#0745b1 8%,#0745b1 16%,#0745b1 25%,#0745b1 35%,#0745b1 45%,#0745b1 55%,#0745b1 64%,#0745b1 72%,#0748b2 80%,#064cb3 86%,#0651b5 91%,#0660b8 95%,#066eb4 98%,#0679a9)"></i><i style="left:624.0px;width:2.5px;background:linear-gradient(#064fb4,#064fb4 8%,#064fb4 16%,#064fb4 25%,#064fb4 35%,#064fb4 45%,#064fb4 55%,#064fb4 64%,#064fb4 72%,#0651b5 80%,#0654b5 86%,#0658b7 91%,#0665b8 95%,#0674b0 98%,#067ea1)"></i><i style="left:626.0px;width:2.5px;background:linear-gradient(#0658b7,#0658b7 8%,#0658b7 16%,#0658b7 25%,#0658b7 35%,#0658b7 45%,#0658b7 55%,#0658b7 64%,#0658b7 72%,#065ab7 80%,#065db8 86%,#0660b8 91%,#066bb6 95%,#067ba6 98%,#068595)"></i><i style="left:628.0px;width:2.5px;background:linear-gradient(#0831a8,#0831a8 8%,#0831a8 16%,#0831a8 25%,#0831a8 35%,#0831a8 45%,#0831a8 55%,#0831a8 64%,#0831a8 72%,#0835aa 80%,#0839ac 86%,#073faf 91%,#0653b5 95%,#0665b8 98%,#066fb3)"></i><i style="left:630.0px;width:2.5px;background:linear-gradient(#0747b1,#0747b1 8%,#0747b1 16%,#0747b1 25%,#0747b1 35%,#0747b1 45%,#0747b1 55%,#0747b1 64%,#0747b1 72%,#0649b2 80%,#064db4 86%,#0652b5 91%,#0661b8 95%,#066fb3 98%,#067aa8)"></i><i style="left:632.0px;width:2.5px;background:linear-gradient(#064cb3,#064cb3 8%,#064cb3 16%,#064cb3 25%,#064cb3 35%,#064cb3 45%,#064cb3 55%,#064cb3 64%,#064cb3 72%,#064fb4 80%,#0651b5 86%,#0656b6 91%,#0663b8 95%,#0672b1 98%,#067da3)"></i><i style="left:634.0px;width:2.5px;background:linear-gradient(#0930a7,#0930a7 8%,#0930a7 16%,#0930a7 25%,#0930a7 35%,#0930a7 45%,#0930a7 55%,#0930a7 64%,#0930a7 72%,#0833a9 80%,#0838ac 86%,#073eae 91%,#0653b5 95%,#0664b8 98%,#066fb4)"></i><i style="left:636.0px;width:2.5px;background:linear-gradient(#083cad,#083cad 8%,#083cad 16%,#083cad 25%,#083cad 35%,#083cad 45%,#083cad 55%,#083cad 64%,#083cad 72%,#073eae 80%,#0742af 86%,#0748b2 91%,#065ab7 95%,#0669b7 98%,#0674b0)"></i><i style="left:638.0px;width:2.5px;background:linear-gradient(#0740af,#0740af 8%,#0740af 16%,#0740af 25%,#0740af 35%,#0740af 45%,#0740af 55%,#0740af 64%,#0740af 72%,#0743b0 80%,#0746b1 86%,#064cb3 91%,#065db8 95%,#066cb6 98%,#0677ac)"></i><i style="left:640.0px;width:2.5px;background:linear-gradient(#064bb3,#064bb3 8%,#064bb3 16%,#064bb3 25%,#064bb3 35%,#064bb3 45%,#064bb3 55%,#064bb3 64%,#064bb3 72%,#064db4 80%,#0650b5 86%,#0655b6 91%,#0662b8 95%,#0672b2 98%,#067da4)"></i><i style="left:642.0px;width:2.5px;background:linear-gradient(#0838ac,#0838ac 8%,#0838ac 16%,#0838ac 25%,#0838ac 35%,#0838ac 45%,#0838ac 55%,#0838ac 64%,#0838ac 72%,#083bad 80%,#073eae 86%,#0744b0 91%,#0657b6 95%,#0668b8 98%,#0672b1)"></i><i style="left:644.0px;width:2.5px;background:linear-gradient(#0746b1,#0746b1 8%,#0746b1 16%,#0746b1 25%,#0746b1 35%,#0746b1 45%,#0746b1 55%,#0746b1 64%,#0746b1 72%,#0748b2 80%,#064bb3 86%,#0650b5 91%,#0660b8 95%,#066fb4 98%,#067aa8)"></i><i style="left:646.0px;width:2.5px;background:linear-gradient(#0741af,#0741af 8%,#0741af 16%,#0741af 25%,#0741af 35%,#0741af 45%,#0741af 55%,#0741af 64%,#0741af 72%,#0743b0 80%,#0747b1 86%,#064db4 91%,#065eb8 95%,#066cb5 98%,#0677ab)"></i><i style="left:648.0px;width:2.5px;background:linear-gradient(#0653b5,#0653b5 8%,#0653b5 16%,#0653b5 25%,#0653b5 35%,#0653b5 45%,#0653b5 55%,#0653b5 64%,#0653b5 72%,#0655b6 80%,#0657b6 86%,#065bb7 91%,#0667b8 95%,#0677ac 98%,#06829b)"></i><i style="left:650.0px;width:2.5px;background:linear-gradient(#0747b1,#0747b1 8%,#0747b1 16%,#0747b1 25%,#0747b1 35%,#0747b1 45%,#0747b1 55%,#0747b1 64%,#0747b1 72%,#0649b2 80%,#064cb3 86%,#0651b5 91%,#0660b8 95%,#066fb3 98%,#067ba7)"></i><i style="left:652.0px;width:2.5px;background:linear-gradient(#073faf,#073faf 8%,#073faf 16%,#073faf 25%,#073faf 35%,#073faf 45%,#073faf 55%,#073faf 64%,#073faf 72%,#0741af 80%,#0744b0 86%,#064ab3 91%,#065cb7 95%,#066bb6 98%,#0676ad)"></i><i style="left:654.0px;width:2.5px;background:linear-gradient(#0a1d9d,#0a1d9d 8%,#0a1d9d 16%,#0a1d9d 25%,#0a1d9d 35%,#0a1d9d 45%,#0a1d9d 55%,#0a1d9d 64%,#0a1d9d 72%,#0a1f9e 80%,#0924a0 86%,#092ba5 91%,#0745b1 95%,#065eb8 98%,#0667b8)"></i><i style="left:656.0px;width:2.5px;background:linear-gradient(#0745b1,#0745b1 8%,#0745b1 16%,#0745b1 25%,#0745b1 35%,#0745b1 45%,#0745b1 55%,#0745b1 64%,#0745b1 72%,#0747b1 80%,#064ab3 86%,#0650b4 91%,#0660b8 95%,#066fb4 98%,#067aa8)"></i><i style="left:658.0px;width:2.5px;background:linear-gradient(#064ab3,#064ab3 8%,#064ab3 16%,#064ab3 25%,#064ab3 35%,#064ab3 45%,#064ab3 55%,#064ab3 64%,#064ab3 72%,#064cb3 80%,#064fb4 86%,#0653b5 91%,#0662b8 95%,#0671b2 98%,#067da4)"></i><i style="left:660.0px;width:2.5px;background:linear-gradient(#0650b5,#0650b5 8%,#0650b5 16%,#0650b5 25%,#0650b5 35%,#0650b5 45%,#0650b5 55%,#0650b5 64%,#0650b5 72%,#0651b5 80%,#0654b5 86%,#0658b6 91%,#0665b8 95%,#0675af 98%,#06809e)"></i><i style="left:662.0px;width:2.5px;background:linear-gradient(#0746b1,#0746b1 8%,#0746b1 16%,#0746b1 25%,#0746b1 35%,#0746b1 45%,#0746b1 55%,#0746b1 64%,#0746b1 72%,#0748b2 80%,#064bb3 86%,#0650b5 91%,#0660b8 95%,#066fb3 98%,#067ba7)"></i><i style="left:664.0px;width:2.5px;background:linear-gradient(#064bb3,#064bb3 8%,#064bb3 16%,#064bb3 25%,#064bb3 35%,#064bb3 45%,#064bb3 55%,#064bb3 64%,#064bb3 72%,#064db4 80%,#064fb4 86%,#0654b5 91%,#0662b8 95%,#0672b1 98%,#067da3)"></i><i style="left:666.0px;width:2.5px;background:linear-gradient(#065fb8,#065fb8 8%,#065fb8 16%,#065fb8 25%,#065fb8 35%,#065fb8 45%,#065fb8 55%,#065fb8 64%,#065fb8 72%,#065fb8 80%,#0661b8 86%,#0663b8 91%,#066fb3 95%,#06809e 98%,#068a8a)"></i><i style="left:668.0px;width:2.5px;background:linear-gradient(#0651b5,#0651b5 8%,#0651b5 16%,#0651b5 25%,#0651b5 35%,#0651b5 45%,#0651b5 55%,#0651b5 64%,#0651b5 72%,#0652b5 80%,#0654b5 86%,#0658b7 91%,#0665b8 95%,#0676ae 98%,#06819d)"></i><i style="left:670.0px;width:2.5px;background:linear-gradient(#083cad,#083cad 8%,#083cad 16%,#083cad 25%,#083cad 35%,#083cad 45%,#083cad 55%,#083cad 64%,#083cad 72%,#083dae 80%,#0740af 86%,#0746b1 91%,#0659b7 95%,#066ab7 98%,#0675ae)"></i><i style="left:672.0px;width:2.5px;background:linear-gradient(#0649b2,#0649b2 8%,#0649b2 16%,#0649b2 25%,#0649b2 35%,#0649b2 45%,#0649b2 55%,#0649b2 64%,#0649b2 72%,#064ab2 80%,#064db4 86%,#0651b5 91%,#0661b8 95%,#0671b2 98%,#067ca4)"></i><i style="left:674.0px;width:2.5px;background:linear-gradient(#064bb3,#064bb3 8%,#064bb3 16%,#064bb3 25%,#064bb3 35%,#064bb3 45%,#064bb3 55%,#064bb3 64%,#064bb3 72%,#064cb3 80%,#064fb4 86%,#0653b5 91%,#0662b8 95%,#0672b1 98%,#067ea2)"></i><i style="left:676.0px;width:2.5px;background:linear-gradient(#0746b1,#0746b1 8%,#0746b1 16%,#0746b1 25%,#0746b1 35%,#0746b1 45%,#0746b1 55%,#0746b1 64%,#0746b1 72%,#0747b1 80%,#064ab3 86%,#064fb4 91%,#0660b8 95%,#066fb3 98%,#067ba6)"></i><i style="left:678.0px;width:2.5px;background:linear-gradient(#0741af,#0741af 8%,#0741af 16%,#0741af 25%,#0741af 35%,#0741af 45%,#0741af 55%,#0741af 64%,#0741af 72%,#0742b0 80%,#0745b1 86%,#064bb3 91%,#065db8 95%,#066db5 98%,#0678aa)"></i><i style="left:680.0px;width:2.5px;background:linear-gradient(#0655b6,#0655b6 8%,#0655b6 16%,#0655b6 25%,#0655b6 35%,#0655b6 45%,#0655b6 55%,#0655b6 64%,#0655b6 72%,#0655b6 80%,#0657b6 86%,#065cb7 91%,#0667b8 95%,#0679a9 98%,#068497)"></i><i style="left:682.0px;width:2.5px;background:linear-gradient(#064db3,#064db3 8%,#064db3 16%,#064db3 25%,#064db3 35%,#064db3 45%,#064db3 55%,#064db3 64%,#064db3 72%,#064db4 80%,#064fb4 86%,#0654b5 91%,#0663b8 95%,#0673b1 98%,#067fa1)"></i><i style="left:684.0px;width:2.5px;background:linear-gradient(#0741af,#0741af 8%,#0741af 16%,#0741af 25%,#0741af 35%,#0741af 45%,#0741af 55%,#0741af 64%,#0741af 72%,#0742b0 80%,#0745b1 86%,#064bb3 91%,#065db8 95%,#066db5 98%,#0678aa)"></i><i style="left:686.0px;width:2.5px;background:linear-gradient(#0924a1,#0924a1 8%,#0924a1 16%,#0924a1 25%,#0924a1 35%,#0924a1 45%,#0924a1 55%,#0924a1 64%,#0924a1 72%,#0925a1 80%,#0929a3 86%,#0930a8 91%,#064ab3 95%,#0661b8 98%,#066bb6)"></i><i style="left:688.0px;width:2.5px;background:linear-gradient(#092fa7,#092fa7 8%,#092fa7 16%,#092fa7 25%,#092fa7 35%,#092fa7 45%,#092fa7 55%,#092fa7 64%,#092fa7 72%,#0930a7 80%,#0833a9 86%,#083aad 91%,#0651b5 95%,#0665b8 98%,#0670b3)"></i><i style="left:690.0px;width:2.5px;background:linear-gradient(#0929a3,#0929a3 8%,#0929a3 16%,#0929a3 25%,#0929a3 35%,#0929a3 45%,#0929a3 55%,#0929a3 64%,#0929a3 72%,#0929a4 80%,#092da6 86%,#0835aa 91%,#064db4 95%,#0663b8 98%,#066db5)"></i><i style="left:692.0px;width:2.5px;background:linear-gradient(#073fae,#073fae 8%,#073fae 16%,#073fae 25%,#073fae 35%,#073fae 45%,#073fae 55%,#073fae 64%,#073fae 72%,#073faf 80%,#0742b0 86%,#0748b2 91%,#065bb7 95%,#066cb6 98%,#0677ab)"></i><i style="left:694.0px;width:2.5px;background:linear-gradient(#0834aa,#0834aa 8%,#0834aa 16%,#0834aa 25%,#0834aa 35%,#0834aa 45%,#0834aa 55%,#0834aa 64%,#0834aa 72%,#0834aa 80%,#0838ac 86%,#073eae 91%,#0654b5 95%,#0667b8 98%,#0672b1)"></i><i style="left:696.0px;width:2.5px;background:linear-gradient(#0649b2,#0649b2 8%,#0649b2 16%,#0649b2 25%,#0649b2 35%,#0649b2 45%,#0649b2 55%,#0649b2 64%,#0649b2 72%,#0649b2 80%,#064cb3 86%,#0651b5 91%,#0661b8 95%,#0671b2 98%,#067da3)"></i><i style="left:698.0px;width:2.5px;background:linear-gradient(#064eb4,#064eb4 8%,#064eb4 16%,#064eb4 25%,#064eb4 35%,#064eb4 45%,#064eb4 55%,#064eb4 64%,#064eb4 72%,#064eb4 80%,#0650b4 86%,#0654b6 91%,#0663b8 95%,#0674b0 98%,#06809f)"></i><i style="left:700.0px;width:2.5px;background:linear-gradient(#0741af,#0741af 8%,#0741af 16%,#0741af 25%,#0741af 35%,#0741af 45%,#0741af 55%,#0741af 64%,#0741af 72%,#0741af 80%,#0743b0 86%,#064ab2 91%,#065db8 95%,#066db5 98%,#0679a9)"></i><i style="left:702.0px;width:2.5px;background:linear-gradient(#0a23a0,#0a23a0 8%,#0a23a0 16%,#0a23a0 25%,#0a23a0 35%,#0a23a0 45%,#0a23a0 55%,#0a23a0 64%,#0a23a0 72%,#0a23a0 80%,#0926a2 86%,#092ea6 91%,#0748b2 95%,#0661b8 98%,#066bb6)"></i><i style="left:704.0px;width:2.5px;background:linear-gradient(#092fa7,#092fa7 8%,#092fa7 16%,#092fa7 25%,#092fa7 35%,#092fa7 45%,#092fa7 55%,#092fa7 64%,#092fa7 72%,#092fa7 80%,#0832a9 86%,#083aad 91%,#0651b5 95%,#0665b8 98%,#0671b2)"></i><i style="left:706.0px;width:2.5px;background:linear-gradient(#0a23a0,#0a23a0 8%,#0a23a0 16%,#0a23a0 25%,#0a23a0 35%,#0a23a0 45%,#0a23a0 55%,#0a23a0 64%,#0a23a0 72%,#0923a0 80%,#0926a2 86%,#092ea6 91%,#0649b2 95%,#0661b8 98%,#066cb6)"></i><i style="left:708.0px;width:2.5px;background:linear-gradient(#0838ac,#0838ac 8%,#0838ac 16%,#0838ac 25%,#0838ac 35%,#0838ac 45%,#0838ac 55%,#0838ac 64%,#0838ac 72%,#0838ac 80%,#083bad 86%,#0741af 91%,#0657b6 95%,#0669b7 98%,#0675af)"></i><i style="left:710.0px;width:2.5px;background:linear-gradient(#0743b0,#0743b0 8%,#0743b0 16%,#0743b0 25%,#0743b0 35%,#0743b0 45%,#0743b0 55%,#0743b0 64%,#0743b0 72%,#0743b0 80%,#0746b1 86%,#064cb3 91%,#065fb8 95%,#066fb3 98%,#067ba6)"></i><i style="left:712.0px;width:2.5px;background:linear-gradient(#065db8,#065db8 8%,#065db8 16%,#065db8 25%,#065db8 35%,#065db8 45%,#065db8 55%,#065db8 64%,#065db8 72%,#065db8 80%,#065fb8 86%,#0662b8 91%,#066eb4 95%,#06819e 98%,#068a88)"></i><i style="left:714.0px;width:2.5px;background:linear-gradient(#0656b6,#0656b6 8%,#0656b6 16%,#0656b6 25%,#0656b6 35%,#0656b6 45%,#0656b6 55%,#0656b6 64%,#0656b6 72%,#0656b6 80%,#0658b7 86%,#065db8 91%,#0669b7 95%,#067ca5 98%,#068791)"></i><i style="left:716.0px;width:2.5px;background:linear-gradient(#0744b0,#0744b0 8%,#0744b0 16%,#0744b0 25%,#0744b0 35%,#0744b0 45%,#0744b0 55%,#0744b0 64%,#0744b0 72%,#0744b0 80%,#0747b1 86%,#064eb4 91%,#065fb8 95%,#0670b3 98%,#067da4)"></i><i style="left:718.0px;width:2.5px;background:linear-gradient(#0659b7,#0659b7 8%,#0659b7 16%,#0659b7 25%,#0659b7 35%,#0659b7 45%,#0659b7 55%,#0659b7 64%,#0659b7 72%,#0659b7 80%,#065cb7 86%,#0660b8 91%,#066cb6 95%,#067ea1 98%,#06898c)"></i><i style="left:720.0px;width:2.5px;background:linear-gradient(#073fae,#073fae 8%,#073fae 16%,#073fae 25%,#073fae 35%,#073fae 45%,#073fae 55%,#073fae 64%,#073fae 72%,#073faf 80%,#0743b0 86%,#0649b2 91%,#065db8 95%,#066eb4 98%,#067ba7)"></i><i style="left:722.0px;width:2.5px;background:linear-gradient(#0930a7,#0930a7 8%,#0930a7 16%,#0930a7 25%,#0930a7 35%,#0930a7 45%,#0930a7 55%,#0930a7 64%,#0930a7 72%,#0931a8 80%,#0835aa 86%,#083cae 91%,#0654b5 95%,#0667b8 98%,#0674b0)"></i><i style="left:724.0px;width:2.5px;background:linear-gradient(#083bad,#083bad 8%,#083bad 16%,#083bad 25%,#083bad 35%,#083bad 45%,#083bad 55%,#083bad 64%,#083bad 72%,#083cad 80%,#073fae 86%,#0746b1 91%,#065bb7 95%,#066cb5 98%,#0679a9)"></i><i style="left:726.0px;width:2.5px;background:linear-gradient(#0836ab,#0836ab 8%,#0836ab 16%,#0836ab 25%,#0836ab 35%,#0836ab 45%,#0836ab 55%,#0836ab 64%,#0836ab 72%,#0837ac 80%,#083bad 86%,#0742b0 91%,#0658b6 95%,#066ab6 98%,#0677ac)"></i><i style="left:728.0px;width:2.5px;background:linear-gradient(#064db4,#064db4 8%,#064db4 16%,#064db4 25%,#064db4 35%,#064db4 45%,#064db4 55%,#064db4 64%,#064db4 72%,#064eb4 80%,#0650b5 86%,#0655b6 91%,#0665b8 95%,#0677ac 98%,#068399)"></i><i style="left:730.0px;width:2.5px;background:linear-gradient(#0743b0,#0743b0 8%,#0743b0 16%,#0743b0 25%,#0743b0 35%,#0743b0 45%,#0743b0 55%,#0743b0 64%,#0743b0 72%,#0744b0 80%,#0747b2 86%,#064eb4 91%,#0660b8 95%,#0672b2 98%,#067ea1)"></i><i style="left:732.0px;width:2.5px;background:linear-gradient(#064fb4,#064fb4 8%,#064fb4 16%,#064fb4 25%,#064fb4 35%,#064fb4 45%,#064fb4 55%,#064fb4 64%,#064fb4 72%,#0650b4 80%,#0652b5 86%,#0657b6 91%,#0666b8 95%,#0679a9 98%,#068596)"></i><i style="left:734.0px;width:2.5px;background:linear-gradient(#0748b2,#0748b2 8%,#0748b2 16%,#0748b2 25%,#0748b2 35%,#0748b2 45%,#0748b2 55%,#0748b2 64%,#0748b2 72%,#0649b2 80%,#064db4 86%,#0652b5 91%,#0663b8 95%,#0675af 98%,#06819c)"></i><i style="left:736.0px;width:2.5px;background:linear-gradient(#0746b1,#0746b1 8%,#0746b1 16%,#0746b1 25%,#0746b1 35%,#0746b1 45%,#0746b1 55%,#0746b1 64%,#0746b1 72%,#0747b1 80%,#064ab3 86%,#0651b5 91%,#0662b8 95%,#0674b0 98%,#06819e)"></i><i style="left:738.0px;width:2.5px;background:linear-gradient(#0652b5,#0652b5 8%,#0652b5 16%,#0652b5 25%,#0652b5 35%,#0652b5 45%,#0652b5 55%,#0652b5 64%,#0652b5 72%,#0653b5 80%,#0655b6 86%,#065ab7 91%,#0668b8 95%,#067ba6 98%,#068791)"></i><i style="left:740.0px;width:2.5px;background:linear-gradient(#073eae,#073eae 8%,#073eae 16%,#073eae 25%,#073eae 35%,#073eae 45%,#073eae 55%,#073eae 64%,#073eae 72%,#073faf 80%,#0743b0 86%,#064ab3 91%,#065eb8 95%,#0670b3 98%,#067da3)"></i><i style="left:742.0px;width:2.5px;background:linear-gradient(#073faf,#073faf 8%,#073faf 16%,#073faf 25%,#073faf 35%,#073faf 45%,#073faf 55%,#073faf 64%,#073faf 72%,#0740af 80%,#0744b0 86%,#064cb3 91%,#065fb8 95%,#0671b2 98%,#067ea2)"></i><i style="left:744.0px;width:2.5px;background:linear-gradient(#0742b0,#0742b0 8%,#0742b0 16%,#0742b0 25%,#0742b0 35%,#0742b0 45%,#0742b0 55%,#0742b0 64%,#0742b0 72%,#0744b0 80%,#0747b2 86%,#064fb4 91%,#0661b8 95%,#0673b1 98%,#06809f)"></i><i style="left:746.0px;width:2.5px;background:linear-gradient(#0834aa,#0834aa 8%,#0834aa 16%,#0834aa 25%,#0834aa 35%,#0834aa 45%,#0834aa 55%,#0834aa 64%,#0834aa 72%,#0836ab 80%,#083aad 86%,#0742b0 91%,#0659b7 95%,#066cb5 98%,#0679a9)"></i><i style="left:748.0px;width:2.5px;background:linear-gradient(#0745b1,#0745b1 8%,#0745b1 16%,#0745b1 25%,#0745b1 35%,#0745b1 45%,#0745b1 55%,#0745b1 64%,#0745b1 72%,#0746b1 80%,#064ab3 86%,#0651b5 91%,#0662b8 95%,#0675af 98%,#06829c)"></i><i style="left:750.0px;width:2.5px;background:linear-gradient(#073fae,#073fae 8%,#073fae 16%,#073fae 25%,#073fae 35%,#073fae 45%,#073fae 55%,#073fae 64%,#073fae 72%,#0740af 80%,#0744b0 86%,#064cb3 91%,#065fb8 95%,#0672b2 98%,#067fa1)"></i><i style="left:752.0px;width:2.5px;background:linear-gradient(#0748b2,#0748b2 8%,#0748b2 16%,#0748b2 25%,#0748b2 35%,#0748b2 45%,#0748b2 55%,#0748b2 64%,#0748b2 72%,#064ab3 80%,#064eb4 86%,#0654b5 91%,#0664b8 95%,#0677ac 98%,#068497)"></i><i style="left:754.0px;width:2.5px;background:linear-gradient(#0744b0,#0744b0 8%,#0744b0 16%,#0744b0 25%,#0744b0 35%,#0744b0 45%,#0744b0 55%,#0744b0 64%,#0744b0 72%,#0746b1 80%,#064ab3 86%,#0651b5 91%,#0662b8 95%,#0676ad 98%,#068398)"></i><i style="left:756.0px;width:2.5px;background:linear-gradient(#0927a2,#0927a2 8%,#0927a2 16%,#0927a2 25%,#0927a2 35%,#0927a2 45%,#0927a2 55%,#0927a2 64%,#0927a2 72%,#0929a4 80%,#092ea7 86%,#0838ac 91%,#0652b5 95%,#0669b7 98%,#0678aa)"></i><i style="left:758.0px;width:2.5px;background:linear-gradient(#0649b2,#0649b2 8%,#0649b2 16%,#0649b2 25%,#0649b2 35%,#0649b2 45%,#0649b2 55%,#0649b2 64%,#0649b2 72%,#064bb3 80%,#064fb4 86%,#0654b6 91%,#0665b8 95%,#067ba6 98%,#06898d)"></i><i style="left:760.0px;width:2.5px;background:linear-gradient(#0659b7,#0659b7 8%,#0659b7 16%,#0659b7 25%,#0659b7 35%,#0659b7 45%,#0659b7 55%,#0659b7 64%,#0659b7 72%,#065bb7 80%,#065eb8 86%,#0662b8 91%,#066fb3 95%,#068692 98%,#069074)"></i><i style="left:762.0px;width:2.5px;background:linear-gradient(#0929a3,#0929a3 8%,#0929a3 16%,#0929a3 25%,#0929a3 35%,#0929a3 45%,#0929a3 55%,#0929a3 64%,#0929a3 72%,#092ba5 80%,#0931a8 86%,#083aad 91%,#0654b6 95%,#066eb4 98%,#067fa1)"></i><i style="left:764.0px;width:2.5px;background:linear-gradient(#0835ab,#0835ab 8%,#0835ab 16%,#0835ab 25%,#0835ab 35%,#0835ab 45%,#0835ab 55%,#0835ab 64%,#0835ab 72%,#0838ac 80%,#083dae 86%,#0745b1 91%,#065cb7 95%,#0675af 98%,#068594)"></i><i style="left:766.0px;width:2.5px;background:linear-gradient(#083bad,#083bad 8%,#083bad 16%,#083bad 25%,#083bad 35%,#083bad 45%,#083bad 55%,#083bad 64%,#083bad 72%,#073eae 80%,#0742b0 86%,#064ab3 91%,#065fb8 95%,#0679a9 98%,#06898b)"></i><i style="left:768.0px;width:2.5px;background:linear-gradient(#0927a2,#0927a2 8%,#0927a2 16%,#0927a2 25%,#0927a2 35%,#0927a2 45%,#0927a2 55%,#0927a2 64%,#0927a2 72%,#092aa4 80%,#0930a7 86%,#083aad 91%,#0654b5 95%,#0671b2 98%,#068398)"></i><i style="left:770.0px;width:2.5px;background:linear-gradient(#0839ac,#0839ac 8%,#0839ac 16%,#0839ac 25%,#0839ac 35%,#0839ac 45%,#0839ac 55%,#0839ac 64%,#0839ac 72%,#083bad 80%,#0740af 86%,#0748b2 91%,#065eb8 95%,#067aa7 98%,#068b87)"></i><i style="left:772.0px;width:2.5px;background:linear-gradient(#073eae,#073eae 8%,#073eae 16%,#073eae 25%,#073eae 35%,#073eae 45%,#073eae 55%,#073eae 64%,#073eae 72%,#0741af 80%,#0745b1 86%,#064db4 91%,#0661b8 95%,#067ea2 98%,#068d7e)"></i><i style="left:774.0px;width:2.5px;background:linear-gradient(#0926a2,#0926a2 8%,#0926a2 16%,#0926a2 25%,#0926a2 35%,#0926a2 45%,#0926a2 55%,#0926a2 64%,#0926a2 72%,#092aa4 80%,#0930a7 86%,#083aad 91%,#0654b6 95%,#0674af 98%,#06888e)"></i><i style="left:776.0px;width:2.5px;background:linear-gradient(#083cad,#083cad 8%,#083cad 16%,#083cad 25%,#083cad 35%,#083cad 45%,#083cad 55%,#083cad 64%,#083cad 72%,#073fae 80%,#0743b0 86%,#064cb3 91%,#0660b8 95%,#067fa0 98%,#068f79)"></i><i style="left:778.0px;width:2.5px;background:linear-gradient(#0742af,#0742af 8%,#0742af 16%,#0742af 25%,#0742af 35%,#0742af 45%,#0742af 55%,#0742af 64%,#0742af 72%,#0744b0 80%,#0649b2 86%,#0651b5 91%,#0663b8 95%,#068398 98%,#069170)"></i><i style="left:780.0px;width:2.5px;background:linear-gradient(#0924a1,#0924a1 8%,#0924a1 16%,#0924a1 25%,#0924a1 35%,#0924a1 45%,#0924a1 55%,#0924a1 64%,#0924a1 72%,#0928a3 80%,#092ea6 86%,#0839ac 91%,#0654b5 95%,#0677ab 98%,#068b85)"></i><i style="left:782.0px;width:2.5px;background:linear-gradient(#083cae,#083cae 8%,#083cae 16%,#083cae 25%,#083cae 35%,#083cae 45%,#083cae 55%,#083cae 64%,#083cae 72%,#073faf 80%,#0744b0 86%,#064db4 91%,#0661b8 95%,#068399 98%,#07926d)"></i><i style="left:784.0px;width:2.5px;background:linear-gradient(#0747b2,#0747b2 8%,#0747b2 16%,#0747b2 25%,#0747b2 35%,#0747b2 45%,#0747b2 55%,#0747b2 64%,#0747b2 72%,#064ab3 80%,#064fb4 86%,#0655b6 91%,#0666b8 95%,#06898d 98%,#08965f)"></i><i style="left:786.0px;width:2.5px;background:linear-gradient(#0831a8,#0831a8 8%,#0831a8 16%,#0831a8 25%,#0831a8 35%,#0831a8 45%,#0831a8 55%,#0831a8 64%,#0831a8 72%,#0835aa 80%,#083bad 86%,#0744b0 91%,#065cb7 95%,#06819e 98%,#069170)"></i><i style="left:788.0px;width:2.5px;background:linear-gradient(#0742b0,#0742b0 8%,#0742b0 16%,#0742b0 25%,#0742b0 35%,#0742b0 45%,#0742b0 55%,#0742b0 64%,#0742b0 72%,#0745b1 80%,#064ab3 86%,#0652b5 91%,#0664b8 95%,#06898d 98%,#08965d)"></i><i style="left:790.0px;width:2.5px;background:linear-gradient(#0744b0,#0744b0 8%,#0744b0 16%,#0744b0 25%,#0744b0 35%,#0744b0 45%,#0744b0 55%,#0744b0 64%,#0744b0 72%,#0748b2 80%,#064db4 86%,#0653b5 91%,#0665b8 95%,#068a89 98%,#09975a)"></i><i style="left:792.0px;width:2.5px;background:linear-gradient(#0743b0,#0743b0 8%,#0743b0 16%,#0743b0 25%,#0743b0 35%,#0743b0 45%,#0743b0 55%,#0743b0 64%,#0743b0 72%,#0746b1 80%,#064bb3 86%,#0653b5 91%,#0664b8 95%,#068b88 98%,#099858)"></i><i style="left:794.0px;width:2.5px;background:linear-gradient(#0650b5,#0650b5 8%,#0650b5 16%,#0650b5 25%,#0650b5 35%,#0650b5 45%,#0650b5 55%,#0650b5 64%,#0650b5 72%,#0653b5 80%,#0657b6 86%,#065db8 91%,#066cb6 95%,#068f77 98%,#0a9b4d)"></i><i style="left:796.0px;width:2.5px;background:linear-gradient(#064eb4,#064eb4 8%,#064eb4 16%,#064eb4 25%,#064eb4 35%,#064eb4 45%,#064eb4 55%,#064eb4 64%,#064eb4 72%,#0650b5 80%,#0654b6 86%,#065bb7 91%,#066ab7 95%,#068f78 98%,#0a9b4d)"></i><i style="left:798.0px;width:2.5px;background:linear-gradient(#083dae,#083dae 8%,#083dae 16%,#083dae 25%,#083dae 35%,#083dae 45%,#083dae 55%,#083dae 64%,#083dae 72%,#0741af 80%,#0746b1 86%,#064fb4 91%,#0662b8 95%,#068b86 98%,#099955)"></i><i style="left:800.0px;width:2.5px;background:linear-gradient(#0745b1,#0745b1 8%,#0745b1 16%,#0745b1 25%,#0745b1 35%,#0745b1 45%,#0745b1 55%,#0745b1 64%,#0745b1 72%,#0649b2 80%,#064eb4 86%,#0655b6 91%,#0666b8 95%,#068e7c 98%,#0a9b4e)"></i><i style="left:802.0px;width:2.5px;background:linear-gradient(#064ab3,#064ab3 8%,#064ab3 16%,#064ab3 25%,#064ab3 35%,#064ab3 45%,#064ab3 55%,#064ab3 64%,#064ab3 72%,#064eb4 80%,#0652b5 86%,#0659b7 91%,#0668b8 95%,#069075 98%,#0b9d48)"></i><i style="left:804.0px;width:2.5px;background:linear-gradient(#0746b1,#0746b1 8%,#0746b1 16%,#0746b1 25%,#0746b1 35%,#0746b1 45%,#0746b1 55%,#0746b1 64%,#0747b1 72%,#064ab3 80%,#064fb4 86%,#0656b6 91%,#0667b8 95%,#068f78 98%,#0b9c4a)"></i><i style="left:806.0px;width:2.5px;background:linear-gradient(#092da6,#092da6 8%,#092da6 16%,#092da6 25%,#092da6 35%,#092da6 45%,#092da6 55%,#092da6 64%,#092ea6 72%,#0832a9 80%,#0839ac 86%,#0742b0 91%,#065cb7 95%,#06888e 98%,#099858)"></i><i style="left:808.0px;width:2.5px;background:linear-gradient(#0740af,#0740af 8%,#0740af 16%,#0740af 25%,#0740af 35%,#0740af 45%,#0740af 55%,#0740af 64%,#0740af 72%,#0744b0 80%,#064ab2 86%,#0652b5 91%,#0664b8 95%,#068d7e 98%,#0a9b4e)"></i><i style="left:810.0px;width:2.5px;background:linear-gradient(#0747b2,#0747b2 8%,#0747b2 16%,#0747b2 25%,#0747b2 35%,#0747b2 45%,#0747b2 55%,#0748b2 64%,#0748b2 72%,#064cb3 80%,#0650b5 86%,#0657b6 91%,#0668b8 95%,#068f76 98%,#0b9d49)"></i><i style="left:812.0px;width:2.5px;background:linear-gradient(#073eae,#073eae 8%,#073eae 16%,#073eae 25%,#073eae 35%,#073eae 45%,#073eae 55%,#073eae 64%,#073eae 72%,#0742b0 80%,#0748b2 86%,#0650b5 91%,#0664b8 95%,#068d7f 98%,#0a9b4f)"></i><i style="left:814.0px;width:2.5px;background:linear-gradient(#064cb3,#064cb3 8%,#064cb3 16%,#064cb3 25%,#064cb3 35%,#064cb3 45%,#064cb3 55%,#064db4 64%,#064db4 72%,#0650b5 80%,#0654b6 86%,#065bb7 91%,#066bb6 95%,#069170 98%,#0b9e45)"></i><i style="left:816.0px;width:2.5px;background:linear-gradient(#064cb3,#064cb3 8%,#064cb3 16%,#064cb3 25%,#064cb3 35%,#064cb3 45%,#064cb3 55%,#064cb3 64%,#064db4 72%,#0650b4 80%,#0654b5 86%,#065bb7 91%,#066bb6 95%,#069171 98%,#0b9e46)"></i><i style="left:818.0px;width:2.5px;background:linear-gradient(#0743b0,#0743b0 8%,#0743b0 16%,#0743b0 25%,#0743b0 35%,#0743b0 45%,#0743b0 55%,#0743b0 64%,#0744b0 72%,#0748b2 80%,#064db4 86%,#0655b6 91%,#0666b8 95%,#068f79 98%,#0b9c4b)"></i><i style="left:820.0px;width:2.5px;background:linear-gradient(#064cb3,#064cb3 8%,#064cb3 16%,#064cb3 25%,#064cb3 35%,#064cb3 45%,#064cb3 55%,#064cb3 64%,#064db4 72%,#0650b5 80%,#0654b6 86%,#065cb7 91%,#066bb6 95%,#06916f 98%,#0b9e45)"></i><i style="left:822.0px;width:2.5px;background:linear-gradient(#0746b1,#0746b1 8%,#0746b1 16%,#0746b1 25%,#0746b1 35%,#0746b1 45%,#0746b1 55%,#0747b1 64%,#0748b2 72%,#064bb3 80%,#0650b5 86%,#0658b6 91%,#0668b8 95%,#069075 98%,#0b9d48)"></i><i style="left:824.0px;width:2.5px;background:linear-gradient(#0658b6,#0658b6 8%,#0658b6 16%,#0658b6 25%,#0658b6 35%,#0658b6 45%,#0658b6 55%,#0658b7 64%,#0659b7 72%,#065cb7 80%,#065fb8 86%,#0664b8 91%,#0674b0 95%,#08965f 98%,#0ca23b)"></i><i style="left:826.0px;width:2.5px;background:linear-gradient(#0746b1,#0746b1 8%,#0746b1 16%,#0746b1 25%,#0746b1 35%,#0746b1 45%,#0746b1 55%,#0747b1 64%,#0748b2 72%,#064cb3 80%,#0651b5 86%,#0658b7 91%,#0669b8 95%,#069074 98%,#0b9d47)"></i><i style="left:828.0px;width:2.5px;background:linear-gradient(#083bad,#083bad 8%,#083bad 16%,#083bad 25%,#083bad 35%,#083bad 45%,#083bad 55%,#083bad 64%,#083cae 72%,#0740af 80%,#0746b1 86%,#0650b4 91%,#0663b8 95%,#068d7f 98%,#0a9b4e)"></i><i style="left:830.0px;width:2.5px;background:linear-gradient(#083aad,#083aad 8%,#083aad 16%,#083aad 25%,#083aad 35%,#083aad 45%,#083aad 55%,#083bad 64%,#083cad 72%,#0740af 80%,#0746b1 86%,#064fb4 91%,#0663b8 95%,#068d80 98%,#0a9b4f)"></i><i style="left:832.0px;width:2.5px;background:linear-gradient(#083bad,#083bad 8%,#083bad 16%,#083bad 25%,#083bad 35%,#083bad 45%,#083bad 55%,#083bad 64%,#083dae 72%,#0741af 80%,#0747b1 86%,#0650b5 91%,#0664b8 95%,#068d7e 98%,#0a9b4e)"></i><i style="left:834.0px;width:2.5px;background:linear-gradient(#0741af,#0741af 8%,#0741af 16%,#0741af 25%,#0741af 35%,#0741af 45%,#0741af 55%,#0742b0 64%,#0743b0 72%,#0747b1 80%,#064db4 86%,#0655b6 91%,#0667b8 95%,#068f78 98%,#0b9d4a)"></i><i style="left:836.0px;width:2.5px;background:linear-gradient(#083dae,#083dae 8%,#083dae 16%,#083dae 25%,#083dae 35%,#083dae 45%,#083dae 55%,#073eae 64%,#0740af 72%,#0743b0 80%,#0649b2 86%,#0652b5 91%,#0665b8 95%,#068e7b 98%,#0a9c4c)"></i><i style="left:838.0px;width:2.5px;background:linear-gradient(#0927a2,#0927a2 8%,#0927a2 16%,#0927a2 25%,#0927a2 35%,#0927a2 45%,#0927a2 55%,#0928a3 64%,#092aa4 72%,#092fa7 80%,#0836ab 86%,#0741af 91%,#065cb7 95%,#06888d 98%,#099857)"></i><i style="left:840.0px;width:2.5px;background:linear-gradient(#0a219f,#0a219f 8%,#0a219f 16%,#0a219f 25%,#0a219f 35%,#0a219f 45%,#0a219f 55%,#0a23a0 64%,#0925a1 72%,#0929a4 80%,#0831a8 86%,#083dae 91%,#0659b7 95%,#068791 98%,#09975a)"></i><i style="left:842.0px;width:2.5px;background:linear-gradient(#0831a8,#0831a8 8%,#0831a8 16%,#0831a8 25%,#0831a8 35%,#0831a8 45%,#0831a8 55%,#0832a9 64%,#0835aa 72%,#0839ac 80%,#073faf 86%,#064ab3 91%,#0661b8 95%,#068b85 98%,#0a9a52)"></i><i style="left:844.0px;width:2.5px;background:linear-gradient(#0834aa,#0834aa 8%,#0834aa 16%,#0834aa 25%,#0834aa 35%,#0834aa 45%,#0834aa 55%,#0836ab 64%,#0838ac 72%,#083cad 80%,#0742b0 86%,#064db4 91%,#0662b8 95%,#068c82 98%,#0a9a50)"></i><i style="left:846.0px;width:2.5px;background:linear-gradient(#0927a2,#0927a2 8%,#0927a2 16%,#0927a2 25%,#0927a2 35%,#0927a2 45%,#0927a2 55%,#0929a3 64%,#092ba5 72%,#0930a7 80%,#0838ac 86%,#0743b0 91%,#065db8 95%,#06898c 98%,#099856)"></i><i style="left:848.0px;width:2.5px;background:linear-gradient(#0650b4,#0650b4 8%,#0650b4 16%,#0650b4 25%,#0650b4 35%,#0650b4 45%,#0650b4 55%,#0650b5 64%,#0652b5 72%,#0655b6 80%,#0659b7 86%,#0660b8 91%,#0670b3 95%,#079466 98%,#0ca13f)"></i><i style="left:850.0px;width:2.5px;background:linear-gradient(#083dae,#083dae 8%,#083dae 16%,#083dae 25%,#083dae 35%,#083dae 45%,#083dae 55%,#073eae 64%,#0740af 72%,#0744b0 80%,#064ab3 86%,#0653b5 91%,#0666b8 95%,#068f79 98%,#0b9c4a)"></i><i style="left:852.0px;width:2.5px;background:linear-gradient(#0929a3,#0929a3 8%,#0929a3 16%,#0929a3 25%,#0929a3 35%,#0929a3 45%,#0929a3 55%,#092aa4 64%,#092da6 72%,#0832a9 80%,#083aad 86%,#0745b1 91%,#065eb8 95%,#068a89 98%,#099954)"></i><i style="left:854.0px;width:2.5px;background:linear-gradient(#073fae,#073fae 8%,#073fae 16%,#073fae 25%,#073fae 35%,#073fae 45%,#073fae 55%,#0740af 64%,#0742b0 72%,#0746b1 80%,#064cb3 86%,#0655b6 91%,#0667b8 95%,#068f77 98%,#0b9d49)"></i><i style="left:856.0px;width:2.5px;background:linear-gradient(#064fb4,#064fb4 8%,#064fb4 16%,#064fb4 25%,#064fb4 35%,#064fb4 45%,#064fb4 55%,#0650b4 64%,#0651b5 72%,#0654b6 80%,#0659b7 86%,#0660b8 91%,#0670b3 95%,#079466 98%,#0ca13f)"></i><i style="left:858.0px;width:2.5px;background:linear-gradient(#083dae,#083dae 8%,#083dae 16%,#083dae 25%,#083dae 35%,#083dae 45%,#083dae 55%,#073eae 64%,#0741af 72%,#0744b1 80%,#064bb3 86%,#0654b5 91%,#0666b8 95%,#068f78 98%,#0b9d49)"></i><i style="left:860.0px;width:2.5px;background:linear-gradient(#0931a8,#0931a8 8%,#0931a8 16%,#0931a8 25%,#0931a8 35%,#0931a8 45%,#0931a8 55%,#0833a9 64%,#0836ab 72%,#083aad 80%,#0741af 86%,#064cb3 91%,#0662b8 95%,#068c82 98%,#0a9a4f)"></i><i style="left:862.0px;width:2.5px;background:linear-gradient(#0742b0,#0742b0 8%,#0742b0 16%,#0742b0 25%,#0742b0 35%,#0742b0 45%,#0742b0 55%,#0744b0 64%,#0747b1 72%,#064ab3 80%,#0650b4 86%,#0658b7 91%,#0669b7 95%,#069171 98%,#0b9e45)"></i><i style="left:864.0px;width:2.5px;background:linear-gradient(#0835ab,#0835ab 8%,#0835ab 16%,#0835ab 25%,#0835ab 35%,#0835ab 45%,#0835ab 55%,#0837ac 64%,#083aad 72%,#073eae 80%,#0744b1 86%,#064fb4 91%,#0664b8 95%,#068d7d 98%,#0a9b4d)"></i><i style="left:866.0px;width:2.5px;background:linear-gradient(#0653b5,#0653b5 8%,#0653b5 16%,#0653b5 25%,#0653b5 35%,#0653b5 45%,#0653b5 55%,#0654b6 64%,#0656b6 72%,#0659b7 80%,#065eb8 86%,#0663b8 91%,#0674b0 95%,#08965e 98%,#0ca33a)"></i><i style="left:868.0px;width:2.5px;background:linear-gradient(#0d1094,#0d1094 8%,#0d1094 16%,#0d1094 25%,#0d1094 35%,#0d1094 45%,#0d1094 55%,#0c1295 64%,#0c1597 72%,#0b189a 80%,#0a209e 86%,#092fa7 91%,#0651b5 95%,#06829b 98%,#089561)"></i><i style="left:870.0px;width:2.5px;background:linear-gradient(#0748b2,#0748b2 8%,#0748b2 16%,#0748b2 25%,#0748b2 35%,#0748b2 45%,#0748b2 55%,#0649b2 64%,#064db3 72%,#0650b4 80%,#0654b6 86%,#065db8 91%,#066db5 95%,#07936a 98%,#0ba041)"></i><i style="left:872.0px;width:2.5px;background:linear-gradient(#0837ac,#0837ac 8%,#0837ac 16%,#0837ac 25%,#0837ac 35%,#0837ac 45%,#0837ac 55%,#0839ac 64%,#083cae 72%,#0740af 80%,#0747b1 86%,#0651b5 91%,#0665b8 95%,#068e7a 98%,#0b9c4b)"></i><i style="left:874.0px;width:2.5px;background:linear-gradient(#0742b0,#0742b0 8%,#0742b0 16%,#0742b0 25%,#0742b0 35%,#0742b0 45%,#0742b0 55%,#0744b0 64%,#0747b1 72%,#064bb3 80%,#0650b5 86%,#0659b7 91%,#066ab7 95%,#06916f 98%,#0b9f44)"></i><i style="left:876.0px;width:2.5px;background:linear-gradient(#0838ac,#0838ac 8%,#0838ac 16%,#0838ac 25%,#0838ac 35%,#0838ac 45%,#0838ac 55%,#083aad 64%,#083dae 72%,#0741af 80%,#0748b2 86%,#0652b5 91%,#0666b8 95%,#068f79 98%,#0b9c4a)"></i><i style="left:878.0px;width:2.5px;background:linear-gradient(#092fa7,#092fa7 8%,#092fa7 16%,#092fa7 25%,#092fa7 35%,#092fa7 45%,#092fa7 55%,#0832a8 64%,#0836ab 72%,#083aad 80%,#0741af 86%,#064db4 91%,#0663b8 95%,#068d7f 98%,#0a9b4e)"></i><i style="left:880.0px;width:2.5px;background:linear-gradient(#0839ac,#0839ac 8%,#0839ac 16%,#0839ac 25%,#0839ac 35%,#0839ac 45%,#0839ac 55%,#083bad 64%,#073eae 72%,#0742b0 80%,#0649b2 86%,#0653b5 91%,#0666b8 95%,#068f77 98%,#0b9d49)"></i><i style="left:882.0px;width:2.5px;background:linear-gradient(#0832a9,#0832a9 8%,#0832a9 16%,#0832a9 25%,#0832a9 35%,#0832a9 45%,#0833a9 55%,#0835aa 64%,#0839ac 72%,#083dae 80%,#0744b0 86%,#0650b4 91%,#0664b8 95%,#068e7b 98%,#0a9c4b)"></i><i style="left:884.0px;width:2.5px;background:linear-gradient(#0838ac,#0838ac 8%,#0838ac 16%,#0839ac 25%,#0839ac 35%,#0839ac 45%,#0839ac 55%,#083bad 64%,#073faf 72%,#0743b0 80%,#064bb3 86%,#0655b6 91%,#0668b8 95%,#069074 98%,#0b9e47)"></i><i style="left:886.0px;width:2.5px;background:linear-gradient(#092ca5,#092ca5 8%,#092ca5 16%,#092da6 25%,#092da6 35%,#092da6 45%,#092ea6 55%,#0931a8 64%,#0836ab 72%,#083bad 80%,#0743b0 86%,#0650b5 91%,#0665b8 95%,#068e7b 98%,#0b9c4b)"></i><i style="left:888.0px;width:2.5px;background:linear-gradient(#0929a4,#0929a4 8%,#0929a4 16%,#092aa4 25%,#092ba4 35%,#092ba4 45%,#092ba5 55%,#092fa7 64%,#0834aa 72%,#083aad 80%,#0743b0 86%,#0650b5 91%,#0665b8 95%,#068e7a 98%,#0b9c4b)"></i><i style="left:890.0px;width:2.5px;background:linear-gradient(#092ca5,#092ca5 8%,#092ca5 16%,#092da6 25%,#092ea6 35%,#092ea6 45%,#092fa7 55%,#0832a9 64%,#0838ac 72%,#073eae 80%,#0747b1 86%,#0654b5 91%,#0667b8 95%,#069075 98%,#0b9d48)"></i><i style="left:892.0px;width:2.5px;background:linear-gradient(#0838ac,#0838ac 8%,#0838ac 16%,#0839ac 25%,#083aad 35%,#083aad 45%,#083bad 55%,#073eae 64%,#0742b0 72%,#0649b2 80%,#0651b5 86%,#065db8 91%,#066eb4 95%,#079369 98%,#0ca040)"></i><i style="left:894.0px;width:2.5px;background:linear-gradient(#083cae,#083cae 8%,#083cae 16%,#083dae 25%,#073eae 35%,#073eae 45%,#073faf 55%,#0742b0 64%,#0747b1 72%,#064eb4 80%,#0656b6 86%,#0660b8 91%,#0671b2 95%,#089562 98%,#0ca23c)"></i><i style="left:896.0px;width:2.5px;background:linear-gradient(#064ab2,#064ab2 8%,#064ab3 16%,#064bb3 25%,#064cb3 35%,#064cb3 45%,#064db4 55%,#0650b4 64%,#0653b5 72%,#0659b7 80%,#0660b8 86%,#0667b8 91%,#067aa7 95%,#099856 98%,#0ea634)"></i><i style="left:898.0px;width:2.5px;background:linear-gradient(#0924a0,#0924a0 8%,#0924a0 16%,#0926a1 25%,#0927a2 35%,#0927a2 45%,#0929a3 55%,#092da6 64%,#0833a9 72%,#083dae 80%,#0748b2 86%,#0656b6 91%,#0669b7 95%,#069171 98%,#0b9e45)"></i><i style="left:900.0px;width:2.5px;background:linear-gradient(#0c1497,#0c1497 8%,#0c1497 16%,#0b1698 25%,#0b1698 35%,#0b1698 45%,#0b189a 55%,#0a1c9c 64%,#0a23a0 72%,#092ea6 80%,#083cad 86%,#064eb4 91%,#0664b8 95%,#068e7c 98%,#0a9c4c)"></i><i style="left:902.0px;width:2.5px;background:linear-gradient(#092ba5,#092ba5 8%,#092ba5 16%,#092ea6 25%,#092fa7 35%,#092fa7 45%,#0831a8 55%,#0836ab 64%,#083cad 72%,#0745b1 80%,#0651b5 86%,#065eb8 91%,#0670b3 95%,#079466 98%,#0ca13e)"></i><i style="left:904.0px;width:2.5px;background:linear-gradient(#064ab3,#064ab3 8%,#064ab3 16%,#064cb3 25%,#064db4 35%,#064db4 45%,#064fb4 55%,#0652b5 64%,#0656b6 72%,#065eb8 80%,#0664b8 86%,#066db5 91%,#06819e 95%,#0a9a4f 98%,#0fa92e)"></i><i style="left:906.0px;width:2.5px;background:linear-gradient(#0747b2,#0747b2 8%,#0747b2 16%,#0649b2 25%,#064bb3 35%,#064bb3 45%,#064db4 55%,#0650b5 64%,#0655b6 72%,#065db8 80%,#0663b8 86%,#066db5 91%,#06819e 95%,#0a9b4f 98%,#0fa92e)"></i><i style="left:908.0px;width:2.5px;background:linear-gradient(#064db4,#064db4 8%,#064db4 16%,#064fb4 25%,#0650b4 35%,#0650b4 45%,#0652b5 55%,#0655b6 64%,#0659b7 72%,#0660b8 80%,#0666b8 86%,#0671b2 91%,#068496 95%,#0b9c4a 98%,#11ac2a)"></i><i style="left:910.0px;width:2.5px;background:linear-gradient(#064cb3,#064cb3 8%,#064cb3 16%,#064eb4 25%,#064fb4 35%,#064fb4 45%,#0651b5 55%,#0655b6 64%,#0659b7 72%,#0660b8 80%,#0667b8 86%,#0672b1 91%,#068595 95%,#0b9d49 98%,#12ac29)"></i><i style="left:912.0px;width:2.5px;background:linear-gradient(#092fa7,#092fa7 8%,#0930a7 16%,#0833a9 25%,#0835aa 35%,#0835aa 45%,#0838ac 55%,#083dae 64%,#0743b0 72%,#064fb4 80%,#065ab7 86%,#0665b8 91%,#0679a9 95%,#099858 98%,#0ea535)"></i><i style="left:914.0px;width:2.5px;background:linear-gradient(#0928a3,#0928a3 8%,#0928a3 16%,#092ba5 25%,#092da6 35%,#092da6 45%,#0831a8 55%,#0837ac 64%,#073eae 72%,#064bb3 80%,#0657b6 86%,#0663b8 91%,#0677ac 95%,#09975a 98%,#0da437)"></i><i style="left:916.0px;width:2.5px;background:linear-gradient(#10018b,#10018b 8%,#10028b 16%,#0f048d 25%,#0f068e 35%,#0f068e 45%,#0e0990 55%,#0d0e93 64%,#0c1597 72%,#0923a0 80%,#0837ac 86%,#064eb4 91%,#0665b8 95%,#068e7a 98%,#0b9c4a)"></i><i style="left:918.0px;width:2.5px;background:linear-gradient(#0b1698,#0b1698 8%,#0b1698 16%,#0b1a9a 25%,#0a1b9c 35%,#0a1b9c 45%,#0a1f9e 55%,#0925a1 64%,#092da6 72%,#083cae 80%,#064cb3 86%,#065db8 91%,#0670b3 95%,#079465 98%,#0ca13e)"></i><i style="left:920.0px;width:2.5px;background:linear-gradient(#0931a8,#0931a8 8%,#0831a8 16%,#0835aa 25%,#0838ac 35%,#0838ac 45%,#083bad 55%,#0740af 64%,#0746b1 72%,#0652b5 80%,#065eb8 86%,#0669b8 91%,#067da3 95%,#0a9953 98%,#0fa732)"></i><i style="left:922.0px;width:2.5px;background:linear-gradient(#0a1e9d,#0a1e9d 8%,#0a1e9d 16%,#0a22a0 25%,#0925a1 35%,#0925a1 45%,#0929a4 55%,#092fa7 64%,#0838ac 72%,#0746b1 80%,#0654b6 86%,#0663b8 91%,#0677ac 95%,#09975a 98%,#0da437)"></i><i style="left:924.0px;width:2.5px;background:linear-gradient(#0b1799,#0b1899 8%,#0b189a 16%,#0a1b9c 25%,#0a1e9d 35%,#0a1e9d 45%,#0a23a0 55%,#092aa4 64%,#0834aa 72%,#0744b0 80%,#0654b5 86%,#0663b8 91%,#0677ac 95%,#09975a 98%,#0da537)"></i><i style="left:926.0px;width:2.5px;background:linear-gradient(#0927a2,#0927a2 8%,#0928a3 16%,#092ca5 25%,#092ea6 35%,#092ea7 45%,#0834aa 55%,#083aad 64%,#0742b0 72%,#0650b4 80%,#065db8 86%,#0669b7 91%,#067fa1 95%,#0a9a51 98%,#0fa830)"></i><i style="left:928.0px;width:2.5px;background:linear-gradient(#0a22a0,#0a23a0 8%,#0924a0 16%,#0927a2 25%,#092aa4 35%,#092aa4 45%,#0930a7 55%,#0837ac 64%,#0740af 72%,#064eb4 80%,#065bb7 86%,#0668b8 91%,#067ea2 95%,#0a9a51 98%,#0fa830)"></i><i style="left:930.0px;width:2.5px;background:linear-gradient(#0930a8,#0831a8 8%,#0832a9 16%,#0836ab 25%,#0838ac 35%,#0839ac 45%,#083dae 55%,#0743b0 64%,#064ab3 72%,#0656b6 80%,#0661b8 86%,#066eb4 91%,#068398 95%,#0b9c4a 98%,#11ac2a)"></i><i style="left:932.0px;width:2.5px;background:linear-gradient(#064ab2,#064ab3 8%,#064bb3 16%,#064eb4 25%,#064fb4 35%,#0650b4 45%,#0653b5 55%,#0657b6 64%,#065db8 72%,#0664b8 80%,#066db5 86%,#067ca5 91%,#068d7f 95%,#0ca33b 98%,#1bba1a)"></i><i style="left:934.0px;width:2.5px;background:linear-gradient(#0839ac,#083aad 8%,#083bad 16%,#083dae 25%,#073faf 35%,#0740af 45%,#0745b1 55%,#064ab3 64%,#0651b5 72%,#065cb7 80%,#0665b8 86%,#0673b0 91%,#06888d 95%,#0b9f44 98%,#15b124)"></i><i style="left:936.0px;width:2.5px;background:linear-gradient(#0a1d9d,#0a1f9e 8%,#0a209e 16%,#0a23a0 25%,#0925a1 35%,#0927a2 45%,#092da6 55%,#0835aa 64%,#073eae 72%,#064cb3 80%,#065ab7 86%,#0669b8 91%,#06809f 95%,#0a9a50 98%,#0fa830)"></i><i style="left:938.0px;width:2.5px;background:linear-gradient(#0c1396,#0c1497 8%,#0b1698 16%,#0b1799 25%,#0b199a 35%,#0a1b9b 45%,#0a219f 55%,#0928a3 64%,#0833a9 72%,#0742b0 80%,#0653b5 86%,#0664b8 91%,#067ba6 95%,#099857 98%,#0ea535)"></i><i style="left:940.0px;width:2.5px;background:linear-gradient(#0925a1,#0926a2 8%,#0928a3 16%,#092aa4 25%,#092da6 35%,#092fa7 45%,#0836ab 55%,#083bad 64%,#0743b0 72%,#0650b4 80%,#065db8 86%,#066bb6 91%,#06829a 95%,#0a9b4f 98%,#0fa830)"></i><i style="left:942.0px;width:2.5px;background:linear-gradient(#083bad,#083cae 8%,#073eae 16%,#073faf 25%,#0741af 35%,#0743b0 45%,#0649b2 55%,#064eb4 64%,#0655b6 72%,#065fb8 80%,#0667b8 86%,#0678ab 91%,#068c83 95%,#0ba041 98%,#15b224)"></i><i style="left:944.0px;width:2.5px;background:linear-gradient(#0b1799,#0b199a 8%,#0a1a9b 16%,#0a1c9c 25%,#0a1e9d 35%,#0a219f 45%,#0928a3 55%,#092ea6 64%,#0839ac 72%,#0746b1 80%,#0656b6 86%,#0666b8 91%,#067fa1 95%,#099856 98%,#0ea536)"></i><i style="left:946.0px;width:2.5px;background:linear-gradient(#0924a0,#0926a2 8%,#0928a3 16%,#092aa4 25%,#092ca5 35%,#092fa7 45%,#0837ab 55%,#073eae 64%,#0649b2 72%,#0656b6 80%,#0662b8 86%,#0672b1 91%,#06898c 95%,#0b9d48 98%,#10aa2c)"></i><i style="left:948.0px;width:2.5px;background:linear-gradient(#092da6,#092fa7 8%,#0832a8 16%,#0833a9 25%,#0835aa 35%,#0838ac 45%,#073eae 55%,#0746b1 64%,#0650b4 72%,#065bb7 80%,#0666b8 86%,#0677ac 91%,#068c83 95%,#0b9f44 98%,#12ae28)"></i><i style="left:950.0px;width:2.5px;background:linear-gradient(#0833a9,#0836ab 8%,#0838ac 16%,#0839ac 25%,#083bad 35%,#073eae 45%,#0744b0 55%,#064cb3 64%,#0654b6 72%,#065fb8 80%,#0669b8 86%,#067ba7 91%,#068e7b 95%,#0ca040 98%,#14b025)"></i><i style="left:952.0px;width:2.5px;background:linear-gradient(#0a1f9e,#0a229f 8%,#0925a1 16%,#0926a2 25%,#0928a3 35%,#092ca5 45%,#0834aa 55%,#083dae 64%,#0748b2 72%,#0655b6 80%,#0662b8 86%,#0673b1 91%,#068a89 95%,#0b9d49 98%,#0fa92e)"></i><i style="left:954.0px;width:2.5px;background:linear-gradient(#0929a3,#092ca5 8%,#092fa7 16%,#092fa7 25%,#0832a8 35%,#0836ab 45%,#083dae 55%,#0745b1 64%,#0650b4 72%,#065bb7 80%,#0666b8 86%,#0678aa 91%,#068d7f 95%,#0b9f44 98%,#11ac2a)"></i><i style="left:956.0px;width:2.5px;background:linear-gradient(#0837ac,#083aad 8%,#083cae 16%,#083dae 25%,#073eae 35%,#0742b0 45%,#0748b2 55%,#064fb4 64%,#0657b6 72%,#0660b8 80%,#066ab6 86%,#067da3 91%,#069075 95%,#0ca13f 98%,#14b026)"></i><i style="left:958.0px;width:2.5px;background:linear-gradient(#0a1c9c,#0a209e 8%,#0a23a0 16%,#0923a0 25%,#0925a1 35%,#092aa4 45%,#0833a9 55%,#083bad 64%,#0746b1 72%,#0653b5 80%,#0661b8 86%,#0673b1 91%,#068b88 95%,#0a9c4b 98%,#0fa731)"></i><i style="left:960.0px;width:2.5px;background:linear-gradient(#0835aa,#0838ac 8%,#083bad 16%,#083bad 25%,#083dae 35%,#0740af 45%,#0747b2 55%,#064fb4 64%,#0658b7 72%,#0662b8 80%,#066db5 86%,#06809e 91%,#07926e 95%,#0ca23c 98%,#15b124)"></i><i style="left:962.0px;width:2.5px;background:linear-gradient(#0742b0,#0745b1 8%,#0747b2 16%,#0747b2 25%,#0649b2 35%,#064db4 45%,#0653b5 55%,#0656b6 64%,#065db8 72%,#0664b8 80%,#066eb4 86%,#06819e 91%,#07926d 95%,#0ca23d 98%,#14b025)"></i><i style="left:964.0px;width:2.5px;background:linear-gradient(#0e0990,#0d0c92 8%,#0d0f94 16%,#0d0f94 25%,#0c1195 35%,#0c1597 45%,#0a1c9c 55%,#0923a0 64%,#0930a7 72%,#073faf 80%,#0652b5 86%,#0667b8 91%,#06819c 95%,#08975c 98%,#0ca040)"></i><i style="left:966.0px;width:2.5px;background:linear-gradient(#0d0e93,#0c1195 8%,#0c1497 16%,#0c1497 25%,#0b1698 35%,#0b199a 45%,#0a22a0 55%,#0929a3 64%,#0835aa 72%,#0743b0 80%,#0654b6 86%,#0668b8 91%,#068399 95%,#08975b 98%,#0ca040)"></i><i style="left:968.0px;width:2.5px;background:linear-gradient(#0b199a,#0a1c9c 8%,#0a1f9e 16%,#0a1f9e 25%,#0a219f 35%,#0926a2 45%,#0930a7 55%,#0836ab 64%,#0740af 72%,#064eb4 80%,#065db8 86%,#066fb4 91%,#06888e 95%,#099954 98%,#0ca33b)"></i><i style="left:970.0px;width:2.5px;background:linear-gradient(#0931a8,#0834aa 8%,#0838ac 16%,#0838ac 25%,#083aad 35%,#083dae 45%,#0745b1 55%,#064cb3 64%,#0654b6 72%,#065fb8 80%,#0669b8 86%,#067ca4 91%,#069074 95%,#0b9e46 98%,#0fa830)"></i><i style="left:972.0px;width:2.5px;background:linear-gradient(#0a1c9c,#0a1f9e 8%,#0a23a0 16%,#0a23a0 25%,#0925a1 35%,#092aa4 45%,#0834aa 55%,#073fae 64%,#064cb3 72%,#065ab7 80%,#0666b8 86%,#067aa8 91%,#068f78 95%,#0b9d49 98%,#0ea633)"></i><i style="left:974.0px;width:2.5px;background:linear-gradient(#0931a8,#0834aa 8%,#0838ac 16%,#0838ac 25%,#0839ad 35%,#083dae 45%,#0745b1 55%,#064fb4 64%,#065ab7 72%,#0664b8 80%,#0670b3 86%,#068497 91%,#079464 95%,#0ca13e 98%,#11ab2b)"></i><i style="left:976.0px;width:2.5px;background:linear-gradient(#0a1c9c,#0a209e 8%,#0923a0 16%,#0923a0 25%,#0926a1 35%,#092aa4 45%,#0835aa 55%,#073faf 64%,#064cb3 72%,#065ab7 80%,#0666b8 86%,#067aa7 91%,#068f78 95%,#0b9c4b 98%,#0ea536)"></i><i style="left:978.0px;width:2.5px;background:linear-gradient(#092fa7,#0833a9 8%,#0836ab 16%,#0836ab 25%,#0839ac 35%,#083cae 45%,#0745b1 55%,#0650b5 64%,#065cb7 72%,#0666b8 80%,#0673b1 86%,#068790 91%,#08965e 95%,#0ca23c 98%,#11ac2a)"></i><i style="left:980.0px;width:2.5px;background:linear-gradient(#0a1b9b,#0a1f9d 8%,#0a229f 16%,#0a229f 25%,#0924a1 35%,#0929a3 45%,#0834aa 55%,#0740af 64%,#064fb4 72%,#065eb8 80%,#066ab7 86%,#067fa0 91%,#06916f 95%,#0b9d48 98%,#0ea634)"></i><i style="left:982.0px;width:2.5px;background:linear-gradient(#0927a2,#092ba5 8%,#092ea6 16%,#092ea6 25%,#0931a8 35%,#0835aa 45%,#073eae 55%,#064cb3 64%,#0659b7 72%,#0665b8 80%,#0673b1 86%,#068790 91%,#08965d 95%,#0ca13e 98%,#10a92d)"></i><i style="left:984.0px;width:2.5px;background:linear-gradient(#092ea6,#0831a8 8%,#0835aa 16%,#0835aa 25%,#0837ab 35%,#083bad 45%,#0744b0 55%,#0651b5 64%,#065eb8 72%,#0669b7 80%,#0678aa 86%,#068b86 91%,#099857 95%,#0da439 98%,#13ae28)"></i><i style="left:986.0px;width:2.5px;background:linear-gradient(#092da6,#0931a8 8%,#0834aa 16%,#0834aa 25%,#0836ab 35%,#083aad 45%,#0743b0 55%,#0650b5 64%,#065db8 72%,#0668b8 80%,#0677ac 86%,#068a89 91%,#099858 95%,#0da33a 98%,#12ad29)"></i><i style="left:988.0px;width:2.5px;background:linear-gradient(#083cae,#073faf 8%,#0742b0 16%,#0742b0 25%,#0743b0 35%,#0747b2 45%,#0650b4 55%,#0658b7 64%,#0662b8 72%,#066cb5 80%,#067aa8 86%,#068c84 91%,#099955 95%,#0da437 98%,#14b026)"></i><i style="left:990.0px;width:2.5px;background:linear-gradient(#0833a9,#0837ab 8%,#083aad 16%,#083aad 25%,#083cad 35%,#073faf 45%,#0748b2 55%,#0653b5 64%,#065eb8 72%,#0668b8 80%,#0676ad 86%,#068a8a 91%,#099759 95%,#0ca33a 98%,#12ad29)"></i><i style="left:992.0px;width:2.5px;background:linear-gradient(#0a1a9b,#0a1d9d 8%,#0a219f 16%,#0a219f 25%,#0a23a0 35%,#0928a3 45%,#0833a9 55%,#0740af 64%,#064fb4 72%,#065fb8 80%,#066bb6 86%,#06809e 91%,#07926b 95%,#0b9e47 98%,#0ea634)"></i><i style="left:994.0px;width:2.5px;background:linear-gradient(#0833a9,#0837ab 8%,#083aad 16%,#083aad 25%,#083cad 35%,#073faf 45%,#0649b2 55%,#0651b5 64%,#065bb7 72%,#0665b8 80%,#0672b2 86%,#068693 91%,#08965f 95%,#0ca13f 98%,#0fa92e)"></i><i style="left:996.0px;width:2.5px;background:linear-gradient(#0d0f94,#0c1296 8%,#0c1597 16%,#0c1597 25%,#0b1799 35%,#0a1a9b 45%,#0926a2 55%,#0831a8 64%,#0740af 72%,#0651b5 80%,#0661b8 86%,#0674b0 91%,#068d81 95%,#099954 98%,#0ca13f)"></i><i style="left:998.0px;width:2.5px;background:linear-gradient(#083dae,#073faf 8%,#0742b0 16%,#0742b0 25%,#0744b0 35%,#0748b2 45%,#0650b5 55%,#0657b6 64%,#0660b8 72%,#0669b7 80%,#0676ad 86%,#068a8b 91%,#099759 95%,#0ca33a 98%,#12ad29)"></i><i style="left:1000.0px;width:2.5px;background:linear-gradient(#0748b2,#064bb3 8%,#064eb4 16%,#064eb4 25%,#064fb4 35%,#0652b5 45%,#0659b7 55%,#065fb8 64%,#0664b8 72%,#066eb4 80%,#067ba7 86%,#068c84 91%,#099954 95%,#0da536 98%,#15b124)"></i><i style="left:1002.0px;width:2.5px;background:linear-gradient(#0a219f,#0924a1 8%,#0928a3 16%,#0928a3 25%,#092aa4 35%,#092fa7 45%,#083bad 55%,#0740af 64%,#064ab3 72%,#0657b6 80%,#0664b8 86%,#0677ac 91%,#068e7b 95%,#0a9a50 98%,#0ca23c)"></i><i style="left:1004.0px;width:2.5px;background:linear-gradient(#0a1e9d,#0a219f 8%,#0925a1 16%,#0925a1 25%,#0927a2 35%,#092ca5 45%,#0838ac 55%,#0741af 64%,#064eb4 72%,#065bb7 80%,#0667b8 86%,#067ca4 91%,#069172 95%,#0b9c4a 98%,#0da537)"></i><i style="left:1006.0px;width:2.5px;background:linear-gradient(#0b189a,#0a1b9c 8%,#0a1e9d 16%,#0a1e9d 25%,#0a219f 35%,#0925a1 45%,#0832a9 55%,#073eae 64%,#064db4 72%,#065db8 80%,#0669b7 86%,#067fa1 91%,#07926d 95%,#0b9d48 98%,#0ea635)"></i><i style="left:1008.0px;width:2.5px;background:linear-gradient(#092ba4,#092ea7 8%,#0832a8 16%,#0832a8 25%,#0834aa 35%,#0839ac 45%,#0743b0 55%,#0651b5 64%,#065eb8 72%,#066ab6 80%,#067aa7 86%,#068c81 91%,#0a9952 95%,#0ea635 98%,#16b322)"></i><i style="left:1010.0px;width:2.5px;background:linear-gradient(#0b199a,#0a1c9c 8%,#0a209e 16%,#0a209e 25%,#0a229f 35%,#0927a2 45%,#0834aa 55%,#0745b1 64%,#0655b6 72%,#0664b8 80%,#0674b0 86%,#06898c 91%,#099759 95%,#0ca33a 98%,#12ad29)"></i><i style="left:1012.0px;width:2.5px;background:linear-gradient(#0833a9,#0836ab 8%,#0839ac 16%,#0839ac 25%,#083bad 35%,#073fae 45%,#0649b2 55%,#0658b6 64%,#0664b8 72%,#0672b1 80%,#06829a 86%,#069170 91%,#0b9d47 95%,#10aa2c 98%,#1dbc18)"></i><i style="left:1014.0px;width:2.5px;background:linear-gradient(#0927a2,#092aa4 8%,#092ea6 16%,#092ea6 25%,#0930a7 35%,#0835aa 45%,#0740af 55%,#0651b5 64%,#065fb8 72%,#066db5 80%,#067da3 86%,#068e7a 91%,#0a9b4d 95%,#0fa731 98%,#19b71e)"></i><i style="left:1016.0px;width:2.5px;background:linear-gradient(#0924a0,#0927a2 8%,#092ba4 16%,#092ba4 25%,#092da6 35%,#0832a8 45%,#073eae 55%,#0650b5 64%,#0660b8 72%,#066eb4 80%,#06809f 86%,#069074 91%,#0b9c4a 95%,#0fa92e 98%,#1bba1a)"></i><i style="left:1018.0px;width:2.5px;background:linear-gradient(#0836ab,#0839ac 8%,#083cad 16%,#083cad 25%,#073eae 35%,#0741af 45%,#064cb3 55%,#065eb8 64%,#066ab6 72%,#067da4 80%,#068c83 86%,#099859 91%,#0da438 95%,#1ab81c 98%,#3aca0a)"></i><i style="left:1020.0px;width:2.5px;background:linear-gradient(#092da6,#0831a8 8%,#0834aa 16%,#0834aa 25%,#0837ab 35%,#083bad 45%,#0746b1 55%,#0657b6 64%,#0665b8 72%,#0675af 80%,#068693 86%,#079467 91%,#0ba042 95%,#13af26 98%,#28c113)"></i><i style="left:1022.0px;width:2.5px;background:linear-gradient(#0c1195,#0c1497 8%,#0b1799 16%,#0b1799 25%,#0b199a 35%,#0a1d9c 45%,#092ba4 55%,#0740af 64%,#0654b6 72%,#0665b8 80%,#0676ad 86%,#068b87 91%,#099955 95%,#0da537 98%,#14b125)"></i><i style="left:1024.0px;width:2.5px;background:linear-gradient(#0747b1,#064ab2 8%,#064cb3 16%,#064cb3 25%,#064eb4 35%,#0651b5 45%,#0659b7 55%,#0663b8 64%,#066db5 72%,#067ca5 80%,#068a89 86%,#08965e 91%,#0ca23c 95%,#17b421 98%,#31c50f)"></i><i style="left:1026.0px;width:2.5px;background:linear-gradient(#0927a2,#092ba4 8%,#092ea6 16%,#092ea6 25%,#0931a8 35%,#0835aa 45%,#0741af 55%,#0650b5 64%,#065eb8 72%,#066bb6 80%,#067ba6 86%,#068d7e 91%,#0a9a50 95%,#0ea733 98%,#17b520)"></i><i style="left:1028.0px;width:2.5px;background:linear-gradient(#0c1396,#0b1698 8%,#0b189a 16%,#0b199a 25%,#0a1b9b 35%,#0a1f9e 45%,#092ea6 55%,#073faf 64%,#0651b5 72%,#0662b8 80%,#0671b2 86%,#068791 91%,#08975c 95%,#0ca23c 98%,#10aa2c)"></i><i style="left:1030.0px;width:2.5px;background:linear-gradient(#0835ab,#0838ac 8%,#083bad 16%,#083bad 25%,#083dae 35%,#0741af 45%,#064db3 55%,#0658b6 64%,#0663b8 72%,#0670b2 80%,#06809e 86%,#069075 91%,#0b9c4a 95%,#0fa92f 98%,#1ab91b)"></i><i style="left:1032.0px;width:2.5px;background:linear-gradient(#092aa4,#092da6 8%,#092fa7 16%,#0930a8 25%,#0833a9 35%,#0838ac 45%,#0743b0 55%,#0650b5 64%,#065db8 72%,#0669b7 80%,#0679a9 86%,#068c84 91%,#0a9953 95%,#0da536 98%,#15b124)"></i><i style="left:1034.0px;width:2.5px;background:linear-gradient(#0929a3,#092ca5 8%,#092fa7 16%,#0930a7 25%,#0832a9 35%,#0837ab 45%,#0743b0 55%,#0651b5 64%,#065eb8 72%,#066bb6 80%,#067ba6 86%,#068d7f 91%,#0a9a50 95%,#0ea634 98%,#16b322)"></i><i style="left:1036.0px;width:2.5px;background:linear-gradient(#092ba5,#092ea6 8%,#0931a8 16%,#0832a9 25%,#0835aa 35%,#0839ac 45%,#0745b1 55%,#0655b6 64%,#0662b8 72%,#0672b1 80%,#068399 86%,#07926e 91%,#0b9e46 95%,#10aa2c 98%,#1dbc18)"></i><i style="left:1038.0px;width:2.5px;background:linear-gradient(#0c1497,#0b1698 8%,#0b189a 16%,#0b199a 25%,#0a1c9c 35%,#0a209e 45%,#092fa7 55%,#0743b0 64%,#0656b6 72%,#0667b8 80%,#0678aa 86%,#068c82 91%,#0a9952 95%,#0ea536 98%,#15b124)"></i><i style="left:1040.0px;width:2.5px;background:linear-gradient(#12007e,#120081 8%,#110084 16%,#110085 25%,#100088 35%,#0f028c 45%,#0d0f93 55%,#0a219f 64%,#083bad 72%,#0656b6 80%,#0667b8 86%,#067fa1 91%,#07926c 95%,#0b9d48 98%,#0ea536)"></i><i style="left:1042.0px;width:2.5px;background:linear-gradient(#0925a1,#0928a3 8%,#092aa4 16%,#092ba5 25%,#092fa7 35%,#0833a9 45%,#0741af 55%,#0651b5 64%,#065fb8 72%,#066eb4 80%,#067fa0 86%,#068f76 91%,#0b9c4b 95%,#0fa830 98%,#19b71e)"></i><i style="left:1044.0px;width:2.5px;background:linear-gradient(#0831a8,#0834aa 8%,#0836ab 16%,#0838ac 25%,#083aad 35%,#073eae 45%,#064ab3 55%,#0659b7 64%,#0666b8 72%,#0677ac 80%,#068790 86%,#089563 91%,#0ca140 95%,#13af26 98%,#26c014)"></i><i style="left:1046.0px;width:2.5px;background:linear-gradient(#0746b1,#0747b2 8%,#0649b2 16%,#064ab3 25%,#064db4 35%,#0650b5 45%,#0659b7 55%,#0665b8 64%,#0672b1 72%,#068496 80%,#069073 86%,#0a9b4e 91%,#0fa831 95%,#22bf15 98%,#47ce07)"></i><i style="left:1048.0px;width:2.5px;background:linear-gradient(#0a22a0,#0924a1 8%,#0926a2 16%,#0928a3 25%,#092ca5 35%,#0930a8 45%,#073fae 55%,#0656b6 64%,#0667b8 72%,#067ca5 80%,#068c82 86%,#099856 91%,#0da537 95%,#19b81d 98%,#36c80c)"></i><i style="left:1050.0px;width:2.5px;background:linear-gradient(#0a1e9d,#0a209e 8%,#0a22a0 16%,#0924a1 25%,#0928a3 35%,#092ca5 45%,#083cad 55%,#0653b5 64%,#0665b8 72%,#0679a9 80%,#068b88 86%,#09975a 91%,#0da33a 95%,#17b421 98%,#2ec410)"></i><i style="left:1052.0px;width:2.5px;background:linear-gradient(#0a209e,#0a229f 8%,#0924a0 16%,#0926a2 25%,#0929a4 35%,#092ea6 45%,#083dae 55%,#0653b5 64%,#0664b8 72%,#0677ab 80%,#06898b 86%,#08965d 91%,#0ca23c 95%,#15b124 98%,#29c212)"></i><i style="left:1054.0px;width:2.5px;background:linear-gradient(#0d0f93,#0d1094 8%,#0c1195 16%,#0c1396 25%,#0b1698 35%,#0a1a9b 45%,#092aa4 55%,#0747b1 64%,#065eb8 72%,#0672b1 80%,#068693 86%,#079464 91%,#0ca041 95%,#12ad29 98%,#20be16)"></i><i style="left:1056.0px;width:2.5px;background:linear-gradient(#0a1b9c,#0a1d9c 8%,#0a1e9d 16%,#0a219f 25%,#0925a1 35%,#0929a4 45%,#083aad 55%,#0655b6 64%,#0667b8 72%,#067fa1 80%,#068e7a 86%,#0a9a50 91%,#0ea733 95%,#1cbc18 98%,#3dca0a)"></i><i style="left:1058.0px;width:2.5px;background:linear-gradient(#0928a3,#092aa4 8%,#092ba5 16%,#092ea6 25%,#0832a8 35%,#0836ab 45%,#0744b0 55%,#065fb8 64%,#0671b2 72%,#06898d 80%,#089562 86%,#0ca041 91%,#14b125 95%,#37c80c 98%,#60d404)"></i><i style="left:1060.0px;width:2.5px;background:linear-gradient(#0b189a,#0b199a 8%,#0a1b9b 16%,#0a1d9d 25%,#0a219f 35%,#0926a1 45%,#0837ab 55%,#0656b6 64%,#066ab6 72%,#068398 80%,#07926d 86%,#0b9e47 91%,#10aa2c 95%,#2ac212 98%,#4fd006)"></i><i style="left:1062.0px;width:2.5px;background:linear-gradient(#0744b0,#0745b1 8%,#0746b1 16%,#0748b2 25%,#064bb3 35%,#064fb4 45%,#0659b7 55%,#0668b8 64%,#067aa7 72%,#068d80 80%,#099759 86%,#0ca23b 91%,#18b51f 95%,#3fcc08 98%,#6bd703)"></i><i style="left:1064.0px;width:2.5px;background:linear-gradient(#0b1698,#0b1799 8%,#0b189a 16%,#0a1b9b 25%,#0a1e9d 35%,#0923a0 45%,#0834aa 55%,#064fb4 64%,#0663b8 72%,#0678aa 80%,#068b88 86%,#09975a 91%,#0ca33a 95%,#15b223 98%,#28c212)"></i><i style="left:1066.0px;width:2.5px;background:linear-gradient(#0a1e9d,#0a1f9d 8%,#0a209e 16%,#0a23a0 25%,#0927a2 35%,#092ca5 45%,#083cae 55%,#0653b5 64%,#0665b8 72%,#067aa8 80%,#068b86 86%,#099759 91%,#0da33a 95%,#16b223 98%,#29c212)"></i><i style="left:1068.0px;width:2.5px;background:linear-gradient(#0c1597,#0b1698 8%,#0b1698 16%,#0b199a 25%,#0a1d9c 35%,#0a219f 45%,#0833a9 55%,#064db4 64%,#0661b8 72%,#0675ae 80%,#06888d 86%,#08965e 91%,#0ca13e 95%,#13ae28 98%,#1fbd17)"></i><i style="left:1070.0px;width:2.5px;background:linear-gradient(#0c1095,#0c1195 8%,#0c1295 16%,#0c1497 25%,#0b1899 35%,#0a1c9c 45%,#092da6 55%,#0745b1 64%,#065bb7 72%,#066eb4 80%,#06819c 86%,#06916f 91%,#0b9d48 95%,#0fa731 98%,#17b421)"></i><i style="left:1072.0px;width:2.5px;background:linear-gradient(#0928a3,#0928a3 8%,#0929a3 16%,#092da6 25%,#0831a8 35%,#0836ab 45%,#0745b1 55%,#0654b5 64%,#0662b8 72%,#0674b0 80%,#068595 86%,#079369 91%,#0b9e45 95%,#0fa92f 98%,#18b71e)"></i><i style="left:1074.0px;width:2.5px;background:linear-gradient(#0837ac,#0838ac 8%,#0838ac 16%,#083bad 25%,#073faf 35%,#0743b0 45%,#0650b5 55%,#0659b7 64%,#0664b8 72%,#0673b1 80%,#06839a 86%,#069170 91%,#0b9d4a 95%,#0ea732 98%,#15b223)"></i><i style="left:1076.0px;width:2.5px;background:linear-gradient(#0746b1,#0746b1 8%,#0746b1 16%,#0649b2 25%,#064db4 35%,#0650b4 45%,#065ab7 55%,#0660b8 64%,#0667b8 72%,#0676ae 80%,#068496 86%,#07926e 91%,#0b9d49 95%,#0fa732 98%,#16b322)"></i><i style="left:1078.0px;width:2.5px;background:linear-gradient(#0831a8,#0832a8 8%,#0832a9 16%,#0836ab 25%,#083aad 35%,#073eae 45%,#064cb3 55%,#0656b6 64%,#0661b8 72%,#0670b3 80%,#06809f 86%,#068f76 91%,#0a9b4e 95%,#0da536 98%,#13ae28)"></i><i style="left:1080.0px;width:2.5px;background:linear-gradient(#0b1799,#0b1799 8%,#0b1899 16%,#0a1c9c 25%,#0a229f 35%,#0928a3 45%,#083cad 55%,#0748b2 64%,#0656b6 72%,#0667b8 80%,#0677ac 86%,#068b88 91%,#099759 95%,#0ca140 98%,#0fa732)"></i><i style="left:1082.0px;width:2.5px;background:linear-gradient(#0b1799,#0b1899 8%,#0b1a9a 16%,#0a209e 25%,#092aa4 35%,#0835aa 45%,#0649b2 55%,#0656b6 64%,#0662b8 72%,#0674b0 80%,#068496 86%,#07926e 91%,#0b9d49 95%,#0ea732 98%,#15b223)"></i><i style="left:1084.0px;width:2.5px;background:linear-gradient(#180063,#170065 8%,#160068 16%,#150072 25%,#12007f 35%,#0f048d 45%,#0a1c9c 55%,#0835aa 64%,#064db4 72%,#0665b8 80%,#0678ab 86%,#068b87 91%,#099859 95%,#0ca13f 98%,#0fa731)"></i><i style="left:1086.0px;width:2.5px;background:linear-gradient(#15006d,#150070 8%,#140075 16%,#120080 25%,#0f068e 35%,#0b1698 45%,#0837ac 55%,#064fb4 64%,#0661b8 72%,#0678ab 80%,#068a8a 86%,#089562 91%,#0ba042 95%,#10aa2d 98%,#19b81c)"></i><i style="left:1088.0px;width:2.5px;background:linear-gradient(#140073,#140077 8%,#13007c 16%,#100089 25%,#0d0e93 35%,#0a229f 45%,#0744b0 55%,#065bb7 64%,#066bb6 72%,#068595 80%,#07926e 86%,#0a9b4e 91%,#0ea733 95%,#1ab91b 98%,#34c70d)"></i><i style="left:1090.0px;width:2.5px;background:linear-gradient(#130079,#12007d 8%,#110082 16%,#0f048c 25%,#0c1396 35%,#0928a3 45%,#0649b2 55%,#0660b8 64%,#0670b2 72%,#068a89 80%,#089660 86%,#0b9f44 91%,#11ab2b 95%,#27c113 98%,#47ce07)"></i><i style="left:1092.0px;width:2.5px;background:linear-gradient(#16006c,#150070 8%,#140074 16%,#120082 25%,#0e098f 35%,#0a1b9b 45%,#073fae 55%,#065bb7 64%,#066db5 72%,#06888e 80%,#089563 86%,#0b9e46 91%,#10aa2c 95%,#24c014 98%,#43cd08)"></i><i style="left:1094.0px;width:2.5px;background:linear-gradient(#16006a,#15006e 8%,#140072 16%,#12007f 25%,#0f078e 35%,#0b199a 45%,#083dae 55%,#0659b7 64%,#066ab6 72%,#068594 80%,#07936a 86%,#0b9c4b 91%,#0fa830 95%,#1cbc18 98%,#3ac90b)"></i><i style="left:1096.0px;width:2.5px;background:linear-gradient(#0e088f,#0e0b91 8%,#0d0f94 16%,#0b199a 25%,#092ba5 35%,#0740af 45%,#0659b7 55%,#0669b7 64%,#067aa7 72%,#068f78 80%,#099955 86%,#0ca23b 91%,#16b421 95%,#38c80c 98%,#5dd304)"></i><i style="left:1098.0px;width:2.5px;background:linear-gradient(#140072,#140076 8%,#13007b 16%,#100088 25%,#0d0d93 35%,#0a219f 45%,#0743b0 55%,#065ab7 64%,#0669b7 72%,#068399 80%,#069072 86%,#0a9a51 91%,#0ea635 95%,#18b61e 98%,#2fc410)"></i><i style="left:1100.0px;width:2.5px;background:linear-gradient(#1a0058,#19005c 8%,#180061 16%,#15006d 25%,#120081 35%,#0e0b91 45%,#092da6 55%,#0649b2 64%,#065fb8 72%,#0677ac 80%,#068a8a 86%,#089562 91%,#0ba042 95%,#10aa2d 98%,#19b81c)"></i><i style="left:1102.0px;width:2.5px;background:linear-gradient(#180060,#170064 8%,#160069 16%,#140075 25%,#100089 35%,#0c1295 45%,#0835aa 55%,#064cb3 64%,#065fb8 72%,#0675ae 80%,#068790 86%,#079369 91%,#0b9e46 95%,#0fa830 98%,#17b421)"></i><i style="left:1104.0px;width:2.5px;background:linear-gradient(#12007d,#120080 8%,#110085 16%,#0f078e 25%,#0b1598 35%,#092ba5 45%,#064bb3 55%,#065eb8 64%,#066cb5 72%,#068496 80%,#069170 86%,#0a9a50 91%,#0ea634 95%,#19b71d 98%,#30c50f)"></i><i style="left:1106.0px;width:2.5px;background:linear-gradient(#110087,#10018a 8%,#0f048d 16%,#0d0e93 25%,#0a1e9d 35%,#0835aa 45%,#0652b5 55%,#0663b8 64%,#0672b1 72%,#068a8a 80%,#089563 86%,#0b9d48 91%,#10a92e 95%,#21be16 98%,#3fcc08)"></i><i style="left:1108.0px;width:2.5px;background:linear-gradient(#140072,#140076 8%,#13007b 16%,#100088 25%,#0d0e93 35%,#0a219f 45%,#0744b0 55%,#065ab7 64%,#0669b7 72%,#06829a 80%,#069074 86%,#0a9952 91%,#0da536 95%,#17b520 98%,#2cc311)"></i><i style="left:1110.0px;width:2.5px;background:linear-gradient(#0f038c,#0f068e 8%,#0e0990 16%,#0c1296 25%,#0a209e 35%,#0834aa 45%,#0651b5 55%,#0662b8 64%,#0670b3 72%,#06888e 80%,#079368 86%,#0b9c4b 91%,#0fa830 95%,#1cbc18 98%,#3ac90b)"></i><i style="left:1112.0px;width:2.5px;background:linear-gradient(#0e088f,#0e0990 8%,#0e0b91 16%,#0c1295 25%,#0a1a9b 35%,#0927a2 45%,#0746b1 55%,#065eb8 64%,#066eb4 72%,#06898c 80%,#089562 86%,#0b9e46 91%,#10aa2c 95%,#25c014 98%,#44cd07)"></i><i style="left:1114.0px;width:2.5px;background:linear-gradient(#0925a1,#0925a1 8%,#0926a2 16%,#092aa4 25%,#092fa7 35%,#0835aa 45%,#064fb4 55%,#0662b8 64%,#0673b1 72%,#068c83 80%,#09975a 86%,#0ca13f 91%,#14b025 95%,#32c60e 98%,#55d105)"></i><i style="left:1116.0px;width:2.5px;background:linear-gradient(#0834a9,#0834a9 8%,#0834aa 16%,#0838ac 25%,#083cad 35%,#0740af 45%,#0656b6 55%,#0667b8 64%,#0678ab 72%,#068f79 80%,#099954 86%,#0da33a 91%,#17b520 95%,#3bca0a 98%,#62d404)"></i><i style="left:1118.0px;width:2.5px;background:linear-gradient(#0a229f,#0a229f 8%,#0a22a0 16%,#0926a2 25%,#092ba5 35%,#0930a7 45%,#064bb3 55%,#0661b8 64%,#0670b2 72%,#068b87 80%,#08975c 86%,#0ba041 91%,#13ae28 95%,#2dc410 98%,#4fd006)"></i><i style="left:1120.0px;width:2.5px;background:linear-gradient(#0a209e,#0a209e 8%,#0a209e 16%,#0924a1 25%,#0929a3 35%,#092ea6 45%,#064ab2 55%,#065db8 64%,#066ab6 72%,#068496 80%,#07926e 86%,#0a9b4e 91%,#0ea733 95%,#1ab91b 98%,#34c70d)"></i><i style="left:1122.0px;width:2.5px;background:linear-gradient(#110083,#110084 8%,#110086 16%,#0f048d 25%,#0d0d92 35%,#0b1698 45%,#0838ac 55%,#0652b5 64%,#0664b8 72%,#067ea2 80%,#068e7c 86%,#099856 91%,#0da339 95%,#15b224 98%,#25c014)"></i><i style="left:1124.0px;width:2.5px;background:linear-gradient(#18005f,#180062 8%,#170066 16%,#140074 25%,#110086 35%,#0d0c92 45%,#0930a7 55%,#0651b5 64%,#0665b8 72%,#06809e 80%,#069075 86%,#0a9a51 91%,#0ea535 95%,#18b61f 98%,#2ec410)"></i><i style="left:1126.0px;width:2.5px;background:linear-gradient(#1a0058,#19005c 8%,#180061 16%,#140072 25%,#100088 35%,#0c1195 45%,#0838ac 55%,#0655b6 64%,#0667b8 72%,#06829b 80%,#069073 86%,#0a9a51 91%,#0ea535 95%,#18b61e 98%,#2fc410)"></i><i style="left:1128.0px;width:2.5px;background:linear-gradient(#1c003f,#1b0043 8%,#1b0049 16%,#19005c 25%,#140072 35%,#10008a 45%,#0923a0 55%,#0743b0 64%,#065bb7 72%,#0673b1 80%,#068692 86%,#07936a 91%,#0b9d47 95%,#0fa731 98%,#16b322)"></i><i style="left:1130.0px;width:2.5px;background:linear-gradient(#1b004b,#1b0050 8%,#1a0056 16%,#170068 25%,#12007e 35%,#0e0a90 45%,#092fa7 55%,#0651b5 64%,#0665b8 72%,#06809e 80%,#069076 86%,#0a9952 91%,#0ea536 95%,#18b51f 98%,#2dc311)"></i><i style="left:1132.0px;width:2.5px;background:linear-gradient(#1b0035,#1c0038 8%,#1c003e 16%,#1a0054 25%,#16006a 35%,#110082 45%,#0a1c9c 55%,#0742b0 64%,#065db8 72%,#0677ac 80%,#068b88 86%,#08965e 91%,#0ca13f 95%,#11ab2a 98%,#1bba1a)"></i><i style="left:1134.0px;width:2.5px;background:linear-gradient(#1b0044,#1b0048 8%,#1b004f 16%,#180063 25%,#130079 35%,#0f068e 45%,#092ba4 55%,#064fb4 64%,#0664b8 72%,#067fa0 80%,#068f77 86%,#0a9953 91%,#0da537 95%,#17b520 98%,#2bc311)"></i><i style="left:1136.0px;width:2.5px;background:linear-gradient(#1c003d,#1b0042 8%,#1b0048 16%,#19005e 25%,#140074 35%,#10028b 45%,#0926a1 55%,#0649b2 64%,#0661b8 72%,#067ba7 80%,#068c81 86%,#09975a 91%,#0ca23c 95%,#13af27 98%,#20be16)"></i><i style="left:1138.0px;width:2.5px;background:linear-gradient(#180061,#170065 8%,#16006a 16%,#12007f 25%,#0e0a90 35%,#0a1d9c 45%,#0743b0 55%,#0659b7 64%,#0667b8 72%,#06809f 80%,#068e7b 86%,#099857 91%,#0da33a 95%,#15b124 98%,#24c014)"></i><i style="left:1140.0px;width:2.5px;background:linear-gradient(#18005f,#180063 8%,#160068 16%,#12007d 25%,#0e0990 35%,#0a1c9c 45%,#0743b0 55%,#0657b6 64%,#0665b8 72%,#067ca5 80%,#068b85 86%,#08965e 91%,#0ca040 95%,#11ab2b 98%,#1bba1a)"></i><i style="left:1142.0px;width:2.5px;background:linear-gradient(#19005d,#180061 8%,#170067 16%,#12007c 25%,#0e088f 35%,#0a1b9c 45%,#0743b0 55%,#065bb7 64%,#066ab7 72%,#068497 80%,#069171 86%,#0a9a50 91%,#0ea634 95%,#19b71d 98%,#30c50f)"></i><i style="left:1144.0px;width:2.5px;background:linear-gradient(#12007e,#110084 8%,#10028b 16%,#0c1195 25%,#0926a2 35%,#083dae 45%,#065bb7 55%,#0669b7 64%,#0679a9 72%,#068d7e 80%,#09975a 86%,#0ca041 91%,#13ae27 95%,#2ec410 98%,#50d006)"></i><i style="left:1146.0px;width:2.5px;background:linear-gradient(#190030,#1c0037 8%,#1b0041 16%,#1a0057 25%,#15006e 35%,#100089 45%,#0924a0 55%,#073eae 64%,#0652b5 72%,#0669b7 80%,#067ba5 86%,#068c83 91%,#099857 95%,#0ca13d 98%,#0fa830)"></i><i style="left:1148.0px;width:2.5px;background:linear-gradient(#1c0037,#1b0041 8%,#1b004c 16%,#180060 25%,#130077 35%,#0e078f 45%,#092fa7 55%,#0649b2 64%,#065bb7 72%,#0671b2 80%,#068399 86%,#069074 91%,#0a9b4d 95%,#0ea535 98%,#13ae27)"></i><i style="left:1150.0px;width:2.5px;background:linear-gradient(#11001d,#150025 8%,#19002f 16%,#1b0041 25%,#19005b 35%,#130077 45%,#0b1698 55%,#0834aa 64%,#064db4 72%,#0667b8 80%,#067aa8 86%,#068b86 91%,#099858 95%,#0ca13f 98%,#0fa831)"></i><i style="left:1152.0px;width:2.5px;background:linear-gradient(#1b0034,#1b0040 8%,#1b004e 16%,#180060 25%,#130077 35%,#0e088f 45%,#0832a8 55%,#0650b4 64%,#0662b8 72%,#067aa8 80%,#068b86 86%,#08965e 91%,#0ca040 95%,#11ab2b 98%,#1bba1a)"></i><i style="left:1154.0px;width:2.5px;background:linear-gradient(#1c003e,#1b004a 8%,#1a0058 16%,#160069 25%,#120081 35%,#0d0f94 45%,#083aad 55%,#065bb7 64%,#066cb5 72%,#06888f 80%,#079464 86%,#0b9e47 91%,#10aa2d 95%,#23bf15 98%,#41cc08)"></i><i style="left:1156.0px;width:2.5px;background:linear-gradient(#1b0040,#1b004d 8%,#1a005a 16%,#16006b 25%,#110083 35%,#0c1295 45%,#083dae 55%,#065cb7 64%,#066db5 72%,#06888e 80%,#089563 86%,#0b9e46 91%,#10aa2c 95%,#24c014 98%,#43cd08)"></i><i style="left:1158.0px;width:2.5px;background:linear-gradient(#1b0043,#1a0050 8%,#19005d 16%,#15006e 25%,#110086 35%,#0c1497 45%,#073faf 55%,#065cb8 64%,#066db5 72%,#068790 80%,#079467 86%,#0b9d49 91%,#0fa92f 95%,#1fbd17 98%,#3dcb09)"></i><i style="left:1160.0px;width:2.5px;background:linear-gradient(#1c0038,#1b0045 8%,#1a0053 16%,#170064 25%,#12007d 35%,#0d0d92 45%,#0838ac 55%,#0655b6 64%,#0666b8 72%,#06809e 80%,#068f78 86%,#099954 91%,#0da438 95%,#16b421 98%,#29c212)"></i><i style="left:1162.0px;width:2.5px;background:linear-gradient(#1a0054,#180060 8%,#16006c 16%,#12007d 25%,#0e0990 35%,#0a219f 45%,#064bb3 55%,#0664b8 64%,#0677ac 72%,#068e7a 80%,#099954 86%,#0da33a 91%,#18b51f 95%,#3cca0a 98%,#63d504)"></i><i style="left:1164.0px;width:2.5px;background:linear-gradient(#1b0046,#1a0053 8%,#18005f 16%,#150071 25%,#10008a 35%,#0b1799 45%,#0742b0 55%,#0660b8 64%,#0672b1 72%,#068c84 80%,#09975a 86%,#0ca13f 91%,#14b025 95%,#31c60e 98%,#55d105)"></i><i style="left:1166.0px;width:2.5px;background:linear-gradient(#1c003d,#1b004a 8%,#1a0057 16%,#160069 25%,#120082 35%,#0c1095 45%,#083cad 55%,#065eb8 64%,#0671b2 72%,#068c83 80%,#099759 86%,#0ca13d 91%,#15b224 95%,#34c70d 98%,#59d205)"></i><i style="left:1168.0px;width:2.5px;background:linear-gradient(#160028,#1a0033 8%,#1c003f 16%,#1a0053 25%,#16006c 35%,#100089 45%,#0928a3 55%,#0652b5 64%,#0668b8 72%,#068693 80%,#079466 86%,#0b9e47 91%,#10a92d 95%,#23bf15 98%,#42cc08)"></i><i style="left:1170.0px;width:2.5px;background:linear-gradient(#1a0052,#19005e 8%,#16006a 16%,#13007c 25%,#0e0990 35%,#0a219f 45%,#064bb3 55%,#0664b8 64%,#0677ac 72%,#068e7b 80%,#099955 86%,#0ca33a 91%,#17b520 95%,#3bca0a 98%,#61d404)"></i><i style="left:1172.0px;width:2.5px;background:linear-gradient(#1a0032,#1c003e 8%,#1b004b 16%,#19005f 25%,#130077 35%,#0e0990 45%,#0834a9 55%,#0657b6 64%,#066bb6 72%,#068791 80%,#079465 86%,#0b9e47 91%,#10a92d 95%,#23bf15 98%,#42cd08)"></i><i style="left:1174.0px;width:2.5px;background:linear-gradient(#17002c,#1b0036 8%,#1b0043 16%,#1a0057 25%,#150070 35%,#0f038c 45%,#092da6 55%,#0651b5 64%,#0665b8 72%,#06819d 80%,#069074 86%,#0a9a51 91%,#0ea635 95%,#19b71e 98%,#30c50f)"></i><i style="left:1176.0px;width:2.5px;background:linear-gradient(#190030,#1c003b 8%,#1b0048 16%,#19005c 25%,#140075 35%,#0e078f 45%,#0832a8 55%,#0654b5 64%,#0667b8 72%,#06829b 80%,#069072 86%,#0a9a50 91%,#0ea634 95%,#19b81d 98%,#32c60e)"></i><i style="left:1178.0px;width:2.5px;background:linear-gradient(#18002d,#1c0037 8%,#1b0045 16%,#1a0059 25%,#150072 35%,#0f058d 45%,#092fa7 55%,#0650b5 64%,#0663b8 72%,#067da3 80%,#068d7e 86%,#099858 91%,#0ca33a 95%,#15b124 98%,#24c014)"></i><i style="left:1180.0px;width:2.5px;background:linear-gradient(#12001e,#160028 8%,#1a0033 16%,#1b0046 25%,#180061 35%,#12007f 45%,#0a1f9e 55%,#0744b1 64%,#065db8 72%,#0676ad 80%,#068a8b 86%,#089562 91%,#0ba042 95%,#10aa2c 98%,#1ab91b)"></i><i style="left:1182.0px;width:2.5px;background:linear-gradient(#17002c,#1b0036 8%,#1b0043 16%,#1a0058 25%,#150071 35%,#0f048d 45%,#092ea6 55%,#064cb3 64%,#065fb8 72%,#0675ae 80%,#06888f 86%,#079368 91%,#0b9e45 95%,#0fa82f 98%,#18b61f)"></i><i style="left:1184.0px;width:2.5px;background:linear-gradient(#0f001a,#130020 8%,#17002b 16%,#1c003d 25%,#1a0059 35%,#130077 45%,#0b1899 55%,#0839ac 64%,#0651b5 72%,#066ab7 80%,#067ea2 86%,#068d7d 91%,#0a9953 95%,#0da33a 98%,#10aa2c)"></i><i style="left:1186.0px;width:2.5px;background:linear-gradient(#12001d,#160027 8%,#1a0032 16%,#1b0046 25%,#180061 35%,#12007f 45%,#0a1f9e 55%,#0740af 64%,#0657b6 72%,#066fb3 80%,#06829a 86%,#069074 91%,#0a9b4c 95%,#0ea635 98%,#14af26)"></i><i style="left:1188.0px;width:2.5px;background:linear-gradient(#1c0037,#1b0043 8%,#1a0051 16%,#170064 25%,#12007e 35%,#0d0e93 45%,#083bad 55%,#0655b6 64%,#0665b8 72%,#067da3 80%,#068d80 86%,#09975a 91%,#0ca23c 95%,#13af26 98%,#21be16)"></i><i style="left:1190.0px;width:2.5px;background:linear-gradient(#1b0049,#1a0056 8%,#180062 16%,#140074 25%,#0f048c 35%,#0a1b9c 45%,#0748b2 55%,#065eb8 64%,#066cb6 72%,#068497 80%,#069172 86%,#0a9a51 91%,#0ea535 95%,#19b71e 98%,#30c50f)"></i><i style="left:1192.0px;width:2.5px;background:linear-gradient(#1b0046,#1a0052 8%,#19005f 16%,#150071 25%,#10018b 35%,#0b199a 45%,#0745b1 55%,#065eb8 64%,#066bb6 72%,#068497 80%,#069172 86%,#0a9a51 91%,#0ea635 95%,#19b71d 98%,#31c50f)"></i><i style="left:1194.0px;width:2.5px;background:linear-gradient(#18002e,#1c0038 8%,#1b0046 16%,#19005b 25%,#140074 35%,#0e078f 45%,#0833a9 55%,#0652b5 64%,#0664b8 72%,#067ea2 80%,#068e7c 86%,#099857 91%,#0da33a 95%,#15b223 98%,#26c113)"></i><i style="left:1196.0px;width:2.5px;background:linear-gradient(#1c003b,#1b0048 8%,#1a0055 16%,#170068 25%,#110082 35%,#0c1296 45%,#073fae 55%,#065bb7 64%,#066bb6 72%,#068496 80%,#07926e 86%,#0a9b4e 91%,#0ea732 95%,#1bba1a 98%,#37c80c)"></i><i style="left:1198.0px;width:2.5px;background:linear-gradient(#1b0035,#1b0041 8%,#1b004f 16%,#180063 25%,#12007d 35%,#0d0e93 45%,#083bad 55%,#065ab7 64%,#066bb6 72%,#068594 80%,#07936b 86%,#0a9c4b 91%,#0fa830 95%,#1dbc18 98%,#3cca0a)"></i><i style="left:1200.0px;width:2.5px;background:linear-gradient(#12001e,#160029 8%,#1a0034 16%,#1b0048 25%,#170064 35%,#110083 45%,#0a23a0 55%,#0748b2 64%,#065fb8 72%,#0678aa 80%,#068b86 86%,#08965d 91%,#0ca13f 95%,#12ad29 98%,#1cbc18)"></i><i style="left:1202.0px;width:2.5px;background:linear-gradient(#1b0047,#1a0054 8%,#180060 16%,#140073 25%,#0f038c 35%,#0a1c9c 45%,#0748b2 55%,#0660b8 64%,#066fb4 72%,#068790 80%,#079369 86%,#0a9c4b 91%,#0fa830 95%,#1dbd17 98%,#3cca0a)"></i><i style="left:1204.0px;width:2.5px;background:linear-gradient(#160029,#1a0034 8%,#1b0041 16%,#1a0056 25%,#150070 35%,#0f058d 45%,#0930a7 55%,#0650b4 64%,#0662b8 72%,#067ba7 80%,#068c84 86%,#08965c 91%,#0ca13e 95%,#13ae28 98%,#1ebd17)"></i><i style="left:1206.0px;width:2.5px;background:linear-gradient(#140024,#18002f 8%,#1c003a 16%,#1b0050 25%,#16006b 35%,#10008a 45%,#092ba4 55%,#064db4 64%,#0661b8 72%,#0679a9 80%,#068b86 86%,#08965d 91%,#0ca13f 95%,#12ad29 98%,#1dbc18)"></i><i style="left:1208.0px;width:2.5px;background:linear-gradient(#1b0042,#1b004f 8%,#19005c 16%,#15006f 25%,#10008a 35%,#0b199a 45%,#0745b1 55%,#065eb8 64%,#066cb5 72%,#068595 80%,#069170 86%,#0a9a50 91%,#0ea633 95%,#1ab91c 98%,#35c70d)"></i><i style="left:1210.0px;width:2.5px;background:linear-gradient(#1c003e,#1b004b 8%,#1a0058 16%,#16006c 25%,#110086 35%,#0b1698 45%,#0743b0 55%,#065cb8 64%,#066ab6 72%,#068398 80%,#069172 86%,#0a9a51 91%,#0ea635 95%,#19b71d 98%,#32c60e)"></i><i style="left:1212.0px;width:2.5px;background:linear-gradient(#180063,#15006e 8%,#13007b 16%,#0f048c 25%,#0b199a 35%,#0837ab 45%,#065ab7 55%,#0667b8 64%,#0674af 72%,#068a8a 80%,#079467 86%,#0a9c4c 91%,#0fa830 95%,#1dbc18 98%,#3cca0a)"></i><i style="left:1214.0px;width:2.5px;background:linear-gradient(#190031,#1c003c 8%,#1b004a 16%,#18005f 25%,#13007a 35%,#0d0c92 45%,#083aad 55%,#0652b5 64%,#0661b8 72%,#0677ab 80%,#06898d 86%,#079467 91%,#0b9f45 95%,#0fa92e 98%,#19b71d)"></i><i style="left:1216.0px;width:2.5px;background:linear-gradient(#1a0032,#1c003d 8%,#1b004b 16%,#180060 25%,#13007b 35%,#0d0d92 45%,#083aad 55%,#0653b5 64%,#0662b8 72%,#0678aa 80%,#06898b 86%,#079465 91%,#0b9f43 95%,#10a92d 98%,#1ab81c)"></i><i style="left:1218.0px;width:2.5px;background:linear-gradient(#1a0032,#1c003e 8%,#1b004b 16%,#180061 25%,#13007b 35%,#0d0e93 45%,#083bad 55%,#0654b6 64%,#0663b8 72%,#067aa7 80%,#068b86 86%,#089660 91%,#0ca040 95%,#11ac2a 98%,#1bbb19)"></i><i style="left:1220.0px;width:2.5px;background:linear-gradient(#1a0056,#180062 8%,#15006e 16%,#110082 25%,#0d0f94 35%,#092ba5 45%,#0653b5 55%,#0662b8 64%,#066db4 72%,#068399 80%,#068f78 86%,#099857 91%,#0da439 95%,#16b322 98%,#29c212)"></i><i style="left:1222.0px;width:2.5px;background:linear-gradient(#190031,#1c003c 8%,#1b004a 16%,#180060 25%,#13007b 35%,#0d0d93 45%,#083bad 55%,#0655b6 64%,#0664b8 72%,#067ba6 80%,#068b85 86%,#08965e 91%,#0ca13f 95%,#12ad29 98%,#1dbc18)"></i><i style="left:1224.0px;width:2.5px;background:linear-gradient(#130021,#17002c 8%,#1c0037 16%,#1b004d 25%,#160069 35%,#10008a 45%,#092ba4 55%,#064fb4 64%,#0663b8 72%,#067da4 80%,#068d7e 86%,#099858 91%,#0da33a 95%,#15b223 98%,#27c113)"></i><i style="left:1226.0px;width:2.5px;background:linear-gradient(#1a0053,#18005f 8%,#16006b 16%,#120080 25%,#0d0e93 35%,#0929a4 45%,#0652b5 55%,#0666b8 64%,#0677ac 72%,#068d80 80%,#09975a 86%,#0ca040 91%,#14b026 95%,#32c60e 98%,#57d205)"></i><i style="left:1228.0px;width:2.5px;background:linear-gradient(#19002f,#1c003a 8%,#1b0047 16%,#19005e 25%,#130079 35%,#0d0c92 45%,#083aad 55%,#065db8 64%,#066fb3 72%,#068a89 80%,#08965d 86%,#0ba042 91%,#13ae27 95%,#2fc50f 98%,#54d106)"></i><i style="left:1230.0px;width:2.5px;background:linear-gradient(#1c003d,#1b004a 8%,#1a0058 16%,#16006c 25%,#100088 35%,#0b1899 45%,#0745b1 55%,#0662b8 64%,#0674b0 72%,#068d80 80%,#099858 86%,#0ca23d 91%,#16b223 95%,#38c80c 98%,#5fd404)"></i><i style="left:1232.0px;width:2.5px;background:linear-gradient(#1b0045,#1a0051 8%,#19005e 16%,#140072 25%,#0f048c 35%,#0a1d9d 45%,#064bb3 55%,#0661b8 64%,#0671b2 72%,#06898c 80%,#079465 86%,#0b9d48 91%,#10a92e 95%,#23bf15 98%,#44cd08)"></i><i style="left:1234.0px;width:2.5px;background:linear-gradient(#11001d,#150026 8%,#190031 16%,#1b0047 25%,#170064 35%,#110085 45%,#0926a2 55%,#064bb3 64%,#0661b8 72%,#067aa8 80%,#068c84 86%,#08965c 91%,#0ca13d 95%,#13ae27 98%,#20be16)"></i><i style="left:1236.0px;width:2.5px;background:linear-gradient(#12001e,#160028 8%,#1a0033 16%,#1b0049 25%,#170066 35%,#110087 45%,#0929a3 55%,#0652b5 64%,#0667b8 72%,#068498 80%,#07926c 86%,#0a9c4b 91%,#0fa830 95%,#1ebd17 98%,#3ecb09)"></i><i style="left:1238.0px;width:2.5px;background:linear-gradient(#130021,#17002b 8%,#1b0036 16%,#1b004d 25%,#16006a 35%,#10018b 45%,#092da6 55%,#0654b6 64%,#0668b8 72%,#068595 80%,#079369 86%,#0b9d4a 91%,#0fa92f 95%,#21be16 98%,#41cc08)"></i><i style="left:1240.0px;width:2.5px;background:linear-gradient(#12001e,#160029 8%,#1a0034 16%,#1b004a 25%,#170068 35%,#100089 45%,#092ba4 55%,#0651b5 64%,#0665b8 72%,#06819d 80%,#069074 86%,#0a9a51 91%,#0ea634 95%,#1ab81c 98%,#34c70d)"></i><i style="left:1242.0px;width:2.5px;background:linear-gradient(#160027,#1a0032 8%,#1c003e 16%,#1a0056 25%,#150072 35%,#0e078f 45%,#0835aa 55%,#0656b6 64%,#0667b8 72%,#06829b 80%,#069073 86%,#0a9a50 91%,#0ea634 95%,#1ab91c 98%,#35c70d)"></i><i style="left:1244.0px;width:2.5px;background:linear-gradient(#0c0016,#10001b 8%,#140024 16%,#1c0037 25%,#1a0057 35%,#130077 45%,#0a1b9b 55%,#0742b0 64%,#065bb7 72%,#0674b0 80%,#06888f 86%,#079466 91%,#0b9f44 95%,#10a92d 98%,#1ab91c)"></i><i style="left:1246.0px;width:2.5px;background:linear-gradient(#10001b,#140022 8%,#18002e 16%,#1b0043 25%,#180061 35%,#110082 45%,#0925a1 55%,#0748b2 64%,#065eb8 72%,#0675ae 80%,#06888e 86%,#079466 91%,#0b9f44 95%,#10a92d 98%,#1ab91c)"></i><i style="left:1248.0px;width:2.5px;background:linear-gradient(#0d0017,#11001d 8%,#150027 16%,#1c003b 25%,#1a005a 35%,#13007b 45%,#0a1e9d 55%,#0748b2 64%,#0660b8 72%,#067aa7 80%,#068d81 86%,#099759 91%,#0ca33a 95%,#15b124 98%,#27c113)"></i><i style="left:1250.0px;width:2.5px;background:linear-gradient(#0a0013,#0e0019 8%,#130020 16%,#1a0033 25%,#1a0052 35%,#140074 45%,#0b1899 55%,#0740af 64%,#065bb7 72%,#0674b0 80%,#06888d 86%,#079464 91%,#0b9f42 95%,#10aa2c 98%,#1bba1a)"></i><i style="left:1252.0px;width:2.5px;background:linear-gradient(#1c003a,#1b0047 8%,#1a0055 16%,#16006a 25%,#110087 35%,#0b1899 45%,#0746b1 55%,#0660b8 64%,#0670b3 72%,#06898b 80%,#089563 86%,#0b9e47 91%,#10aa2c 95%,#26c113 98%,#48ce07)"></i><i style="left:1254.0px;width:2.5px;background:linear-gradient(#17002c,#1c0037 8%,#1b0044 16%,#19005c 25%,#130078 35%,#0d0c92 45%,#083bad 55%,#0657b6 64%,#0666b8 72%,#067fa0 80%,#068e7c 86%,#099858 91%,#0da339 95%,#16b322 98%,#29c212)"></i><i style="left:1256.0px;width:2.5px;background:linear-gradient(#190030,#1c003c 8%,#1b004a 16%,#180061 25%,#12007d 35%,#0d1094 45%,#073fae 55%,#065db8 64%,#066db5 72%,#068791 80%,#079368 86%,#0b9c4a 91%,#0fa92f 95%,#21be16 98%,#41cc08)"></i><i style="left:1258.0px;width:2.5px;background:linear-gradient(#0e0018,#12001e 8%,#160029 16%,#1c003e 25%,#19005d 35%,#12007e 45%,#0a219f 55%,#064ab3 64%,#0661b8 72%,#067ba6 80%,#068d80 86%,#099859 91%,#0ca33a 95%,#15b224 98%,#27c113)"></i><i style="left:1260.0px;width:2.5px;background:linear-gradient(#130020,#17002b 8%,#1c0037 16%,#1b004f 25%,#16006c 35%,#0f038c 45%,#0930a7 55%,#0650b5 64%,#0663b8 72%,#067ba6 80%,#068c83 86%,#08975c 91%,#0ca23d 95%,#13af27 98%,#21be16)"></i><i style="left:1262.0px;width:2.5px;background:linear-gradient(#12001e,#160028 8%,#1b0034 16%,#1b004b 25%,#160069 35%,#10008a 45%,#092da6 55%,#0655b6 64%,#0669b7 72%,#068693 80%,#079467 86%,#0b9d48 91%,#10a92d 95%,#25c014 98%,#45cd07)"></i><i style="left:1264.0px;width:2.5px;background:linear-gradient(#090012,#0e0018 8%,#12001f 16%,#1a0033 25%,#1a0051 35%,#140073 45%,#0b1799 55%,#0746b1 64%,#0661b8 72%,#067ca4 80%,#068e7b 86%,#099954 91%,#0da537 95%,#17b520 98%,#2ec410)"></i><i style="left:1266.0px;width:2.5px;background:linear-gradient(#18002d,#1c0039 8%,#1b0048 16%,#18005f 25%,#13007b 35%,#0d0f94 45%,#073eae 55%,#0660b8 64%,#0674b0 72%,#068d7f 80%,#099856 86%,#0ca33b 91%,#17b520 95%,#3dcb09 98%,#65d503)"></i><i style="left:1268.0px;width:2.5px;background:linear-gradient(#10001b,#140024 8%,#190031 16%,#1b0047 25%,#170065 35%,#110086 45%,#0929a3 55%,#0655b6 64%,#066ab6 72%,#06888f 80%,#089562 86%,#0b9f44 91%,#11ac2a 95%,#2bc311 98%,#4ecf06)"></i><i style="left:1270.0px;width:2.5px;background:linear-gradient(#140022,#18002e 8%,#1c003b 16%,#1a0053 25%,#15006f 35%,#0f068e 45%,#0833a9 55%,#065bb7 64%,#066fb3 72%,#068b86 80%,#08975b 86%,#0ca13e 91%,#15b124 95%,#35c70d 98%,#5bd305)"></i><i style="left:1272.0px;width:2.5px;background:linear-gradient(#0a0013,#0f001a 8%,#140023 16%,#1b0036 25%,#1a0056 35%,#140077 45%,#0a1a9b 55%,#0746b1 64%,#0660b8 72%,#067aa8 80%,#068c82 86%,#099759 91%,#0ca33b 95%,#14b125 98%,#24c014)"></i><i style="left:1274.0px;width:2.5px;background:linear-gradient(#18002e,#1c003a 8%,#1b004a 16%,#180060 25%,#12007d 35%,#0d1094 45%,#073fae 55%,#065fb8 64%,#0671b2 72%,#068b87 80%,#08965d 86%,#0ba041 91%,#13af27 95%,#30c50f 98%,#53d106)"></i><i style="left:1276.0px;width:2.5px;background:linear-gradient(#17002c,#1c0038 8%,#1b0048 16%,#19005f 25%,#13007b 35%,#0d0f93 45%,#083dae 55%,#0660b8 64%,#0674b0 72%,#068d7e 80%,#099955 86%,#0da33a 91%,#18b61f 95%,#3ecb09 98%,#67d603)"></i><i style="left:1278.0px;width:2.5px;background:linear-gradient(#130021,#18002e 8%,#1c003b 16%,#1a0053 25%,#150070 35%,#0f068e 45%,#0834aa 55%,#0656b6 64%,#0668b8 72%,#06829a 80%,#069072 86%,#0a9a50 91%,#0ea634 95%,#1ab91c 98%,#34c70d)"></i><i style="left:1280.0px;width:2.5px;background:linear-gradient(#0d0017,#11001d 8%,#17002a 16%,#1c003e 25%,#19005e 35%,#12007f 45%,#0a229f 55%,#064ab3 64%,#0661b8 72%,#067ba7 80%,#068c82 86%,#099759 91%,#0ca23b 95%,#14b025 98%,#23bf15)"></i><i style="left:1282.0px;width:2.5px;background:linear-gradient(#0e0019,#130021 8%,#18002e 16%,#1b0044 25%,#180063 35%,#110084 45%,#0927a2 55%,#064cb3 64%,#0661b8 72%,#0679a8 80%,#068b85 86%,#08965c 91%,#0ca13e 95%,#12ae28 98%,#1ebd17)"></i><i style="left:1284.0px;width:2.5px;background:linear-gradient(#1c003a,#1b004a 8%,#1a005a 16%,#15006f 25%,#10018b 35%,#0a1c9c 45%,#064ab3 55%,#0661b8 64%,#066fb3 72%,#068791 80%,#07926b 86%,#0a9b4c 91%,#0fa831 95%,#1cbb19 98%,#39c90b)"></i><i style="left:1286.0px;width:2.5px;background:linear-gradient(#150025,#1a0032 8%,#1b0041 16%,#1a0059 25%,#140075 35%,#0e0a90 45%,#0838ac 55%,#0656b6 64%,#0667b8 72%,#067fa0 80%,#068e7b 86%,#099856 91%,#0da438 95%,#16b322 98%,#28c113)"></i><i style="left:1288.0px;width:2.5px;background:linear-gradient(#18002e,#1c003c 8%,#1b004c 16%,#180063 25%,#12007f 35%,#0c1295 45%,#0740af 55%,#065fb8 64%,#066fb3 72%,#06888d 80%,#079465 86%,#0b9e47 91%,#10aa2d 95%,#24c014 98%,#43cd08)"></i><i style="left:1290.0px;width:2.5px;background:linear-gradient(#190031,#1b0040 8%,#1a0051 16%,#170067 25%,#110083 35%,#0b1598 45%,#0744b0 55%,#0661b8 64%,#0672b1 72%,#068b87 80%,#08965d 86%,#0ba042 91%,#13ae28 95%,#2dc410 98%,#4fd006)"></i><i style="left:1292.0px;width:2.5px;background:linear-gradient(#0a0012,#0f001a 8%,#140023 16%,#1c0037 25%,#1a0057 35%,#130078 45%,#0a1b9b 55%,#064ab3 64%,#0663b8 72%,#067fa0 80%,#068f76 86%,#0a9a51 91%,#0ea634 95%,#19b71d 98%,#31c50f)"></i><i style="left:1294.0px;width:2.5px;background:linear-gradient(#160027,#1b0035 8%,#1b0045 16%,#19005c 25%,#130079 35%,#0d0d92 45%,#083bad 55%,#0661b8 64%,#0677ac 72%,#068f77 80%,#0a9a50 86%,#0ea635 91%,#1cbb19 95%,#4bcf07 98%,#73d902)"></i><i style="left:1296.0px;width:2.5px;background:linear-gradient(#010002,#05000a 8%,#0a0012 16%,#11001d 25%,#1b0036 35%,#19005b 45%,#0f048c 55%,#073eae 64%,#0662b8 72%,#068399 80%,#079467 86%,#0b9f44 91%,#11ac2a 95%,#28c113 98%,#49ce07)"></i><i style="left:1298.0px;width:2.5px;background:linear-gradient(#080010,#0d0017 8%,#130020 16%,#1a0033 25%,#1a0052 35%,#140074 45%,#0b1899 55%,#064fb4 64%,#0669b7 72%,#06888e 80%,#08965d 86%,#0ca13f 91%,#14b125 95%,#32c60e 98%,#56d105)"></i><i style="left:1300.0px;width:2.5px;background:linear-gradient(#0f001a,#140024 8%,#1a0033 16%,#1b0049 25%,#170067 35%,#100089 45%,#092ba5 55%,#065bb7 64%,#0673b1 72%,#068e7c 80%,#0a9a52 86%,#0ea535 91%,#1bbb1a 95%,#48ce07 98%,#70d802)"></i><i style="left:1302.0px;width:2.5px;background:linear-gradient(#0b0014,#10001c 8%,#160028 16%,#1c003c 25%,#19005b 35%,#12007d 45%,#0a1f9e 55%,#0655b6 64%,#066fb3 72%,#068c82 80%,#099955 86%,#0da437 91%,#1ab81c 95%,#42cd08 98%,#6ad703)"></i><i style="left:1304.0px;width:2.5px;background:linear-gradient(#1a0033,#1b0044 8%,#1a0055 16%,#16006b 25%,#100088 35%,#0b189a 45%,#0747b1 55%,#0667b8 64%,#06809f 72%,#079464 80%,#0b9f43 86%,#12ac29 91%,#33c60e 95%,#6ad703 98%,#80dc00)"></i><i style="left:1306.0px;width:2.5px;background:linear-gradient(#1b0035,#1b0046 8%,#1a0058 16%,#16006d 25%,#10008a 35%,#0a1a9b 45%,#0748b2 55%,#0665b8 64%,#067ba7 72%,#069073 80%,#0a9a4f 86%,#0ea634 91%,#1cbc19 95%,#4acf07 98%,#72d902)"></i><i style="left:1308.0px;width:2.5px;background:linear-gradient(#0e0019,#140023 8%,#1a0032 16%,#1b0048 25%,#170066 35%,#100088 45%,#092aa4 55%,#0651b5 64%,#0666b8 72%,#06809f 80%,#068f77 86%,#0a9952 91%,#0ea536 95%,#18b61f 98%,#2dc410)"></i><i style="left:1310.0px;width:2.5px;background:linear-gradient(#05000a,#0a0012 8%,#0f001a 16%,#17002a 25%,#1b0047 35%,#16006a 45%,#0d1094 55%,#0836ab 64%,#0652b5 72%,#066bb6 80%,#067fa0 86%,#068f77 91%,#0a9a4f 95%,#0da437 98%,#11ac2a)"></i><i style="left:1312.0px;width:2.5px;background:linear-gradient(#0a0013,#10001b 8%,#160028 16%,#1c003c 25%,#19005c 35%,#12007d 45%,#0a209e 55%,#0742b0 64%,#0659b7 72%,#066fb3 80%,#06829b 86%,#069074 91%,#0a9b4d 95%,#0ea535 98%,#13ae27)"></i><i style="left:1314.0px;width:2.5px;background:linear-gradient(#0f001a,#140024 8%,#1a0033 16%,#1b004a 25%,#170068 35%,#10008a 45%,#092ca5 55%,#064db4 64%,#0660b8 72%,#0676ae 80%,#06888f 86%,#079466 91%,#0b9f44 95%,#0fa92f 98%,#18b51f)"></i><i style="left:1316.0px;width:2.5px;background:linear-gradient(#0c0016,#12001e 8%,#18002d 16%,#1b0042 25%,#180061 35%,#110082 45%,#0925a1 55%,#0742b0 64%,#0657b6 72%,#066cb5 80%,#067ea2 86%,#068e7d 91%,#0a9953 95%,#0ca33a 98%,#10a92d)"></i><i style="left:1318.0px;width:2.5px;background:linear-gradient(#1b0036,#1b0047 8%,#1a005a 16%,#15006f 25%,#10028b 35%,#0a1c9c 45%,#064ab3 55%,#065cb8 64%,#0667b8 72%,#067ba6 80%,#068a8a 86%,#079464 91%,#0b9f43 95%,#0fa92e 98%,#18b61e)"></i><i style="left:1320.0px;width:2.5px;background:linear-gradient(#11001d,#17002b 8%,#1c003b 16%,#1a0053 25%,#15006f 35%,#0f068e 45%,#0833a9 55%,#064eb4 64%,#065fb8 72%,#0671b2 80%,#068399 86%,#069073 91%,#0a9b4c 95%,#0ea535 98%,#13ae27)"></i><i style="left:1322.0px;width:2.5px;background:linear-gradient(#12001f,#18002e 8%,#1c003f 16%,#1a0057 25%,#140073 35%,#0e098f 45%,#0837ab 55%,#0651b5 64%,#0662b8 72%,#0676ae 80%,#068791 86%,#079369 91%,#0b9e46 95%,#0fa831 98%,#16b322)"></i><i style="left:1324.0px;width:2.5px;background:linear-gradient(#1b0036,#1b0048 8%,#19005b 16%,#150070 25%,#10028b 35%,#0a1d9c 45%,#064bb3 55%,#0660b8 64%,#066eb4 72%,#068496 80%,#069072 86%,#0a9a51 91%,#0ea635 95%,#18b61f 98%,#2dc410)"></i><i style="left:1326.0px;width:2.5px;background:linear-gradient(#0c0015,#12001e 8%,#18002d 16%,#1b0043 25%,#180062 35%,#110083 45%,#0926a1 55%,#064db4 64%,#0663b8 72%,#067ba6 80%,#068c81 86%,#099859 91%,#0ca33b 95%,#13af26 98%,#20be16)"></i><i style="left:1328.0px;width:2.5px;background:linear-gradient(#0d0017,#130022 8%,#190031 16%,#1b0048 25%,#170066 35%,#100088 45%,#092aa4 55%,#064fb4 64%,#0664b8 72%,#067ca4 80%,#068d80 86%,#099858 91%,#0ca33a 95%,#14b026 98%,#21be16)"></i><i style="left:1330.0px;width:2.5px;background:linear-gradient(#12001f,#18002f 8%,#1b0040 16%,#1a0058 25%,#140074 35%,#0e0990 45%,#0838ac 55%,#065ab7 64%,#066db4 72%,#068791 80%,#079367 86%,#0b9d48 91%,#10a92e 95%,#20be16 98%,#3dcb09)"></i><i style="left:1332.0px;width:2.5px;background:linear-gradient(#0d0017,#130021 8%,#190031 16%,#1b0048 25%,#170066 35%,#100087 45%,#092aa4 55%,#0652b5 64%,#0667b8 72%,#06819d 80%,#069074 86%,#0a9a50 91%,#0ea634 95%,#19b71e 98%,#2ec410)"></i><i style="left:1334.0px;width:2.5px;background:linear-gradient(#160027,#1c0038 8%,#1b004c 16%,#180062 25%,#12007f 35%,#0c1195 45%,#0740af 55%,#0660b8 64%,#0673b0 72%,#068b85 80%,#08975c 86%,#0ca13f 91%,#14b025 95%,#2fc410 98%,#50d006)"></i><i style="left:1336.0px;width:2.5px;background:linear-gradient(#130021,#1a0032 8%,#1b0044 16%,#19005c 25%,#130078 35%,#0d0c92 45%,#083bad 55%,#065db8 64%,#066fb3 72%,#06898d 80%,#089563 86%,#0b9e45 91%,#10ab2b 95%,#25c014 98%,#42cc08)"></i><i style="left:1338.0px;width:2.5px;background:linear-gradient(#0e0018,#140023 8%,#1a0034 16%,#1b004b 25%,#160069 35%,#10008a 45%,#092da5 55%,#0655b6 64%,#066ab7 72%,#068496 80%,#07926c 86%,#0b9d4a 91%,#0fa82f 95%,#1cbc18 98%,#39c90b)"></i><i style="left:1340.0px;width:2.5px;background:linear-gradient(#10001c,#17002a 8%,#1c003b 16%,#1a0053 25%,#150070 35%,#0f068e 45%,#0834aa 55%,#0659b7 64%,#066cb5 72%,#068692 80%,#079368 86%,#0b9d48 91%,#10a92e 95%,#1fbd17 98%,#3cca0a)"></i><i style="left:1342.0px;width:2.5px;background:linear-gradient(#0b0014,#11001d 8%,#18002d 16%,#1b0042 25%,#180061 35%,#110082 45%,#0925a1 55%,#064cb3 64%,#0662b8 72%,#0679a9 80%,#068b86 86%,#08975c 91%,#0ca13e 95%,#11ac2a 98%,#1bba1a)"></i><i style="left:1344.0px;width:2.5px;background:linear-gradient(#0b0014,#11001d 8%,#18002d 16%,#1b0042 25%,#180061 35%,#110082 45%,#0925a1 55%,#064cb3 64%,#0662b8 72%,#0679a8 80%,#068b86 86%,#08975b 91%,#0ca13d 95%,#11ac2a 98%,#1bba1a)"></i><i style="left:1346.0px;width:2.5px;background:linear-gradient(#090011,#0f001a 8%,#160028 16%,#1c003d 25%,#19005c 35%,#12007d 45%,#0a209e 55%,#0746b1 64%,#065eb8 72%,#0674b0 80%,#068791 86%,#079467 91%,#0b9e45 95%,#0fa830 98%,#16b322)"></i><i style="left:1348.0px;width:2.5px;background:linear-gradient(#0c0016,#130020 8%,#190031 16%,#1b0048 25%,#170066 35%,#100087 45%,#092aa4 55%,#0651b5 64%,#0666b8 72%,#067fa1 80%,#068e7a 86%,#0a9953 91%,#0da537 95%,#16b322 98%,#26c113)"></i><i style="left:1350.0px;width:2.5px;background:linear-gradient(#06000b,#0c0015 8%,#12001e 16%,#1a0032 25%,#1a0051 35%,#140072 45%,#0b1799 55%,#0743b0 64%,#0660b8 72%,#0678aa 80%,#068b86 86%,#09975a 91%,#0ca23c 95%,#12ad29 98%,#1bbb19)"></i><i style="left:1352.0px;width:2.5px;background:linear-gradient(#07000e,#0d0017 8%,#140023 16%,#1b0036 25%,#1a0056 35%,#130077 45%,#0a1a9b 55%,#0744b0 64%,#065fb8 72%,#0676ae 80%,#06898c 86%,#089560 91%,#0ba041 95%,#10a92d 98%,#19b71e)"></i><i style="left:1354.0px;width:2.5px;background:linear-gradient(#0a0013,#11001c 8%,#17002c 16%,#1b0041 25%,#180060 35%,#120082 45%,#0924a1 55%,#064db4 64%,#0663b8 72%,#067ba5 80%,#068d81 86%,#099858 91%,#0ca33a 95%,#13af26 98%,#1fbd17)"></i><i style="left:1356.0px;width:2.5px;background:linear-gradient(#08000f,#0e0019 8%,#150026 16%,#1c003a 25%,#1a0059 35%,#13007a 45%,#0a1d9d 55%,#0747b2 64%,#0661b8 72%,#0678aa 80%,#068b86 86%,#08975b 91%,#0ca13d 95%,#11ac2a 98%,#1bba1a)"></i><i style="left:1358.0px;width:2.5px;background:linear-gradient(#0d0017,#140023 8%,#1a0034 16%,#1b004b 25%,#160069 35%,#10008a 45%,#092da6 55%,#0654b6 64%,#0669b7 72%,#068398 80%,#06916f 86%,#0a9c4c 91%,#0fa731 95%,#1aba1b 98%,#33c60e)"></i><i style="left:1360.0px;width:2.5px;background:linear-gradient(#040007,#090012 8%,#10001b 16%,#17002c 25%,#1b0049 35%,#16006c 45%,#0c1295 55%,#073faf 64%,#065eb8 72%,#0676ad 80%,#068b88 86%,#08975b 91%,#0ca13e 95%,#11ac2a 98%,#1bba1a)"></i><i style="left:1362.0px;width:2.5px;background:linear-gradient(#0d0017,#140022 8%,#1a0033 16%,#1b004a 25%,#170068 35%,#10008a 45%,#092ca5 55%,#0652b5 64%,#0666b8 72%,#0680a0 80%,#068f79 86%,#0a9952 91%,#0da536 95%,#16b421 98%,#27c113)"></i><i style="left:1364.0px;width:2.5px;background:linear-gradient(#0e0019,#150026 8%,#1c0037 16%,#1b004f 25%,#16006c 35%,#0f038c 45%,#0930a8 55%,#0654b6 64%,#0668b8 72%,#06819d 80%,#069076 86%,#0a9a51 91%,#0ea635 95%,#17b520 98%,#2bc311)"></i><i style="left:1366.0px;width:2.5px;background:linear-gradient(#11001d,#18002d 8%,#1c003f 16%,#1a0057 25%,#140074 35%,#0e0990 45%,#0838ac 55%,#0658b6 64%,#066ab7 72%,#06829a 80%,#069074 86%,#0a9a4f 91%,#0ea634 95%,#18b61e 98%,#2dc311)"></i><i style="left:1368.0px;width:2.5px;background:linear-gradient(#12001e,#190030 8%,#1b0043 16%,#19005b 25%,#130077 35%,#0e0c91 45%,#083aad 55%,#065ab7 64%,#066bb6 72%,#068398 80%,#069171 86%,#0a9b4e 91%,#0ea733 95%,#19b71d 98%,#2fc410)"></i><i style="left:1370.0px;width:2.5px;background:linear-gradient(#07000d,#0d0017 8%,#140023 16%,#1b0036 25%,#1a0056 35%,#140077 45%,#0a1a9b 55%,#073fae 64%,#0658b6 72%,#066db4 80%,#06819d 86%,#069074 91%,#0a9b4e 95%,#0da437 98%,#11ac2a)"></i><i style="left:1372.0px;width:2.5px;background:linear-gradient(#1b0036,#1b004a 8%,#19005f 16%,#140074 25%,#0f058d 35%,#0a209f 45%,#064eb4 55%,#0662b8 64%,#0670b3 72%,#068595 80%,#069172 86%,#0a9a50 91%,#0ea634 95%,#18b61f 98%,#2cc311)"></i><i style="left:1374.0px;width:2.5px;background:linear-gradient(#0a0013,#11001c 8%,#17002c 16%,#1b0041 25%,#180060 35%,#120081 45%,#0924a1 55%,#0743b0 64%,#0658b7 72%,#066cb5 80%,#067ea2 86%,#068e7b 91%,#0a9a52 95%,#0ca33a 98%,#10a92e)"></i><i style="left:1376.0px;width:2.5px;background:linear-gradient(#0a0013,#11001c 8%,#17002c 16%,#1b0041 25%,#180060 35%,#120081 45%,#0924a0 55%,#0743b0 64%,#0658b7 72%,#066cb5 80%,#067ea1 86%,#068e7b 91%,#0a9a51 95%,#0ca33a 98%,#10a92e)"></i><i style="left:1378.0px;width:2.5px;background:linear-gradient(#05000a,#0b0014 8%,#11001d 16%,#190030 25%,#1b004e 35%,#150070 45%,#0c1597 55%,#083aad 64%,#0655b6 72%,#066cb5 80%,#06809f 86%,#068f76 91%,#0a9b4e 95%,#0da438 98%,#11ab2b)"></i><i style="left:1380.0px;width:2.5px;background:linear-gradient(#12001e,#19002f 8%,#1b0043 16%,#1a005a 25%,#140076 35%,#0e0b91 45%,#083aad 55%,#0657b6 64%,#0667b8 72%,#067ea2 80%,#068d7e 86%,#099857 91%,#0da33a 95%,#14b026 98%,#1fbd17)"></i><i style="left:1382.0px;width:2.5px;background:linear-gradient(#12001f,#190031 8%,#1b0044 16%,#19005c 25%,#130078 35%,#0d0c92 45%,#083bad 55%,#0656b6 64%,#0666b8 72%,#067ca5 80%,#068c83 86%,#08975b 91%,#0ca23d 95%,#12ac29 98%,#1bba1a)"></i><i style="left:1384.0px;width:2.5px;background:linear-gradient(#10001b,#160029 8%,#1c003b 16%,#1a0053 25%,#15006f 35%,#0f068e 45%,#0833a9 55%,#0656b6 64%,#0668b8 72%,#06819d 80%,#068f76 86%,#0a9a51 91%,#0ea535 95%,#17b520 98%,#2ac212)"></i><i style="left:1386.0px;width:2.5px;background:linear-gradient(#10001b,#160029 8%,#1c003b 16%,#1a0053 25%,#150070 35%,#0f068e 45%,#0834aa 55%,#065bb7 64%,#066fb3 72%,#06898b 80%,#08965f 86%,#0ba041 91%,#13ae28 95%,#2ac212 98%,#49ce07)"></i><i style="left:1388.0px;width:2.5px;background:linear-gradient(#160029,#1c003b 8%,#1a0050 16%,#170066 25%,#110083 35%,#0c1597 45%,#0743b0 55%,#0663b8 64%,#0677ac 72%,#068e7c 80%,#099955 86%,#0da439 91%,#18b61e 95%,#3bca0a 98%,#5fd404)"></i><i style="left:1390.0px;width:2.5px;background:linear-gradient(#0f001a,#150027 8%,#1c0038 16%,#1a0050 25%,#15006d 35%,#0f048d 45%,#0831a8 55%,#0659b7 64%,#066db5 72%,#06878f 80%,#079464 86%,#0b9f44 91%,#11ab2b 95%,#24c014 98%,#41cc08)"></i><i style="left:1392.0px;width:2.5px;background:linear-gradient(#0a0013,#11001c 8%,#18002c 16%,#1b0042 25%,#180061 35%,#110082 45%,#0925a1 55%,#0653b5 64%,#066ab6 72%,#068692 80%,#079465 86%,#0b9f44 91%,#11ab2b 95%,#25c014 98%,#41cc08)"></i><i style="left:1394.0px;width:2.5px;background:linear-gradient(#17002b,#1c003d 8%,#1a0052 16%,#170068 25%,#110085 35%,#0b1698 45%,#0744b1 55%,#0664b8 64%,#0679a8 72%,#068f77 80%,#0a9a51 86%,#0ea535 91%,#1bba1a 95%,#44cd08 98%,#69d603)"></i><i style="left:1396.0px;width:2.5px;background:linear-gradient(#140023,#1b0035 8%,#1b0049 16%,#180060 25%,#12007d 35%,#0d1094 45%,#073eae 55%,#0662b8 64%,#0678aa 72%,#068f77 80%,#0a9a50 86%,#0ea634 91%,#1bbb19 95%,#46cd07 98%,#6cd703)"></i><i style="left:1398.0px;width:2.5px;background:linear-gradient(#11001c,#17002c 8%,#1c003f 16%,#1a0057 25%,#140073 35%,#0e088f 45%,#0837ab 55%,#0660b8 64%,#0678aa 72%,#069074 80%,#0a9b4d 86%,#0fa831 91%,#22bf15 95%,#51d006 98%,#77da01)"></i><i style="left:1400.0px;width:2.5px;background:linear-gradient(#1b0041,#1a0056 8%,#160069 16%,#12007e 25%,#0d0d93 35%,#092aa4 45%,#0654b5 55%,#066fb3 64%,#068692 72%,#08975b 80%,#0ca23d 86%,#16b322 91%,#3ecb09 95%,#76da01 98%,#80dc00)"></i><i style="left:1402.0px;width:2.5px;background:linear-gradient(#17002a,#1c003d 8%,#1a0052 16%,#170068 25%,#110084 35%,#0b1698 45%,#0744b0 55%,#0666b8 64%,#067fa1 72%,#079367 80%,#0b9e45 86%,#11ac2a 91%,#30c50f 95%,#63d504 98%,#80dc00)"></i><i style="left:1404.0px;width:2.5px;background:linear-gradient(#10001b,#17002a 8%,#1c003c 16%,#1a0054 25%,#150071 35%,#0f078e 45%,#0835aa 55%,#065fb8 64%,#0675ae 72%,#068e7a 80%,#0a9a51 86%,#0ea634 91%,#1bbb19 95%,#46ce07 98%,#6cd703)"></i><i style="left:1406.0px;width:2.5px;background:linear-gradient(#0f001a,#160029 8%,#1c003a 16%,#1a0052 25%,#15006f 35%,#0f058d 45%,#0833a9 55%,#0660b8 64%,#0679a9 72%,#069170 80%,#0b9d49 86%,#10a92d 91%,#2ac212 95%,#5bd305 98%,#80dc00)"></i><i style="left:1408.0px;width:2.5px;background:linear-gradient(#0d0018,#140023 8%,#1b0035 16%,#1b004c 25%,#160069 35%,#10018b 45%,#092da6 55%,#065cb8 64%,#0674b0 72%,#068e7c 80%,#0a9a51 86%,#0ea634 91%,#1bbb19 95%,#46ce07 98%,#6cd702)"></i><i style="left:1410.0px;width:2.5px;background:linear-gradient(#0b0014,#11001d 8%,#18002e 16%,#1b0044 25%,#180062 35%,#110084 45%,#0926a2 55%,#065ab7 64%,#0673b1 72%,#068e7a 80%,#0a9a50 86%,#0ea732 91%,#1fbd17 95%,#4ccf06 98%,#72d802)"></i><i style="left:1412.0px;width:2.5px;background:linear-gradient(#090012,#10001b 8%,#17002a 16%,#1c003f 25%,#19005e 35%,#12007f 45%,#0a22a0 55%,#0655b6 64%,#066db4 72%,#068a89 80%,#09975a 86%,#0ca23b 91%,#16b322 95%,#35c70d 98%,#57d205)"></i><i style="left:1414.0px;width:2.5px;background:linear-gradient(#080010,#0e0019 8%,#150026 16%,#1c003a 25%,#1a005a 35%,#13007b 45%,#0a1e9d 55%,#064ab3 64%,#0662b8 72%,#067ca5 80%,#068d7e 86%,#099955 91%,#0da438 95%,#15b124 98%,#23bf15)"></i><i style="left:1416.0px;width:2.5px;background:linear-gradient(#080010,#0f001a 8%,#160027 16%,#1c003c 25%,#19005b 35%,#13007c 45%,#0a1f9e 55%,#064cb3 64%,#0664b8 72%,#067ea1 80%,#068f78 86%,#0a9a51 91%,#0ea535 95%,#17b520 98%,#2ac212)"></i><i style="left:1418.0px;width:2.5px;background:linear-gradient(#0c0015,#12001f 8%,#190030 16%,#1b0046 25%,#170064 35%,#110086 45%,#0928a3 55%,#064eb4 64%,#0662b8 72%,#067aa8 80%,#068b85 86%,#08975b 91%,#0ca23d 95%,#12ad29 98%,#1bbb19)"></i><i style="left:1420.0px;width:2.5px;background:linear-gradient(#0c0015,#13001f 8%,#190031 16%,#1b0047 25%,#170065 35%,#110087 45%,#0929a3 55%,#0651b5 64%,#0666b8 72%,#06809f 80%,#068f76 86%,#0a9a50 91%,#0ea635 95%,#18b51f 98%,#2bc311)"></i><i style="left:1422.0px;width:2.5px;background:linear-gradient(#0b0014,#12001e 8%,#18002f 16%,#1b0044 25%,#180063 35%,#110084 45%,#0927a2 55%,#064fb4 64%,#0664b8 72%,#067da4 80%,#068d7d 86%,#099955 91%,#0da438 95%,#15b124 98%,#23bf15)"></i><i style="left:1424.0px;width:2.5px;background:linear-gradient(#0f0019,#150027 8%,#1c0038 16%,#1a0050 25%,#15006d 35%,#0f048c 45%,#0831a8 55%,#0656b6 64%,#0668b8 72%,#06829a 80%,#069172 86%,#0a9b4d 91%,#0ea732 95%,#19b81c 98%,#30c50f)"></i><i style="left:1426.0px;width:2.5px;background:linear-gradient(#0c0015,#12001f 8%,#190030 16%,#1b0047 25%,#170065 35%,#110086 45%,#0929a3 55%,#064fb4 64%,#0663b8 72%,#067ca5 80%,#068d80 86%,#099857 91%,#0ca33a 95%,#14af26 98%,#1fbd17)"></i><i style="left:1428.0px;width:2.5px;background:linear-gradient(#0d0017,#140023 8%,#1a0034 16%,#1b004b 25%,#160069 35%,#10008a 45%,#092da6 55%,#0651b5 64%,#0664b8 72%,#067ca5 80%,#068d80 86%,#099858 91%,#0ca33a 95%,#13af26 98%,#1fbd17)"></i><i style="left:1430.0px;width:2.5px;background:linear-gradient(#0d0018,#140023 8%,#1b0035 16%,#1b004c 25%,#160069 35%,#10018b 45%,#092da6 55%,#0654b6 64%,#0668b8 72%,#068399 80%,#069170 86%,#0a9c4c 91%,#0fa731 95%,#1ab91b 98%,#33c60e)"></i><i style="left:1432.0px;width:2.5px;background:linear-gradient(#0b0014,#11001d 8%,#18002d 16%,#1b0043 25%,#180062 35%,#110083 45%,#0926a1 55%,#0650b4 64%,#0665b8 72%,#06809f 80%,#068f76 86%,#0a9a50 91%,#0ea634 95%,#18b61f 98%,#2cc311)"></i><i style="left:1434.0px;width:2.5px;background:linear-gradient(#160029,#1c003a 8%,#1b0050 16%,#170066 25%,#110082 35%,#0c1497 45%,#0743b0 55%,#0662b8 64%,#0676ae 72%,#068d7f 80%,#099857 86%,#0ca33a 91%,#17b520 95%,#38c80c 98%,#5bd305)"></i><i style="left:1436.0px;width:2.5px;background:linear-gradient(#090012,#10001b 8%,#17002a 16%,#1c003f 25%,#19005e 35%,#12007f 45%,#0a229f 55%,#064eb4 64%,#0665b8 72%,#06809f 80%,#069075 86%,#0a9a4f 91%,#0ea634 95%,#18b71e 98%,#2ec410)"></i><i style="left:1438.0px;width:2.5px;background:linear-gradient(#12001e,#18002e 8%,#1b0042 16%,#1a0059 25%,#140075 35%,#0e0a91 45%,#0839ac 55%,#065eb8 64%,#0671b2 72%,#068b87 80%,#08975b 86%,#0ca13d 91%,#15b124 95%,#31c50f 98%,#51d006)"></i><i style="left:1440.0px;width:2.5px;background:linear-gradient(#1b0042,#1a0058 8%,#16006a 16%,#120080 25%,#0d0f93 35%,#092ca5 45%,#0654b6 55%,#066bb6 64%,#067fa0 72%,#07926e 80%,#0a9c4c 86%,#0ea732 91%,#1fbe16 95%,#4dcf06 98%,#73d902)"></i><i style="left:1442.0px;width:2.5px;background:linear-gradient(#030006,#080010 8%,#0f001a 16%,#160029 25%,#1b0046 35%,#160069 45%,#0d0f94 55%,#0741af 64%,#0660b8 72%,#067ca5 80%,#068e7a 86%,#0a9a51 91%,#0ea535 95%,#17b520 98%,#2ac212)"></i><i style="left:1444.0px;width:2.5px;background:linear-gradient(#13001f,#190031 8%,#1b0044 16%,#19005c 25%,#130078 35%,#0d0c92 45%,#083bad 55%,#065fb8 64%,#0673b1 72%,#068c82 80%,#099858 86%,#0ca33a 91%,#17b420 95%,#37c80c 98%,#5ad305)"></i><i style="left:1446.0px;width:2.2px;background:linear-gradient(#040008,#090012 8%,#10001b 16%,#18002d 25%,#1b004a 35%,#16006c 45%,#0c1296 55%,#0747b1 64%,#0664b8 72%,#06829c 80%,#07926d 86%,#0b9d48 91%,#0fa92e 95%,#1ebd17 98%,#3ac90b)"></i></div><svg width="1800" height="1200" viewBox="0 0 1800 1200"><text x="900.50" y="47.20" font-size="48.56" text-anchor="middle" textLength="569.25" lengthAdjust="spacingAndGlyphs" fill="#000">e-POP RRI Quicklook Plot</text>
<text x="900.00" y="96.30" font-size="44.15" text-anchor="middle" textLength="383.12" lengthAdjust="spacingAndGlyphs" fill="#000">February 04, 2016</text>
<defs><clipPath id="cashex"><polygon points="243,12.8 298.5,12.8 325,60 299,106.5 241,106.5 216,60"/></clipPath><linearGradient id="earthg" x1="0" y1="0" x2="0.3" y2="1"><stop offset="0" stop-color="#e2f0fa"/><stop offset="0.3" stop-color="#b4d2ee"/><stop offset="0.65" stop-color="#6a9fd6"/><stop offset="1" stop-color="#3f76c2"/></linearGradient><linearGradient id="satg" x1="0" y1="0" x2="1" y2="1"><stop offset="0" stop-color="#3f7fd0"/><stop offset="1" stop-color="#2a5ea8"/></linearGradient><filter id="cblur"><feGaussianBlur stdDeviation="1.2"/></filter></defs><polygon points="239.5,6.5 302,6.5 333,60 302,114 239.5,114 208.5,60" fill="#fff" stroke="#bfe2ea" stroke-width="0.9"/><g clip-path="url(#cashex)"><rect x="210" y="10" width="120" height="100" fill="#04060c"/><circle cx="245.5" cy="26.5" r="0.9" fill="#b8b8f0"/><circle cx="223" cy="56" r="0.8" fill="#b8b8f0"/><circle cx="290" cy="25" r="0.4" fill="#b8b8f0"/><circle cx="300" cy="40" r="0.4" fill="#b8b8f0"/><circle cx="262" cy="20" r="0.4" fill="#b8b8f0"/><circle cx="310" cy="50" r="0.4" fill="#b8b8f0"/><path d="M214,72 Q260,58 330,55 L330,63 Q262,66 214,82 Z" fill="#1f8f68" opacity="0.8" filter="url(#cblur)"/><path d="M214,78 Q262,63 330,59.5 L330,62.5 Q262,66 214,82 Z" fill="#46c39a" opacity="0.8" filter="url(#cblur)"/><path d="M214,82 Q262,66 330,61 L330,112 L214,112 Z" fill="url(#earthg)"/><path d="M240,92 Q270,82 300,86 Q290,90 262,95 Z" fill="#e8f2fa" opacity="0.7" filter="url(#cblur)"/><line x1="279" y1="55" x2="297" y2="82" stroke="#e8f4ff" stroke-width="1.3" opacity="0.9"/><path d="M282,106.5 Q295,92 312,86 L300,106.5 Z" fill="#ffffff"/><path d="M300,106.5 L312,86 L320,80 L305,106.5 Z" fill="#2a62b8"/><rect x="240" y="100" width="62" height="8" fill="#ffffff"/></g><polygon points="257.5,31.5 280,42.5 283,46.5 260,37" fill="#2c68bc"/><polygon points="260,37 271.5,45 265,60.5 250,52" fill="#3f88da"/><g stroke="#2a62b0" stroke-width="0.35"><line x1="258.75" y1="38.88" x2="270.69" y2="46.93"/><line x1="257.50" y1="40.75" x2="269.88" y2="48.86"/><line x1="256.25" y1="42.62" x2="269.07" y2="50.79"/><line x1="255.00" y1="44.50" x2="268.26" y2="52.72"/><line x1="253.75" y1="46.38" x2="267.45" y2="54.65"/><line x1="252.50" y1="48.25" x2="266.64" y2="56.58"/><line x1="251.25" y1="50.12" x2="265.83" y2="58.51"/></g><polygon points="271.5,45 283,47 277.5,60 265,60.5" fill="#d9aa4c"/><polygon points="273,48 280,49 276,57 270,57" fill="#e8d8b0" opacity="0.7"/><line x1="237" y1="51.5" x2="250" y2="52.5" stroke="#c8c0b0" stroke-width="0.7"/><line x1="237" y1="51.3" x2="241" y2="51.6" stroke="#f0b040" stroke-width="1.6"/><line x1="265" y1="62" x2="254" y2="73.5" stroke="#b07840" stroke-width="0.9"/><line x1="256.5" y1="31" x2="254" y2="17" stroke="#606060" stroke-width="0.4"/><line x1="270" y1="38" x2="280" y2="28" stroke="#606060" stroke-width="0.4"/><line x1="250" y1="52" x2="238" y2="45" stroke="#606060" stroke-width="0.4"/><circle cx="271.5" cy="93.5" r="5.3" fill="#1d5aa8"/><circle cx="271.5" cy="94.5" r="1.5" fill="#e04040"/><text x="270" y="106.3" font-size="7.2" font-weight="bold" text-anchor="middle" textLength="43" lengthAdjust="spacingAndGlyphs" fill="#35a8dc" style="font-family:'Liberation Serif',serif">CASSIOPE</text>
<defs><clipPath id="esac"><circle cx="1508.0" cy="60.5" r="38.0"/></clipPath><clipPath id="esae"><circle cx="1529.8" cy="62.3" r="14.8"/></clipPath></defs><g clip-path="url(#esac)"><g fill="none" stroke="#4a7cc6" stroke-width="1.45"><circle cx="1530" cy="58" r="3.00"/><circle cx="1530" cy="58" r="5.55"/><circle cx="1530" cy="58" r="8.10"/><circle cx="1530" cy="58" r="10.65"/><circle cx="1530" cy="58" r="13.20"/><circle cx="1530" cy="58" r="15.75"/><circle cx="1530" cy="58" r="18.30"/><circle cx="1530" cy="58" r="20.85"/><circle cx="1530" cy="58" r="23.40"/><circle cx="1530" cy="58" r="25.95"/><circle cx="1530" cy="58" r="28.50"/><circle cx="1530" cy="58" r="31.05"/><circle cx="1530" cy="58" r="33.60"/><circle cx="1530" cy="58" r="36.15"/><circle cx="1530" cy="58" r="38.70"/><circle cx="1530" cy="58" r="41.25"/><circle cx="1530" cy="58" r="43.80"/><circle cx="1530" cy="58" r="46.35"/><circle cx="1530" cy="58" r="48.90"/><circle cx="1530" cy="58" r="51.45"/><circle cx="1530" cy="58" r="54.00"/><circle cx="1530" cy="58" r="56.55"/><circle cx="1530" cy="58" r="59.10"/><circle cx="1530" cy="58" r="61.65"/><circle cx="1530" cy="58" r="64.20"/><circle cx="1530" cy="58" r="66.75"/><circle cx="1530" cy="58" r="69.30"/><circle cx="1530" cy="58" r="71.85"/><circle cx="1530" cy="58" r="74.40"/><circle cx="1530" cy="58" r="76.95"/><circle cx="1530" cy="58" r="79.50"/><circle cx="1530" cy="58" r="82.05"/><circle cx="1530" cy="58" r="84.60"/><circle cx="1530" cy="58" r="87.15"/></g><path d="M1510,40 A24,24 0 1,1 1545,88 L1548,90 L1548,30 Z" fill="#fff" opacity="0"/><circle cx="1528.5" cy="61.5" r="22.5" fill="#fff"/><circle cx="1488" cy="60.5" r="4.2" fill="#fff"/></g><g clip-path="url(#esae)"><g stroke="#4a7cc6" stroke-width="1.35"><line x1="1514" y1="47.80" x2="1546" y2="47.80"/><line x1="1514" y1="50.25" x2="1546" y2="50.25"/><line x1="1514" y1="52.70" x2="1546" y2="52.70"/><line x1="1514" y1="55.15" x2="1546" y2="55.15"/><line x1="1514" y1="57.60" x2="1546" y2="57.60"/><line x1="1514" y1="60.05" x2="1546" y2="60.05"/><line x1="1514" y1="62.50" x2="1546" y2="62.50"/><line x1="1514" y1="64.95" x2="1546" y2="64.95"/><line x1="1514" y1="67.40" x2="1546" y2="67.40"/><line x1="1514" y1="69.85" x2="1546" y2="69.85"/><line x1="1514" y1="72.30" x2="1546" y2="72.30"/><line x1="1514" y1="74.75" x2="1546" y2="74.75"/><line x1="1514" y1="77.20" x2="1546" y2="77.20"/></g><rect x="1517" y="60.2" width="30" height="3.2" fill="#fff"/><path d="M1531,59 L1546,59 L1546,50 Q1540,47 1531,52 Z" fill="#fff" opacity="0"/></g><text x="1552.5" y="83.3" font-size="84" font-weight="bold" textLength="126" lengthAdjust="spacingAndGlyphs" fill="#13237e" style="font-family:'Liberation Sans',sans-serif">esa</text>
<rect x="482.4" y="143.8" width="1.3" height="267.2" fill="#040224" opacity="0.85"/><rect x="1043.3" y="143.8" width="1.3" height="267.2" fill="#040224" opacity="0.8"/><rect x="826.5" y="143.8" width="1.0" height="267.2" fill="#040224" opacity="0.4"/><rect x="985.7" y="157.2" width="1.6" height="240.5" fill="#0c9a8a" opacity="0.75"/><rect x="626.3" y="224.0" width="1.4" height="96.2" fill="#10a060" opacity="0.6"/><rect x="659.2" y="357.6" width="1.6" height="53.4" fill="#20b040" opacity="0.7"/>
<rect x="197.80" y="143.80" width="1447.70" height="267.20" fill="none" stroke="#000" stroke-width="1.67"/>
<line x1="190.50" y1="143.80" x2="197.80" y2="143.80" stroke="#000" stroke-width="1.67"/>
<text x="183.20" y="151.40" font-size="22.07" text-anchor="end" textLength="59.62" lengthAdjust="spacingAndGlyphs" fill="#000">0.031</text>
<line x1="190.50" y1="210.60" x2="197.80" y2="210.60" stroke="#000" stroke-width="1.67"/>
<text x="183.20" y="218.20" font-size="22.07" text-anchor="end" textLength="59.62" lengthAdjust="spacingAndGlyphs" fill="#000">0.023</text>
<line x1="190.50" y1="277.40" x2="197.80" y2="277.40" stroke="#000" stroke-width="1.67"/>
<text x="183.20" y="285.00" font-size="22.07" text-anchor="end" textLength="59.75" lengthAdjust="spacingAndGlyphs" fill="#000">0.016</text>
<line x1="190.50" y1="344.20" x2="197.80" y2="344.20" stroke="#000" stroke-width="1.67"/>
<text x="183.20" y="351.80" font-size="22.07" text-anchor="end" textLength="59.50" lengthAdjust="spacingAndGlyphs" fill="#000">0.008</text>
<line x1="190.50" y1="411.00" x2="197.80" y2="411.00" stroke="#000" stroke-width="1.67"/>
<text x="183.20" y="418.60" font-size="22.07" text-anchor="end" textLength="67.12" lengthAdjust="spacingAndGlyphs" fill="#000">-0.000</text>
<line x1="197.80" y1="411.00" x2="197.80" y2="418.30" stroke="#000" stroke-width="1.67"/>
<line x1="258.38" y1="411.00" x2="258.38" y2="415.20" stroke="#000" stroke-width="1.25"/>
<line x1="318.97" y1="411.00" x2="318.97" y2="415.20" stroke="#000" stroke-width="1.25"/>
<line x1="379.55" y1="411.00" x2="379.55" y2="415.20" stroke="#000" stroke-width="1.25"/>
<line x1="440.13" y1="411.00" x2="440.13" y2="418.30" stroke="#000" stroke-width="1.67"/>
<line x1="500.71" y1="411.00" x2="500.71" y2="415.20" stroke="#000" stroke-width="1.25"/>
<line x1="561.29" y1="411.00" x2="561.29" y2="415.20" stroke="#000" stroke-width="1.25"/>
<line x1="621.88" y1="411.00" x2="621.88" y2="415.20" stroke="#000" stroke-width="1.25"/>
<line x1="682.46" y1="411.00" x2="682.46" y2="418.30" stroke="#000" stroke-width="1.67"/>
<line x1="743.04" y1="411.00" x2="743.04" y2="415.20" stroke="#000" stroke-width="1.25"/>
<line x1="803.62" y1="411.00" x2="803.62" y2="415.20" stroke="#000" stroke-width="1.25"/>
<line x1="864.21" y1="411.00" x2="864.21" y2="415.20" stroke="#000" stroke-width="1.25"/>
<line x1="924.79" y1="411.00" x2="924.79" y2="418.30" stroke="#000" stroke-width="1.67"/>
<line x1="985.37" y1="411.00" x2="985.37" y2="415.20" stroke="#000" stroke-width="1.25"/>
<line x1="1045.95" y1="411.00" x2="1045.95" y2="415.20" stroke="#000" stroke-width="1.25"/>
<line x1="1106.54" y1="411.00" x2="1106.54" y2="415.20" stroke="#000" stroke-width="1.25"/>
<line x1="1167.12" y1="411.00" x2="1167.12" y2="418.30" stroke="#000" stroke-width="1.67"/>
<line x1="1227.70" y1="411.00" x2="1227.70" y2="415.20" stroke="#000" stroke-width="1.25"/>
<line x1="1288.29" y1="411.00" x2="1288.29" y2="415.20" stroke="#000" stroke-width="1.25"/>
<line x1="1348.87" y1="411.00" x2="1348.87" y2="415.20" stroke="#000" stroke-width="1.25"/>
<line x1="1409.45" y1="411.00" x2="1409.45" y2="418.30" stroke="#000" stroke-width="1.67"/>
<line x1="1470.03" y1="411.00" x2="1470.03" y2="415.20" stroke="#000" stroke-width="1.25"/>
<line x1="1530.62" y1="411.00" x2="1530.62" y2="415.20" stroke="#000" stroke-width="1.25"/>
<line x1="1591.20" y1="411.00" x2="1591.20" y2="415.20" stroke="#000" stroke-width="1.25"/>
<text x="103.30" y="277.40" font-size="22.07" text-anchor="middle" textLength="256.12" lengthAdjust="spacingAndGlyphs" fill="#000" transform="rotate(-90 103.30 277.40)">Input A Frequency (MHz)</text>
<defs><linearGradient id="cbA" x1="0" y1="0" x2="0" y2="1"><stop offset="0.000" stop-color="#cccccc"/><stop offset="0.025" stop-color="#cc6c6c"/><stop offset="0.050" stop-color="#cc0c0c"/><stop offset="0.075" stop-color="#d40000"/><stop offset="0.100" stop-color="#dc0000"/><stop offset="0.125" stop-color="#ec0000"/><stop offset="0.150" stop-color="#fe0000"/><stop offset="0.175" stop-color="#ff4500"/><stop offset="0.200" stop-color="#ff9900"/><stop offset="0.225" stop-color="#ffb100"/><stop offset="0.250" stop-color="#ffc900"/><stop offset="0.275" stop-color="#f7dd00"/><stop offset="0.300" stop-color="#efed00"/><stop offset="0.325" stop-color="#d4f700"/><stop offset="0.350" stop-color="#bcff00"/><stop offset="0.375" stop-color="#67ff00"/><stop offset="0.400" stop-color="#00ff00"/><stop offset="0.425" stop-color="#00ef00"/><stop offset="0.450" stop-color="#00dc00"/><stop offset="0.475" stop-color="#00cc00"/><stop offset="0.500" stop-color="#00bc00"/><stop offset="0.525" stop-color="#00aa00"/><stop offset="0.550" stop-color="#009a00"/><stop offset="0.575" stop-color="#00a248"/><stop offset="0.600" stop-color="#00aa88"/><stop offset="0.625" stop-color="#00aa98"/><stop offset="0.650" stop-color="#00aaab"/><stop offset="0.675" stop-color="#00a2c3"/><stop offset="0.700" stop-color="#0098dd"/><stop offset="0.725" stop-color="#0088dd"/><stop offset="0.750" stop-color="#0078dd"/><stop offset="0.775" stop-color="#0038dd"/><stop offset="0.800" stop-color="#0000dd"/><stop offset="0.825" stop-color="#0000c1"/><stop offset="0.850" stop-color="#0300aa"/><stop offset="0.875" stop-color="#4300a2"/><stop offset="0.900" stop-color="#870098"/><stop offset="0.925" stop-color="#7f0090"/><stop offset="0.950" stop-color="#700080"/><stop offset="0.975" stop-color="#380040"/><stop offset="1.000" stop-color="#000000"/></linearGradient></defs><rect x="1660.00" y="143.80" width="13.20" height="267.20" fill="url(#cbA)"/>
<rect x="1660.00" y="143.80" width="13.20" height="267.20" fill="none" stroke="#000" stroke-width="1.67"/>
<line x1="1673.20" y1="375.45" x2="1680.50" y2="375.45" stroke="#000" stroke-width="1.67"/>
<text x="1687.80" y="383.05" font-size="22.07" text-anchor="start" textLength="13.25" lengthAdjust="spacingAndGlyphs" fill="#000">0</text>
<line x1="1673.20" y1="303.62" x2="1680.50" y2="303.62" stroke="#000" stroke-width="1.67"/>
<text x="1687.80" y="311.22" font-size="22.07" text-anchor="start" textLength="26.50" lengthAdjust="spacingAndGlyphs" fill="#000">20</text>
<line x1="1673.20" y1="231.79" x2="1680.50" y2="231.79" stroke="#000" stroke-width="1.67"/>
<text x="1687.80" y="239.39" font-size="22.07" text-anchor="start" textLength="26.50" lengthAdjust="spacingAndGlyphs" fill="#000">40</text>
<line x1="1673.20" y1="159.96" x2="1680.50" y2="159.96" stroke="#000" stroke-width="1.67"/>
<text x="1687.80" y="167.56" font-size="22.07" text-anchor="start" textLength="26.62" lengthAdjust="spacingAndGlyphs" fill="#000">60</text>
<rect x="826.4" y="435.8" width="1.3" height="267.0" fill="#040224" opacity="0.9"/><rect x="1042.4" y="435.8" width="1.2" height="267.0" fill="#040224" opacity="0.7"/><rect x="482.5" y="435.8" width="1.0" height="267.0" fill="#040224" opacity="0.5"/><rect x="986.2" y="449.2" width="1.6" height="240.3" fill="#0c9a8a" opacity="0.75"/><rect x="626.4" y="515.9" width="1.2" height="96.1" fill="#10a060" opacity="0.5"/><rect x="659.2" y="649.4" width="1.6" height="53.4" fill="#20b040" opacity="0.7"/>
<rect x="197.80" y="435.80" width="1447.70" height="267.00" fill="none" stroke="#000" stroke-width="1.67"/>
<line x1="190.50" y1="435.80" x2="197.80" y2="435.80" stroke="#000" stroke-width="1.67"/>
<text x="183.20" y="443.40" font-size="22.07" text-anchor="end" textLength="59.62" lengthAdjust="spacingAndGlyphs" fill="#000">0.031</text>
<line x1="190.50" y1="502.55" x2="197.80" y2="502.55" stroke="#000" stroke-width="1.67"/>
<text x="183.20" y="510.15" font-size="22.07" text-anchor="end" textLength="59.62" lengthAdjust="spacingAndGlyphs" fill="#000">0.023</text>
<line x1="190.50" y1="569.30" x2="197.80" y2="569.30" stroke="#000" stroke-width="1.67"/>
<text x="183.20" y="576.90" font-size="22.07" text-anchor="end" textLength="59.75" lengthAdjust="spacingAndGlyphs" fill="#000">0.016</text>
<line x1="190.50" y1="636.05" x2="197.80" y2="636.05" stroke="#000" stroke-width="1.67"/>
<text x="183.20" y="643.65" font-size="22.07" text-anchor="end" textLength="59.50" lengthAdjust="spacingAndGlyphs" fill="#000">0.008</text>
<line x1="190.50" y1="702.80" x2="197.80" y2="702.80" stroke="#000" stroke-width="1.67"/>
<text x="183.20" y="710.40" font-size="22.07" text-anchor="end" textLength="67.12" lengthAdjust="spacingAndGlyphs" fill="#000">-0.000</text>
<line x1="197.80" y1="702.80" x2="197.80" y2="710.10" stroke="#000" stroke-width="1.67"/>
<line x1="258.38" y1="702.80" x2="258.38" y2="707.00" stroke="#000" stroke-width="1.25"/>
<line x1="318.97" y1="702.80" x2="318.97" y2="707.00" stroke="#000" stroke-width="1.25"/>
<line x1="379.55" y1="702.80" x2="379.55" y2="707.00" stroke="#000" stroke-width="1.25"/>
<line x1="440.13" y1="702.80" x2="440.13" y2="710.10" stroke="#000" stroke-width="1.67"/>
<line x1="500.71" y1="702.80" x2="500.71" y2="707.00" stroke="#000" stroke-width="1.25"/>
<line x1="561.29" y1="702.80" x2="561.29" y2="707.00" stroke="#000" stroke-width="1.25"/>
<line x1="621.88" y1="702.80" x2="621.88" y2="707.00" stroke="#000" stroke-width="1.25"/>
<line x1="682.46" y1="702.80" x2="682.46" y2="710.10" stroke="#000" stroke-width="1.67"/>
<line x1="743.04" y1="702.80" x2="743.04" y2="707.00" stroke="#000" stroke-width="1.25"/>
<line x1="803.62" y1="702.80" x2="803.62" y2="707.00" stroke="#000" stroke-width="1.25"/>
<line x1="864.21" y1="702.80" x2="864.21" y2="707.00" stroke="#000" stroke-width="1.25"/>
<line x1="924.79" y1="702.80" x2="924.79" y2="710.10" stroke="#000" stroke-width="1.67"/>
<line x1="985.37" y1="702.80" x2="985.37" y2="707.00" stroke="#000" stroke-width="1.25"/>
<line x1="1045.95" y1="702.80" x2="1045.95" y2="707.00" stroke="#000" stroke-width="1.25"/>
<line x1="1106.54" y1="702.80" x2="1106.54" y2="707.00" stroke="#000" stroke-width="1.25"/>
<line x1="1167.12" y1="702.80" x2="1167.12" y2="710.10" stroke="#000" stroke-width="1.67"/>
<line x1="1227.70" y1="702.80" x2="1227.70" y2="707.00" stroke="#000" stroke-width="1.25"/>
<line x1="1288.29" y1="702.80" x2="1288.29" y2="707.00" stroke="#000" stroke-width="1.25"/>
<line x1="1348.87" y1="702.80" x2="1348.87" y2="707.00" stroke="#000" stroke-width="1.25"/>
<line x1="1409.45" y1="702.80" x2="1409.45" y2="710.10" stroke="#000" stroke-width="1.67"/>
<line x1="1470.03" y1="702.80" x2="1470.03" y2="707.00" stroke="#000" stroke-width="1.25"/>
<line x1="1530.62" y1="702.80" x2="1530.62" y2="707.00" stroke="#000" stroke-width="1.25"/>
<line x1="1591.20" y1="702.80" x2="1591.20" y2="707.00" stroke="#000" stroke-width="1.25"/>
<text x="103.30" y="569.30" font-size="22.07" text-anchor="middle" textLength="256.12" lengthAdjust="spacingAndGlyphs" fill="#000" transform="rotate(-90 103.30 569.30)">Input B Frequency (MHz)</text>
<defs><linearGradient id="cbB" x1="0" y1="0" x2="0" y2="1"><stop offset="0.000" stop-color="#cccccc"/><stop offset="0.025" stop-color="#cc6c6c"/><stop offset="0.050" stop-color="#cc0c0c"/><stop offset="0.075" stop-color="#d40000"/><stop offset="0.100" stop-color="#dc0000"/><stop offset="0.125" stop-color="#ec0000"/><stop offset="0.150" stop-color="#fe0000"/><stop offset="0.175" stop-color="#ff4500"/><stop offset="0.200" stop-color="#ff9900"/><stop offset="0.225" stop-color="#ffb100"/><stop offset="0.250" stop-color="#ffc900"/><stop offset="0.275" stop-color="#f7dd00"/><stop offset="0.300" stop-color="#efed00"/><stop offset="0.325" stop-color="#d4f700"/><stop offset="0.350" stop-color="#bcff00"/><stop offset="0.375" stop-color="#67ff00"/><stop offset="0.400" stop-color="#00ff00"/><stop offset="0.425" stop-color="#00ef00"/><stop offset="0.450" stop-color="#00dc00"/><stop offset="0.475" stop-color="#00cc00"/><stop offset="0.500" stop-color="#00bc00"/><stop offset="0.525" stop-color="#00aa00"/><stop offset="0.550" stop-color="#009a00"/><stop offset="0.575" stop-color="#00a248"/><stop offset="0.600" stop-color="#00aa88"/><stop offset="0.625" stop-color="#00aa98"/><stop offset="0.650" stop-color="#00aaab"/><stop offset="0.675" stop-color="#00a2c3"/><stop offset="0.700" stop-color="#0098dd"/><stop offset="0.725" stop-color="#0088dd"/><stop offset="0.750" stop-color="#0078dd"/><stop offset="0.775" stop-color="#0038dd"/><stop offset="0.800" stop-color="#0000dd"/><stop offset="0.825" stop-color="#0000c1"/><stop offset="0.850" stop-color="#0300aa"/><stop offset="0.875" stop-color="#4300a2"/><stop offset="0.900" stop-color="#870098"/><stop offset="0.925" stop-color="#7f0090"/><stop offset="0.950" stop-color="#700080"/><stop offset="0.975" stop-color="#380040"/><stop offset="1.000" stop-color="#000000"/></linearGradient></defs><rect x="1660.00" y="435.80" width="13.20" height="267.00" fill="url(#cbB)"/>
<rect x="1660.00" y="435.80" width="13.20" height="267.00" fill="none" stroke="#000" stroke-width="1.67"/>
<line x1="1673.20" y1="667.27" x2="1680.50" y2="667.27" stroke="#000" stroke-width="1.67"/>
<text x="1687.80" y="674.87" font-size="22.07" text-anchor="start" textLength="13.25" lengthAdjust="spacingAndGlyphs" fill="#000">0</text>
<line x1="1673.20" y1="595.50" x2="1680.50" y2="595.50" stroke="#000" stroke-width="1.67"/>
<text x="1687.80" y="603.10" font-size="22.07" text-anchor="start" textLength="26.50" lengthAdjust="spacingAndGlyphs" fill="#000">20</text>
<line x1="1673.20" y1="523.72" x2="1680.50" y2="523.72" stroke="#000" stroke-width="1.67"/>
<text x="1687.80" y="531.32" font-size="22.07" text-anchor="start" textLength="26.50" lengthAdjust="spacingAndGlyphs" fill="#000">40</text>
<line x1="1673.20" y1="451.95" x2="1680.50" y2="451.95" stroke="#000" stroke-width="1.67"/>
<text x="1687.80" y="459.55" font-size="22.07" text-anchor="start" textLength="26.62" lengthAdjust="spacingAndGlyphs" fill="#000">60</text>
<text x="1777.5" y="415.3" font-size="22.07" text-anchor="middle" transform="rotate(-90 1777.5 415.3)" textLength="282" lengthAdjust="spacingAndGlyphs">Dipole Voltage 20<tspan font-style="italic">log</tspan>(<tspan font-style="italic">μV</tspan><tspan font-style="italic" font-size="15.45" dy="4">B</tspan><tspan font-style="italic" dy="-4">S</tspan>)</text>
<text x="106.00" y="730.80" font-size="22.07" text-anchor="end" textLength="28.25" lengthAdjust="spacingAndGlyphs" fill="#000">UT</text>
<text x="106.00" y="751.60" font-size="22.07" text-anchor="end" textLength="87.12" lengthAdjust="spacingAndGlyphs" fill="#000">Geo. Lat</text>
<text x="106.00" y="772.40" font-size="22.07" text-anchor="end" textLength="91.75" lengthAdjust="spacingAndGlyphs" fill="#000">Geo. Lon</text>
<text x="106.00" y="793.20" font-size="22.07" text-anchor="end" textLength="83.38" lengthAdjust="spacingAndGlyphs" fill="#000">Alt (km)</text>
<text x="106.00" y="814.00" font-size="22.07" text-anchor="end" textLength="89.62" lengthAdjust="spacingAndGlyphs" fill="#000">Mag. Lat</text>
<text x="106.00" y="834.80" font-size="22.07" text-anchor="end" textLength="94.25" lengthAdjust="spacingAndGlyphs" fill="#000">Mag. Lon</text>
<text x="106.00" y="855.60" font-size="22.07" text-anchor="end" textLength="95.00" lengthAdjust="spacingAndGlyphs" fill="#000">MLT (hrs)</text>
<text x="195.20" y="730.80" font-size="22.07" text-anchor="middle" textLength="93.50" lengthAdjust="spacingAndGlyphs" fill="#000">18:56:14</text>
<text x="195.20" y="751.60" font-size="22.07" text-anchor="middle" textLength="59.62" lengthAdjust="spacingAndGlyphs" fill="#000">75.34</text>
<text x="195.20" y="772.40" font-size="22.07" text-anchor="middle" textLength="80.62" lengthAdjust="spacingAndGlyphs" fill="#000">-106.76</text>
<text x="195.20" y="793.20" font-size="22.07" text-anchor="middle" textLength="86.25" lengthAdjust="spacingAndGlyphs" fill="#000">1274.97</text>
<text x="195.20" y="814.00" font-size="22.07" text-anchor="middle" textLength="59.50" lengthAdjust="spacingAndGlyphs" fill="#000">81.37</text>
<text x="195.20" y="834.80" font-size="22.07" text-anchor="middle" textLength="67.00" lengthAdjust="spacingAndGlyphs" fill="#000">-72.18</text>
<text x="195.20" y="855.60" font-size="22.07" text-anchor="middle" textLength="46.50" lengthAdjust="spacingAndGlyphs" fill="#000">8.99</text>
<text x="437.00" y="730.80" font-size="22.07" text-anchor="middle" textLength="93.50" lengthAdjust="spacingAndGlyphs" fill="#000">18:56:54</text>
<text x="437.00" y="751.60" font-size="22.07" text-anchor="middle" textLength="59.75" lengthAdjust="spacingAndGlyphs" fill="#000">73.64</text>
<text x="437.00" y="772.40" font-size="22.07" text-anchor="middle" textLength="80.38" lengthAdjust="spacingAndGlyphs" fill="#000">-102.34</text>
<text x="437.00" y="793.20" font-size="22.07" text-anchor="middle" textLength="86.38" lengthAdjust="spacingAndGlyphs" fill="#000">1263.39</text>
<text x="437.00" y="814.00" font-size="22.07" text-anchor="middle" textLength="59.62" lengthAdjust="spacingAndGlyphs" fill="#000">80.64</text>
<text x="437.00" y="834.80" font-size="22.07" text-anchor="middle" textLength="67.25" lengthAdjust="spacingAndGlyphs" fill="#000">-59.68</text>
<text x="437.00" y="855.60" font-size="22.07" text-anchor="middle" textLength="46.38" lengthAdjust="spacingAndGlyphs" fill="#000">9.83</text>
<text x="678.80" y="730.80" font-size="22.07" text-anchor="middle" textLength="93.38" lengthAdjust="spacingAndGlyphs" fill="#000">18:57:33</text>
<text x="678.80" y="751.60" font-size="22.07" text-anchor="middle" textLength="59.75" lengthAdjust="spacingAndGlyphs" fill="#000">71.90</text>
<text x="678.80" y="772.40" font-size="22.07" text-anchor="middle" textLength="67.00" lengthAdjust="spacingAndGlyphs" fill="#000">-98.84</text>
<text x="678.80" y="793.20" font-size="22.07" text-anchor="middle" textLength="86.12" lengthAdjust="spacingAndGlyphs" fill="#000">1251.44</text>
<text x="678.80" y="814.00" font-size="22.07" text-anchor="middle" textLength="59.75" lengthAdjust="spacingAndGlyphs" fill="#000">79.57</text>
<text x="678.80" y="834.80" font-size="22.07" text-anchor="middle" textLength="67.38" lengthAdjust="spacingAndGlyphs" fill="#000">-49.62</text>
<text x="678.80" y="855.60" font-size="22.07" text-anchor="middle" textLength="59.62" lengthAdjust="spacingAndGlyphs" fill="#000">10.51</text>
<text x="920.60" y="730.80" font-size="22.07" text-anchor="middle" textLength="93.25" lengthAdjust="spacingAndGlyphs" fill="#000">18:58:13</text>
<text x="920.60" y="751.60" font-size="22.07" text-anchor="middle" textLength="59.62" lengthAdjust="spacingAndGlyphs" fill="#000">70.05</text>
<text x="920.60" y="772.40" font-size="22.07" text-anchor="middle" textLength="67.38" lengthAdjust="spacingAndGlyphs" fill="#000">-95.90</text>
<text x="920.60" y="793.20" font-size="22.07" text-anchor="middle" textLength="86.00" lengthAdjust="spacingAndGlyphs" fill="#000">1238.53</text>
<text x="920.60" y="814.00" font-size="22.07" text-anchor="middle" textLength="59.62" lengthAdjust="spacingAndGlyphs" fill="#000">78.19</text>
<text x="920.60" y="834.80" font-size="22.07" text-anchor="middle" textLength="67.12" lengthAdjust="spacingAndGlyphs" fill="#000">-41.44</text>
<text x="920.60" y="855.60" font-size="22.07" text-anchor="middle" textLength="59.62" lengthAdjust="spacingAndGlyphs" fill="#000">11.07</text>
<text x="1162.40" y="730.80" font-size="22.07" text-anchor="middle" textLength="93.25" lengthAdjust="spacingAndGlyphs" fill="#000">18:58:52</text>
<text x="1162.40" y="751.60" font-size="22.07" text-anchor="middle" textLength="59.62" lengthAdjust="spacingAndGlyphs" fill="#000">68.20</text>
<text x="1162.40" y="772.40" font-size="22.07" text-anchor="middle" textLength="67.25" lengthAdjust="spacingAndGlyphs" fill="#000">-93.53</text>
<text x="1162.40" y="793.20" font-size="22.07" text-anchor="middle" textLength="86.12" lengthAdjust="spacingAndGlyphs" fill="#000">1225.31</text>
<text x="1162.40" y="814.00" font-size="22.07" text-anchor="middle" textLength="59.88" lengthAdjust="spacingAndGlyphs" fill="#000">76.65</text>
<text x="1162.40" y="834.80" font-size="22.07" text-anchor="middle" textLength="67.12" lengthAdjust="spacingAndGlyphs" fill="#000">-35.21</text>
<text x="1162.40" y="855.60" font-size="22.07" text-anchor="middle" textLength="59.62" lengthAdjust="spacingAndGlyphs" fill="#000">11.50</text>
<text x="1404.20" y="730.80" font-size="22.07" text-anchor="middle" textLength="93.50" lengthAdjust="spacingAndGlyphs" fill="#000">18:59:32</text>
<text x="1404.20" y="751.60" font-size="22.07" text-anchor="middle" textLength="59.88" lengthAdjust="spacingAndGlyphs" fill="#000">66.25</text>
<text x="1404.20" y="772.40" font-size="22.07" text-anchor="middle" textLength="67.12" lengthAdjust="spacingAndGlyphs" fill="#000">-91.48</text>
<text x="1404.20" y="793.20" font-size="22.07" text-anchor="middle" textLength="86.12" lengthAdjust="spacingAndGlyphs" fill="#000">1211.12</text>
<text x="1404.20" y="814.00" font-size="22.07" text-anchor="middle" textLength="59.75" lengthAdjust="spacingAndGlyphs" fill="#000">74.94</text>
<text x="1404.20" y="834.80" font-size="22.07" text-anchor="middle" textLength="67.12" lengthAdjust="spacingAndGlyphs" fill="#000">-30.20</text>
<text x="1404.20" y="855.60" font-size="22.07" text-anchor="middle" textLength="59.50" lengthAdjust="spacingAndGlyphs" fill="#000">11.84</text>
<text x="1646.00" y="730.80" font-size="22.07" text-anchor="middle" textLength="93.62" lengthAdjust="spacingAndGlyphs" fill="#000">19:00:11</text>
<text x="1646.00" y="751.60" font-size="22.07" text-anchor="middle" textLength="59.75" lengthAdjust="spacingAndGlyphs" fill="#000">64.27</text>
<text x="1646.00" y="772.40" font-size="22.07" text-anchor="middle" textLength="67.12" lengthAdjust="spacingAndGlyphs" fill="#000">-89.74</text>
<text x="1646.00" y="793.20" font-size="22.07" text-anchor="middle" textLength="86.38" lengthAdjust="spacingAndGlyphs" fill="#000">1196.32</text>
<text x="1646.00" y="814.00" font-size="22.07" text-anchor="middle" textLength="59.62" lengthAdjust="spacingAndGlyphs" fill="#000">73.12</text>
<text x="1646.00" y="834.80" font-size="22.07" text-anchor="middle" textLength="67.25" lengthAdjust="spacingAndGlyphs" fill="#000">-26.23</text>
<text x="1646.00" y="855.60" font-size="22.07" text-anchor="middle" textLength="59.62" lengthAdjust="spacingAndGlyphs" fill="#000">12.12</text>
<rect x="108.0" y="872.4" width="918.0" height="161.89999999999998" fill="#fff" stroke="#000" stroke-width="1.67"/>
<line x1="100.7" y1="908.38" x2="108.0" y2="908.38" stroke="#000" stroke-width="1.67"/>
<text x="93.40" y="915.98" font-size="22.07" text-anchor="end" textLength="39.75" lengthAdjust="spacingAndGlyphs" fill="#000">100</text>
<line x1="100.7" y1="953.35" x2="108.0" y2="953.35" stroke="#000" stroke-width="1.67"/>
<text x="93.40" y="960.95" font-size="22.07" text-anchor="end" textLength="13.25" lengthAdjust="spacingAndGlyphs" fill="#000">0</text>
<line x1="100.7" y1="998.32" x2="108.0" y2="998.32" stroke="#000" stroke-width="1.67"/>
<text x="93.40" y="1005.92" font-size="22.07" text-anchor="end" textLength="57.25" lengthAdjust="spacingAndGlyphs" fill="#000">−100</text>
<text x="23.10" y="955.00" font-size="22.07" text-anchor="middle" textLength="121.62" lengthAdjust="spacingAndGlyphs" fill="#000" transform="rotate(-90 23.10 955.00)">Angle (deg)</text>
<line x1="108.00" y1="1034.3" x2="108.00" y2="1041.6" stroke="#000" stroke-width="1.67"/>
<text x="108.00" y="1063.90" font-size="22.07" text-anchor="middle" textLength="93.50" lengthAdjust="spacingAndGlyphs" fill="#000">18:56:14</text>
<line x1="261.00" y1="1034.3" x2="261.00" y2="1041.6" stroke="#000" stroke-width="1.67"/>
<text x="261.00" y="1063.90" font-size="22.07" text-anchor="middle" textLength="93.50" lengthAdjust="spacingAndGlyphs" fill="#000">18:56:54</text>
<line x1="414.00" y1="1034.3" x2="414.00" y2="1041.6" stroke="#000" stroke-width="1.67"/>
<text x="414.00" y="1063.90" font-size="22.07" text-anchor="middle" textLength="93.38" lengthAdjust="spacingAndGlyphs" fill="#000">18:57:33</text>
<line x1="567.00" y1="1034.3" x2="567.00" y2="1041.6" stroke="#000" stroke-width="1.67"/>
<text x="567.00" y="1063.90" font-size="22.07" text-anchor="middle" textLength="93.25" lengthAdjust="spacingAndGlyphs" fill="#000">18:58:13</text>
<line x1="720.00" y1="1034.3" x2="720.00" y2="1041.6" stroke="#000" stroke-width="1.67"/>
<text x="720.00" y="1063.90" font-size="22.07" text-anchor="middle" textLength="93.25" lengthAdjust="spacingAndGlyphs" fill="#000">18:58:52</text>
<line x1="873.00" y1="1034.3" x2="873.00" y2="1041.6" stroke="#000" stroke-width="1.67"/>
<text x="873.00" y="1063.90" font-size="22.07" text-anchor="middle" textLength="93.50" lengthAdjust="spacingAndGlyphs" fill="#000">18:59:32</text>
<line x1="1026.00" y1="1034.3" x2="1026.00" y2="1041.6" stroke="#000" stroke-width="1.67"/>
<text x="1026.00" y="1063.90" font-size="22.07" text-anchor="middle" textLength="93.62" lengthAdjust="spacingAndGlyphs" fill="#000">19:00:11</text>
<line x1="108.0" y1="953.95" x2="1026.0" y2="953.95" stroke="#0000ff" stroke-width="3.1"/>
<line x1="108.0" y1="953.95" x2="1026.0" y2="953.95" stroke="#ff0000" stroke-width="3.1" stroke-dasharray="11.5 5"/>
<line x1="108.0" y1="953.45" x2="1026.0" y2="953.45" stroke="#008000" stroke-width="3.1" stroke-dasharray="3 5"/>
<rect x="405" y="881" width="323" height="28" rx="3" fill="#fff" fill-opacity="0.8" stroke="#cccccc" stroke-width="1.67"/>
<line x1="411" y1="894.5" x2="447" y2="894.5" stroke="#0000ff" stroke-width="3.1"/>
<line x1="524" y1="894.5" x2="556" y2="894.5" stroke="#ff0000" stroke-width="3.1" stroke-dasharray="11.5 5"/>
<line x1="644" y1="894.5" x2="680" y2="894.5" stroke="#008000" stroke-width="3.1" stroke-dasharray="3 5"/>
<text x="460.00" y="900.50" font-size="17.66" text-anchor="start" textLength="31.62" lengthAdjust="spacingAndGlyphs" fill="#000">Yaw</text>
<text x="571.30" y="900.50" font-size="17.66" text-anchor="start" textLength="40.50" lengthAdjust="spacingAndGlyphs" fill="#000">Pitch</text>
<text x="692.00" y="900.50" font-size="17.66" text-anchor="start" textLength="30.25" lengthAdjust="spacingAndGlyphs" fill="#000">Roll</text>
<text x="18.20" y="1091.20" font-size="17.66" text-anchor="start" textLength="135.50" lengthAdjust="spacingAndGlyphs" fill="#000">Attitude = Nadir</text>
<text x="18.20" y="1115.80" font-size="17.66" text-anchor="start" textLength="259.25" lengthAdjust="spacingAndGlyphs" fill="#000">Experiment = RISR Transmitter</text>
<text x="18.20" y="1140.10" font-size="17.66" text-anchor="start" textLength="465.75" lengthAdjust="spacingAndGlyphs" fill="#000">Gain 1 - High, Gain 2 - High, Gain 3 - High, Gain 4 - High</text>
<text x="18.20" y="1164.30" font-size="17.66" text-anchor="start" textLength="573.62" lengthAdjust="spacingAndGlyphs" fill="#000">Inputs: Channel 1 - I1, Channel 2 - Q1, Channel 3 - I3, Channel 4 - Q3</text>
<text x="738.30" y="1115.80" font-size="17.66" text-anchor="start" textLength="314.38" lengthAdjust="spacingAndGlyphs" fill="#000">Number of points per spectrum: 5208</text>
<text x="738.30" y="1140.10" font-size="17.66" text-anchor="start" textLength="103.50" lengthAdjust="spacingAndGlyphs" fill="#000">Dipole Mode</text>
<defs><clipPath id="mapclip"><path d="M1111.4,1139.6 C1111.6,1136.2 1111.6,1126.9 1112.3,1119.2 C1113.0,1111.5 1114.1,1102.0 1115.5,1093.4 C1116.9,1084.8 1118.3,1076.1 1120.7,1067.5 C1123.1,1058.9 1126.1,1050.3 1129.7,1041.7 C1133.3,1033.1 1137.9,1024.4 1142.6,1015.8 C1147.3,1007.2 1153.2,997.6 1158.1,990.0 C1163.0,982.4 1166.7,976.7 1172.0,970.0 C1177.3,963.3 1183.7,956.3 1190.0,949.7 C1196.3,943.1 1203.2,936.4 1210.0,930.5 C1216.8,924.6 1222.6,919.7 1231.0,914.5 C1239.4,909.3 1250.4,903.8 1260.5,899.2 C1270.6,894.6 1281.2,890.3 1291.6,886.8 C1302.0,883.3 1312.3,880.3 1322.7,878.2 C1333.1,876.1 1344.0,875.3 1353.8,874.3 C1363.6,873.3 1377.1,872.7 1381.8,872.4 L1646.5,872.4 L1646.5,1139.6 Z"/></clipPath><filter id="soft" x="-20%" y="-20%" width="140%" height="140%"><feGaussianBlur stdDeviation="4"/></filter><filter id="soft1" x="-5%" y="-5%" width="110%" height="110%"><feGaussianBlur stdDeviation="0.7"/></filter><filter id="soft2" x="-10%" y="-10%" width="120%" height="120%"><feGaussianBlur stdDeviation="2"/></filter><linearGradient id="ocean" x1="0" y1="0" x2="0" y2="1"><stop offset="0" stop-color="#7eb3d8"/><stop offset="0.3" stop-color="#76aad0"/><stop offset="1" stop-color="#6fa1c7"/></linearGradient><radialGradient id="grl" cx="0.55" cy="0.4" r="0.6"><stop offset="0" stop-color="#f6f8fb"/><stop offset="0.7" stop-color="#eef1f6"/><stop offset="1" stop-color="#d9dee4"/></radialGradient><clipPath id="naclip"><path d="M1223.9,964.8 L1220.3,961.2 L1220.3,956.9 L1227.5,953.3 L1236.2,951.1 L1240.5,947.5 L1227.5,946.8 L1226.1,944.6 L1237.7,936.7 L1247.8,931.6 L1262.2,928.7 L1271.6,927.6 L1280.3,929.4 L1291.1,931.6 L1305.5,933.0 L1320.0,932.7 L1340.0,933.0 L1350.0,933.0 L1365.0,938.0 L1380.0,940.0 L1390.0,936.0 L1400.0,936.0 L1405.0,940.0 L1412.0,944.0 L1418.0,948.0 L1424.0,946.0 L1430.0,950.0 L1436.0,954.0 L1445.0,955.0 L1455.0,957.0 L1462.0,956.3 L1465.3,964.3 L1476.4,961.1 L1482.8,970.6 L1493.8,980.1 L1492.3,988.0 L1478.0,1000.7 L1463.8,1008.6 L1455.8,1010.2 L1440.0,1018.1 L1436.7,1020.0 L1432.2,1026.7 L1426.7,1036.7 L1418.9,1044.4 L1412.2,1053.3 L1413.3,1062.2 L1411.1,1064.4 L1407.8,1057.8 L1405.6,1052.2 L1397.8,1051.7 L1388.9,1051.1 L1380.0,1052.2 L1368.9,1054.4 L1363.3,1058.9 L1361.1,1072.2 L1362.2,1082.2 L1366.7,1086.7 L1377.8,1086.7 L1382.2,1077.8 L1391.1,1076.1 L1386.7,1086.7 L1391.1,1091.1 L1398.9,1095.6 L1400.0,1106.7 L1407.8,1111.1 L1415.6,1113.3 L1413.3,1116.7 L1405.6,1117.8 L1396.7,1112.2 L1388.9,1107.8 L1380.0,1102.2 L1368.9,1095.6 L1357.8,1092.2 L1346.7,1088.9 L1337.8,1082.2 L1336.7,1075.6 L1330.0,1064.4 L1322.2,1053.3 L1317.8,1048.9 L1322.2,1062.2 L1324.4,1071.1 L1316.7,1062.2 L1312.2,1053.3 L1310.0,1043.3 L1305.6,1036.7 L1300.0,1030.0 L1297.3,1022.0 L1298.7,1013.3 L1304.0,1002.7 L1306.7,994.7 L1300.0,986.7 L1294.7,976.4 L1291.1,969.9 L1287.5,965.5 L1280.3,961.9 L1269.4,959.8 L1262.2,957.6 L1255.0,956.9 L1247.8,959.0 L1240.5,961.2 L1233.3,962.7 Z"/></clipPath></defs><g clip-path="url(#mapclip)"><rect x="1100" y="860" width="560" height="290" fill="url(#ocean)"/><g filter="url(#soft1)"><path d="M1223.9,964.8 L1220.3,961.2 L1220.3,956.9 L1227.5,953.3 L1236.2,951.1 L1240.5,947.5 L1227.5,946.8 L1226.1,944.6 L1237.7,936.7 L1247.8,931.6 L1262.2,928.7 L1271.6,927.6 L1280.3,929.4 L1291.1,931.6 L1305.5,933.0 L1320.0,932.7 L1340.0,933.0 L1350.0,933.0 L1365.0,938.0 L1380.0,940.0 L1390.0,936.0 L1400.0,936.0 L1405.0,940.0 L1412.0,944.0 L1418.0,948.0 L1424.0,946.0 L1430.0,950.0 L1436.0,954.0 L1445.0,955.0 L1455.0,957.0 L1462.0,956.3 L1465.3,964.3 L1476.4,961.1 L1482.8,970.6 L1493.8,980.1 L1492.3,988.0 L1478.0,1000.7 L1463.8,1008.6 L1455.8,1010.2 L1440.0,1018.1 L1436.7,1020.0 L1432.2,1026.7 L1426.7,1036.7 L1418.9,1044.4 L1412.2,1053.3 L1413.3,1062.2 L1411.1,1064.4 L1407.8,1057.8 L1405.6,1052.2 L1397.8,1051.7 L1388.9,1051.1 L1380.0,1052.2 L1368.9,1054.4 L1363.3,1058.9 L1361.1,1072.2 L1362.2,1082.2 L1366.7,1086.7 L1377.8,1086.7 L1382.2,1077.8 L1391.1,1076.1 L1386.7,1086.7 L1391.1,1091.1 L1398.9,1095.6 L1400.0,1106.7 L1407.8,1111.1 L1415.6,1113.3 L1413.3,1116.7 L1405.6,1117.8 L1396.7,1112.2 L1388.9,1107.8 L1380.0,1102.2 L1368.9,1095.6 L1357.8,1092.2 L1346.7,1088.9 L1337.8,1082.2 L1336.7,1075.6 L1330.0,1064.4 L1322.2,1053.3 L1317.8,1048.9 L1322.2,1062.2 L1324.4,1071.1 L1316.7,1062.2 L1312.2,1053.3 L1310.0,1043.3 L1305.6,1036.7 L1300.0,1030.0 L1297.3,1022.0 L1298.7,1013.3 L1304.0,1002.7 L1306.7,994.7 L1300.0,986.7 L1294.7,976.4 L1291.1,969.9 L1287.5,965.5 L1280.3,961.9 L1269.4,959.8 L1262.2,957.6 L1255.0,956.9 L1247.8,959.0 L1240.5,961.2 L1233.3,962.7 Z" fill="#c6d1b0"/></g><g clip-path="url(#naclip)"><g filter="url(#soft)"><path d="M1250.0,960.0 L1290.0,950.0 L1340.0,955.0 L1390.0,962.0 L1440.0,975.0 L1470.0,985.0 L1460.0,1000.0 L1420.0,992.0 L1383.0,985.0 L1340.0,975.0 L1300.0,972.0 L1280.0,968.0 Z" fill="#b9c9a6"/><path d="M1236.0,934.0 L1272.0,926.0 L1320.0,931.0 L1380.0,938.0 L1420.0,944.0 L1440.0,952.0 L1462.0,955.0 L1470.0,962.0 L1460.0,966.0 L1444.0,960.0 L1440.0,955.0 L1410.0,958.0 L1399.0,961.0 L1366.0,952.0 L1334.0,946.0 L1300.0,941.0 L1270.0,944.0 L1250.0,950.0 L1232.0,956.0 Z" fill="#dfe0d6"/><path d="M1222.0,962.0 L1219.0,955.0 L1226.0,944.0 L1238.0,936.0 L1260.0,934.0 L1262.0,945.0 L1250.0,955.0 L1232.0,963.0 Z" fill="#d6dacb"/><path d="M1336.0,977.0 L1383.0,978.0 L1384.0,1005.0 L1420.0,1008.0 L1430.0,1030.0 L1418.0,1046.0 L1400.0,1052.0 L1368.0,1054.0 L1350.0,1060.0 L1340.0,1050.0 L1338.0,1020.0 L1334.0,1000.0 Z" fill="#e7e6bf"/><path d="M1383.0,990.0 L1420.0,985.0 L1445.0,995.0 L1455.0,1010.0 L1440.0,1020.0 L1425.0,1040.0 L1412.0,1052.0 L1395.0,1048.0 L1385.0,1035.0 L1390.0,1010.0 Z" fill="#d6dcae"/><path d="M1300.0,1000.0 L1318.0,990.0 L1336.0,995.0 L1340.0,1030.0 L1345.0,1060.0 L1335.0,1070.0 L1315.0,1050.0 L1302.0,1030.0 Z" fill="#dcd3b8"/><path d="M1322.0,1053.0 L1345.0,1060.0 L1362.0,1062.0 L1362.0,1082.0 L1340.0,1085.0 L1330.0,1064.0 Z" fill="#dcd8b0"/><path d="M1440.0,960.0 L1465.0,962.0 L1480.0,972.0 L1490.0,985.0 L1470.0,990.0 L1450.0,985.0 L1440.0,975.0 Z" fill="#d8dcc8"/></g></g><g filter="url(#soft1)"><path d="M1416.0,949.5 L1412.0,953.5 L1405.0,957.0 L1399.0,963.0 L1400.0,965.0 L1405.0,967.0 L1412.0,969.0 L1420.0,972.0 L1425.0,975.0 L1426.0,980.0 L1428.0,986.5 L1430.5,986.5 L1432.0,980.0 L1434.0,976.0 L1438.0,974.0 L1442.0,970.0 L1443.0,965.0 L1441.0,960.0 L1436.0,956.0 L1430.0,953.0 L1424.0,950.0 Z" fill="#74a9d0"/><path d="M1246,965.5 Q1228,973 1206.6,978" fill="none" stroke="#d8dccc" stroke-width="1.4" stroke-dasharray="2.5 2" opacity="0.55"/><path d="M1348.0,925.0 L1360.0,919.0 L1373.0,920.0 L1382.0,924.0 L1396.0,922.0 L1400.0,927.0 L1396.0,934.0 L1383.0,936.0 L1370.0,936.0 L1360.0,928.0 L1350.0,927.0 Z" fill="#dcddd6"/><path d="M1368.0,913.0 L1380.0,910.0 L1392.0,908.0 L1404.0,906.0 L1400.0,914.0 L1388.0,917.0 L1378.0,916.0 Z" fill="#dcddd6"/><path d="M1437.6,902.1 L1457.7,895.9 L1482.8,894.0 L1507.9,894.0 L1516.7,895.2 L1501.6,901.5 L1482.8,903.4 L1463.9,904.6 L1445.1,905.9 L1436.3,904.6 Z" fill="#dcddd6"/><path d="M1432.6,922.2 L1451.4,922.2 L1470.2,926.0 L1482.8,932.3 L1480.3,937.3 L1463.9,934.8 L1451.4,938.5 L1436.3,942.3 L1427.5,939.8 L1422.5,930.9 Z" fill="#dcddd6"/><path d="M1418.0,928.0 L1428.0,926.0 L1432.0,933.0 L1428.0,941.0 L1420.0,944.0 L1414.0,938.0 Z" fill="#dcddd6"/><path d="M1197.0,941.0 L1204.0,936.5 L1214.0,937.0 L1222.0,941.0 L1216.0,946.0 L1206.0,947.5 L1199.0,946.0 Z" fill="#dcddd6"/><path d="M1501.6,900.9 L1517.9,895.9 L1545.5,893.3 L1570.7,890.8 L1595.8,892.1 L1618.4,895.9 L1620.9,898.4 L1602.0,900.9 L1599.5,909.7 L1593.3,919.7 L1592.0,927.2 L1583.2,932.3 L1570.7,934.8 L1558.1,938.5 L1545.5,947.3 L1535.5,957.4 L1530.5,959.9 L1525.5,957.4 L1520.4,947.3 L1517.9,934.8 L1515.4,924.7 L1515.4,915.9 L1507.9,908.4 L1501.6,904.6 Z" fill="url(#grl)"/><path d="M1587.0,943.6 L1598.3,941.7 L1610.8,944.8 L1605.8,949.2 L1593.3,949.8 Z" fill="#dfe2d8"/><path d="M1484.3,992.8 L1493.8,991.2 L1500.2,997.5 L1492.3,999.1 L1485.9,997.5 Z" fill="#cdd6b0"/><path d="M1398.9,1073.3 L1407.8,1071.1 L1418.9,1075.6 L1426.7,1080.0 L1418.9,1080.0 L1407.8,1075.6 Z" fill="#cfd4a8"/><path d="M1431.1,1082.2 L1444.4,1083.3 L1437.8,1086.7 L1428.9,1085.6 Z" fill="#cfd4a8"/><path d="M1408.9,1140.0 L1415.6,1120.0 L1422.2,1111.1 L1433.3,1103.3 L1441.1,1107.8 L1452.2,1108.9 L1463.3,1110.0 L1474.4,1115.0 L1480.0,1118.0 L1492.3,1127.4 L1497.0,1136.9 L1499.0,1140.0 Z" fill="#d4d8a6"/><path d="M1650.0,1032.0 L1644.3,1033.9 L1630.0,1038.7 L1620.6,1048.2 L1607.9,1057.7 L1598.4,1070.4 L1596.8,1081.5 L1596.8,1092.5 L1598.4,1102.0 L1606.3,1111.5 L1617.4,1121.0 L1630.0,1125.8 L1644.3,1124.2 L1650.0,1124.0 Z" fill="#e9d9bf"/><path d="M1596.8,1092.5 L1598.4,1102.0 L1606.3,1111.5 L1617.4,1121.0 L1630.0,1125.8 L1650.0,1124.0 L1650.0,1095.0 L1620.0,1092.0 Z" fill="#e2dcaa"/><path d="M1620.6,1011.8 L1630.0,1010.2 L1650.0,1008.6 L1650.0,1029.2 L1630.0,1030.8 L1622.1,1027.6 L1619.0,1021.3 Z" fill="#dedba8"/><path d="M1619.0,980.1 L1628.5,975.3 L1630.0,981.7 L1622.1,985.6 Z" fill="#d6d8a4"/><path d="M1631.6,969.0 L1639.6,965.8 L1650.0,973.8 L1650.0,989.6 L1634.8,989.6 L1638.0,981.7 L1633.2,975.3 Z" fill="#d8d9a8"/><path d="M1634.8,996.0 L1650.0,993.0 L1650.0,1006.0 L1640.0,1004.0 Z" fill="#dcdca8"/></g></g><path d="M1111.4,1139.6 C1111.6,1136.2 1111.6,1126.9 1112.3,1119.2 C1113.0,1111.5 1114.1,1102.0 1115.5,1093.4 C1116.9,1084.8 1118.3,1076.1 1120.7,1067.5 C1123.1,1058.9 1126.1,1050.3 1129.7,1041.7 C1133.3,1033.1 1137.9,1024.4 1142.6,1015.8 C1147.3,1007.2 1153.2,997.6 1158.1,990.0 C1163.0,982.4 1166.7,976.7 1172.0,970.0 C1177.3,963.3 1183.7,956.3 1190.0,949.7 C1196.3,943.1 1203.2,936.4 1210.0,930.5 C1216.8,924.6 1222.6,919.7 1231.0,914.5 C1239.4,909.3 1250.4,903.8 1260.5,899.2 C1270.6,894.6 1281.2,890.3 1291.6,886.8 C1302.0,883.3 1312.3,880.3 1322.7,878.2 C1333.1,876.1 1344.0,875.3 1353.8,874.3 C1363.6,873.3 1377.1,872.7 1381.8,872.4 L1646.5,872.4 L1646.5,1139.6 Z" fill="none" stroke="#000" stroke-width="1.67"/>
<line x1="1400" y1="916" x2="1403.5" y2="918" stroke="#ff1000" stroke-width="4.2" stroke-linecap="round"/><line x1="1403.5" y1="918" x2="1407" y2="921.5" stroke="#ff8000" stroke-width="4.2" stroke-linecap="round"/><line x1="1407" y1="921.5" x2="1410.5" y2="925.5" stroke="#ffe000" stroke-width="4.2" stroke-linecap="round"/><line x1="1410.5" y1="925.5" x2="1413.5" y2="930.5" stroke="#80ff00" stroke-width="4.2" stroke-linecap="round"/><line x1="1413.5" y1="930.5" x2="1416" y2="936" stroke="#00c040" stroke-width="4.2" stroke-linecap="round"/><line x1="1416" y1="936" x2="1417.7" y2="941.5" stroke="#0a6878" stroke-width="4.2" stroke-linecap="round"/><line x1="1417.7" y1="941.5" x2="1418.8" y2="946" stroke="#0010ff" stroke-width="4.2" stroke-linecap="round"/><line x1="1418.8" y1="946" x2="1419.2" y2="949" stroke="#8a2cff" stroke-width="4.2" stroke-linecap="round"/>
<text x="1413.60" y="921.20" font-size="22.07" text-anchor="start" textLength="128.38" lengthAdjust="spacingAndGlyphs" fill="#000">18:56:14 UT</text>
<text x="1433.80" y="954.30" font-size="22.07" text-anchor="start" textLength="128.50" lengthAdjust="spacingAndGlyphs" fill="#000">19:00:11 UT</text>
<defs><linearGradient id="alt" x1="0" y1="0" x2="0" y2="1"><stop offset="0.000" stop-color="#ff0800"/><stop offset="0.130" stop-color="#ff8000"/><stop offset="0.254" stop-color="#ffff00"/><stop offset="0.350" stop-color="#90ff00"/><stop offset="0.437" stop-color="#00ff00"/><stop offset="0.520" stop-color="#00c038"/><stop offset="0.600" stop-color="#088a60"/><stop offset="0.670" stop-color="#0850a0"/><stop offset="0.757" stop-color="#0000ff"/><stop offset="0.900" stop-color="#5a24ff"/><stop offset="1.000" stop-color="#8c2cff"/></linearGradient></defs>
<rect x="1698.2" y="872.4" width="13.00" height="266.90" fill="url(#alt)" stroke="#000" stroke-width="1.67"/>
<line x1="1711.2" y1="1122.90" x2="1718.5" y2="1122.90" stroke="#000" stroke-width="1.67"/>
<text x="1725.80" y="1129.00" font-size="17.66" text-anchor="start" textLength="42.25" lengthAdjust="spacingAndGlyphs" fill="#000">1200</text>
<line x1="1711.2" y1="1089.51" x2="1718.5" y2="1089.51" stroke="#000" stroke-width="1.67"/>
<text x="1725.80" y="1095.61" font-size="17.66" text-anchor="start" textLength="42.38" lengthAdjust="spacingAndGlyphs" fill="#000">1210</text>
<line x1="1711.2" y1="1056.13" x2="1718.5" y2="1056.13" stroke="#000" stroke-width="1.67"/>
<text x="1725.80" y="1062.23" font-size="17.66" text-anchor="start" textLength="42.38" lengthAdjust="spacingAndGlyphs" fill="#000">1220</text>
<line x1="1711.2" y1="1022.74" x2="1718.5" y2="1022.74" stroke="#000" stroke-width="1.67"/>
<text x="1725.80" y="1028.84" font-size="17.66" text-anchor="start" textLength="42.38" lengthAdjust="spacingAndGlyphs" fill="#000">1230</text>
<line x1="1711.2" y1="989.36" x2="1718.5" y2="989.36" stroke="#000" stroke-width="1.67"/>
<text x="1725.80" y="995.46" font-size="17.66" text-anchor="start" textLength="42.25" lengthAdjust="spacingAndGlyphs" fill="#000">1240</text>
<line x1="1711.2" y1="955.97" x2="1718.5" y2="955.97" stroke="#000" stroke-width="1.67"/>
<text x="1725.80" y="962.07" font-size="17.66" text-anchor="start" textLength="42.25" lengthAdjust="spacingAndGlyphs" fill="#000">1250</text>
<line x1="1711.2" y1="922.59" x2="1718.5" y2="922.59" stroke="#000" stroke-width="1.67"/>
<text x="1725.80" y="928.69" font-size="17.66" text-anchor="start" textLength="42.25" lengthAdjust="spacingAndGlyphs" fill="#000">1260</text>
<line x1="1711.2" y1="889.20" x2="1718.5" y2="889.20" stroke="#000" stroke-width="1.67"/>
<text x="1725.80" y="895.30" font-size="17.66" text-anchor="start" textLength="42.25" lengthAdjust="spacingAndGlyphs" fill="#000">1270</text>
<text x="1791.50" y="1008.30" font-size="22.07" text-anchor="middle" textLength="136.62" lengthAdjust="spacingAndGlyphs" fill="#000" transform="rotate(-90 1791.50 1008.30)">Altitude (km)</text>
<text x="1766.50" y="1184.80" font-size="22.07" text-anchor="end" textLength="291.25" lengthAdjust="spacingAndGlyphs" fill="#000">Produced by rri_ql version 4</text></svg></div></body></html>
